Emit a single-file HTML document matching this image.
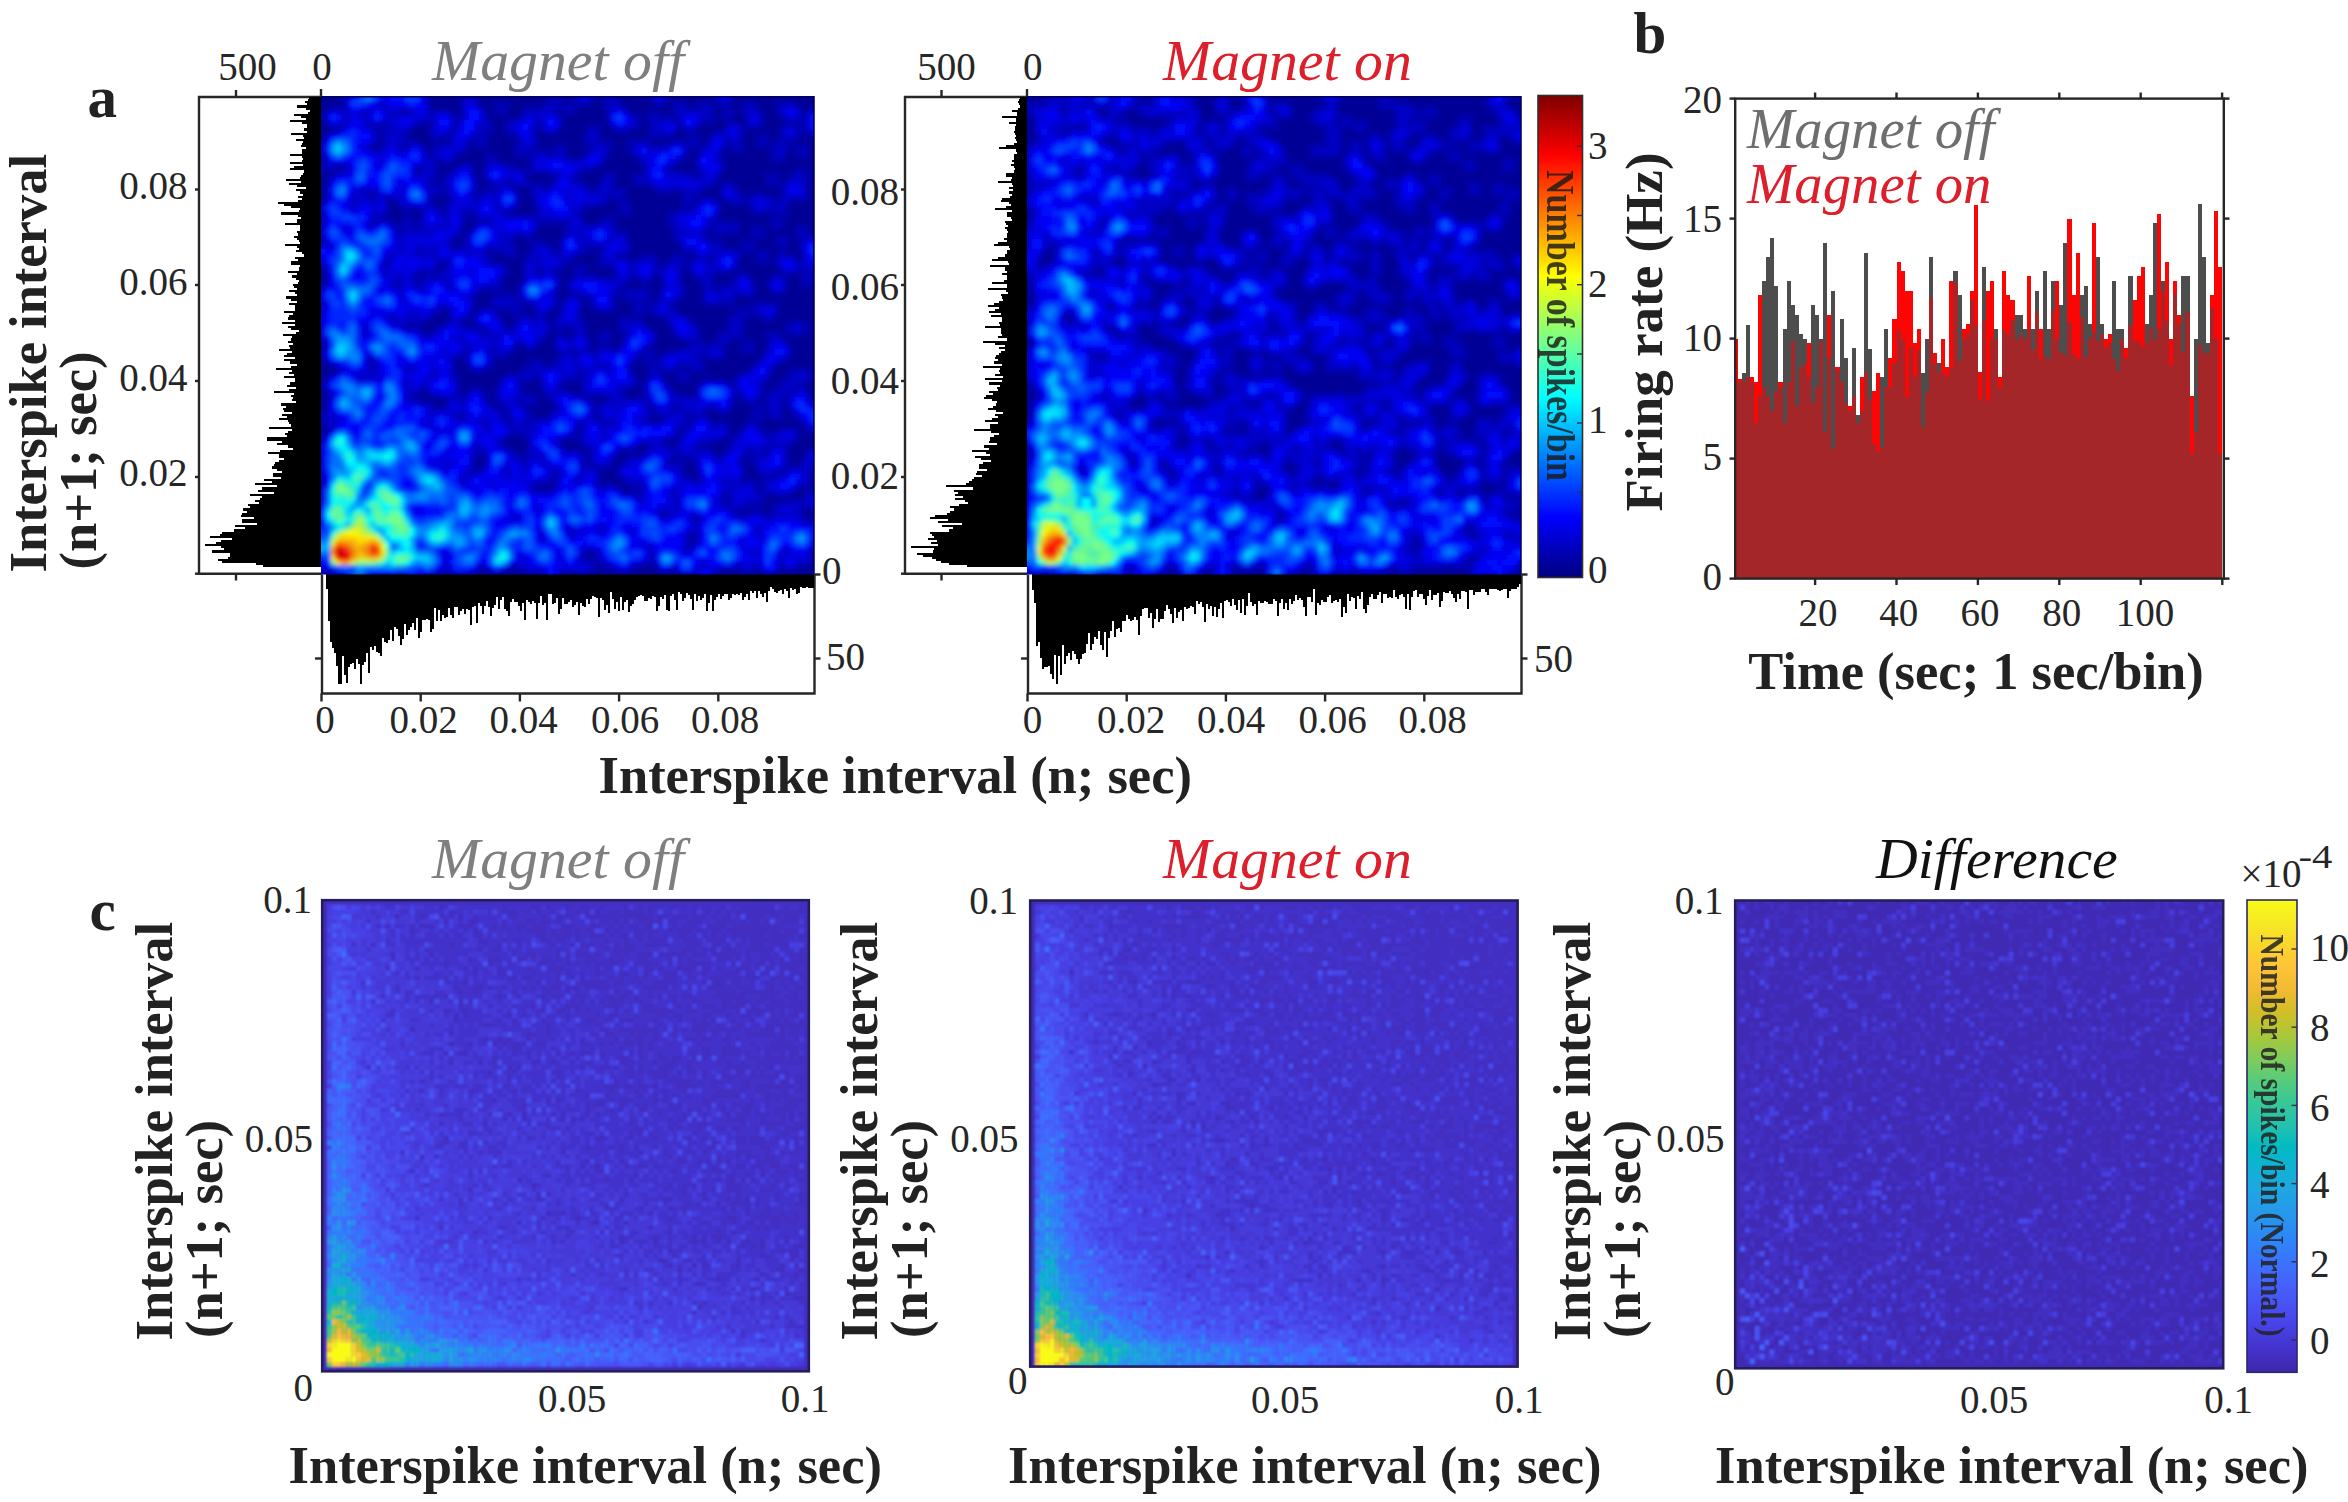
<!DOCTYPE html><html><head><meta charset="utf-8"><title>Figure</title><style>html,body{margin:0;padding:0;background:#fff;overflow:hidden}svg{display:block}</style></head><body><svg width="2348" height="1502" viewBox="0 0 2348 1502"><rect width="2348" height="1502" fill="#fff"/><defs><linearGradient id="gjet" x1="0" y1="0" x2="0" y2="1"><stop offset="0.0000" stop-color="#800000"/><stop offset="0.0625" stop-color="#bf0000"/><stop offset="0.1250" stop-color="#ff0000"/><stop offset="0.1875" stop-color="#ff4000"/><stop offset="0.2500" stop-color="#ff8000"/><stop offset="0.3125" stop-color="#ffbf00"/><stop offset="0.3750" stop-color="#ffff00"/><stop offset="0.4375" stop-color="#bfff40"/><stop offset="0.5000" stop-color="#80ff80"/><stop offset="0.5625" stop-color="#40ffbf"/><stop offset="0.6250" stop-color="#00ffff"/><stop offset="0.6875" stop-color="#00bfff"/><stop offset="0.7500" stop-color="#0080ff"/><stop offset="0.8125" stop-color="#0040ff"/><stop offset="0.8750" stop-color="#0000ff"/><stop offset="0.9375" stop-color="#0000bf"/><stop offset="1.0000" stop-color="#000080"/></linearGradient><linearGradient id="gpar" x1="0" y1="0" x2="0" y2="1"><stop offset="0.0000" stop-color="#f9fb15"/><stop offset="0.0476" stop-color="#f5e924"/><stop offset="0.0952" stop-color="#fad62d"/><stop offset="0.1429" stop-color="#fec338"/><stop offset="0.1905" stop-color="#f0ba33"/><stop offset="0.2381" stop-color="#d1bf27"/><stop offset="0.2857" stop-color="#abc739"/><stop offset="0.3333" stop-color="#81cc59"/><stop offset="0.3810" stop-color="#57cc7a"/><stop offset="0.4286" stop-color="#37c897"/><stop offset="0.4762" stop-color="#24c1ae"/><stop offset="0.5238" stop-color="#02bac3"/><stop offset="0.5714" stop-color="#12b1d6"/><stop offset="0.6190" stop-color="#20a5e3"/><stop offset="0.6667" stop-color="#2797eb"/><stop offset="0.7143" stop-color="#2e87f7"/><stop offset="0.7619" stop-color="#3875fe"/><stop offset="0.8095" stop-color="#4563fd"/><stop offset="0.8571" stop-color="#4852f4"/><stop offset="0.9048" stop-color="#4741e5"/><stop offset="0.9524" stop-color="#4332cb"/><stop offset="1.0000" stop-color="#3e26a8"/></linearGradient></defs><path d="M321 97.0H199V573.7H321" stroke="#262626" stroke-width="2.4" fill="none"/><path d="M236 97L236 90" stroke="#262626" stroke-width="2.4" fill="none"/><path d="M321 97L321 89" stroke="#262626" stroke-width="2.4" fill="none"/><path d="M236 573.7L236 580.5" stroke="#262626" stroke-width="2.4" fill="none"/><path d="M195 573.7L199 573.7" stroke="#262626" stroke-width="2.4" fill="none"/><path d="M199 189.5L195 189.5" stroke="#262626" stroke-width="2.4" fill="none"/><path d="M199 285L195 285" stroke="#262626" stroke-width="2.4" fill="none"/><path d="M199 381L195 381" stroke="#262626" stroke-width="2.4" fill="none"/><path d="M199 477L195 477" stroke="#262626" stroke-width="2.4" fill="none"/><path d="M321.5 573.5H321.5V571.4H321.5V569.3H321.5V567.2H262.86V565.1H255.66V563H221.52V560.91H217.8V558.81H228.39V556.71H229.78V554.61H229.75V552.51H211.95V550.41H224.06V548.31H221.48V546.21H205.43V544.11H216.02V542.01H220.92V539.91H232.3V537.81H209.88V535.72H219.88V533.62H222.37V531.52H233.5V529.42H245.34V527.32H235.12V525.22H257.04V523.12H242.31V521.02H241.59V518.92H253.81V516.82H240.99V514.72H242.14V512.63H246.75V510.53H243.04V508.43H249.81V506.33H248.18V504.23H259.02V502.13H254.83V500.03H259.84V497.93H261.64V495.83H249.51V493.73H274.24V491.63H257.57V489.54H261.86V487.44H276.98V485.34H255.21V483.24H272.03V481.14H264.04V479.04H280.8V476.94H273.44V474.84H273.4V472.74H281.51V470.64H277.03V468.54H271.91V466.44H273.65V464.35H275.17V462.25H278.51V460.15H284.06V458.05H278.54V455.95H278.97V453.85H267.79V451.75H280.34V449.65H292.54V447.55H287.59V445.45H277.05V443.35H281.68V441.26H267.12V439.16H267.15V437.06H286.59V434.96H285.32V432.86H287.52V430.76H292.07V428.66H269.01V426.56H290.93V424.46H289.06V422.36H288.31V420.26H278.62V418.17H287.22V416.07H282.25V413.97H292.25V411.87H283.65V409.77H282.75V407.67H286.21V405.57H281.2V403.47H295.89V401.37H292.41V399.27H293.21V397.17H290.64V395.07H294.18V392.98H273.54V390.88H289.24V388.78H296.14V386.68H287.11V384.58H289.66V382.48H294.98V380.38H295.33V378.28H283.8V376.18H293.65V374.08H289.36V371.98H291.96V369.89H276.26V367.79H291.22V365.69H297.05V363.59H290.25V361.49H284.03V359.39H294.7V357.29H283.6V355.19H286.91V353.09H291.69V350.99H278.65V348.89H289.71V346.8H288.69V344.7H293.21V342.6H287.9V340.5H291.3V338.4H291.61V336.3H283.4V334.2H295.64V332.1H299.18V330H290.59V327.9H288.03V325.8H294.95V323.7H282.05V321.61H294.5V319.51H287.55V317.41H288.62V315.31H292.84V313.21H283.98V311.11H294.72V309.01H294.88V306.91H294.6V304.81H288.64V302.71H296.77V300.61H290.79V298.52H286.44V296.42H296.86V294.32H295.09V292.22H288.95V290.12H296.54V288.02H293.54V285.92H293.17V283.82H297.63V281.72H299.22V279.62H295.93V277.52H292.26V275.43H297.04V273.33H288.27V271.23H299.26V269.13H299.1V267.03H299.88V264.93H290.65V262.83H291.43V260.73H298.47V258.63H294.64V256.53H303.51V254.43H302V252.33H295.77V250.24H299.34V248.14H296.85V246.04H284.9V243.94H300.28V241.84H298.51V239.74H297.29V237.64H293.64V235.54H298.47V233.44H297.18V231.34H300.12V229.24H299.54V227.15H299.54V225.05H285.14V222.95H297.14V220.85H296.94V218.75H300.74V216.65H298.36V214.55H281.42V212.45H299.26V210.35H300.38V208.25H290.61V206.15H284.43V204.06H278.1V201.96H297.73V199.86H301.94V197.76H298.05V195.66H302.57V193.56H300.47V191.46H295.95V189.36H306V187.26H297.37V185.16H289.31V183.06H300.94V180.96H285.86V178.87H300.29V176.77H300.52V174.67H303.36V172.57H303.99V170.47H289.69V168.37H294.24V166.27H303.45V164.17H290.17V162.07H302.11V159.97H302.96V157.87H302.12V155.78H290.26V153.68H302.38V151.58H302.34V149.48H305.55V147.38H301.38V145.28H302.37V143.18H302.9V141.08H295.67V138.98H303.52V136.88H303.18V134.78H291.41V132.69H306.52V130.59H304.4V128.49H306.73V126.39H307.11V124.29H302.1V122.19H289.99V120.09H305.65V117.99H301.34V115.89H293.89V113.79H308.24V111.69H309.75V109.59H306.19V107.5H296.77V105.4H306.63V103.3H304.79V101.2H308.01V99.1H308.92V97H321.5Z" fill="#000" shape-rendering="crispEdges"/><path d="M322 574.5V693.5H814.5V574.5" stroke="#262626" stroke-width="2.4" fill="none"/><path d="M321.5 693.5L321.5 701.5" stroke="#262626" stroke-width="2.4" fill="none"/><path d="M420.7 693.5L420.7 701.5" stroke="#262626" stroke-width="2.4" fill="none"/><path d="M519.9 693.5L519.9 701.5" stroke="#262626" stroke-width="2.4" fill="none"/><path d="M619.1 693.5L619.1 701.5" stroke="#262626" stroke-width="2.4" fill="none"/><path d="M718.3 693.5L718.3 701.5" stroke="#262626" stroke-width="2.4" fill="none"/><path d="M322 658.5L315 658.5" stroke="#262626" stroke-width="2.4" fill="none"/><path d="M814.5 658.5L820.5 658.5" stroke="#262626" stroke-width="2.4" fill="none"/><path d="M814.5 574.5L820.5 574.5" stroke="#262626" stroke-width="2.4" fill="none"/><path d="M322 574V574H324V574H326V588.57H328V621.01H330V642H332V648.03H334V653.24H336V665.89H338V684H340V684H342V656.24H344V674.94H346V683.05H348V667.49H350V663.64H352V662.52H354V669.29H356V658.82H358V663.82H360V684H362V664.57H364V661.73H366V652.51H368V673.16H370V646.8H372V650.22H374V645.94H376V651.76H378V652.81H380V656.48H382V638.06H384V641.99H386V643.37H388V639.91H390V630.34H392V640.51H394V626.61H396V629.37H398V635.88H400V645.49H402V638.96H404V623.51H406V634.76H408V630.11H410V626.51H412V623.29H414V629.6H416V618.49H418V638.3H420V632.37H422V620.03H424V619.63H426V619.01H428V620.39H430V631.82H432V629.18H434V607.75H436V620.72H438V610.04H440V621.23H442V614.93H444V618.18H446V616.73H448V607.51H450V614.93H452V618.06H454V606.88H456V606.53H458V615.3H460V611.12H462V608.77H464V613.92H466V609.43H468V610.45H470V625.47H472V607.24H474V606.32H476V622.8H478V603.27H480V605.86H482V614.03H484V606.35H486V600.64H488V607.08H490V615.68H492V607.81H494V605.37H496V596.83H498V609.13H500V599.67H502V596.79H504V609.12H506V610.87H508V616.42H510V601.96H512V598.58H514V602.39H516V602.21H518V605.72H520V610.97H522V603.38H524V620.18H526V600.45H528V602.36H530V603.67H532V600.97H534V603.13H536V618.96H538V602.8H540V596.4H542V605.23H544V602.93H546V619.89H548V594.26H550V593.52H552V603.73H554V602.57H556V598.1H558V614.32H560V609.49H562V598.33H564V603.78H566V603.8H568V602.2H570V600.14H572V606.96H574V605.19H576V602.46H578V614.91H580V603.49H582V605.57H584V606.97H586V598.74H588V604.27H590V598.51H592V596.37H594V596.78H596V598.22H598V616.74H600V597.75H602V599.71H604V610.47H606V605.17H608V613.03H610V592.32H612V598.94H614V608.98H616V601.7H618V611.13H620V597.12H622V609.95H624V602.22H626V599.83H628V611.51H630V606.38H632V603.69H634V599.8H636V597.32H638V596.26H640V594.7H642V595.61H644V600.93H646V601.04H648V597.65H650V598.93H652V595.89H654V597.12H656V610.87H658V606H660V597.15H662V598.57H664V594.88H666V609.91H668V610.91H670V595.53H672V593.77H674V599.72H676V610.08H678V592.14H680V593.92H682V600.75H684V598.11H686V593.15H688V594.96H690V598.75H692V609.74H694V593.64H696V600.85H698V595.86H700V600.03H702V598.4H704V594.21H706V611.12H708V602.95H710V595.36H712V611.02H714V600.35H716V597.31H718V594.01H720V598.94H722V596.03H724V594.17H726V594.36H728V600.26H730V597.6H732V593.64H734V594.96H736V593.96H738V595.06H740V593.21H742V600.19H744V597.18H746V593.82H748V600.08H750V590.68H752V592.95H754V590.69H756V598H758V591.35H760V593.61H762V597.2H764V592.72H766V601.86H768V591.08H770V587.24H772V589.45H774V591.81H776V592.52H778V590.7H780V590.4H782V594H784V588.65H786V591.23H788V598.46H790V588.29H792V590.46H794V589.12H796V594.48H798V593.09H800V586.72H802V588.25H804V588.13H806V586.51H808V588.16H810V587.56H812V587.64H814V574Z" fill="#000" shape-rendering="crispEdges"/><filter id="bla11" x="-5%" y="-5%" width="110%" height="110%"><feGaussianBlur stdDeviation="2.0"/></filter><clipPath id="cpa11"><rect x="321" y="96" width="493.5" height="478.5"/></clipPath><g clip-path="url(#cpa11)"><g filter="url(#bla11)"><rect x="309" y="84" width="517.5" height="502.5" fill="#000097"/><g transform="translate(321,574.5) scale(4.9350,-4.7850) translate(0,0.5)" fill="none" stroke-width="1.08"><path stroke="#0000af" d="M-2 0h4M24 0h3M31 0h1M34 0h1M36 0h1M41 0h1M43 0h2M49 0h3M54 0h2M60 0h3M69 0h2M72 0h1M80 0h1M85 0h3M89 0h1M92 0h1M32 1h1M38 1h2M55 1h1M57 1h2M63 1h1M84 1h1M88 1h1M93 1h1M96 1h1M55 2h2M66 2h2M99 2h3M53 3h1M55 3h1M99 3h3M53 4h1M55 4h1M99 4h3M74 5h1M74 6h2M74 7h1M74 8h2M75 11h2M98 11h4M69 12h2M84 12h3M89 12h3M97 12h1M83 13h3M87 13h2M91 13h1M97 13h1M99 13h3M82 14h1M86 14h4M91 14h2M98 14h1M81 15h2M89 15h1M94 15h4M64 16h1M81 16h2M89 16h2M92 16h3M98 16h1M43 17h4M63 17h2M88 17h2M96 17h1M98 17h4M43 18h1M47 18h1M56 18h2M59 18h1M62 18h3M88 18h2M97 18h5M-2 19h3M46 19h2M56 19h1M61 19h1M75 19h2M85 19h3M89 19h1M99 19h3M47 20h1M56 20h1M60 20h1M73 20h2M76 20h1M85 20h1M89 20h4M99 20h3M30 21h2M47 21h1M56 21h1M73 21h1M76 21h1M88 21h1M92 21h3M99 21h3M53 22h6M60 22h1M73 22h1M85 22h1M94 22h3M33 23h1M41 23h1M53 23h2M61 23h1M70 23h4M75 23h1M85 23h1M87 23h1M94 23h1M97 23h1M31 24h1M33 24h1M40 24h2M53 24h2M59 24h1M62 24h3M71 24h4M80 24h1M85 24h3M94 24h1M31 25h2M39 25h1M41 25h1M50 25h1M52 25h1M54 25h1M60 25h1M62 25h2M65 25h1M72 25h1M79 25h1M86 25h2M89 25h2M94 25h1M98 25h1M37 26h1M53 26h2M63 26h1M66 26h1M70 26h2M76 26h3M82 26h1M90 26h1M94 26h1M36 27h1M48 27h1M52 27h1M65 27h1M69 27h1M72 27h1M77 27h3M91 27h1M95 27h1M-2 28h3M37 28h1M41 28h1M49 28h4M70 28h3M81 28h3M96 28h1M1 29h1M38 29h4M51 29h2M72 29h2M82 29h1M84 29h1M89 29h3M96 29h1M99 29h3M1 30h1M52 30h1M72 30h3M82 30h1M85 30h1M89 30h1M93 30h4M98 30h1M-2 31h3M33 31h1M38 31h1M41 31h1M52 31h1M57 31h1M68 31h1M74 31h1M79 31h4M86 31h1M88 31h1M97 31h1M-2 32h3M28 32h1M37 32h2M42 32h4M55 32h2M66 32h1M69 32h1M74 32h2M78 32h1M87 32h3M91 32h3M96 32h1M-2 33h3M28 33h1M36 33h2M42 33h1M46 33h1M55 33h2M66 33h3M74 33h2M77 33h1M81 33h1M87 33h1M89 33h2M93 33h1M95 33h1M23 34h2M35 34h3M41 34h1M47 34h1M55 34h1M66 34h2M71 34h2M78 34h2M87 34h4M93 34h1M22 35h1M25 35h1M34 35h1M36 35h1M40 35h4M47 35h1M55 35h2M66 35h1M71 35h1M83 35h1M87 35h4M93 35h2M1 36h1M18 36h2M25 36h1M28 36h1M33 36h1M35 36h1M40 36h1M43 36h1M46 36h1M54 36h1M58 36h1M62 36h2M65 36h1M83 36h1M85 36h1M88 36h1M90 36h1M93 36h2M99 36h3M1 37h1M18 37h2M22 37h1M27 37h3M33 37h1M35 37h1M41 37h3M45 37h1M51 37h7M61 37h1M65 37h1M72 37h2M75 37h1M84 37h1M89 37h2M94 37h1M20 38h2M30 38h1M32 38h1M35 38h1M40 38h1M48 38h2M61 38h1M65 38h1M89 38h1M91 38h2M95 38h1M98 38h1M-2 39h3M40 39h1M44 39h1M48 39h1M63 39h1M65 39h1M70 39h1M76 39h1M83 39h1M89 39h1M92 39h2M96 39h2M27 40h1M36 40h1M40 40h3M44 40h1M49 40h4M69 40h1M72 40h3M77 40h5M83 40h1M90 40h1M93 40h2M98 40h4M27 41h1M37 41h1M39 41h1M43 41h1M52 41h2M63 41h1M66 41h1M72 41h1M74 41h1M84 41h1M94 41h1M99 41h3M3 42h1M31 42h2M40 42h2M52 42h1M66 42h1M68 42h10M86 42h1M91 42h1M95 42h2M98 42h4M2 43h1M10 43h1M34 43h1M41 43h2M45 43h2M57 43h1M62 43h1M66 43h1M68 43h1M72 43h3M77 43h1M87 43h1M10 44h1M29 44h1M42 44h3M47 44h1M63 44h1M65 44h4M77 44h1M88 44h1M93 44h1M-2 45h3M27 45h3M35 45h3M48 45h1M51 45h1M64 45h2M67 45h2M76 45h3M81 45h1M89 45h1M-2 46h3M29 46h1M34 46h1M38 46h1M48 46h1M50 46h2M54 46h2M65 46h3M70 46h2M77 46h1M85 46h3M95 46h1M39 47h1M41 47h1M43 47h1M47 47h1M54 47h1M56 47h3M60 47h1M66 47h1M74 47h1M78 47h1M81 47h1M85 47h1M87 47h1M90 47h1M-2 48h3M40 48h1M44 48h1M47 48h1M54 48h1M56 48h3M67 48h1M74 48h4M79 48h2M82 48h1M85 48h3M90 48h1M94 48h1M45 49h1M47 49h1M49 49h2M56 49h1M58 49h1M61 49h1M72 49h1M76 49h1M80 49h1M83 49h3M90 49h1M93 49h1M20 50h1M22 50h1M32 50h2M48 50h1M51 50h1M53 50h1M56 50h3M61 50h1M67 50h1M71 50h1M76 50h1M80 50h3M85 50h1M90 50h3M94 50h2M97 50h2M17 51h3M23 51h1M29 51h4M37 51h2M46 51h5M53 51h1M60 51h1M66 51h1M76 51h1M82 51h1M85 51h1M94 51h1M98 51h1M17 52h4M25 52h1M28 52h1M31 52h1M39 52h1M46 52h2M53 52h1M60 52h1M65 52h1M70 52h1M75 52h1M82 52h1M85 52h1M94 52h2M97 52h2M14 53h1M22 53h1M26 53h1M29 53h2M36 53h1M39 53h2M42 53h2M45 53h1M47 53h1M52 53h1M60 53h5M69 53h1M74 53h1M82 53h2M85 53h2M89 53h1M91 53h1M23 54h1M30 54h2M35 54h1M38 54h4M43 54h1M45 54h1M48 54h1M52 54h1M63 54h3M67 54h1M72 54h1M83 54h2M86 54h2M92 54h1M24 55h2M30 55h1M32 55h7M40 55h1M48 55h1M52 55h1M55 55h1M59 55h1M63 55h1M65 55h2M71 55h1M84 55h4M92 55h1M-2 56h3M34 56h1M40 56h3M47 56h2M54 56h1M59 56h1M63 56h1M65 56h3M71 56h1M78 56h6M87 56h6M34 57h1M39 57h2M49 57h1M52 57h1M54 57h1M59 57h1M61 57h6M68 57h1M72 57h1M77 57h1M83 57h1M31 58h1M35 58h5M47 58h1M50 58h3M59 58h3M66 58h1M68 58h1M73 58h1M77 58h1M84 58h2M87 58h1M92 58h1M32 59h5M50 59h1M60 59h7M73 59h1M77 59h1M79 59h2M-2 60h3M15 60h1M19 60h1M36 60h1M40 60h1M48 60h1M61 60h1M65 60h1M69 60h1M73 60h1M77 60h1M79 60h1M81 60h3M87 60h1M90 60h1M94 60h1M97 60h5M19 61h2M36 61h1M48 61h1M50 61h1M62 61h1M64 61h1M66 61h1M76 61h1M79 61h1M83 61h1M87 61h1M97 61h1M99 61h3M19 62h1M21 62h3M37 62h1M44 62h1M47 62h1M51 62h1M53 62h3M59 62h1M63 62h1M67 62h2M75 62h1M79 62h1M84 62h1M86 62h1M92 62h3M97 62h1M99 62h3M20 63h1M22 63h3M37 63h1M44 63h1M47 63h2M51 63h1M53 63h1M59 63h1M68 63h1M74 63h1M80 63h1M83 63h1M93 63h1M96 63h2M99 63h3M-2 64h3M13 64h1M23 64h1M25 64h1M37 64h1M49 64h1M51 64h3M56 64h3M68 64h2M73 64h2M84 64h1M92 64h1M13 65h1M24 65h2M34 65h1M41 65h1M50 65h1M56 65h1M62 65h2M70 65h1M73 65h3M78 65h1M84 65h1M88 65h3M96 65h2M33 66h2M37 66h3M41 66h1M51 66h1M56 66h1M60 66h2M65 66h3M71 66h3M75 66h1M78 66h2M88 66h1M90 66h1M92 66h1M94 66h2M97 66h1M20 67h1M33 67h4M39 67h1M42 67h1M47 67h2M53 67h2M56 67h1M62 67h1M73 67h3M84 67h7M93 67h1M97 67h1M26 68h1M28 68h2M39 68h1M42 68h1M46 68h1M48 68h1M54 68h3M62 68h1M81 68h1M85 68h1M87 68h1M92 68h3M-2 69h3M26 69h1M38 69h1M42 69h3M48 69h1M62 69h1M72 69h1M79 69h3M85 69h3M92 69h1M94 69h1M97 69h1M-2 70h3M27 70h1M29 70h1M39 70h1M41 70h2M71 70h1M78 70h1M80 70h1M87 70h3M92 70h3M96 70h1M98 70h4M15 71h2M28 71h1M43 71h1M49 71h1M60 71h2M71 71h1M77 71h1M79 71h6M87 71h1M89 71h1M96 71h1M98 71h1M15 72h2M18 72h3M28 72h1M49 72h1M59 72h1M71 72h1M78 72h2M84 72h1M87 72h3M91 72h3M96 72h3M-2 73h3M10 73h1M14 73h1M16 73h1M18 73h2M31 73h3M44 73h6M53 73h1M56 73h1M59 73h1M70 73h1M79 73h6M91 73h1M93 73h1M-2 74h3M11 74h2M16 74h3M20 74h1M29 74h1M31 74h1M43 74h1M57 74h3M70 74h1M80 74h1M91 74h3M13 75h1M17 75h1M20 75h1M24 75h2M29 75h2M37 75h2M43 75h1M52 75h1M60 75h3M70 75h2M80 75h1M87 75h8M13 76h1M16 76h5M23 76h3M39 76h1M43 76h1M53 76h1M60 76h1M62 76h1M73 76h3M87 76h1M91 76h1M94 76h1M-2 77h3M13 77h1M15 77h1M22 77h1M25 77h1M43 77h1M56 77h2M60 77h3M73 77h4M80 77h1M83 77h4M92 77h1M94 77h1M10 78h1M13 78h2M22 78h1M31 78h1M40 78h1M58 78h4M73 78h1M75 78h5M81 78h1M85 78h2M91 78h3M95 78h4M9 79h2M22 79h4M31 79h2M42 79h1M58 79h1M61 79h1M73 79h1M75 79h2M85 79h1M87 79h3M93 79h1M98 79h1M24 80h2M31 80h1M33 80h3M39 80h1M42 80h1M45 80h1M54 80h2M59 80h3M67 80h1M71 80h2M77 80h1M84 80h1M93 80h1M98 80h1M1 81h1M22 81h3M31 81h1M34 81h2M38 81h2M41 81h4M46 81h1M53 81h1M56 81h1M59 81h1M63 81h4M79 81h1M81 81h1M83 81h1M90 81h4M98 81h1M1 82h1M22 82h2M31 82h1M33 82h1M37 82h1M47 82h1M51 82h1M59 82h1M63 82h1M80 82h1M90 82h1M92 82h1M94 82h1M98 82h1M2 83h1M19 83h1M23 83h1M25 83h1M41 83h1M46 83h2M51 83h2M57 83h3M63 83h3M74 83h3M80 83h1M90 83h3M95 83h1M98 83h1M-2 84h7M19 84h2M23 84h1M26 84h1M40 84h3M53 84h2M65 84h1M70 84h2M76 84h1M81 84h1M96 84h3M-2 85h3M3 85h2M23 85h1M28 85h1M30 85h1M33 85h1M37 85h2M42 85h1M56 85h1M65 85h1M71 85h1M81 85h1M-2 86h3M23 86h2M26 86h1M33 86h1M35 86h1M42 86h1M51 86h1M57 86h1M64 86h1M72 86h1M81 86h1M91 86h3M-2 87h3M21 87h2M27 87h1M33 87h3M39 87h4M46 87h1M49 87h1M53 87h1M63 87h1M76 87h1M91 87h1M96 87h3M11 88h1M21 88h2M29 88h1M39 88h1M42 88h6M49 88h1M54 88h1M58 88h1M62 88h1M74 88h1M76 88h1M81 88h1M83 88h3M91 88h1M94 88h1M96 88h1M98 88h1M10 89h1M12 89h1M16 89h2M20 89h1M22 89h3M29 89h1M31 89h3M39 89h1M43 89h1M47 89h3M53 89h2M58 89h1M62 89h1M67 89h3M74 89h4M82 89h2M85 89h1M88 89h4M94 89h5M-2 90h3M11 90h2M17 90h2M23 90h1M25 90h2M30 90h2M33 90h1M53 90h1M56 90h3M62 90h5M71 90h4M76 90h1M78 90h1M82 90h1M85 90h1M88 90h1M90 90h1M92 90h1M94 90h2M11 91h2M17 91h1M22 91h1M24 91h2M31 91h1M33 91h1M39 91h1M43 91h1M53 91h1M56 91h1M66 91h5M74 91h3M85 91h1M88 91h3M93 91h1M96 91h1M99 91h3M2 92h1M11 92h2M17 92h1M26 92h1M32 92h3M37 92h1M43 92h1M45 92h1M47 92h1M56 92h1M60 92h2M66 92h1M74 92h2M80 92h2M85 92h1M97 92h2M2 93h2M10 93h4M18 93h1M22 93h1M27 93h1M34 93h1M37 93h1M43 93h2M48 93h1M54 93h3M64 93h1M66 93h1M72 93h2M76 93h1M85 93h4M93 93h1M96 93h2M20 94h3M27 94h1M34 94h1M37 94h1M44 94h1M64 94h1M66 94h1M72 94h1M77 94h3M82 94h2M89 94h1M94 94h4M-2 95h3M27 95h2M33 95h1M40 95h1M48 95h1M64 95h1M66 95h1M68 95h5M79 95h1M81 95h3M89 95h1M93 95h1M97 95h1M16 96h2M22 96h1M26 96h1M28 96h1M33 96h1M35 96h3M47 96h5M62 96h1M66 96h3M71 96h1M79 96h1M81 96h1M83 96h1M85 96h1M89 96h1M92 96h1M97 96h2M2 97h3M22 97h1M28 97h1M32 97h1M35 97h1M37 97h1M41 97h4M48 97h2M51 97h1M57 97h1M61 97h1M71 97h1M74 97h3M79 97h1M81 97h3M85 97h1M88 97h1M92 97h1M99 97h3M4 98h1M28 98h1M35 98h3M45 98h2M48 98h5M54 98h1M57 98h1M60 98h1M67 98h1M69 98h1M71 98h3M76 98h3M80 98h1M82 98h1M85 98h3M92 98h4M28 99h3M46 99h3M51 99h1M55 99h1M57 99h3M70 99h1M79 99h1M83 99h1"/><path stroke="#0000c7" d="M2 0h1M23 0h1M30 0h1M35 0h1M42 0h1M48 0h1M52 0h2M75 0h1M79 0h1M91 0h1M25 1h1M33 1h1M40 1h2M54 1h1M59 1h1M62 1h1M68 1h1M71 1h1M76 1h2M81 1h3M85 1h1M87 1h1M92 1h1M94 1h2M52 2h3M57 2h1M65 2h1M77 2h1M88 2h1M93 2h1M96 2h3M52 3h1M56 3h1M66 3h2M93 3h1M56 4h1M66 4h2M74 4h1M87 4h2M93 4h2M53 5h2M66 5h1M73 5h1M75 5h1M99 5h3M76 6h1M44 7h1M76 7h1M50 8h2M76 8h1M88 8h1M50 9h1M56 9h2M75 9h2M88 9h1M75 10h2M98 10h1M39 11h1M69 11h1M85 11h1M90 11h2M97 11h1M68 12h1M71 12h1M75 12h2M83 12h1M87 12h2M92 12h5M68 13h5M82 13h1M92 13h1M96 13h1M71 14h2M81 14h1M83 14h3M93 14h5M64 15h1M71 15h2M80 15h1M83 15h1M86 15h3M98 15h1M61 16h3M65 16h1M71 16h2M83 16h1M88 16h1M42 17h1M47 17h1M60 17h1M65 17h1M71 17h2M81 17h3M87 17h1M90 17h2M95 17h1M-2 18h3M42 18h1M58 18h1M65 18h1M81 18h5M87 18h1M90 18h1M96 18h1M28 19h2M43 19h3M51 19h2M55 19h1M62 19h3M73 19h2M77 19h1M81 19h4M90 19h2M98 19h1M-2 20h3M28 20h3M37 20h1M46 20h1M48 20h1M52 20h1M61 20h1M93 20h1M98 20h1M-2 21h3M29 21h1M32 21h1M37 21h1M41 21h1M46 21h1M48 21h1M53 21h1M55 21h1M60 21h1M72 21h1M85 21h1M89 21h3M97 21h2M25 22h1M30 22h1M33 22h1M37 22h1M41 22h1M45 22h2M61 22h1M70 22h3M76 22h1M88 22h1M93 22h1M97 22h5M30 23h1M40 23h1M44 23h2M55 23h1M58 23h1M62 23h1M76 23h1M80 23h1M84 23h1M88 23h1M98 23h1M39 24h1M42 24h3M52 24h1M65 24h1M70 24h1M75 24h2M79 24h1M81 24h1M88 24h3M98 24h1M30 25h1M33 25h1M38 25h1M42 25h2M49 25h1M51 25h1M55 25h1M66 25h1M70 25h2M73 25h6M82 25h1M85 25h1M88 25h1M31 26h2M36 26h1M42 26h1M48 26h1M60 26h3M67 26h3M72 26h1M75 26h1M83 26h1M86 26h4M91 26h3M-2 27h3M31 27h1M42 27h1M47 27h1M53 27h1M64 27h1M66 27h3M76 27h1M83 27h1M90 27h1M92 27h3M36 28h1M42 28h1M48 28h1M57 28h1M69 28h1M73 28h1M77 28h1M79 28h2M84 28h1M90 28h3M42 29h1M53 29h1M57 29h1M71 29h1M85 29h1M92 29h2M2 30h1M33 30h1M38 30h6M51 30h1M53 30h1M57 30h1M59 30h1M79 30h1M88 30h1M1 31h2M21 31h1M32 31h1M37 31h1M39 31h2M42 31h2M53 31h1M56 31h1M58 31h2M65 31h3M72 31h2M75 31h1M87 31h1M98 31h1M1 32h2M27 32h1M29 32h1M32 32h2M36 32h1M41 32h1M46 32h1M54 32h1M57 32h3M64 32h2M70 32h1M73 32h1M76 32h2M97 32h1M1 33h2M22 33h1M26 33h2M29 33h1M38 33h1M41 33h1M47 33h1M69 33h5M76 33h1M88 33h1M91 33h2M96 33h1M1 34h1M22 34h1M25 34h1M28 34h1M34 34h1M38 34h1M48 34h1M56 34h1M59 34h1M68 34h1M70 34h1M73 34h3M77 34h1M80 34h1M82 34h1M91 34h2M95 34h1M1 35h1M20 35h2M28 35h1M33 35h1M37 35h1M39 35h1M54 35h1M57 35h5M65 35h1M67 35h1M72 35h2M75 35h1M78 35h2M92 35h1M99 35h3M17 36h1M26 36h2M29 36h1M36 36h2M39 36h1M41 36h2M47 36h1M53 36h1M59 36h3M64 36h1M66 36h1M71 36h6M86 36h2M91 36h2M2 37h1M17 37h1M23 37h4M32 37h1M40 37h1M46 37h2M50 37h1M58 37h3M71 37h1M76 37h1M83 37h1M85 37h1M88 37h1M91 37h3M95 37h1M98 37h1M1 38h1M17 38h3M27 38h1M31 38h1M45 38h1M47 38h1M53 38h1M60 38h1M70 38h1M76 38h1M83 38h2M93 38h2M96 38h2M17 39h1M20 39h2M27 39h1M36 39h1M45 39h1M53 39h1M60 39h3M82 39h1M84 39h1M94 39h2M1 40h1M8 40h1M17 40h1M21 40h1M48 40h1M53 40h1M63 40h1M66 40h1M84 40h1M89 40h1M95 40h3M2 41h1M7 41h5M22 41h2M26 41h1M38 41h1M40 41h3M44 41h1M49 41h3M67 41h2M73 41h1M85 41h1M90 41h1M95 41h2M98 41h1M9 42h3M17 42h2M22 42h2M26 42h1M42 42h4M48 42h1M51 42h1M53 42h2M58 42h1M62 42h1M67 42h1M87 42h1M97 42h1M3 43h1M9 43h1M11 43h1M17 43h2M26 43h1M30 43h1M33 43h1M43 43h2M47 43h2M51 43h2M55 43h2M58 43h1M67 43h1M69 43h1M71 43h1M75 43h2M88 43h1M91 43h1M1 44h1M9 44h1M26 44h1M34 44h1M48 44h1M51 44h1M55 44h2M72 44h5M89 44h1M92 44h1M9 45h1M26 45h1M34 45h1M49 45h2M52 45h1M55 45h1M63 45h1M66 45h1M69 45h1M75 45h1M79 45h2M94 45h1M28 46h1M30 46h1M35 46h3M49 46h1M52 46h2M56 46h1M58 46h2M64 46h1M72 46h5M78 46h1M81 46h1M90 46h1M29 47h2M34 47h2M42 47h1M50 47h2M53 47h1M65 47h1M75 47h3M79 47h2M86 47h1M94 47h1M28 48h2M34 48h2M39 48h1M43 48h1M50 48h1M61 48h1M81 48h1M91 48h1M93 48h1M-2 49h3M20 49h3M27 49h2M32 49h4M44 49h1M48 49h1M51 49h1M53 49h1M57 49h1M67 49h1M73 49h3M81 49h2M91 49h2M9 50h1M23 50h1M31 50h1M34 50h6M45 50h1M52 50h1M62 50h1M83 50h2M96 50h1M8 51h1M16 51h1M24 51h1M28 51h1M33 51h1M39 51h1M45 51h1M51 51h2M61 51h2M65 51h1M71 51h1M75 51h1M83 51h2M95 51h1M97 51h1M14 52h3M26 52h2M36 52h1M43 52h1M45 52h1M48 52h5M61 52h4M74 52h1M83 52h2M96 52h1M13 53h1M15 53h1M17 53h5M28 53h1M31 53h1M41 53h1M44 53h1M48 53h1M70 53h1M73 53h1M84 53h1M90 53h1M-2 54h3M18 54h2M22 54h1M26 54h1M29 54h1M44 54h1M68 54h4M85 54h1M88 54h2M-2 55h3M23 55h1M26 55h1M39 55h1M43 55h1M46 55h1M49 55h1M56 55h3M64 55h1M67 55h1M70 55h1M88 55h1M24 56h1M30 56h1M35 56h5M43 56h1M49 56h1M52 56h1M55 56h1M64 56h1M68 56h1M70 56h1M16 57h1M30 57h1M35 57h4M41 57h1M47 57h1M50 57h2M69 57h1M71 57h1M80 57h3M30 58h1M40 58h1M53 58h2M62 58h4M72 58h1M80 58h2M83 58h1M86 58h1M-2 59h3M15 59h2M19 59h2M26 59h1M31 59h1M40 59h1M47 59h1M51 59h1M59 59h1M69 59h1M78 59h1M81 59h4M87 59h1M91 59h1M93 59h1M1 60h1M14 60h1M16 60h1M18 60h1M20 60h1M25 60h2M33 60h3M50 60h1M60 60h1M72 60h1M78 60h1M1 61h1M14 61h3M18 61h1M21 61h5M41 61h1M51 61h1M56 61h6M65 61h1M69 61h1M72 61h1M77 61h2M84 61h1M91 61h1M93 61h1M98 61h1M1 62h1M13 62h1M15 62h2M18 62h1M24 62h2M36 62h1M41 62h1M43 62h1M45 62h1M52 62h1M60 62h1M62 62h1M64 62h1M69 62h1M72 62h1M76 62h3M85 62h1M98 62h1M1 63h1M12 63h2M19 63h1M21 63h1M25 63h1M41 63h1M43 63h1M45 63h2M52 63h1M62 63h2M67 63h1M69 63h1M72 63h1M75 63h1M78 63h2M81 63h2M94 63h2M98 63h1M12 64h1M34 64h3M41 64h1M43 64h2M47 64h2M59 64h1M62 64h2M67 64h1M70 64h3M75 64h1M78 64h2M96 64h6M14 65h1M23 65h1M33 65h1M42 65h3M48 65h2M57 65h5M64 65h2M67 65h1M71 65h2M76 65h2M79 65h1M92 65h1M13 66h2M19 66h5M42 66h3M46 66h5M57 66h1M59 66h1M76 66h2M80 66h1M84 66h1M89 66h1M93 66h1M14 67h3M19 67h1M21 67h3M26 67h7M37 67h2M43 67h1M46 67h1M52 67h1M57 67h1M60 67h2M79 67h5M1 68h1M16 68h1M19 68h2M22 68h2M33 68h6M43 68h3M52 68h2M57 68h1M73 68h1M79 68h2M86 68h1M97 68h1M15 69h2M25 69h1M29 69h1M36 69h2M52 69h3M58 69h1M61 69h1M78 69h1M93 69h1M15 70h2M26 70h1M36 70h3M49 70h1M52 70h2M58 70h2M61 70h1M72 70h1M77 70h1M97 70h1M-2 71h3M17 71h6M27 71h1M30 71h1M36 71h1M39 71h2M42 71h1M50 71h3M59 71h1M72 71h5M88 71h1M97 71h1M-2 72h3M10 72h1M14 72h1M17 72h1M21 72h5M31 72h1M43 72h1M50 72h1M52 72h4M58 72h1M72 72h2M80 72h4M11 73h3M17 73h1M20 73h1M25 73h1M28 73h1M34 73h1M43 73h1M50 73h1M52 73h1M57 73h2M71 73h1M78 73h1M92 73h1M10 74h1M24 74h2M28 74h1M32 74h3M37 74h6M44 74h4M49 74h2M52 74h1M71 74h1M79 74h1M-2 75h3M10 75h3M28 75h1M31 75h1M36 75h1M44 75h1M51 75h1M72 75h4M-2 76h3M6 76h1M21 76h2M28 76h4M35 76h2M38 76h1M44 76h1M51 76h2M61 76h1M80 76h1M89 76h2M92 76h2M6 77h2M10 77h1M16 77h1M21 77h1M26 77h1M31 77h1M35 77h1M39 77h1M53 77h3M87 77h1M91 77h1M93 77h1M1 78h1M6 78h2M9 78h1M11 78h2M15 78h2M26 78h1M30 78h1M32 78h1M35 78h1M43 78h1M50 78h1M57 78h1M74 78h1M82 78h3M87 78h1M89 78h2M94 78h1M1 79h1M6 79h3M11 79h1M26 79h1M30 79h1M33 79h3M39 79h1M43 79h1M54 79h4M59 79h2M74 79h1M81 79h1M84 79h1M1 80h1M8 80h3M16 80h1M21 80h3M36 80h1M38 80h1M43 80h2M46 80h1M53 80h1M56 80h1M58 80h1M68 80h3M73 80h4M81 80h1M83 80h1M21 81h1M25 81h1M36 81h2M40 81h1M47 81h1M51 81h2M57 81h2M67 81h1M77 81h2M82 81h1M94 81h1M97 81h1M21 82h1M25 82h1M38 82h1M41 82h1M50 82h1M57 82h2M64 82h3M75 82h3M79 82h1M91 82h1M95 82h3M3 83h1M20 83h1M22 83h1M26 83h1M30 83h1M33 83h1M48 83h1M70 83h4M77 83h1M96 83h2M5 84h1M21 84h2M27 84h1M30 84h1M33 84h1M38 84h2M43 84h3M52 84h1M77 84h1M1 85h2M5 85h1M19 85h4M29 85h1M34 85h3M53 85h1M55 85h1M70 85h1M76 85h1M1 86h1M21 86h2M25 86h1M34 86h1M43 86h1M49 86h2M52 86h1M65 86h1M76 86h1M80 86h1M23 87h1M43 87h1M45 87h1M47 87h2M57 87h1M64 87h1M73 87h1M80 87h1M92 87h2M-2 88h3M10 88h1M12 88h1M15 88h2M23 88h1M27 88h2M40 88h2M48 88h1M55 88h1M57 88h1M63 88h1M67 88h1M77 88h1M80 88h1M92 88h2M97 88h1M-2 89h3M9 89h1M13 89h1M15 89h1M25 89h2M40 89h3M55 89h3M63 89h1M66 89h1M70 89h1M73 89h1M78 89h1M81 89h1M84 89h1M92 89h2M10 90h1M13 90h1M15 90h2M29 90h1M32 90h1M40 90h1M43 90h1M54 90h2M75 90h1M83 90h2M89 90h1M93 90h1M1 91h1M13 91h4M23 91h1M26 91h1M30 91h1M32 91h1M40 91h1M54 91h2M79 91h1M81 91h2M84 91h1M94 91h2M3 92h1M10 92h1M13 92h4M22 92h1M25 92h1M27 92h1M31 92h1M38 92h2M46 92h1M54 92h2M67 92h3M71 92h1M93 92h1M96 92h1M4 93h1M9 93h1M14 93h2M26 93h1M31 93h3M38 93h1M59 93h1M62 93h2M67 93h2M75 93h1M82 93h1M84 93h1M94 93h2M98 93h1M1 94h1M4 94h2M9 94h2M12 94h2M19 94h1M28 94h1M32 94h2M38 94h2M43 94h1M48 94h1M58 94h1M63 94h1M67 94h3M71 94h1M76 94h1M86 94h1M98 94h1M5 95h1M8 95h2M13 95h3M21 95h2M26 95h1M41 95h1M43 95h2M58 95h1M63 95h1M67 95h1M76 95h3M86 95h1M94 95h1M96 95h1M98 95h1M1 96h1M4 96h2M8 96h2M13 96h3M18 96h1M21 96h1M23 96h3M41 96h6M58 96h1M72 96h7M82 96h1M86 96h3M93 96h1M12 97h2M16 97h1M21 97h1M36 97h1M45 97h3M50 97h1M58 97h3M72 97h2M77 97h2M86 97h2M93 97h1M96 97h1M12 98h1M21 98h1M31 98h1M47 98h1M53 98h1M58 98h2M68 98h1M81 98h1M5 99h1M21 99h1M54 99h1M67 99h1M69 99h1M80 99h1"/><path stroke="#0000de" d="M3 0h1M15 0h2M22 0h1M27 0h3M45 0h1M73 0h2M76 0h1M90 0h1M-2 1h4M24 1h1M31 1h1M37 1h1M42 1h3M48 1h6M60 1h1M70 1h1M78 1h3M86 1h1M89 1h1M25 2h1M32 2h1M39 2h3M48 2h1M58 2h1M63 2h2M76 2h1M78 2h1M84 2h4M92 2h1M25 3h1M40 3h2M48 3h1M87 3h2M92 3h1M94 3h5M24 4h2M48 4h1M52 4h1M73 4h1M86 4h1M95 4h2M98 4h1M55 5h1M65 5h1M67 5h1M85 5h4M93 5h2M63 6h4M73 6h1M85 6h1M89 6h1M99 6h3M45 7h1M50 7h2M73 7h1M85 7h1M88 7h2M44 8h1M52 8h2M56 8h2M62 8h2M73 8h1M87 8h1M89 8h1M44 9h1M49 9h1M51 9h3M55 9h1M62 9h2M74 9h1M87 9h1M89 9h1M56 10h2M88 10h3M97 10h1M99 10h3M37 11h2M40 11h1M70 11h1M74 11h1M77 11h1M84 11h1M86 11h1M89 11h1M92 11h5M38 12h2M44 12h1M72 12h3M19 13h1M43 13h2M67 13h1M79 13h3M93 13h3M43 14h1M64 14h2M69 14h2M79 14h2M99 14h3M-2 15h3M65 15h1M70 15h1M79 15h1M84 15h2M-2 16h3M43 16h4M70 16h1M80 16h1M84 16h4M99 16h3M-2 17h3M31 17h1M56 17h2M59 17h1M70 17h1M73 17h1M76 17h1M84 17h3M92 17h3M28 18h3M34 18h2M41 18h1M48 18h1M51 18h1M55 18h1M71 18h3M75 18h3M86 18h1M91 18h1M33 19h3M37 19h2M40 19h3M48 19h1M53 19h1M65 19h1M72 19h1M80 19h1M92 19h1M97 19h1M31 20h2M36 20h1M38 20h4M45 20h1M53 20h1M55 20h1M62 20h3M72 20h1M77 20h1M80 20h5M94 20h1M97 20h1M25 21h1M33 21h1M36 21h1M38 21h1M40 21h1M52 21h1M54 21h1M63 21h1M71 21h1M81 21h2M95 21h2M-2 22h3M22 22h3M26 22h1M29 22h1M38 22h1M40 22h1M42 22h1M47 22h2M52 22h1M62 22h2M69 22h1M81 22h2M84 22h1M89 22h2M92 22h1M-2 23h3M22 23h6M38 23h2M42 23h2M52 23h1M56 23h2M63 23h2M69 23h1M81 23h1M89 23h2M93 23h1M99 23h3M-2 24h3M24 24h2M30 24h1M38 24h1M45 24h1M49 24h1M55 24h1M58 24h1M77 24h1M82 24h1M84 24h1M93 24h1M-2 25h3M25 25h2M37 25h1M44 25h1M59 25h1M67 25h3M83 25h1M91 25h1M93 25h1M99 25h3M-2 26h3M30 26h1M33 26h1M35 26h1M43 26h1M55 26h1M73 26h2M84 26h2M32 27h1M35 27h1M54 27h3M73 27h3M84 27h6M31 28h2M34 28h2M47 28h1M53 28h2M56 28h1M58 28h1M66 28h3M76 28h1M78 28h1M85 28h1M89 28h1M93 28h3M23 29h4M31 29h4M37 29h1M43 29h1M50 29h1M56 29h1M58 29h1M74 29h1M78 29h4M88 29h1M94 29h2M22 30h2M25 30h2M32 30h1M34 30h1M37 30h1M56 30h1M58 30h1M60 30h1M71 30h1M75 30h1M78 30h1M80 30h2M86 30h2M99 30h3M3 31h1M20 31h1M22 31h1M27 31h3M31 31h1M34 31h1M36 31h1M44 31h2M51 31h1M54 31h2M60 31h1M64 31h1M69 31h1M71 31h1M78 31h1M3 32h2M21 32h2M26 32h1M30 32h2M34 32h2M39 32h2M52 32h2M60 32h1M63 32h1M71 32h2M21 33h1M23 33h3M33 33h3M48 33h1M54 33h1M57 33h4M64 33h2M21 34h1M26 34h2M29 34h1M33 34h1M39 34h2M54 34h1M57 34h2M60 34h2M65 34h1M69 34h1M76 34h1M81 34h1M17 35h3M26 35h2M29 35h1M38 35h1M48 35h1M62 35h1M64 35h1M70 35h1M74 35h1M76 35h2M80 35h1M82 35h1M91 35h1M95 35h1M32 36h1M38 36h1M51 36h2M95 36h1M98 36h1M30 37h1M36 37h1M38 37h2M48 37h2M66 37h1M70 37h1M96 37h1M22 38h1M36 38h1M39 38h1M46 38h1M54 38h6M66 38h1M85 38h1M88 38h1M1 39h1M16 39h1M18 39h2M39 39h1M47 39h1M54 39h1M59 39h1M69 39h1M77 39h1M87 39h2M7 40h1M9 40h3M16 40h1M18 40h1M20 40h1M22 40h1M26 40h1M37 40h1M39 40h1M45 40h1M54 40h1M59 40h1M62 40h1M87 40h2M6 41h1M12 41h1M17 41h2M21 41h1M48 41h1M54 41h1M58 41h1M62 41h1M86 41h2M89 41h1M97 41h1M4 42h2M7 42h2M16 42h1M19 42h1M24 42h2M46 42h2M49 42h2M55 42h3M59 42h1M90 42h1M4 43h1M16 43h1M19 43h1M22 43h2M32 43h1M49 43h2M53 43h2M70 43h1M90 43h1M11 44h1M16 44h1M21 44h2M25 44h1M49 44h2M52 44h1M57 44h2M62 44h1M69 44h1M91 44h1M10 45h1M22 45h4M54 45h1M56 45h1M70 45h5M90 45h1M93 45h1M24 46h2M27 46h1M33 46h1M57 46h1M60 46h1M79 46h2M91 46h1M94 46h1M1 47h1M24 47h2M28 47h1M31 47h3M36 47h1M38 47h1M48 47h2M52 47h1M61 47h1M91 47h1M1 48h1M26 48h2M30 48h4M36 48h1M41 48h1M48 48h2M51 48h1M53 48h1M66 48h1M92 48h1M8 49h2M23 49h1M26 49h1M29 49h1M36 49h1M39 49h2M43 49h1M52 49h1M62 49h1M-2 50h3M8 50h1M17 50h3M24 50h1M27 50h4M43 50h2M66 50h1M72 50h1M74 50h2M-2 51h3M9 51h1M15 51h1M25 51h1M27 51h1M34 51h1M36 51h1M42 51h3M63 51h2M74 51h1M96 51h1M-2 52h3M8 52h2M32 52h1M40 52h1M42 52h1M44 52h1M71 52h1M-2 53h3M16 53h1M27 53h1M35 53h1M49 53h1M51 53h1M71 53h2M10 54h8M20 54h2M32 54h1M34 54h1M49 54h1M51 54h1M90 54h2M17 55h3M22 55h1M44 55h2M51 55h1M68 55h1M89 55h3M16 56h2M25 56h1M44 56h1M46 56h1M58 56h1M69 56h1M-2 57h3M29 57h1M42 57h1M44 57h1M46 57h1M55 57h1M58 57h1M70 57h1M78 57h2M-2 58h3M15 58h2M28 58h2M45 58h2M55 58h1M58 58h1M69 58h1M78 58h2M82 58h1M12 59h1M14 59h1M21 59h1M25 59h1M27 59h1M52 59h1M58 59h1M71 59h2M85 59h2M92 59h1M13 60h1M17 60h1M21 60h1M31 60h2M47 60h1M57 60h3M70 60h2M84 60h1M91 60h1M93 60h1M13 61h1M17 61h1M26 61h1M35 61h1M47 61h1M52 61h4M71 61h1M86 61h1M92 61h1M12 62h1M14 62h1M17 62h1M26 62h2M30 62h1M42 62h1M46 62h1M61 62h1M65 62h2M14 63h5M26 63h1M29 63h2M36 63h1M42 63h1M60 63h1M64 63h1M70 63h2M77 63h1M1 64h1M14 64h1M16 64h2M19 64h4M26 64h1M33 64h1M42 64h1M45 64h2M64 64h1M66 64h1M77 64h1M80 64h1M83 64h1M93 64h1M-2 65h3M12 65h1M17 65h1M20 65h3M26 65h1M32 65h1M45 65h3M66 65h1M80 65h1M93 65h1M95 65h1M98 65h1M15 66h4M24 66h3M29 66h4M45 66h1M58 66h1M81 66h1M83 66h1M98 66h1M13 67h1M17 67h2M44 67h2M49 67h1M51 67h1M58 67h2M76 67h1M78 67h1M-2 68h3M2 68h1M15 68h1M17 68h2M21 68h1M24 68h2M30 68h1M58 68h1M60 68h2M74 68h2M78 68h1M1 69h1M17 69h8M35 69h1M55 69h3M59 69h2M73 69h1M77 69h1M98 69h1M17 70h6M25 70h1M30 70h1M35 70h1M50 70h2M54 70h1M60 70h1M73 70h4M5 71h1M23 71h4M35 71h1M37 71h2M41 71h1M53 71h2M58 71h1M4 72h2M9 72h1M26 72h2M34 72h3M51 72h1M56 72h2M74 72h1M77 72h1M9 73h1M21 73h1M23 73h2M26 73h1M35 73h2M51 73h1M72 73h2M23 74h1M26 74h1M35 74h2M48 74h1M51 74h1M72 74h2M78 74h1M21 75h1M23 75h1M26 75h2M32 75h1M34 75h2M45 75h3M50 75h1M5 76h1M7 76h1M10 76h3M26 76h2M37 76h1M45 76h1M50 76h1M76 76h1M88 76h1M5 77h1M8 77h2M11 77h2M17 77h2M27 77h4M32 77h1M34 77h1M36 77h1M44 77h1M50 77h3M77 77h1M79 77h1M88 77h3M8 78h1M21 78h1M27 78h3M33 78h2M39 78h1M44 78h1M49 78h1M51 78h1M53 78h4M88 78h1M12 79h5M21 79h1M36 79h1M44 79h2M49 79h3M53 79h1M83 79h1M94 79h4M6 80h2M11 80h1M15 80h1M26 80h1M30 80h1M37 80h1M47 80h6M57 80h1M82 80h1M94 80h1M97 80h1M15 81h2M26 81h1M50 81h1M68 81h9M95 81h2M2 82h1M19 82h2M26 82h1M30 82h1M34 82h1M36 82h1M39 82h2M48 82h1M70 82h5M78 82h1M4 83h2M18 83h1M21 83h1M27 83h1M37 83h4M49 83h2M66 83h1M78 83h2M18 84h1M28 84h2M37 84h1M46 84h3M51 84h1M66 84h1M69 84h1M78 84h1M80 84h1M11 85h2M43 85h3M50 85h3M54 85h1M66 85h1M80 85h1M11 86h2M20 86h1M44 86h3M48 86h1M53 86h1M56 86h1M66 86h1M71 86h1M79 86h1M11 87h2M16 87h1M24 87h3M44 87h1M54 87h1M56 87h1M65 87h2M77 87h1M79 87h1M9 88h1M13 88h1M17 88h1M20 88h1M24 88h3M56 88h1M66 88h1M68 88h2M73 88h1M78 88h1M8 89h1M14 89h1M18 89h2M27 89h2M64 89h2M71 89h1M79 89h1M14 90h1M27 90h2M41 90h2M79 90h1M81 90h1M10 91h1M27 91h1M29 91h1M42 91h1M80 91h1M83 91h1M4 92h1M23 92h2M42 92h1M70 92h1M82 92h1M84 92h1M94 92h2M99 92h3M5 93h1M8 93h1M16 93h2M23 93h1M28 93h1M39 93h1M42 93h1M45 93h1M60 93h2M69 93h1M71 93h1M74 93h1M83 93h1M3 94h1M8 94h1M11 94h1M14 94h2M18 94h1M23 94h1M26 94h1M40 94h1M45 94h1M62 94h1M70 94h1M73 94h1M87 94h2M1 95h1M4 95h1M6 95h2M16 95h5M23 95h1M29 95h1M32 95h1M42 95h1M45 95h1M47 95h1M62 95h1M73 95h1M87 95h2M95 95h1M3 96h1M7 96h1M10 96h1M19 96h1M29 96h1M32 96h1M61 96h1M96 96h1M99 96h3M5 97h1M9 97h3M14 97h2M17 97h2M29 97h1M31 97h1M94 97h2M5 98h1M11 98h1M13 98h1M29 98h2M52 99h1M82 99h1"/><path stroke="#0000f6" d="M4 0h1M10 0h5M20 0h2M47 0h1M77 0h2M26 1h1M34 1h1M45 1h1M47 1h1M61 1h1M69 1h1M72 1h1M75 1h1M24 2h1M33 2h1M42 2h1M47 2h1M49 2h1M51 2h1M79 2h1M89 2h1M94 2h2M24 3h1M26 3h1M39 3h1M42 3h1M47 3h1M57 3h1M65 3h1M85 3h2M89 3h1M40 4h1M47 4h1M75 4h1M85 4h1M89 4h1M92 4h1M97 4h1M47 5h2M52 5h1M56 5h1M62 5h3M68 5h5M89 5h1M95 5h1M98 5h1M44 6h3M53 6h1M67 6h1M69 6h4M77 6h1M84 6h1M86 6h3M34 7h1M52 7h1M63 7h2M70 7h3M77 7h1M84 7h1M86 7h2M99 7h3M45 8h1M49 8h1M54 8h2M72 8h1M77 8h1M43 9h1M54 9h1M58 9h1M61 9h1M81 9h1M90 9h1M35 10h4M44 10h1M49 10h1M55 10h1M58 10h1M61 10h2M74 10h1M77 10h1M87 10h1M91 10h1M95 10h2M36 11h1M44 11h1M58 11h1M68 11h1M71 11h1M83 11h1M87 11h2M19 12h2M40 12h1M43 12h1M57 12h2M67 12h1M77 12h3M82 12h1M18 13h1M20 13h4M38 13h1M45 13h1M57 13h2M64 13h3M73 13h1M-2 14h3M38 14h1M44 14h1M57 14h1M66 14h1M68 14h1M38 15h1M43 15h1M63 15h1M66 15h1M99 15h3M31 16h1M38 16h1M42 16h1M47 16h1M56 16h2M60 16h1M66 16h1M69 16h1M73 16h1M79 16h1M30 17h1M32 17h1M35 17h1M38 17h4M48 17h1M50 17h1M58 17h1M66 17h1M69 17h1M74 17h2M77 17h1M80 17h1M17 18h2M31 18h3M36 18h5M49 18h2M52 18h1M74 18h1M78 18h1M80 18h1M92 18h1M95 18h1M17 19h1M27 19h1M30 19h1M32 19h1M36 19h1M39 19h1M50 19h1M54 19h1M78 19h2M93 19h1M96 19h1M33 20h3M42 20h1M44 20h1M49 20h1M51 20h1M54 20h1M65 20h1M79 20h1M24 21h1M28 21h1M39 21h1M42 21h1M45 21h1M49 21h1M61 21h2M64 21h1M70 21h1M77 21h1M80 21h1M83 21h2M27 22h2M36 22h1M39 22h1M44 22h1M64 22h1M80 22h1M83 22h1M91 22h1M21 23h1M37 23h1M46 23h1M79 23h1M82 23h2M91 23h1M22 24h2M26 24h3M50 24h2M56 24h2M66 24h1M69 24h1M78 24h1M83 24h1M91 24h1M99 24h3M27 25h3M34 25h1M48 25h1M56 25h1M84 25h1M92 25h1M21 26h1M26 26h2M34 26h1M47 26h1M56 26h1M59 26h1M21 27h2M26 27h1M30 27h1M33 27h2M46 27h1M57 27h1M63 27h1M1 28h1M22 28h2M26 28h1M33 28h1M43 28h1M46 28h1M55 28h1M64 28h2M74 28h2M86 28h3M6 29h2M35 29h2M44 29h1M49 29h1M54 29h2M59 29h1M70 29h1M75 29h3M86 29h2M3 30h1M6 30h2M21 30h1M24 30h1M27 30h1M31 30h1M35 30h2M44 30h1M54 30h1M64 30h1M67 30h2M4 31h1M13 31h2M26 31h1M30 31h1M35 31h1M46 31h1M63 31h1M70 31h1M76 31h2M14 32h1M20 32h1M47 32h1M50 32h2M61 32h1M98 32h1M3 33h1M30 33h1M32 33h1M39 33h2M49 33h1M61 33h1M63 33h1M97 33h1M2 34h1M16 34h2M32 34h1M49 34h1M64 34h1M96 34h1M16 35h1M32 35h1M63 35h1M68 35h2M98 35h1M2 36h1M11 36h1M16 36h1M30 36h1M48 36h1M50 36h1M70 36h1M77 36h1M82 36h1M11 37h2M16 37h1M31 37h1M37 37h1M86 37h2M97 37h1M2 38h1M16 38h1M23 38h4M37 38h2M86 38h2M22 39h1M26 39h1M37 39h1M46 39h1M58 39h1M66 39h1M79 39h3M85 39h2M12 40h1M19 40h1M23 40h1M38 40h1M47 40h1M58 40h1M60 40h2M67 40h2M85 40h2M3 41h1M16 41h1M19 41h2M24 41h2M45 41h1M47 41h1M55 41h1M59 41h1M88 41h1M6 42h1M12 42h1M20 42h2M88 42h1M8 43h1M12 43h1M15 43h1M20 43h2M24 43h2M31 43h1M59 43h1M61 43h1M89 43h1M2 44h1M15 44h1M17 44h1M19 44h2M23 44h1M30 44h1M33 44h1M53 44h2M70 44h2M90 44h1M1 45h1M15 45h2M20 45h2M30 45h1M33 45h1M53 45h1M57 45h3M62 45h1M91 45h2M1 46h1M9 46h1M23 46h1M26 46h1M31 46h1M61 46h3M8 47h1M26 47h2M37 47h1M92 47h2M8 48h1M20 48h6M42 48h1M52 48h1M62 48h1M10 49h1M24 49h1M30 49h2M38 49h1M41 49h2M66 49h1M26 50h1M40 50h3M63 50h1M65 50h1M73 50h1M14 51h1M26 51h1M35 51h1M40 51h1M72 51h2M13 52h1M33 52h3M41 52h1M72 52h2M8 53h3M12 53h1M34 53h1M50 53h1M27 54h2M33 54h1M50 54h1M1 55h1M10 55h3M15 55h2M20 55h2M27 55h1M29 55h1M50 55h1M69 55h1M1 56h1M15 56h1M18 56h1M23 56h1M26 56h1M29 56h1M45 56h1M50 56h2M56 56h2M15 57h1M17 57h1M24 57h2M28 57h1M43 57h1M45 57h1M20 58h2M24 58h4M56 58h2M71 58h1M11 59h1M13 59h1M17 59h2M30 59h1M46 59h1M53 59h1M56 59h2M70 59h1M2 60h1M12 60h1M22 60h1M24 60h1M30 60h1M41 60h1M51 60h2M56 60h1M85 60h2M92 60h1M12 61h1M30 61h2M34 61h1M42 61h3M70 61h1M85 61h1M7 62h1M28 62h2M31 62h1M35 62h1M70 62h2M7 63h1M27 63h2M31 63h1M35 63h1M61 63h1M65 63h2M76 63h1M15 64h1M18 64h1M29 64h4M60 64h2M65 64h1M76 64h1M81 64h1M94 64h2M15 65h2M18 65h2M29 65h3M83 65h1M94 65h1M99 65h3M-2 66h3M12 66h1M27 66h2M82 66h1M1 67h1M24 67h2M50 67h1M77 67h1M98 67h1M14 68h1M31 68h2M49 68h1M59 68h1M76 68h1M98 68h1M14 69h1M30 69h1M34 69h1M49 69h1M51 69h1M76 69h1M99 69h3M5 70h1M14 70h1M23 70h2M4 71h1M6 71h1M14 71h1M6 72h1M11 72h1M32 72h2M37 72h4M42 72h1M75 72h2M1 73h1M22 73h1M27 73h1M37 73h4M42 73h1M74 73h1M77 73h1M1 74h1M9 74h1M21 74h1M27 74h1M74 74h2M77 74h1M6 75h2M9 75h1M22 75h1M33 75h1M48 75h2M76 75h1M79 75h1M4 76h1M8 76h2M32 76h1M34 76h1M46 76h1M1 77h1M4 77h1M19 77h2M33 77h1M45 77h1M49 77h1M78 77h1M2 78h1M5 78h1M17 78h1M36 78h1M45 78h1M52 78h1M27 79h1M29 79h1M46 79h1M48 79h1M52 79h1M82 79h1M17 80h1M95 80h2M2 81h1M9 81h3M17 81h1M20 81h1M30 81h1M48 81h2M10 82h1M15 82h2M18 82h1M35 82h1M49 82h1M67 82h3M6 83h1M36 83h1M69 83h1M6 84h1M11 84h1M34 84h3M49 84h2M79 84h1M6 85h1M10 85h1M18 85h1M46 85h1M49 85h1M67 85h1M69 85h1M77 85h3M2 86h4M47 86h1M54 86h2M67 86h1M70 86h1M78 86h1M1 87h1M9 87h2M13 87h1M15 87h1M17 87h1M20 87h1M55 87h1M67 87h1M72 87h1M78 87h1M8 88h1M14 88h1M64 88h1M70 88h1M79 88h1M7 89h1M72 89h1M80 89h1M1 90h1M8 90h2M80 90h1M2 91h1M28 91h1M41 91h1M8 92h2M28 92h1M30 92h1M40 92h2M83 92h1M6 93h2M24 93h2M40 93h1M46 93h2M70 93h1M2 94h1M6 94h2M16 94h2M31 94h1M41 94h2M47 94h1M59 94h1M75 94h1M10 95h1M12 95h1M24 95h2M46 95h1M74 95h2M2 96h1M6 96h1M12 96h1M20 96h1M59 96h1M94 96h2M8 97h1M19 97h2M30 97h1M10 98h1M14 98h3M20 98h1M6 99h1M12 99h2M20 99h1M53 99h1M68 99h1M81 99h1"/><path stroke="#000fff" d="M17 0h1M19 0h1M46 0h1M23 1h1M30 1h1M46 1h1M90 1h2M-2 2h3M26 2h1M38 2h1M43 2h1M50 2h1M59 2h1M62 2h1M68 2h1M72 2h1M75 2h1M80 2h1M83 2h1M91 2h1M32 3h2M49 3h1M51 3h1M73 3h7M26 4h1M33 4h1M39 4h1M41 4h1M57 4h1M65 4h1M68 4h1M72 4h1M78 4h2M24 5h2M46 5h1M76 5h1M78 5h2M84 5h1M96 5h2M20 6h1M33 6h2M47 6h1M50 6h3M54 6h2M62 6h1M68 6h1M82 6h2M93 6h2M43 7h1M53 7h1M56 7h2M62 7h1M65 7h1M69 7h1M90 7h1M35 8h1M43 8h1M58 8h1M61 8h1M64 8h1M70 8h2M81 8h1M86 8h1M90 8h1M99 8h3M35 9h2M60 9h1M64 9h1M73 9h1M77 9h1M80 9h1M91 9h2M95 9h7M-2 10h3M39 10h2M43 10h1M50 10h1M53 10h2M59 10h1M63 10h2M69 10h2M81 10h1M86 10h1M92 10h3M35 11h1M43 11h1M49 11h1M56 11h2M59 11h1M72 11h2M78 11h1M82 11h1M18 12h1M21 12h3M37 12h1M48 12h2M56 12h1M59 12h1M64 12h1M66 12h1M80 12h2M24 13h1M37 13h1M39 13h1M42 13h1M47 13h2M52 13h1M56 13h1M59 13h1M63 13h1M74 13h2M78 13h1M19 14h2M37 14h1M42 14h1M45 14h1M56 14h1M67 14h1M73 14h1M37 15h1M42 15h1M44 15h3M56 15h2M67 15h3M73 15h1M32 16h1M37 16h1M39 16h1M55 16h1M67 16h2M74 16h5M29 17h1M33 17h2M36 17h2M49 17h1M51 17h1M55 17h1M68 17h1M78 17h2M16 18h1M53 18h2M66 18h1M69 18h2M79 18h1M93 18h2M1 19h1M16 19h1M18 19h1M31 19h1M49 19h1M71 19h1M94 19h1M1 20h1M25 20h1M27 20h1M43 20h1M50 20h1M66 20h1M71 20h1M78 20h1M95 20h2M26 21h2M34 21h2M69 21h1M79 21h1M21 22h1M34 22h1M43 22h1M49 22h1M77 22h1M79 22h1M28 23h2M34 23h1M47 23h3M65 23h1M77 23h2M92 23h1M21 24h1M29 24h1M34 24h1M37 24h1M48 24h1M68 24h1M92 24h1M21 25h1M24 25h1M35 25h2M45 25h1M58 25h1M20 26h1M22 26h1M25 26h1M28 26h2M44 26h1M11 27h1M27 27h1M43 27h1M58 27h3M62 27h1M7 28h1M44 28h2M59 28h1M63 28h1M2 29h1M22 29h1M45 29h4M60 29h1M64 29h1M66 29h4M4 30h2M12 30h2M20 30h1M30 30h1M45 30h2M50 30h1M55 30h1M61 30h1M63 30h1M65 30h2M69 30h2M76 30h2M5 31h4M15 31h1M19 31h1M23 31h1M25 31h1M50 31h1M61 31h2M99 31h3M5 32h1M9 32h1M17 32h3M23 32h1M25 32h1M48 32h2M62 32h1M4 33h1M9 33h1M14 33h2M17 33h2M20 33h1M31 33h1M50 33h1M53 33h1M62 33h1M98 33h1M9 34h2M15 34h1M18 34h1M20 34h1M30 34h1M62 34h2M99 34h3M2 35h1M10 35h2M30 35h2M49 35h1M53 35h1M81 35h1M12 36h1M31 36h1M49 36h1M67 36h1M78 36h4M96 36h2M3 37h1M82 37h1M11 38h1M69 38h1M82 38h1M11 39h1M23 39h1M25 39h1M38 39h1M55 39h3M78 39h1M2 40h1M24 40h2M46 40h1M55 40h1M5 41h1M13 41h1M46 41h1M57 41h1M60 41h2M13 42h1M60 42h2M89 42h1M5 43h1M13 43h1M60 43h1M3 44h1M8 44h1M12 44h1M18 44h1M24 44h1M59 44h1M61 44h1M61 45h1M8 46h1M15 46h1M20 46h3M32 46h1M92 46h2M20 47h1M23 47h1M62 47h1M64 47h1M9 48h1M37 48h2M65 48h1M1 49h1M19 49h1M25 49h1M37 49h1M63 49h1M65 49h1M10 50h1M16 50h1M25 50h1M64 50h1M4 51h1M41 51h1M1 52h1M4 52h1M7 52h1M1 53h1M7 53h1M11 53h1M32 53h1M1 54h1M9 54h1M9 55h1M13 55h2M28 55h1M8 56h3M19 56h2M27 56h2M9 57h2M23 57h1M26 57h2M56 57h2M3 58h1M11 58h2M14 58h1M17 58h1M19 58h1M22 58h2M41 58h1M44 58h1M70 58h1M1 59h3M22 59h1M24 59h1M28 59h2M54 59h2M23 60h1M27 60h1M53 60h3M2 61h1M6 61h3M27 61h1M32 61h2M45 61h2M2 62h1M6 62h1M8 62h1M32 62h3M8 63h1M11 63h1M32 63h3M11 64h1M27 64h2M82 64h1M1 65h1M81 65h1M1 66h1M99 66h3M-2 67h3M2 67h1M12 67h1M13 68h1M51 68h1M77 68h1M2 69h1M6 69h1M33 69h1M74 69h2M1 70h1M6 70h1M34 70h1M55 70h1M57 70h1M9 71h2M31 71h1M34 71h1M55 71h1M57 71h1M1 72h1M3 72h1M8 72h1M13 72h1M41 72h1M2 73h4M8 73h1M41 73h1M75 73h2M22 74h1M76 74h1M1 75h1M8 75h1M77 75h1M33 76h1M47 76h3M77 76h1M79 76h1M3 77h1M38 77h1M46 77h1M46 78h1M48 78h1M2 79h1M5 79h1M17 79h1M28 79h1M37 79h2M47 79h1M14 80h1M20 80h1M27 80h1M6 81h1M8 81h1M18 81h2M3 82h3M9 82h1M11 82h1M17 82h1M27 82h1M10 83h2M28 83h2M34 83h1M67 83h1M10 84h1M12 84h1M67 84h2M47 85h2M68 85h1M6 86h1M10 86h1M13 86h1M16 86h4M77 86h1M6 87h3M14 87h1M68 87h1M70 87h2M7 88h1M18 88h2M65 88h1M7 90h1M3 91h1M7 91h3M5 92h1M7 92h1M29 92h1M29 93h2M41 93h1M99 93h3M24 94h2M29 94h2M46 94h1M61 94h1M74 94h1M99 94h3M3 95h1M30 95h2M61 95h1M99 95h3M11 96h1M30 96h2M60 96h1M6 97h2M17 98h1M19 98h1M14 99h3"/><path stroke="#0027ff" d="M5 0h1M9 0h1M18 0h1M2 1h1M27 1h3M36 1h1M1 2h1M31 2h1M44 2h1M46 2h1M60 2h1M71 2h1M81 2h1M-2 3h3M43 3h1M58 3h1M63 3h2M68 3h1M72 3h1M84 3h1M91 3h1M23 4h1M32 4h1M42 4h1M49 4h1M62 4h1M71 4h1M80 4h1M84 4h1M20 5h1M30 5h1M33 5h2M39 5h2M44 5h2M49 5h1M51 5h1M57 5h1M77 5h1M80 5h2M92 5h1M19 6h1M39 6h2M43 6h1M56 6h2M78 6h1M81 6h1M90 6h1M95 6h1M33 7h1M35 7h1M46 7h1M49 7h1M54 7h2M58 7h1M66 7h1M81 7h3M93 7h2M34 8h1M59 8h1M69 8h1M85 8h1M91 8h5M-2 9h3M34 9h1M37 9h1M48 9h1M59 9h1M69 9h1M72 9h1M82 9h1M86 9h1M94 9h1M29 10h1M34 10h1M41 10h1M48 10h1M52 10h1M60 10h1M68 10h1M71 10h1M73 10h1M78 10h1M80 10h1M82 10h1M85 10h1M-2 11h3M19 11h2M34 11h1M41 11h1M48 11h1M55 11h1M60 11h5M79 11h1M81 11h1M24 12h1M36 12h1M41 12h2M45 12h1M47 12h1M52 12h2M60 12h1M63 12h1M65 12h1M-2 13h3M25 13h1M40 13h2M46 13h1M49 13h1M51 13h1M76 13h1M18 14h1M21 14h3M26 14h1M46 14h2M51 14h2M58 14h1M63 14h1M78 14h1M31 15h1M39 15h1M47 15h1M51 15h1M55 15h1M58 15h1M61 15h2M78 15h1M30 16h1M33 16h1M35 16h2M40 16h2M48 16h1M50 16h2M58 16h2M17 17h2M28 17h1M67 17h1M1 18h1M9 18h1M19 18h1M27 18h1M26 19h1M66 19h1M95 19h1M12 20h2M16 20h2M24 20h1M26 20h1M1 21h1M12 21h1M16 21h1M23 21h1M43 21h2M50 21h2M65 21h1M68 21h1M16 22h1M35 22h1M68 22h1M20 23h1M50 23h2M20 24h1M46 24h1M67 24h1M1 25h1M20 25h1M22 25h2M57 25h1M46 26h1M1 27h1M7 27h1M10 27h1M12 27h1M20 27h1M23 27h1M44 27h2M61 27h1M6 28h1M11 28h1M21 28h1M24 28h2M27 28h1M30 28h1M11 29h1M27 29h1M30 29h1M61 29h3M65 29h1M8 30h1M11 30h1M14 30h1M19 30h1M28 30h2M47 30h1M62 30h1M9 31h1M12 31h1M16 31h3M24 31h1M47 31h1M49 31h1M8 32h1M13 32h1M15 32h2M24 32h1M99 32h3M5 33h1M10 33h1M13 33h1M16 33h1M19 33h1M51 33h1M99 33h3M11 34h1M14 34h1M19 34h1M31 34h1M50 34h1M97 34h2M9 35h1M15 35h1M50 35h1M96 35h2M10 36h1M67 37h1M77 37h1M3 38h1M12 38h1M77 38h1M12 39h1M15 39h1M24 39h1M68 39h1M6 40h1M15 40h1M57 40h1M4 41h1M14 41h2M56 41h1M14 42h2M6 43h2M14 43h1M4 44h1M13 44h2M8 45h1M11 45h1M14 45h1M17 45h1M19 45h1M60 45h1M14 46h1M16 46h1M9 47h1M14 47h1M21 47h2M63 47h1M7 48h1M19 48h1M64 48h1M7 49h1M11 49h1M18 49h1M64 49h1M7 50h1M3 51h1M7 51h1M10 51h1M13 51h1M2 52h2M10 52h1M12 52h1M2 53h5M33 53h1M2 54h4M7 54h2M2 55h3M8 55h1M4 56h1M11 56h1M21 56h2M1 57h1M3 57h2M8 57h1M18 57h1M20 57h2M4 58h1M10 58h1M13 58h1M18 58h1M23 59h1M41 59h1M45 59h1M3 60h1M11 60h1M44 60h1M9 61h1M28 61h2M9 62h1M11 62h1M2 63h1M6 63h1M2 64h1M7 64h2M11 65h1M27 65h2M82 65h1M2 66h1M9 66h1M8 67h2M99 67h3M3 68h1M7 68h2M12 68h1M50 68h1M99 68h3M3 69h1M5 69h1M7 69h1M50 69h1M4 70h1M56 70h1M1 71h1M56 71h1M7 72h1M12 72h1M6 73h2M2 74h2M7 74h2M4 75h2M78 75h1M1 76h1M3 76h1M78 76h1M2 77h1M37 77h1M47 77h2M3 78h2M47 78h1M2 80h1M5 80h1M12 80h1M29 80h1M5 81h1M7 81h1M14 81h1M27 81h1M6 82h1M14 82h1M28 82h2M9 83h1M15 83h3M35 83h1M68 83h1M9 84h1M17 84h1M13 85h1M16 85h2M7 86h1M9 86h1M14 86h2M68 86h2M5 87h1M18 87h2M69 87h1M1 88h1M6 88h1M71 88h2M1 89h1M6 89h1M6 90h1M4 91h3M6 92h1M60 94h1M2 95h1M11 95h1M59 95h1M9 98h1M18 98h1M7 99h1M11 99h1"/><path stroke="#003eff" d="M6 1h1M19 1h2M35 1h1M73 1h2M27 2h1M45 2h1M61 2h1M82 2h1M90 2h1M27 3h1M46 3h1M50 3h1M59 3h1M62 3h1M80 3h1M90 3h1M27 4h3M34 4h1M43 4h1M46 4h1M51 4h1M58 4h1M61 4h1M63 4h2M69 4h2M76 4h1M90 4h2M19 5h1M21 5h1M23 5h1M26 5h1M29 5h1M31 5h2M38 5h1M43 5h1M61 5h1M82 5h2M90 5h1M30 6h1M35 6h1M38 6h1M48 6h2M80 6h1M98 6h1M40 7h1M67 7h2M78 7h1M91 7h2M95 7h1M-2 8h3M36 8h1M60 8h1M65 8h2M68 8h1M78 8h1M80 8h1M82 8h1M84 8h1M98 8h1M29 9h1M42 9h1M45 9h1M65 9h4M70 9h2M78 9h2M93 9h1M27 10h2M30 10h1M42 10h1M51 10h1M65 10h1M72 10h1M79 10h1M83 10h2M21 11h2M30 11h2M42 11h1M53 11h1M65 11h3M80 11h1M-2 12h3M35 12h1M50 12h2M55 12h1M61 12h2M17 13h1M26 13h1M50 13h1M53 13h1M55 13h1M60 13h1M77 13h1M24 14h2M36 14h1M39 14h1M48 14h1M50 14h1M55 14h1M59 14h1M74 14h2M26 15h1M32 15h1M36 15h1M48 15h1M50 15h1M52 15h1M60 15h1M74 15h2M8 16h1M26 16h1M34 16h1M49 16h1M52 16h1M54 16h1M8 17h2M16 17h1M19 17h1M27 17h1M52 17h1M54 17h1M15 18h1M26 18h1M68 18h1M15 19h1M25 19h1M69 19h2M11 20h1M14 20h2M18 20h1M67 20h4M11 21h1M13 21h1M15 21h1M17 21h1M22 21h1M66 21h2M78 21h1M1 22h1M15 22h1M17 22h1M50 22h2M65 22h1M78 22h1M1 23h1M16 23h3M36 23h1M66 23h1M68 23h1M1 24h1M17 24h1M47 24h1M46 25h2M1 26h1M11 26h2M23 26h2M45 26h1M57 26h2M6 27h1M9 27h1M13 27h3M25 27h1M8 28h1M10 28h1M14 28h1M18 28h2M60 28h1M62 28h1M5 29h1M8 29h1M10 29h1M12 29h1M18 29h2M21 29h1M9 30h2M49 30h1M10 31h2M48 31h1M6 32h1M10 32h1M12 32h1M11 33h1M52 33h1M3 34h1M8 34h1M53 34h1M8 35h1M12 35h1M51 35h2M68 36h2M69 37h1M81 37h1M15 38h1M67 38h2M81 38h1M2 39h1M7 39h4M67 39h1M3 40h1M13 40h2M56 40h1M5 44h1M31 44h2M60 44h1M12 45h2M31 45h2M10 46h1M13 46h1M7 47h1M13 47h1M15 47h1M19 47h1M10 48h1M14 48h1M63 48h1M17 49h1M4 50h1M11 50h1M14 50h2M1 51h1M5 52h1M11 52h1M6 54h1M5 55h1M7 55h1M2 56h2M12 56h1M14 56h1M2 57h1M11 57h1M14 57h1M19 57h1M22 57h1M1 58h2M9 58h1M4 59h1M10 59h1M44 59h1M7 60h2M28 60h2M42 60h2M45 60h2M3 61h1M5 61h1M11 61h1M10 62h1M9 63h2M2 65h1M3 66h1M8 66h1M10 66h2M3 67h1M10 67h1M9 68h1M4 69h1M13 69h1M31 69h2M2 70h2M13 70h1M31 70h1M33 70h1M3 71h1M7 71h2M11 71h1M13 71h1M32 71h2M2 72h1M4 74h3M2 75h2M2 76h1M18 78h1M20 78h1M37 78h2M20 79h1M13 80h1M18 80h2M28 80h1M3 81h1M12 81h1M28 81h2M12 82h1M12 83h1M14 83h1M7 84h1M13 84h1M15 84h2M7 85h1M9 85h1M15 85h1M8 86h1M60 95h1M6 98h3M17 99h3"/><path stroke="#0056ff" d="M6 0h1M3 1h1M18 1h1M22 1h1M23 2h1M28 2h1M34 2h1M73 2h2M1 3h1M23 3h1M28 3h1M31 3h1M34 3h1M60 3h1M71 3h1M83 3h1M30 4h2M44 4h1M50 4h1M59 4h2M77 4h1M83 4h1M14 5h1M22 5h1M28 5h1M41 5h2M50 5h1M58 5h1M21 6h1M31 6h2M41 6h2M58 6h1M79 6h1M92 6h1M96 6h1M-2 7h3M19 7h2M30 7h1M36 7h1M39 7h1M41 7h2M47 7h2M59 7h1M61 7h1M80 7h1M98 7h1M1 8h1M29 8h1M33 8h1M42 8h1M46 8h1M48 8h1M67 8h1M79 8h1M83 8h1M96 8h1M1 9h1M27 9h2M38 9h1M40 9h2M85 9h1M19 10h2M31 10h1M33 10h1M66 10h2M18 11h1M23 11h2M27 11h3M32 11h2M45 11h1M50 11h1M52 11h1M54 11h1M25 12h1M30 12h2M34 12h1M46 12h1M54 12h1M27 13h1M36 13h1M54 13h1M61 13h2M17 14h1M27 14h1M31 14h1M41 14h1M49 14h1M53 14h1M62 14h1M22 15h2M25 15h1M27 15h1M30 15h1M33 15h3M41 15h1M49 15h1M53 15h2M59 15h1M76 15h2M9 16h1M25 16h1M27 16h3M53 16h1M25 17h2M53 17h1M10 18h1M25 18h1M67 18h1M9 19h2M14 19h1M19 19h1M67 19h2M14 21h1M21 21h1M11 22h2M14 22h1M18 22h1M20 22h1M67 22h1M15 23h1M19 23h1M35 23h1M67 23h1M16 24h1M18 24h2M35 24h2M16 25h1M7 26h1M10 26h1M8 27h1M19 27h1M24 27h1M28 27h2M9 28h1M12 28h2M15 28h1M20 28h1M61 28h1M13 29h2M17 29h1M20 29h1M15 30h4M48 30h1M7 32h1M11 32h1M6 33h1M8 33h1M12 33h1M12 34h2M51 34h1M7 35h1M3 36h1M6 36h2M15 36h1M4 37h1M10 37h1M13 37h1M15 37h1M68 37h1M78 37h3M4 38h1M78 38h1M80 38h1M3 39h1M5 40h1M2 45h1M18 45h1M19 46h1M2 47h1M16 47h1M2 48h1M11 48h3M15 48h1M17 48h2M12 49h1M16 49h1M1 50h1M5 50h1M2 51h1M5 51h1M11 51h2M6 52h1M6 55h1M5 56h1M7 56h1M13 56h1M12 57h1M8 58h1M42 58h2M4 60h3M9 60h2M4 61h1M10 61h1M5 62h1M10 64h1M3 65h1M8 65h3M11 67h1M6 68h1M10 68h2M8 69h1M12 69h1M7 70h1M9 70h2M32 70h1M2 71h1M19 78h1M4 81h1M13 81h1M7 82h2M13 82h1M7 83h2M13 83h1M8 84h1M14 84h1M8 85h1M14 85h1M2 87h1M4 87h1M2 90h1M5 90h1M8 99h1M10 99h1"/><path stroke="#006eff" d="M8 0h1M4 1h2M17 1h1M21 1h1M29 2h2M69 2h2M38 3h1M44 3h2M61 3h1M81 3h1M-2 4h3M22 4h1M38 4h1M45 4h1M81 4h2M27 5h1M35 5h1M60 5h1M91 5h1M25 6h2M29 6h1M37 6h1M61 6h1M91 6h1M97 6h1M29 7h1M32 7h1M38 7h1M28 8h1M30 8h1M37 8h1M97 8h1M30 9h1M33 9h1M39 9h1M83 9h2M1 10h1M21 10h1M32 10h1M45 10h1M51 11h1M26 12h2M31 13h1M35 13h1M32 14h1M34 14h2M40 14h1M54 14h1M60 14h2M76 14h1M1 15h1M8 15h1M18 15h4M24 15h1M40 15h1M1 16h1M17 16h2M22 16h3M1 17h1M15 17h1M20 17h1M8 18h1M20 18h1M11 19h1M13 19h1M24 19h1M2 20h1M10 20h1M18 21h1M3 22h1M10 22h1M13 22h1M19 22h1M66 22h1M2 23h2M2 24h2M2 25h1M17 25h1M19 25h1M6 26h1M8 26h1M15 26h2M16 27h1M16 28h2M3 29h1M9 29h1M15 29h2M4 34h4M52 34h1M3 35h1M6 35h1M14 35h1M8 36h2M13 36h1M5 37h3M7 38h1M10 38h1M79 38h1M6 39h1M14 39h1M4 40h1M6 44h2M7 46h1M12 46h1M17 46h1M12 47h1M17 47h1M6 48h1M16 48h1M2 49h1M6 49h1M13 49h3M3 50h1M6 50h1M12 50h2M6 51h1M13 57h1M8 59h2M3 62h1M3 64h1M6 64h1M9 64h1M7 65h1M7 67h1M4 68h2M9 69h3M8 70h1M11 70h2M12 71h1M3 79h2M18 79h1M3 80h1M5 88h1M5 89h1M4 90h1"/><path stroke="#0085ff" d="M7 0h1M9 1h5M15 1h2M19 2h1M37 2h1M29 3h2M82 3h1M1 4h1M20 4h2M35 4h1M15 5h1M37 5h1M59 5h1M-2 6h3M14 6h1M36 6h1M59 6h1M1 7h1M31 7h1M37 7h1M60 7h1M79 7h1M96 7h1M12 8h1M20 8h1M27 8h1M40 8h2M47 8h1M20 9h2M26 9h1M46 9h2M22 10h1M26 10h1M25 11h2M47 11h1M17 12h1M32 12h2M30 13h1M32 13h1M34 13h1M1 14h1M7 14h1M30 14h1M33 14h1M77 14h1M7 15h1M17 15h1M28 15h1M19 16h1M21 16h1M10 17h1M21 17h2M24 17h1M14 18h1M12 19h1M19 20h1M23 20h1M2 21h1M4 21h1M10 21h1M19 21h2M2 22h1M4 22h1M11 23h1M15 24h1M7 25h1M15 25h1M18 25h1M9 26h1M13 26h2M19 26h1M2 28h1M5 28h1M4 29h1M28 29h2M7 33h1M13 35h1M5 36h1M14 36h1M14 37h1M5 38h2M13 38h2M4 39h2M13 39h1M5 45h3M2 46h1M6 46h1M11 46h1M6 47h1M10 47h1M18 47h1M4 49h2M2 50h1M6 56h1M5 57h1M7 57h1M5 59h1M7 59h1M42 59h2M3 63h1M4 65h1M4 66h1M4 67h1M19 79h1M4 80h1M3 87h1M3 90h1M9 99h1"/><path stroke="#009dff" d="M7 1h2M14 1h1M20 2h1M22 2h1M22 3h1M69 3h2M19 4h1M36 5h1M15 6h1M22 6h1M24 6h1M27 6h2M60 6h1M13 7h1M21 7h1M26 7h3M97 7h1M19 8h1M26 8h1M38 8h2M2 9h1M11 9h1M19 9h1M31 9h2M18 10h1M23 10h1M47 10h1M28 12h2M9 13h1M33 13h1M28 14h1M29 15h1M7 16h1M20 16h1M23 17h1M21 18h1M24 18h1M2 19h1M3 21h1M5 21h1M4 23h1M10 23h1M14 23h1M7 24h2M3 25h1M8 25h1M2 26h1M17 26h1M5 27h1M17 27h2M28 28h2M5 35h1M4 36h1M8 37h1M8 38h1M3 45h2M5 46h1M18 46h1M11 47h1M3 48h1M5 48h1M3 49h1M5 58h1M7 58h1M6 59h1M4 62h1M5 63h1M7 66h1M2 88h1M4 88h1M2 89h1M4 89h1"/><path stroke="#00b5ff" d="M18 2h1M21 2h1M-2 5h4M18 5h1M1 6h1M18 6h1M23 6h1M18 7h1M21 8h1M31 8h2M22 9h1M5 10h1M24 10h2M46 11h1M6 13h1M28 13h2M6 14h1M8 14h1M29 14h1M9 15h1M10 16h1M16 16h1M22 18h1M20 19h1M23 19h1M3 20h3M20 20h1M22 20h1M8 23h2M12 23h1M11 25h2M18 26h1M4 35h1M9 37h1M9 38h1M5 47h1M4 48h1M5 64h1M6 65h1M6 67h1"/><path stroke="#00cdff" d="M13 2h1M35 2h2M19 3h3M35 3h1M14 4h1M16 5h1M25 7h1M12 9h1M23 9h1M25 9h1M2 10h1M10 10h1M46 10h1M1 11h1M17 11h1M5 12h1M1 13h1M5 13h1M16 13h1M16 14h1M7 17h1M14 17h1M11 18h1M23 18h1M8 19h1M9 20h1M21 20h1M5 22h1M9 22h1M7 23h1M13 23h1M4 24h1M9 24h1M6 25h1M9 25h2M5 26h1M2 27h1M3 46h2M3 47h2M6 57h1M4 64h1M5 65h1M5 67h1M3 88h1M3 89h1"/><path stroke="#00e4ff" d="M18 4h1M36 4h2M16 6h1M25 8h1M9 12h1M8 13h1M16 15h1M13 18h1M21 19h2M6 21h1M6 22h1M10 24h2M14 24h1M4 25h1M13 25h2M3 26h1M6 58h1M4 63h1M5 66h2"/><path stroke="#00fcff" d="M37 3h1M15 4h2M17 5h1M13 6h1M14 7h3M22 7h1M13 8h1M18 8h1M22 8h1M3 9h1M10 9h1M13 9h1M18 9h1M24 9h1M4 10h1M5 11h1M1 12h1M7 13h1M13 13h1M5 14h1M12 14h2M2 15h1M4 15h1M6 15h1M10 15h1M15 16h1M2 18h1M7 18h1M12 18h1M5 19h1M9 21h1M7 22h2M5 23h2M6 24h1M12 24h1M4 26h1M4 27h1M3 28h2"/><path stroke="#15ffea" d="M14 2h1M17 2h1M14 3h1M18 3h1M36 3h1M17 4h1M17 6h1M17 7h1M24 7h1M2 8h1M23 8h1M3 10h1M9 11h2M6 12h1M16 12h1M12 13h1M2 14h1M4 14h1M9 14h1M3 15h1M11 15h1M2 16h1M11 16h1M11 17h1M6 20h1M7 21h1M13 24h1M5 25h1"/><path stroke="#2cffd3" d="M12 2h1M13 3h1M12 7h1M23 7h1M11 8h1M24 8h1M14 9h1M9 10h1M11 10h3M17 10h1M2 11h1M6 11h1M10 12h1M13 12h1M4 13h1M10 13h1M14 13h2M3 14h1M5 15h1M12 15h1M4 16h1M2 17h1M13 17h1M6 18h1M3 19h2M6 19h1M8 20h1M8 21h1M5 24h1M3 27h1"/><path stroke="#44ffbb" d="M15 2h2M13 5h1M14 8h2M17 8h1M4 9h1M4 12h1M8 12h1M12 12h1M11 14h1M14 14h2M3 16h1M6 16h1M14 16h1M6 17h1M5 18h1M7 19h1"/><path stroke="#5cffa3" d="M15 3h1M17 3h1M13 4h1M16 8h1M15 9h1M17 9h1M6 10h1M14 10h1M3 11h2M11 11h2M16 11h1M3 12h1M2 13h1M11 13h1M10 14h1M13 15h1M15 15h1M5 16h1M12 16h1M12 17h1M7 20h1"/><path stroke="#74ff8b" d="M2 2h1M11 2h1M16 3h1M9 9h1M16 9h1M15 10h2M13 11h3M2 12h1M7 12h1M11 12h1M14 12h2M3 13h1M14 15h1M13 16h1M3 17h3M3 18h2"/><path stroke="#8bff74" d="M7 2h4M2 7h1M10 8h1M5 9h1M7 11h2"/><path stroke="#a3ff5c" d="M3 8h1M8 10h1"/><path stroke="#bbff44" d="M12 3h1M12 6h1M9 8h1M8 9h1M7 10h1"/><path stroke="#d3ff2c" d="M6 2h1M2 6h1M11 7h1M8 8h1M6 9h1"/><path stroke="#eaff15" d="M4 8h1M7 9h1"/><path stroke="#fffc00" d="M12 5h1M5 8h3"/><path stroke="#ffe400" d="M3 2h1M2 3h1M8 3h1M12 4h1M3 7h1M7 7h4"/><path stroke="#ffcd00" d="M7 3h1M9 3h1M11 3h1M7 6h2M4 7h3"/><path stroke="#ffb500" d="M5 2h1M10 3h1M7 4h2M7 5h1M6 6h1M9 6h1M11 6h1"/><path stroke="#ff9d00" d="M4 2h1M6 3h1M2 5h1M6 5h1M8 5h1M5 6h1"/><path stroke="#ff8500" d="M2 4h1M6 4h1M9 4h1M9 5h1M3 6h2M10 6h1"/><path stroke="#ff5600" d="M11 4h1M5 5h1M11 5h1"/><path stroke="#ff3e00" d="M10 4h1"/><path stroke="#ff2700" d="M5 4h1M4 5h1M10 5h1"/><path stroke="#ff0f00" d="M3 3h1M5 3h1"/><path stroke="#f60000" d="M4 4h1M3 5h1"/><path stroke="#de0000" d="M4 3h1"/><path stroke="#c70000" d="M3 4h1"/></g></g></g><path d="M321 96.7H813.8V574.5" stroke="#00005c" stroke-width="1.5" fill="none"/><path d="M1027 97.0H905V573.7H1027" stroke="#262626" stroke-width="2.4" fill="none"/><path d="M941.5 97L941.5 90" stroke="#262626" stroke-width="2.4" fill="none"/><path d="M1027 97L1027 89" stroke="#262626" stroke-width="2.4" fill="none"/><path d="M941.5 573.7L941.5 580.5" stroke="#262626" stroke-width="2.4" fill="none"/><path d="M901 573.7L905 573.7" stroke="#262626" stroke-width="2.4" fill="none"/><path d="M905 189.5L901 189.5" stroke="#262626" stroke-width="2.4" fill="none"/><path d="M905 285L901 285" stroke="#262626" stroke-width="2.4" fill="none"/><path d="M905 381L901 381" stroke="#262626" stroke-width="2.4" fill="none"/><path d="M905 477L901 477" stroke="#262626" stroke-width="2.4" fill="none"/><path d="M1027.5 573.5H1027.5V571.4H1027.5V569.3H1027.5V567.2H967.01V565.1H949.09V563H940.64V560.91H935.51V558.81H931.95V556.71H922.79V554.61H916.73V552.51H933.27V550.41H934.13V548.31H910.5V546.21H938.16V544.11H931.13V542.01H936.55V539.91H927.61V537.81H934.16V535.72H932.29V533.62H930.29V531.52H949.32V529.42H952.79V527.32H942.48V525.22H961.76V523.12H937.58V521.02H947.78V518.92H929.93V516.82H935.03V514.72H947.33V512.63H949.94V510.53H953.82V508.43H950.09V506.33H958.59V504.23H967.78V502.13H965.44V500.03H954.84V497.93H963.38V495.83H954.52V493.73H957.74V491.63H954.45V489.54H973V487.44H946.35V485.34H966.01V483.24H969.26V481.14H971.84V479.04H973.74V476.94H982.27V474.84H976.18V472.74H977.17V470.64H987.05V468.54H979.32V466.44H979.48V464.35H982.83V462.25H990.78V460.15H981.32V458.05H974.7V455.95H989.82V453.85H985.78V451.75H972.28V449.65H989.43V447.55H984.19V445.45H996.89V443.35H989.09V441.26H989.99V439.16H990.15V437.06H994.29V434.96H998.93V432.86H990.88V430.76H973.81V428.66H989.76V426.56H990.24V424.46H997.95V422.36H985.45V420.26H991.69V418.17H998.15V416.07H995.13V413.97H1003.42V411.87H996.09V409.77H988.09V407.67H992.86V405.57H996.43V403.47H996.66V401.37H992.44V399.27H984.24V397.17H985.76V395.07H993.49V392.98H989.2V390.88H997.64V388.78H997.46V386.68H1000.15V384.58H988.84V382.48H1001.92V380.38H984.73V378.28H1003.2V376.18H995.25V374.08H1000.45V371.98H998.72V369.89H999.98V367.79H982.59V365.69H1002.09V363.59H993.51V361.49H997.89V359.39H994.93V357.29H996.22V355.19H999.03V353.09H1000.93V350.99H1005.02V348.89H999.47V346.8H1005.33V344.7H994.91V342.6H982.87V340.5H1006.56V338.4H998.39V336.3H1001.94V334.2H1000.7V332.1H1000.55V330H1001.45V327.9H984.8V325.8H1000.01V323.7H999.17V321.61H1002.26V319.51H1001.8V317.41H990.89V315.31H1001.36V313.21H989.14V311.11H995.04V309.01H999.03V306.91H987.95V304.81H994.25V302.71H999.32V300.61H1002.63V298.52H1001.77V296.42H1000.96V294.32H1008V292.22H1005.76V290.12H988.01V288.02H1006.5V285.92H1006.71V283.82H992.37V281.72H1003.67V279.62H1006.67V277.52H1007.07V275.43H1002.17V273.33H1006.53V271.23H1004.65V269.13H1004.98V267.03H990.07V264.93H1008.95V262.83H1008.17V260.73H991.57V258.63H997.99V256.53H1004.62V254.43H1006.57V252.33H1006.62V250.24H1009.91V248.14H1009.29V246.04H994.19V243.94H998.16V241.84H1006.63V239.74H1004.47V237.64H1006.8V235.54H1007.01V233.44H1007.54V231.34H1007.17V229.24H1005.05V227.15H1008.47V225.05H1005.93V222.95H1005.15V220.85H1011.72V218.75H1011.29V216.65H1007.43V214.55H1007.34V212.45H1012V210.35H995.41V208.25H1005.73V206.15H1011.47V204.06H1009.36V201.96H1001.04V199.86H1001.92V197.76H1010.31V195.66H1012.41V193.56H1009.29V191.46H1012.57V189.36H1008.5V187.26H1012.74V185.16H1012.16V183.06H998.07V180.96H1011.06V178.87H1011.65V176.77H1006.3V174.67H1006.17V172.57H1013.96V170.47H1014.96V168.37H1014.12V166.27H1011.25V164.17H1013.68V162.07H1012.09V159.97H1013.79V157.87H1013.65V155.78H1014.21V153.68H1016.6V151.58H1016.35V149.48H999.49V147.38H1005.69V145.28H1013.51V143.18H1017.35V141.08H1016.05V138.98H1014.98V136.88H1016.11V134.78H1015.27V132.69H1013.99V130.59H1015.34V128.49H1015.46V126.39H1016.42V124.29H1008.86V122.19H1016.47V120.09H1015.53V117.99H1001.9V115.89H1017.48V113.79H1017.35V111.69H1012.38V109.59H1017.62V107.5H1019.6V105.4H1019.24V103.3H1017.7V101.2H1018.59V99.1H1020.39V97H1027.5Z" fill="#000" shape-rendering="crispEdges"/><path d="M1028 574.5V693.5H1521.5V574.5" stroke="#262626" stroke-width="2.4" fill="none"/><path d="M1027.5 693.5L1027.5 701.5" stroke="#262626" stroke-width="2.4" fill="none"/><path d="M1126.7 693.5L1126.7 701.5" stroke="#262626" stroke-width="2.4" fill="none"/><path d="M1225.9 693.5L1225.9 701.5" stroke="#262626" stroke-width="2.4" fill="none"/><path d="M1325.1 693.5L1325.1 701.5" stroke="#262626" stroke-width="2.4" fill="none"/><path d="M1424.3 693.5L1424.3 701.5" stroke="#262626" stroke-width="2.4" fill="none"/><path d="M1028 658.5L1021 658.5" stroke="#262626" stroke-width="2.4" fill="none"/><path d="M1521.5 658.5L1527.5 658.5" stroke="#262626" stroke-width="2.4" fill="none"/><path d="M1521.5 574.5L1527.5 574.5" stroke="#262626" stroke-width="2.4" fill="none"/><path d="M1028 574V574H1030V574H1032.01V589.66H1034.01V602.66H1036.02V646.08H1038.02V642.09H1040.02V658.29H1042.03V668.95H1044.03V666.73H1046.04V667.2H1048.04V665.7H1050.04V674.06H1052.05V678.81H1054.05V655.3H1056.06V684H1058.06V655.87H1060.07V675.48H1062.07V644.69H1064.07V664.38H1066.08V655.53H1068.08V653.35H1070.09V659.96H1072.09V650.72H1074.09V654.35H1076.1V659.29H1078.1V663.87H1080.11V658.8H1082.11V653.88H1084.11V653.44H1086.12V644.07H1088.12V633.06H1090.13V649.72H1092.13V644.41H1094.13V637.45H1096.14V638.74H1098.14V630.62H1100.15V644.55H1102.15V649.52H1104.15V631.64H1106.16V656.86H1108.16V638.34H1110.17V631.08H1112.17V620.63H1114.17V637.27H1116.18V628.76H1118.18V628.3H1120.19V631.63H1122.19V621.12H1124.2V621.22H1126.2V614.63H1128.2V619.04H1130.21V620.54H1132.21V619.66H1134.22V616.81H1136.22V620.2H1138.22V634.87H1140.23V616.21H1142.23V608.53H1144.24V607.95H1146.24V608.36H1148.24V618.42H1150.25V613.36H1152.25V627.52H1154.26V618.65H1156.26V608.81H1158.26V621.92H1160.27V618.82H1162.27V619.01H1164.28V611.02H1166.28V604.93H1168.28V608.74H1170.29V614.24H1172.29V622.56H1174.3V607.97H1176.3V618.11H1178.3V611.77H1180.31V609.65H1182.31V620.83H1184.32V606.71H1186.32V608.57H1188.33V607.76H1190.33V605.7H1192.33V606.83H1194.34V614.39H1196.34V600.61H1198.35V604.36H1200.35V601.65H1202.35V607.22H1204.36V622.48H1206.36V603.99H1208.37V608.79H1210.37V605.58H1212.37V615.69H1214.38V606.64H1216.38V617.07H1218.39V608.65H1220.39V602.62H1222.39V618.03H1224.4V600.86H1226.4V599.8H1228.41V601.94H1230.41V606.19H1232.41V599.06H1234.42V605.16H1236.42V609.64H1238.43V600.28H1240.43V612.97H1242.43V598.97H1244.44V615.25H1246.44V606.08H1248.45V593.25H1250.45V602.13H1252.46V605.69H1254.46V604.41H1256.46V614.57H1258.47V601.21H1260.47V602.94H1262.48V603.11H1264.48V600.96H1266.48V601.65H1268.49V603.57H1270.49V603.76H1272.5V599.01H1274.5V600.68H1276.5V616H1278.51V603.04H1280.51V598.91H1282.52V608.76H1284.52V603.38H1286.52V609.98H1288.53V598.91H1290.53V604.42H1292.54V600.99H1294.54V595.38H1296.54V599.56H1298.55V598.23H1300.55V599.98H1302.56V607.24H1304.56V615.98H1306.57V597H1308.57V597H1310.57V601.74H1312.58V589.24H1314.58V614.57H1316.59V602.57H1318.59V604.56H1320.59V600.43H1322.6V601.82H1324.6V602.44H1326.61V597.35H1328.61V595.05H1330.61V602.99H1332.62V600.86H1334.62V599.83H1336.63V602.47H1338.63V599.01H1340.63V617H1342.64V606.6H1344.64V612.51H1346.65V593.99H1348.65V600.75H1350.65V596.56H1352.66V597.93H1354.66V608.85H1356.67V595.59H1358.67V598.86H1360.67V592.26H1362.68V608.85H1364.68V612.57H1366.69V604.58H1368.69V596.67H1370.7V593.68H1372.7V598.94H1374.7V599.03H1376.71V594.69H1378.71V592.09H1380.72V602.51H1382.72V593.57H1384.72V594.32H1386.73V597.64H1388.73V597.01H1390.74V598.12H1392.74V590.21H1394.74V597.41H1396.75V598.56H1398.75V594.85H1400.76V593.79H1402.76V596.51H1404.76V608.7H1406.77V593.99H1408.77V609.89H1410.78V596.99H1412.78V591.01H1414.78V590.16H1416.79V597.48H1418.79V594.31H1420.8V593.93H1422.8V598.53H1424.8V604.68H1426.81V595.75H1428.81V589.5H1430.82V599.8H1432.82V595.43H1434.83V595.01H1436.83V592.72H1438.83V607.03H1440.84V600.67H1442.84V591.94H1444.85V592.67H1446.85V593.05H1448.85V591.1H1450.86V594.45H1452.86V598.32H1454.87V601.96H1456.87V593.8H1458.87V599.26H1460.88V591.02H1462.88V591.19H1464.89V592.2H1466.89V609.4H1468.89V590.05H1470.9V590.13H1472.9V595.43H1474.91V591.84H1476.91V591.78H1478.91V591.52H1480.92V589.25H1482.92V589.02H1484.93V591.82H1486.93V594.6H1488.93V588.9H1490.94V588.56H1492.94V589.34H1494.95V589.01H1496.95V590.1H1498.96V591.03H1500.96V590H1502.96V589.47H1504.97V588.75H1506.97V597.84H1508.98V590.76H1510.98V588.73H1512.98V588.76H1514.99V589.05H1516.99V586.71H1519V584.47H1521V574Z" fill="#000" shape-rendering="crispEdges"/><filter id="bla29" x="-5%" y="-5%" width="110%" height="110%"><feGaussianBlur stdDeviation="2.0"/></filter><clipPath id="cpa29"><rect x="1027" y="96" width="494.5" height="478.5"/></clipPath><g clip-path="url(#cpa29)"><g filter="url(#bla29)"><rect x="1015" y="84" width="518.5" height="502.5" fill="#0000af"/><g transform="translate(1027,574.5) scale(4.9450,-4.7850) translate(0,0.5)" fill="none" stroke-width="1.08"><path stroke="#000097" d="M28 0h2M36 0h1M42 0h6M55 0h2M73 0h2M78 0h11M99 0h3M85 1h1M99 12h3M46 16h2M47 17h2M92 17h3M61 18h2M92 18h3M58 19h2M85 20h1M53 21h1M67 21h1M84 21h3M52 22h2M75 22h1M83 22h5M75 23h2M83 23h5M97 23h5M75 24h3M83 24h3M98 24h4M47 25h1M75 25h3M83 25h1M99 25h3M47 26h2M62 26h2M31 27h1M62 27h1M31 28h1M89 28h1M88 29h2M43 30h1M53 30h1M88 30h2M26 31h2M53 31h3M68 31h1M83 31h2M87 31h4M53 32h3M83 32h2M88 32h3M94 32h1M-2 33h3M53 33h3M82 33h3M90 33h6M-2 34h3M54 34h2M82 34h3M90 34h6M-2 35h3M21 35h3M30 35h6M55 35h2M90 35h1M-2 36h3M22 36h2M31 36h5M89 36h1M98 36h4M-2 37h4M31 37h3M38 37h1M56 37h1M87 37h4M98 37h4M-2 38h3M31 38h1M38 38h2M56 38h12M79 38h1M87 38h4M98 38h4M-2 39h3M31 39h1M38 39h1M54 39h15M79 39h2M88 39h3M97 39h5M30 40h2M53 40h14M80 40h4M89 40h2M96 40h6M30 41h2M44 41h1M52 41h15M81 41h4M89 41h2M96 41h6M30 42h2M42 42h3M48 42h1M52 42h2M58 42h2M82 42h3M89 42h13M31 43h2M42 43h3M52 43h1M58 43h2M74 43h2M82 43h3M88 43h11M31 44h2M42 44h3M58 44h2M75 44h3M82 44h3M88 44h7M31 45h3M42 45h3M48 45h1M57 45h3M76 45h10M89 45h6M29 46h5M42 46h3M55 46h2M77 46h8M89 46h6M26 47h5M56 47h1M78 47h6M89 47h5M97 47h2M-2 48h3M25 48h5M78 48h1M82 48h2M88 48h6M97 48h5M23 49h5M82 49h2M87 49h7M97 49h5M23 50h3M82 50h4M89 50h2M96 50h1M23 51h3M69 51h2M81 51h5M31 52h1M81 52h5M8 53h1M31 53h2M37 53h3M55 53h1M84 53h1M37 54h4M55 54h2M66 54h2M73 54h3M80 54h1M97 54h1M38 55h2M55 55h3M65 55h3M72 55h4M79 55h2M96 55h6M-2 56h3M25 56h1M32 56h2M55 56h3M61 56h1M67 56h3M74 56h3M78 56h2M91 56h2M96 56h6M-2 57h3M26 57h1M32 57h1M52 57h10M67 57h2M74 57h2M87 57h2M90 57h3M96 57h1M-2 58h3M26 58h2M51 58h11M67 58h1M74 58h2M87 58h9M-2 59h3M26 59h3M51 59h6M58 59h6M72 59h4M87 59h9M-2 60h3M25 60h4M53 60h3M60 60h4M71 60h6M86 60h10M40 61h1M53 61h2M71 61h5M82 61h1M90 61h1M94 61h2M39 62h3M53 62h3M67 62h2M72 62h3M82 62h1M94 62h8M14 63h1M37 63h3M53 63h3M66 63h3M72 63h3M82 63h2M85 63h1M97 63h2M31 64h1M36 64h3M48 64h3M54 64h3M66 64h3M72 64h3M97 64h1M3 65h2M18 65h2M28 65h6M36 65h2M49 65h2M55 65h2M68 65h1M72 65h3M97 65h1M3 66h2M27 66h2M32 66h2M49 66h2M72 66h2M96 66h2M4 67h1M28 67h1M32 67h1M49 67h3M68 67h1M72 67h2M95 67h7M27 68h2M32 68h2M42 68h1M48 68h1M60 68h2M67 68h3M71 68h2M91 68h11M27 69h8M40 69h3M48 69h1M58 69h4M68 69h1M85 69h1M92 69h10M29 70h7M39 70h4M47 70h2M58 70h2M92 70h10M29 71h7M39 71h4M47 71h3M59 71h1M63 71h1M77 71h1M92 71h2M95 71h7M29 72h3M35 72h1M40 72h9M63 72h3M74 72h4M96 72h6M26 73h6M40 73h9M62 73h5M73 73h9M97 73h5M-2 74h3M26 74h6M40 74h9M62 74h5M72 74h10M87 74h6M97 74h5M-2 75h3M28 75h2M41 75h5M52 75h2M62 75h3M71 75h5M79 75h2M86 75h8M98 75h4M41 76h4M52 76h3M62 76h3M68 76h7M79 76h2M84 76h11M98 76h4M41 77h3M52 77h5M62 77h2M68 77h6M79 77h2M84 77h11M98 77h4M39 78h1M43 78h1M56 78h1M71 78h3M80 78h3M86 78h10M39 79h1M43 79h1M71 79h3M81 79h2M86 79h3M92 79h2M38 80h2M43 80h5M64 80h1M71 80h1M81 80h2M86 80h3M92 80h2M34 81h1M38 81h11M53 81h2M63 81h3M70 81h2M84 81h5M92 81h2M97 81h5M38 82h6M47 82h2M53 82h1M63 82h3M71 82h1M80 82h1M84 82h18M22 83h3M39 83h5M52 83h1M61 83h4M71 83h5M79 83h2M84 83h18M22 84h2M39 84h5M51 84h2M57 84h7M71 84h17M91 84h5M99 84h3M23 85h1M39 85h6M56 85h8M70 85h18M91 85h5M99 85h3M32 86h1M39 86h6M53 86h11M69 86h1M73 86h4M81 86h4M91 86h5M99 86h3M31 87h2M39 87h4M53 87h4M63 87h1M73 87h4M82 87h3M88 87h14M27 88h5M40 88h3M52 88h5M64 88h1M73 88h1M88 88h1M96 88h6M28 89h4M42 89h1M52 89h5M64 89h1M87 89h2M96 89h6M-2 90h3M16 90h2M43 90h1M51 90h9M64 90h1M77 90h2M96 90h2M-2 91h4M49 91h11M64 91h5M72 91h1M78 91h1M83 91h2M90 91h2M-2 92h3M48 92h12M64 92h2M69 92h4M81 92h4M90 92h2M-2 93h3M25 93h1M51 93h8M69 93h5M81 93h5M90 93h2M-2 94h3M21 94h7M51 94h6M69 94h5M81 94h6M90 94h5M-2 95h3M20 95h4M35 95h4M54 95h3M66 95h8M83 95h4M90 95h5M20 96h2M35 96h3M54 96h3M63 96h11M83 96h11M99 96h3M35 97h3M42 97h1M54 97h5M63 97h8M79 97h1M83 97h10M98 97h4M34 98h4M41 98h3M53 98h7M63 98h8M77 98h16M97 98h5M-2 99h6M23 99h2M34 99h4M41 99h2M49 99h10M64 99h7M74 99h19M98 99h4"/><path stroke="#0000c7" d="M-2 0h3M3 0h3M26 0h1M53 0h1M64 0h1M68 0h2M97 0h1M20 1h2M36 1h1M43 1h1M45 1h1M55 1h1M73 1h1M75 1h1M77 1h1M90 1h1M47 2h1M56 2h2M77 2h3M90 2h1M78 3h2M88 3h1M91 3h1M62 4h1M76 4h2M79 4h1M90 4h3M62 5h1M76 5h1M92 5h1M77 6h1M99 6h3M77 7h1M89 7h1M91 7h1M97 7h5M41 8h1M77 8h3M88 8h1M91 8h1M96 8h1M98 8h1M25 10h1M50 10h1M90 10h1M25 11h2M50 11h1M97 11h1M50 12h1M52 12h1M96 12h1M50 13h2M74 13h1M96 13h1M49 14h1M77 14h1M92 14h2M96 14h3M43 15h3M48 15h1M72 15h3M77 15h1M93 15h1M96 15h1M40 16h2M44 16h1M67 16h2M72 16h1M83 16h2M86 16h1M91 16h1M94 16h2M40 17h2M45 17h1M49 17h1M53 17h2M58 17h1M60 17h3M67 17h1M70 17h3M82 17h1M84 17h1M86 17h1M97 17h2M42 18h1M53 18h4M63 18h1M67 18h4M83 18h6M90 18h1M29 19h1M42 19h1M47 19h1M53 19h2M56 19h1M63 19h1M66 19h2M84 19h1M86 19h1M91 19h1M94 19h1M97 19h1M28 20h1M30 20h1M35 20h1M38 20h2M42 20h1M45 20h2M54 20h1M60 20h1M62 20h2M68 20h2M87 20h1M93 20h1M95 20h1M97 20h1M11 21h1M27 21h1M30 21h1M37 21h1M39 21h1M51 21h1M55 21h1M58 21h2M65 21h1M69 21h1M72 21h1M91 21h1M98 21h4M-2 22h3M11 22h1M21 22h1M37 22h1M39 22h1M51 22h1M55 22h1M59 22h1M66 22h1M69 22h1M73 22h1M82 22h1M88 22h1M93 22h1M95 22h1M-2 23h3M28 23h1M37 23h2M48 23h1M51 23h1M54 23h2M57 23h1M59 23h1M66 23h1M78 23h1M82 23h1M89 23h1M20 24h2M37 24h2M43 24h2M47 24h1M49 24h1M52 24h4M57 24h3M64 24h3M73 24h1M87 24h2M90 24h1M20 25h1M32 25h1M36 25h2M39 25h1M42 25h1M49 25h1M52 25h5M58 25h2M62 25h1M65 25h2M70 25h1M73 25h1M79 25h3M85 25h2M91 25h1M93 25h1M97 25h1M29 26h1M32 26h1M39 26h3M44 26h1M53 26h1M55 26h1M58 26h2M64 26h1M66 26h2M69 26h2M74 26h1M77 26h2M82 26h1M85 26h1M93 26h1M99 26h3M29 27h1M33 27h1M35 27h1M40 27h2M45 27h2M49 27h3M58 27h3M64 27h1M75 27h2M85 27h5M93 27h1M96 27h1M33 28h3M37 28h1M40 28h2M43 28h10M58 28h1M61 28h3M75 28h2M84 28h3M97 28h1M99 28h3M32 29h1M39 29h1M45 29h4M51 29h1M73 29h1M76 29h1M82 29h3M86 29h1M91 29h3M95 29h1M98 29h1M27 30h3M32 30h1M39 30h1M45 30h1M47 30h2M55 30h1M67 30h1M69 30h1M73 30h2M77 30h2M84 30h3M91 30h6M98 30h1M31 31h1M40 31h1M57 31h2M71 31h1M80 31h2M91 31h3M95 31h3M18 32h2M25 32h1M40 32h5M57 32h1M67 32h1M71 32h1M74 32h1M77 32h5M96 32h1M17 33h1M19 33h1M27 33h4M40 33h3M65 33h2M68 33h1M70 33h2M73 33h3M80 33h1M86 33h1M88 33h1M97 33h1M17 34h4M27 34h1M32 34h2M35 34h2M40 34h1M42 34h1M44 34h2M47 34h1M50 34h2M57 34h1M65 34h1M71 34h1M73 34h1M89 34h1M97 34h1M99 34h3M1 35h1M17 35h1M19 35h1M24 35h1M37 35h2M41 35h3M47 35h1M50 35h2M57 35h1M65 35h2M68 35h1M70 35h1M80 35h2M86 35h1M92 35h1M2 36h1M15 36h2M20 36h1M25 36h1M39 36h2M43 36h1M47 36h4M64 36h8M73 36h1M78 36h1M80 36h1M87 36h1M91 36h1M2 37h1M15 37h2M24 37h2M28 37h2M36 37h1M43 37h1M47 37h2M50 37h1M55 37h1M63 37h1M68 37h1M76 37h2M80 37h1M85 37h1M91 37h1M97 37h1M2 38h1M22 38h2M27 38h1M29 38h1M33 38h1M37 38h1M41 38h3M54 38h1M69 38h3M75 38h3M81 38h1M91 38h1M1 39h1M23 39h1M29 39h1M32 39h1M40 39h4M52 39h1M72 39h4M84 39h1M87 39h1M95 39h1M29 40h1M40 40h1M42 40h6M51 40h1M71 40h3M75 40h1M78 40h1M91 40h1M95 40h1M-2 41h3M13 41h1M29 41h1M37 41h1M40 41h2M67 41h5M73 41h1M76 41h1M79 41h1M85 41h1M88 41h1M92 41h3M-2 42h3M13 42h2M27 42h2M46 42h1M55 42h2M67 42h1M69 42h1M71 42h3M76 42h1M87 42h1M-2 43h3M13 43h1M27 43h3M33 43h1M45 43h1M47 43h1M50 43h1M54 43h1M57 43h1M61 43h3M65 43h1M77 43h2M86 43h2M-2 44h3M13 44h4M27 44h3M39 44h2M45 44h1M47 44h1M53 44h4M61 44h1M69 44h1M72 44h2M-2 45h3M16 45h1M28 45h2M34 45h1M38 45h1M40 45h1M46 45h1M52 45h3M61 45h1M71 45h1M74 45h1M96 45h3M-2 46h3M12 46h4M22 46h1M26 46h2M40 46h1M49 46h5M58 46h4M68 46h1M72 46h4M86 46h2M22 47h3M33 47h2M37 47h1M40 47h1M43 47h2M47 47h1M54 47h1M61 47h3M67 47h1M70 47h1M74 47h1M86 47h1M1 48h1M21 48h1M36 48h1M42 48h1M55 48h1M58 48h1M62 48h1M65 48h2M69 48h1M77 48h1M85 48h1M95 48h1M17 49h1M20 49h2M29 49h1M43 49h1M47 49h2M51 49h1M58 49h1M63 49h5M72 49h1M74 49h1M80 49h1M16 50h1M19 50h3M27 50h2M40 50h1M43 50h1M47 50h1M52 50h1M56 50h1M58 50h2M71 50h1M77 50h1M-2 51h3M8 51h1M11 51h1M15 51h1M27 51h3M48 51h1M51 51h2M54 51h3M67 51h1M79 51h1M87 51h5M94 51h2M97 51h1M7 52h1M9 52h2M15 52h2M22 52h1M24 52h1M27 52h2M39 52h1M48 52h1M54 52h1M56 52h1M67 52h1M77 52h3M87 52h2M96 52h1M-2 53h3M25 53h2M30 53h1M33 53h1M48 53h1M50 53h1M65 53h2M69 53h3M75 53h5M86 53h4M95 53h3M-2 54h3M7 54h1M9 54h1M25 54h2M31 54h1M34 54h2M42 54h1M49 54h2M58 54h1M61 54h3M69 54h3M77 54h1M82 54h1M85 54h4M91 54h2M95 54h1M16 55h1M21 55h1M23 55h1M31 55h1M34 55h3M42 55h1M58 55h1M60 55h1M82 55h1M85 55h3M93 55h1M95 55h1M17 56h1M27 56h1M34 56h1M37 56h1M39 56h1M52 56h2M63 56h2M81 56h1M84 56h1M86 56h1M88 56h1M90 56h1M94 56h1M22 57h3M28 57h3M34 57h1M37 57h1M43 57h2M50 57h1M63 57h1M65 57h1M70 57h3M80 57h4M85 57h1M13 58h1M29 58h3M33 58h4M38 58h1M49 58h1M64 58h2M69 58h4M77 58h2M80 58h3M97 58h1M99 58h3M1 59h1M32 59h4M66 59h1M69 59h2M77 59h3M81 59h1M85 59h1M99 59h3M1 60h1M18 60h2M23 60h1M33 60h1M35 60h1M39 60h2M50 60h2M56 60h1M58 60h1M65 60h6M83 60h1M85 60h1M96 60h1M99 60h3M1 61h1M15 61h1M18 61h2M26 61h3M30 61h1M33 61h1M38 61h1M47 61h3M60 61h7M69 61h1M77 61h1M80 61h1M83 61h3M97 61h2M1 62h1M11 62h1M31 62h2M36 62h1M42 62h1M45 62h2M49 62h1M56 62h1M65 62h1M76 62h2M80 62h1M87 62h3M91 62h2M-2 63h3M2 63h2M10 63h3M19 63h1M23 63h2M30 63h1M32 63h1M35 63h1M45 63h2M50 63h1M70 63h1M87 63h1M90 63h3M4 64h1M13 64h1M15 64h3M20 64h1M23 64h2M28 64h1M39 64h1M41 64h1M57 64h1M60 64h1M63 64h1M70 64h1M75 64h1M77 64h1M81 64h1M87 64h1M91 64h1M94 64h2M99 64h3M13 65h4M20 65h1M23 65h3M43 65h1M52 65h1M57 65h1M59 65h1M61 65h2M70 65h1M75 65h1M77 65h2M84 65h2M91 65h1M93 65h2M98 65h1M2 66h1M13 66h2M17 66h1M26 66h1M34 66h1M36 66h2M43 66h1M47 66h1M52 66h3M57 66h1M62 66h1M64 66h3M70 66h1M75 66h2M79 66h1M81 66h1M84 66h1M89 66h1M91 66h3M99 66h3M13 67h2M19 67h1M30 67h1M42 67h2M53 67h1M55 67h1M57 67h1M59 67h1M65 67h1M75 67h2M78 67h1M81 67h1M83 67h1M88 67h2M-2 68h3M6 68h1M20 68h2M26 68h1M34 68h1M44 68h2M58 68h1M62 68h1M64 68h1M75 68h1M77 68h2M86 68h1M89 68h1M-2 69h3M5 69h2M36 69h1M38 69h1M46 69h1M50 69h2M53 69h1M56 69h1M70 69h1M73 69h3M78 69h1M81 69h1M83 69h1M86 69h1M-2 70h3M3 70h2M19 70h1M22 70h2M36 70h1M38 70h1M43 70h1M50 70h3M57 70h1M65 70h4M72 70h1M75 70h1M82 70h3M86 70h1M91 70h1M-2 71h3M13 71h2M27 71h1M36 71h1M38 71h1M44 71h1M51 71h1M57 71h1M61 71h1M65 71h2M72 71h3M79 71h1M82 71h1M91 71h1M14 72h2M25 72h1M38 72h1M50 72h1M58 72h1M72 72h1M82 72h1M91 72h1M93 72h1M95 72h1M14 73h1M33 73h1M39 73h1M50 73h1M59 73h2M70 73h2M82 73h1M1 74h1M15 74h2M21 74h2M24 74h1M36 74h1M39 74h1M50 74h5M61 74h1M68 74h3M82 74h1M93 74h1M95 74h1M1 75h1M20 75h5M31 75h1M37 75h3M61 75h1M82 75h2M1 76h1M22 76h5M30 76h1M35 76h1M38 76h2M46 76h3M56 76h3M65 76h2M77 76h1M82 76h1M96 76h1M-2 77h3M13 77h1M22 77h7M30 77h1M36 77h1M46 77h2M51 77h1M58 77h1M60 77h1M65 77h2M75 77h3M-2 78h3M10 78h4M23 78h7M31 78h2M37 78h1M45 78h3M51 78h1M58 78h2M64 78h3M75 78h1M78 78h1M28 79h1M33 79h1M41 79h1M48 79h1M52 79h3M58 79h2M61 79h3M65 79h5M75 79h1M79 79h1M84 79h1M98 79h1M1 80h2M28 80h5M35 80h1M37 80h1M49 80h1M52 80h1M58 80h1M60 80h3M66 80h4M75 80h1M90 80h1M95 80h1M1 81h4M32 81h1M51 81h1M59 81h2M62 81h1M67 81h2M73 81h3M79 81h1M20 82h3M24 82h1M30 82h3M35 82h2M50 82h2M56 82h6M67 82h1M69 82h1M78 82h1M82 82h1M9 83h1M11 83h1M19 83h1M26 83h1M30 83h3M34 83h1M45 83h2M55 83h1M66 83h1M70 83h1M77 83h1M-2 84h3M9 84h1M16 84h1M19 84h2M25 84h2M30 84h4M38 84h1M45 84h4M54 84h1M65 84h1M-2 85h3M10 85h2M16 85h3M25 85h1M30 85h1M38 85h1M45 85h1M48 85h2M68 85h1M89 85h1M97 85h1M-2 86h3M7 86h1M22 86h1M25 86h2M30 86h1M46 86h6M64 86h1M78 86h2M-2 87h3M18 87h3M22 87h1M29 87h1M37 87h1M48 87h1M51 87h1M67 87h1M70 87h2M77 87h1M80 87h1M86 87h1M-2 88h3M20 88h1M22 88h3M33 88h4M44 88h1M47 88h1M51 88h1M58 88h5M66 88h1M71 88h1M78 88h1M81 88h1M93 88h2M1 89h1M16 89h1M21 89h2M25 89h2M32 89h1M35 89h1M38 89h3M46 89h1M61 89h2M66 89h1M69 89h1M74 89h2M79 89h1M83 89h1M90 89h3M95 89h1M2 90h1M14 90h1M19 90h1M21 90h2M27 90h1M32 90h1M35 90h1M38 90h2M41 90h1M45 90h1M49 90h1M61 90h2M69 90h1M71 90h1M74 90h2M82 90h2M92 90h1M99 90h3M2 91h1M6 91h2M15 91h1M18 91h1M21 91h2M24 91h3M33 91h2M37 91h5M44 91h4M61 91h2M70 91h1M76 91h1M81 91h1M86 91h3M93 91h2M98 91h1M5 92h2M9 92h3M17 92h2M21 92h4M26 92h1M33 92h1M36 92h1M38 92h1M40 92h1M43 92h3M61 92h2M74 92h1M77 92h1M86 92h2M89 92h1M93 92h6M5 93h3M17 93h2M20 93h1M28 93h1M36 93h1M38 93h1M40 93h1M46 93h1M61 93h1M67 93h1M75 93h2M78 93h2M87 93h1M89 93h1M96 93h6M7 94h2M10 94h2M17 94h1M29 94h1M34 94h1M37 94h1M40 94h1M47 94h3M59 94h3M64 94h1M75 94h2M88 94h1M96 94h1M99 94h3M7 95h1M14 95h1M17 95h1M30 95h3M34 95h1M49 95h1M58 95h1M75 95h3M1 96h1M8 96h1M17 96h2M23 96h2M26 96h7M34 96h1M39 96h1M42 96h1M48 96h1M58 96h2M62 96h1M75 96h3M81 96h1M95 96h1M98 96h1M1 97h3M6 97h1M8 97h4M13 97h1M20 97h1M23 97h3M33 97h1M38 97h1M40 97h1M44 97h1M48 97h1M50 97h1M61 97h1M74 97h4M94 97h3M4 98h1M6 98h3M10 98h2M13 98h1M16 98h2M21 98h1M33 98h1M38 98h1M40 98h1M44 98h1M48 98h1M61 98h1M72 98h1M93 98h1M96 98h1M8 99h1M12 99h1M17 99h1M30 99h3M39 99h1"/><path stroke="#0000de" d="M1 0h2M8 0h2M15 0h2M19 0h1M22 0h1M34 0h1M48 0h1M52 0h1M58 0h1M61 0h1M90 0h1M92 0h2M19 1h1M30 1h1M35 1h1M38 1h1M40 1h1M44 1h1M48 1h1M58 1h1M62 1h2M65 1h2M72 1h1M76 1h1M98 1h1M28 2h2M37 2h2M41 2h2M46 2h1M74 2h3M80 2h8M91 2h1M99 2h3M62 3h1M76 3h2M80 3h1M63 4h3M75 4h1M89 4h1M93 4h1M96 4h1M63 5h1M66 5h3M75 5h1M80 5h1M90 5h2M93 5h1M97 5h1M62 6h1M76 6h1M80 6h1M90 6h3M97 6h2M41 7h1M76 7h1M86 7h3M92 7h1M96 7h1M40 8h1M42 8h1M55 8h1M76 8h1M87 8h1M92 8h2M95 8h1M99 8h3M42 9h1M60 9h2M77 9h2M87 9h1M91 9h2M95 9h4M26 10h1M51 10h1M88 10h1M98 10h4M37 11h1M52 11h1M78 11h4M89 11h3M96 11h1M36 12h2M78 12h1M92 12h1M95 12h1M29 13h1M36 13h2M47 13h3M67 13h2M73 13h1M75 13h4M92 13h4M44 14h5M50 14h1M67 14h1M72 14h1M78 14h1M94 14h1M-2 15h3M41 15h2M49 15h1M67 15h1M78 15h1M87 15h1M-2 16h3M37 16h3M49 16h1M54 16h1M69 16h1M73 16h1M75 16h3M82 16h1M85 16h1M89 16h2M-2 17h3M23 17h1M34 17h1M39 17h1M43 17h1M55 17h1M57 17h1M59 17h1M63 17h1M73 17h1M85 17h1M-2 18h3M22 18h2M29 18h1M34 18h2M41 18h1M45 18h1M49 18h1M52 18h1M66 18h1M71 18h2M89 18h1M97 18h1M-2 19h3M28 19h1M30 19h1M34 19h2M39 19h3M43 19h1M45 19h1M48 19h1M52 19h1M55 19h1M64 19h1M68 19h2M74 19h3M87 19h1M-2 20h3M11 20h1M34 20h1M36 20h2M40 20h2M43 20h2M52 20h1M55 20h3M61 20h1M64 20h2M73 20h1M76 20h1M83 20h1M91 20h1M94 20h1M98 20h1M-2 21h3M10 21h1M36 21h1M40 21h7M50 21h1M56 21h2M63 21h2M70 21h2M76 21h1M79 21h4M93 21h1M95 21h1M10 22h1M22 22h1M26 22h1M29 22h1M50 22h1M56 22h2M65 22h1M72 22h1M77 22h1M90 22h1M20 23h1M22 23h1M26 23h1M39 23h1M43 23h1M49 23h1M56 23h1M65 23h1M73 23h1M93 23h1M95 23h1M1 24h1M27 24h2M32 24h2M36 24h1M39 24h1M42 24h1M45 24h2M51 24h1M56 24h1M63 24h1M70 24h1M79 24h1M81 24h1M89 24h1M93 24h1M96 24h1M1 25h1M19 25h1M21 25h1M29 25h3M33 25h1M35 25h1M40 25h2M57 25h1M60 25h2M71 25h2M19 26h1M33 26h1M35 26h1M42 26h2M50 26h3M56 26h2M65 26h1M68 26h1M71 26h3M79 26h1M86 26h2M90 26h1M94 26h1M96 26h3M-2 27h3M34 27h1M38 27h2M42 27h3M52 27h3M57 27h1M65 27h2M69 27h3M77 27h2M82 27h1M95 27h1M97 27h1M99 27h3M22 28h2M29 28h1M38 28h2M42 28h1M53 28h1M57 28h1M59 28h2M64 28h1M74 28h1M77 28h1M82 28h1M93 28h1M95 28h1M98 28h1M25 29h5M36 29h1M38 29h1M49 29h2M54 29h1M58 29h1M67 29h2M72 29h1M77 29h1M85 29h1M94 29h1M99 29h3M24 30h1M46 30h1M51 30h1M56 30h1M58 30h1M70 30h3M79 30h1M81 30h1M19 31h2M24 31h1M32 31h1M39 31h1M45 31h1M48 31h1M51 31h1M59 31h1M72 31h3M98 31h1M1 32h1M20 32h1M31 32h1M35 32h5M45 32h1M47 32h2M51 32h1M58 32h3M66 32h1M72 32h2M97 32h1M1 33h1M20 33h1M24 33h1M26 33h1M31 33h1M34 33h6M43 33h9M57 33h1M64 33h1M69 33h1M72 33h1M76 33h1M87 33h1M98 33h1M1 34h1M16 34h1M24 34h1M37 34h3M43 34h1M63 34h2M68 34h1M70 34h1M74 34h1M80 34h1M86 34h1M88 34h1M98 34h1M16 35h1M18 35h1M25 35h2M39 35h2M52 35h2M58 35h1M64 35h1M69 35h1M74 35h1M79 35h1M87 35h2M13 36h2M17 36h3M41 36h2M51 36h1M54 36h1M58 36h6M74 36h4M81 36h4M94 36h3M14 37h1M21 37h1M41 37h2M44 37h1M51 37h1M69 37h7M16 38h1M26 38h1M28 38h1M34 38h3M49 38h2M52 38h2M72 38h3M82 38h1M85 38h1M92 38h1M96 38h1M22 39h1M33 39h1M36 39h1M76 39h2M85 39h2M1 40h1M22 40h2M33 40h1M36 40h1M41 40h1M48 40h3M76 40h2M85 40h1M87 40h1M92 40h1M94 40h1M12 41h1M14 41h3M28 41h1M33 41h1M36 41h1M72 41h1M77 41h2M86 41h2M12 42h1M15 42h1M26 42h1M33 42h1M37 42h1M68 42h1M77 42h4M86 42h1M3 43h1M12 43h1M14 43h2M18 43h3M26 43h1M38 43h1M46 43h1M55 43h2M64 43h1M67 43h1M69 43h1M79 43h2M12 44h1M17 44h5M34 44h1M38 44h1M46 44h1M62 44h2M65 44h2M99 44h3M12 45h1M19 45h4M27 45h1M68 45h1M72 45h2M16 46h1M21 46h1M23 46h3M37 46h1M62 46h1M99 46h3M1 47h1M9 47h1M12 47h1M21 47h1M35 47h2M45 47h2M48 47h1M52 47h2M58 47h3M64 47h3M75 47h2M18 48h3M31 48h1M35 48h1M43 48h1M47 48h2M59 48h1M61 48h1M70 48h2M75 48h2M30 49h1M37 49h1M49 49h2M52 49h1M55 49h1M59 49h1M62 49h1M70 49h2M75 49h2M-2 50h3M29 50h3M38 50h2M44 50h3M55 50h1M60 50h1M63 50h5M73 50h1M7 51h1M9 51h2M18 51h1M21 51h1M32 51h1M37 51h2M41 51h2M45 51h3M53 51h1M57 51h4M64 51h1M66 51h1M77 51h1M92 51h2M11 52h1M17 52h1M21 52h1M33 52h1M36 52h1M40 52h2M45 52h3M51 52h3M65 52h2M73 52h1M89 52h2M93 52h3M15 53h2M22 53h3M27 53h1M29 53h1M34 53h2M42 53h1M51 53h1M53 53h1M57 53h1M64 53h1M90 53h2M93 53h2M16 54h2M21 54h4M43 54h1M48 54h1M51 54h1M53 54h1M60 54h1M89 54h2M93 54h2M1 55h1M8 55h1M15 55h1M18 55h1M20 55h1M49 55h1M52 55h2M59 55h1M88 55h1M90 55h1M94 55h1M15 56h1M21 56h1M30 56h1M35 56h2M42 56h4M51 56h1M85 56h1M89 56h1M2 57h1M14 57h3M35 57h2M45 57h3M49 57h1M64 57h1M84 57h1M2 58h4M12 58h1M14 58h2M22 58h3M37 58h1M39 58h1M83 58h1M85 58h1M98 58h1M12 59h3M22 59h3M36 59h1M39 59h1M49 59h1M80 59h1M83 59h1M97 59h1M22 60h1M34 60h1M36 60h1M41 60h1M49 60h1M57 60h1M78 60h3M84 60h1M12 61h3M16 61h2M22 61h1M29 61h1M35 61h3M42 61h1M46 61h1M50 61h2M56 61h1M59 61h1M2 62h1M16 62h1M18 62h2M25 62h1M33 62h1M35 62h1M43 62h2M50 62h2M60 62h2M64 62h1M1 63h1M4 63h1M16 63h1M18 63h1M29 63h1M33 63h2M57 63h1M59 63h2M64 63h1M76 63h2M80 63h1M88 63h2M-2 64h4M5 64h1M12 64h1M21 64h2M25 64h1M27 64h1M40 64h1M58 64h2M61 64h2M76 64h1M78 64h1M88 64h3M1 65h1M6 65h1M21 65h2M42 65h1M58 65h1M76 65h1M81 65h1M86 65h5M1 66h1M6 66h1M15 66h2M20 66h1M35 66h1M38 66h1M42 66h1M59 66h1M63 66h1M80 66h1M85 66h1M88 66h1M90 66h1M-2 67h3M2 67h1M6 67h1M17 67h1M20 67h1M26 67h1M34 67h1M36 67h2M40 67h2M58 67h1M62 67h1M64 67h1M82 67h1M86 67h2M3 68h1M13 68h1M22 68h1M35 68h5M53 68h1M55 68h1M63 68h1M81 68h1M83 68h1M87 68h2M3 69h1M7 69h4M37 69h1M55 69h1M82 69h1M90 69h1M12 70h3M37 70h1M46 70h1M53 70h1M56 70h1M69 70h1M71 70h1M73 70h2M1 71h3M11 71h2M15 71h1M24 71h1M37 71h1M45 71h1M67 71h2M86 71h1M1 72h2M11 72h1M13 72h1M37 72h1M51 72h1M67 72h1M71 72h1M87 72h1M90 72h1M94 72h1M1 73h1M16 73h1M24 73h1M37 73h2M51 73h1M54 73h1M58 73h1M68 73h2M86 73h1M93 73h1M95 73h1M14 74h1M20 74h1M23 74h1M37 74h2M59 74h1M83 74h1M85 74h1M94 74h1M2 75h1M15 75h2M19 75h1M55 75h1M58 75h2M14 76h1M18 76h4M32 76h3M59 76h2M6 77h3M12 77h1M14 77h1M18 77h2M21 77h1M32 77h1M48 77h3M59 77h1M14 78h1M21 78h2M48 78h3M76 78h2M1 79h1M11 79h3M24 79h1M27 79h1M34 79h1M37 79h1M49 79h1M51 79h1M78 79h1M3 80h1M36 80h1M50 80h2M79 80h1M5 81h1M15 81h1M20 81h1M23 81h1M29 81h3M50 81h1M61 81h1M78 81h1M1 82h6M9 82h3M15 82h1M29 82h1M68 82h1M76 82h2M1 83h1M7 83h2M15 83h4M29 83h1M37 83h1M67 83h1M8 84h1M15 84h1M34 84h1M69 84h1M7 85h3M15 85h1M19 85h3M26 85h1M34 85h1M46 85h2M6 86h1M8 86h1M10 86h3M14 86h2M18 86h4M27 86h1M34 86h1M67 86h1M21 87h1M34 87h1M49 87h2M65 87h2M17 88h1M21 88h1M48 88h1M70 88h1M79 88h2M2 89h2M15 89h1M23 89h2M33 89h2M47 89h1M50 89h1M71 89h1M80 89h3M94 89h1M3 90h2M20 90h1M24 90h3M33 90h2M40 90h1M46 90h3M70 90h1M80 90h2M93 90h2M3 91h3M8 91h1M14 91h1M23 91h1M27 91h6M74 91h2M2 92h1M4 92h1M12 92h1M16 92h1M20 92h1M27 92h3M37 92h1M41 92h2M75 92h2M88 92h1M99 92h3M2 93h1M4 93h1M12 93h1M19 93h1M29 93h1M33 93h1M37 93h1M45 93h1M88 93h1M2 94h5M9 94h1M12 94h1M15 94h2M31 94h3M46 94h1M97 94h2M2 95h2M6 95h1M8 95h1M10 95h2M33 95h1M41 95h1M48 95h1M59 95h3M96 95h1M98 95h1M2 96h2M6 96h1M9 96h3M13 96h1M25 96h1M33 96h1M43 96h2M51 96h2M60 96h2M96 96h2M4 97h2M12 97h1M17 97h3M26 97h1M31 97h2M39 97h1M51 97h2M5 98h1M9 98h1M14 98h2M26 98h1M32 98h1M39 98h1M94 98h2M9 99h1M11 99h1M13 99h1M18 99h1M21 99h1M26 99h1M29 99h1M44 99h1M60 99h1M62 99h1M96 99h1"/><path stroke="#0000f6" d="M6 0h2M14 0h1M25 0h1M31 0h1M38 0h1M40 0h1M91 0h1M94 0h1M96 0h1M22 1h1M27 1h1M54 1h1M64 1h1M91 1h3M96 1h2M20 2h2M36 2h1M40 2h1M48 2h1M55 2h1M58 2h1M62 2h2M65 2h1M92 2h1M95 2h1M28 3h1M37 3h2M41 3h1M56 3h2M63 3h3M75 3h1M81 3h1M87 3h1M92 3h5M37 4h2M69 4h1M74 4h1M80 4h2M88 4h1M94 4h2M97 4h1M41 5h1M64 5h2M74 5h1M81 5h2M96 5h1M98 5h4M41 6h1M63 6h1M89 6h1M93 6h1M96 6h1M40 7h1M47 7h1M62 7h1M80 7h1M85 7h1M93 7h1M54 8h1M61 8h2M86 8h1M94 8h1M25 9h1M41 9h1M43 9h1M49 9h1M54 9h2M62 9h4M76 9h1M79 9h1M93 9h2M99 9h3M37 10h2M49 10h1M52 10h1M65 10h1M78 10h2M81 10h2M91 10h1M96 10h2M27 11h1M36 11h1M38 11h1M49 11h1M65 11h1M82 11h1M92 11h1M95 11h1M-2 12h3M25 12h1M28 12h1M47 12h3M53 12h1M65 12h1M73 12h1M77 12h1M79 12h4M91 12h1M93 12h2M-2 13h3M28 13h1M45 13h2M52 13h1M54 13h1M66 13h1M-2 14h3M29 14h1M37 14h1M66 14h1M68 14h1M95 14h1M25 15h1M39 15h2M66 15h1M68 15h1M79 15h1M83 15h2M86 15h1M88 15h1M91 15h1M94 15h2M24 16h2M33 16h1M36 16h1M53 16h1M55 16h1M61 16h1M66 16h1M70 16h2M74 16h1M78 16h1M22 17h1M24 17h1M33 17h1M35 17h4M44 17h1M52 17h1M56 17h1M64 17h1M66 17h1M75 17h2M81 17h1M99 17h3M28 18h1M33 18h1M39 18h2M43 18h1M50 18h2M64 18h2M73 18h4M82 18h1M98 18h1M22 19h1M33 19h1M38 19h1M44 19h1M49 19h2M65 19h1M70 19h1M73 19h1M83 19h1M88 19h1M90 19h1M98 19h1M12 20h1M27 20h1M31 20h1M47 20h1M49 20h3M70 20h1M72 20h1M79 20h1M88 20h1M99 20h3M12 21h1M21 21h1M26 21h1M31 21h1M35 21h1M49 21h1M60 21h1M62 21h1M78 21h1M88 21h1M94 21h1M20 22h1M30 22h2M36 22h1M42 22h8M60 22h1M64 22h1M70 22h2M78 22h4M89 22h1M94 22h1M10 23h2M29 23h1M32 23h1M36 23h1M42 23h1M44 23h1M47 23h1M50 23h1M60 23h1M63 23h2M70 23h1M72 23h1M79 23h1M94 23h1M22 24h1M26 24h1M29 24h3M35 24h1M41 24h1M50 24h1M60 24h1M62 24h1M71 24h2M80 24h1M26 25h3M34 25h1M50 25h2M87 25h1M90 25h1M94 25h1M96 25h1M1 26h1M20 26h1M24 26h3M28 26h1M34 26h1M80 26h2M88 26h2M95 26h1M23 27h1M55 27h2M67 27h2M72 27h1M74 27h1M79 27h1M94 27h1M98 27h1M28 28h1M54 28h1M65 28h3M69 28h5M78 28h1M94 28h1M14 29h1M21 29h4M33 29h1M35 29h1M37 29h1M55 29h1M57 29h1M59 29h4M66 29h1M69 29h1M71 29h1M78 29h1M81 29h1M-2 30h3M38 30h1M49 30h1M57 30h1M59 30h1M66 30h1M80 30h1M1 31h1M18 31h1M35 31h1M38 31h1M47 31h1M60 31h1M66 31h1M17 32h1M24 32h1M34 32h1M46 32h1M49 32h2M64 32h2M98 32h1M9 33h1M16 33h1M21 33h1M23 33h1M25 33h1M33 33h1M58 33h1M61 33h3M77 33h1M79 33h1M99 33h3M9 34h2M25 34h2M48 34h2M58 34h1M62 34h1M69 34h1M75 34h1M79 34h1M87 34h1M9 35h2M48 35h2M61 35h3M75 35h1M78 35h1M92 36h2M3 37h1M13 37h1M17 37h1M45 37h2M54 37h1M81 37h1M84 37h1M92 37h1M96 37h1M15 38h1M24 38h2M44 38h1M47 38h2M51 38h1M83 38h2M93 38h3M2 39h1M16 39h1M27 39h2M44 39h1M50 39h2M92 39h1M94 39h1M16 40h1M24 40h1M28 40h1M86 40h1M93 40h1M1 41h1M17 41h4M23 41h2M26 41h2M34 41h2M1 42h1M16 42h5M23 42h2M35 42h2M1 43h2M4 43h1M16 43h2M21 43h2M36 43h2M68 43h1M1 44h1M22 44h1M26 44h1M64 44h1M67 44h2M17 45h2M23 45h1M26 45h1M35 45h1M37 45h1M62 45h1M65 45h3M99 45h3M11 46h1M19 46h2M35 46h1M63 46h5M10 47h2M13 47h3M20 47h1M51 47h1M9 48h1M17 48h1M32 48h1M34 48h1M44 48h1M51 48h2M54 48h1M60 48h1M1 49h1M16 49h1M31 49h1M36 49h1M44 49h1M46 49h1M60 49h2M8 50h2M11 50h1M15 50h1M37 50h1M53 50h2M61 50h1M76 50h1M12 51h1M20 51h1M39 51h2M43 51h2M61 51h1M63 51h1M65 51h1M73 51h1M98 51h4M6 52h1M12 52h1M14 52h1M42 52h1M44 52h1M57 52h1M63 52h2M76 52h1M91 52h2M97 52h1M1 53h1M10 53h1M14 53h1M17 53h1M21 53h1M28 53h1M43 53h5M52 53h1M58 53h1M61 53h3M92 53h1M98 53h4M1 54h1M14 54h2M18 54h1M20 54h1M30 54h1M44 54h2M52 54h1M59 54h1M9 55h1M19 55h1M27 55h1M43 55h2M50 55h2M89 55h1M2 56h1M14 56h1M18 56h1M28 56h1M40 56h2M46 56h1M48 56h3M3 57h3M13 57h1M17 57h1M21 57h1M39 57h1M42 57h1M48 57h1M16 58h1M21 58h1M43 58h1M47 58h2M84 58h1M2 59h2M15 59h1M19 59h1M21 59h1M38 59h1M40 59h1M48 59h1M84 59h1M98 59h1M12 60h6M20 60h2M38 60h1M42 60h1M47 60h2M97 60h2M2 61h1M34 61h1M45 61h1M58 61h1M78 61h2M3 62h1M10 62h1M17 62h1M22 62h1M28 62h3M34 62h1M57 62h1M59 62h1M62 62h2M78 62h2M9 63h1M17 63h1M20 63h1M22 63h1M25 63h1M28 63h1M58 63h1M61 63h3M78 63h1M6 64h1M8 64h4M26 64h1M-2 65h3M12 65h1M39 65h1M99 65h3M-2 66h3M21 66h1M23 66h1M25 66h1M58 66h1M86 66h2M1 67h1M12 67h1M15 67h1M35 67h1M38 67h2M54 67h1M63 67h1M7 68h1M10 68h3M14 68h1M17 68h1M23 68h3M54 68h1M82 68h1M11 69h3M17 69h1M44 69h2M54 69h1M87 69h1M1 70h2M5 70h1M7 70h5M15 70h1M18 70h1M44 70h1M54 70h2M70 70h1M4 71h1M20 71h4M52 71h1M55 71h2M69 71h1M71 71h1M83 71h1M85 71h1M87 71h1M3 72h1M12 72h1M24 72h1M55 72h1M57 72h1M68 72h3M86 72h1M88 72h2M2 73h5M11 73h1M13 73h1M21 73h3M52 73h2M55 73h1M94 73h1M2 74h3M11 74h1M17 74h1M55 74h1M58 74h1M60 74h1M84 74h1M14 75h1M17 75h2M57 75h1M60 75h1M2 76h1M6 76h3M13 76h1M15 76h3M31 76h1M1 77h1M5 77h1M9 77h3M17 77h1M20 77h1M31 77h1M33 77h1M35 77h1M1 78h1M5 78h2M9 78h1M20 78h1M33 78h1M36 78h1M2 79h1M10 79h1M14 79h1M23 79h1M25 79h1M35 79h1M50 79h1M76 79h2M4 80h1M13 80h2M20 80h1M76 80h1M78 80h1M14 81h1M19 81h1M21 81h1M24 81h1M28 81h1M76 81h1M7 82h2M14 82h1M16 82h1M19 82h1M25 82h1M2 83h1M12 83h1M27 83h2M35 83h1M68 83h2M1 84h1M7 84h1M12 84h1M27 84h1M29 84h1M37 84h1M66 84h3M6 85h1M12 85h1M14 85h1M27 85h1M65 85h1M4 86h2M9 86h1M13 86h1M16 86h2M28 86h2M37 86h1M65 86h1M3 87h2M7 87h2M14 87h1M17 87h1M36 87h1M78 87h2M1 88h3M16 88h1M50 88h1M4 89h1M14 89h1M48 89h2M70 89h1M93 89h1M5 90h1M23 90h1M9 91h5M19 91h2M99 91h3M15 92h1M19 92h1M32 92h1M3 93h1M16 93h1M32 93h1M41 93h1M44 93h1M14 94h1M30 94h1M41 94h1M45 94h1M4 95h2M9 95h1M12 95h2M42 95h1M46 95h2M97 95h1M4 96h2M45 96h1M47 96h1M27 97h4M45 97h1M18 98h1M20 98h1M29 98h3M10 99h1M16 99h1M47 99h1M61 99h1M94 99h1"/><path stroke="#000fff" d="M10 0h1M17 0h1M23 0h2M39 0h1M59 0h2M95 0h1M-2 1h3M34 1h1M39 1h1M52 1h2M67 1h5M94 1h2M19 2h1M30 2h1M39 2h1M64 2h1M73 2h1M93 2h2M96 2h3M29 3h1M39 3h1M47 3h1M58 3h1M74 3h1M82 3h1M97 3h5M28 4h2M39 4h4M56 4h2M61 4h1M66 4h1M68 4h1M70 4h1M82 4h1M98 4h1M37 5h2M40 5h1M42 5h1M61 5h1M69 5h5M89 5h1M94 5h2M40 6h1M42 6h1M61 6h1M64 6h5M71 6h2M75 6h1M83 6h6M32 7h1M42 7h1M46 7h1M55 7h1M61 7h1M63 7h2M71 7h1M84 7h1M94 7h2M-2 8h3M32 8h1M43 8h1M47 8h2M56 8h1M60 8h1M63 8h3M75 8h1M80 8h1M-2 9h3M24 9h1M31 9h1M39 9h2M48 9h1M56 9h1M59 9h1M66 9h1M75 9h1M80 9h1M82 9h2M86 9h1M24 10h1M27 10h1M43 10h1M53 10h1M59 10h2M64 10h1M66 10h1M74 10h1M77 10h1M80 10h1M83 10h1M92 10h4M-2 11h3M28 11h1M53 11h1M66 11h1M73 11h2M77 11h1M83 11h1M88 11h1M93 11h2M26 12h2M29 12h1M35 12h1M38 12h1M45 12h2M54 12h1M66 12h2M74 12h1M30 13h1M38 13h1M44 13h1M53 13h1M55 13h1M69 13h1M72 13h1M86 13h2M28 14h1M30 14h1M36 14h1M38 14h3M43 14h1M51 14h1M54 14h2M71 14h1M79 14h1M86 14h2M26 15h1M37 15h2M50 15h1M54 15h2M71 15h1M80 15h1M85 15h1M23 16h1M26 16h1M32 16h1M34 16h2M56 16h3M60 16h1M62 16h1M79 16h3M32 17h1M50 17h2M65 17h1M74 17h1M77 17h3M21 18h1M30 18h1M32 18h1M36 18h1M38 18h1M44 18h1M77 18h1M21 19h1M23 19h1M31 19h2M36 19h1M51 19h1M71 19h2M77 19h1M89 19h1M10 20h1M19 20h1M21 20h1M32 20h2M71 20h1M77 20h2M80 20h1M82 20h1M20 21h1M22 21h1M34 21h1M47 21h2M61 21h1M77 21h1M12 22h1M32 22h1M40 22h2M61 22h1M63 22h1M1 23h1M30 23h2M33 23h1M45 23h2M61 23h1M71 23h1M81 23h1M10 24h5M19 24h1M34 24h1M40 24h1M61 24h1M94 24h2M13 25h1M18 25h1M22 25h1M24 25h2M88 25h2M95 25h1M6 26h1M18 26h1M23 26h1M27 26h1M18 27h3M22 27h1M24 27h5M73 27h1M-2 28h3M14 28h1M21 28h1M24 28h1M26 28h2M55 28h2M68 28h1M79 28h1M13 29h1M34 29h1M56 29h1M63 29h1M70 29h1M79 29h1M1 30h1M13 30h2M19 30h3M33 30h1M35 30h2M50 30h1M60 30h1M99 30h3M33 31h2M36 31h2M46 31h1M49 31h2M9 32h2M32 32h2M61 32h1M99 32h3M10 33h1M22 33h1M32 33h1M59 33h2M78 33h1M61 34h1M76 34h1M2 35h1M11 35h5M59 35h2M76 35h2M3 36h1M9 36h2M12 36h1M52 36h2M18 37h3M52 37h2M82 37h2M93 37h3M3 38h1M17 38h1M21 38h1M15 39h1M21 39h1M24 39h1M26 39h1M34 39h2M46 39h4M93 39h1M2 40h1M12 40h2M15 40h1M17 40h5M25 40h3M34 40h2M2 41h1M21 41h2M25 41h1M2 42h2M21 42h1M25 42h1M34 42h1M23 43h3M34 43h2M2 44h3M23 44h1M35 44h3M1 45h1M24 45h2M36 45h1M63 45h2M1 46h1M9 46h2M17 46h2M36 46h1M8 47h1M16 47h4M49 47h2M2 48h1M8 48h1M10 48h1M16 48h1M33 48h1M45 48h2M49 48h2M53 48h1M8 49h2M35 49h1M45 49h1M53 49h2M7 50h1M10 50h1M12 50h1M32 50h1M62 50h1M74 50h1M6 51h1M13 51h2M19 51h1M36 51h1M62 51h1M1 52h1M13 52h1M34 52h2M43 52h1M58 52h5M74 52h1M6 53h1M13 53h1M59 53h2M19 54h1M27 54h1M46 54h1M2 55h1M7 55h1M14 55h1M30 55h1M45 55h1M48 55h1M19 56h2M29 56h1M47 56h1M6 57h1M12 57h1M6 58h1M11 58h1M42 58h1M44 58h1M46 58h1M4 59h2M16 59h3M20 59h1M37 59h1M41 59h1M47 59h1M2 60h1M37 60h1M46 60h1M3 61h1M11 61h1M20 61h1M43 61h2M57 61h1M4 62h1M20 62h1M26 62h2M58 62h1M5 63h1M21 63h1M79 63h1M7 64h1M80 64h1M7 65h1M41 65h1M79 65h2M12 66h1M22 66h1M24 66h1M39 66h3M21 67h2M1 68h2M8 68h2M1 69h2M14 69h1M89 69h1M6 70h1M16 70h2M45 70h1M87 70h1M90 70h1M10 71h1M53 71h2M70 71h1M84 71h1M90 71h1M4 72h1M6 72h1M16 72h1M21 72h3M52 72h1M54 72h1M56 72h1M10 73h1M12 73h1M20 73h1M5 74h2M10 74h1M13 74h1M19 74h1M3 75h2M13 75h1M56 75h1M3 76h3M9 76h1M12 76h1M2 77h3M15 77h2M2 78h1M7 78h2M17 78h3M35 78h1M3 79h3M20 79h2M26 79h1M36 79h1M5 80h1M11 80h2M15 80h1M23 80h2M27 80h1M77 80h1M6 81h1M10 81h1M13 81h1M22 81h1M77 81h1M12 82h2M26 82h1M28 82h1M3 83h1M6 83h1M13 83h2M36 83h1M2 84h1M14 84h1M28 84h1M35 84h1M1 85h1M13 85h1M29 85h1M37 85h1M66 85h2M3 86h1M66 86h1M1 87h1M5 87h2M9 87h3M13 87h1M15 87h1M35 87h1M4 88h1M9 88h1M15 88h1M49 88h1M6 90h2M13 90h1M3 92h1M13 92h2M30 92h2M13 93h1M15 93h1M30 93h2M42 93h2M13 94h1M44 94h1M43 95h3M12 96h1M46 96h1M47 97h1M19 98h1M27 98h2M45 98h1M19 99h2M27 99h2M95 99h1"/><path stroke="#0027ff" d="M18 0h1M33 0h1M3 1h1M23 1h1M26 1h1M31 1h1M49 1h1M51 1h1M61 1h1M22 2h1M27 2h1M35 2h1M45 2h1M49 2h3M54 2h1M66 2h1M36 3h1M40 3h1M42 3h1M48 3h4M61 3h1M69 3h1M83 3h1M86 3h1M36 4h1M83 4h1M87 4h1M99 4h3M31 5h1M39 5h1M43 5h1M83 5h1M88 5h1M32 6h1M43 6h1M47 6h1M69 6h2M81 6h2M94 6h2M-2 7h3M33 7h1M43 7h1M45 7h1M48 7h1M54 7h1M60 7h1M65 7h3M72 7h1M75 7h1M83 7h1M44 8h1M46 8h1M59 8h1M66 8h2M85 8h1M26 9h1M32 9h1M44 9h1M50 9h1M53 9h1M67 9h1M81 9h1M-2 10h3M31 10h2M36 10h1M39 10h1M44 10h1M48 10h1M54 10h3M58 10h1M61 10h1M73 10h1M75 10h2M87 10h1M24 11h1M44 11h2M47 11h2M54 11h1M33 12h2M44 12h1M55 12h1M68 12h2M75 12h2M83 12h4M88 12h3M25 13h1M27 13h1M31 13h1M35 13h1M39 13h1M65 13h1M70 13h1M79 13h1M85 13h1M91 13h1M25 14h3M31 14h2M41 14h1M53 14h1M56 14h1M69 14h1M85 14h1M91 14h1M1 15h1M27 15h1M30 15h4M36 15h1M53 15h1M56 15h1M69 15h2M81 15h2M1 16h1M21 16h2M31 16h1M50 16h1M59 16h1M63 16h1M65 16h1M21 17h1M25 17h1M28 17h4M80 17h1M24 18h1M31 18h1M78 18h2M81 18h1M19 19h2M27 19h1M37 19h1M78 19h2M82 19h1M18 20h1M20 20h1M22 20h1M26 20h1M48 20h1M81 20h1M89 20h2M19 21h1M25 21h1M32 21h2M89 21h2M1 22h1M9 22h1M23 22h1M25 22h1M33 22h1M35 22h1M62 22h1M12 23h3M23 23h1M25 23h1M40 23h2M62 23h1M80 23h1M23 24h1M25 24h1M12 25h1M14 25h1M23 25h1M7 26h1M17 26h1M21 26h2M6 27h1M16 27h2M21 27h1M80 27h2M15 28h1M19 28h2M25 28h1M81 28h1M-2 29h3M20 29h1M64 29h2M80 29h1M18 30h1M23 30h1M34 30h1M37 30h1M61 30h1M9 31h2M14 31h1M21 31h1M61 31h1M65 31h1M99 31h3M11 32h1M16 32h1M21 32h1M63 32h1M15 33h1M11 34h1M15 34h1M59 34h2M77 34h2M8 35h1M11 36h1M12 37h1M13 38h2M46 38h1M7 39h1M17 39h1M25 39h1M45 39h1M7 40h1M11 40h1M14 40h1M11 41h1M11 42h1M22 42h1M5 43h1M11 43h1M11 44h1M24 44h2M10 45h2M4 47h2M3 48h2M11 48h5M7 49h1M10 49h1M15 49h1M32 49h1M34 49h1M14 50h1M36 50h1M75 50h1M33 51h1M76 51h1M18 52h1M20 52h1M75 52h1M98 52h1M2 53h1M18 53h1M20 53h1M2 54h1M6 54h1M10 54h1M13 54h1M47 54h1M46 55h1M3 56h1M7 56h2M13 56h1M18 57h1M20 57h1M17 58h1M19 58h2M40 58h1M45 58h1M6 59h1M42 59h2M3 60h2M4 61h1M21 61h1M5 62h1M9 62h1M21 62h1M8 63h1M26 63h2M79 64h1M8 65h4M40 65h1M11 66h1M10 67h2M16 67h1M23 67h1M25 67h1M15 68h1M15 69h2M88 69h1M5 71h2M16 71h1M19 71h1M88 71h2M5 72h1M10 72h1M20 72h1M53 72h1M83 72h1M7 73h1M56 73h2M83 73h1M85 73h1M12 74h1M18 74h1M56 74h2M5 75h2M10 75h3M10 76h2M34 77h1M3 78h2M15 78h2M34 78h1M6 79h1M9 79h1M15 79h1M22 79h1M6 80h1M10 80h1M19 80h1M21 80h1M7 81h1M9 81h1M11 81h2M16 81h1M27 81h1M17 82h1M27 82h1M4 83h2M3 84h1M6 84h1M13 84h1M2 85h4M28 85h1M35 85h1M1 86h1M35 86h2M2 87h1M12 87h1M16 87h1M8 88h1M10 88h1M14 88h1M5 89h1M10 89h1M8 90h1M10 90h1M14 93h1M42 94h2M46 97h1M47 98h1M45 99h2"/><path stroke="#003eff" d="M11 0h1M13 0h1M32 0h1M49 0h1M51 0h1M1 1h2M4 1h2M18 1h1M24 1h1M50 1h1M59 1h1M23 2h1M31 2h1M43 2h1M52 2h2M61 2h1M69 2h1M20 3h4M30 3h1M46 3h1M52 3h1M55 3h1M66 3h1M70 3h1M84 3h2M30 4h1M50 4h3M58 4h1M67 4h1M71 4h1M73 4h1M29 5h2M36 5h1M56 5h2M87 5h1M-2 6h3M31 6h1M33 6h1M37 6h3M44 6h1M46 6h1M48 6h1M73 6h2M39 7h1M44 7h1M53 7h1M56 7h1M68 7h3M81 7h1M24 8h1M31 8h1M39 8h1M45 8h1M49 8h1M53 8h1M68 8h1M72 8h1M81 8h4M30 9h1M38 9h1M47 9h1M52 9h1M57 9h2M68 9h1M72 9h3M84 9h2M28 10h2M42 10h1M57 10h1M62 10h2M67 10h1M72 10h1M84 10h3M29 11h1M32 11h2M35 11h1M39 11h1M46 11h1M55 11h1M59 11h1M64 11h1M67 11h1M72 11h1M75 11h2M84 11h2M24 12h1M30 12h1M32 12h1M64 12h1M70 12h1M72 12h1M87 12h1M26 13h1M32 13h1M40 13h1M56 13h1M71 13h1M80 13h5M88 13h1M20 14h1M42 14h1M52 14h1M65 14h1M70 14h1M80 14h1M83 14h2M88 14h1M2 15h1M20 15h2M24 15h1M28 15h2M57 15h1M65 15h1M89 15h1M20 16h1M27 16h1M30 16h1M52 16h1M64 16h1M20 17h1M26 17h2M20 18h1M27 18h1M37 18h1M80 18h1M99 18h3M1 19h1M11 19h1M24 19h1M99 19h3M1 20h1M23 20h3M1 21h1M9 21h1M18 21h1M23 21h1M13 22h1M19 22h1M19 23h1M35 23h1M24 24h1M10 25h2M17 25h1M5 26h1M8 26h1M14 26h1M16 26h1M1 27h1M5 27h1M7 27h1M14 27h2M13 28h1M17 28h2M80 28h1M12 29h1M15 29h1M18 29h2M12 30h1M22 30h1M62 30h4M8 31h1M11 31h1M13 31h1M17 31h1M23 31h1M63 31h2M8 32h1M14 32h2M23 32h1M62 32h1M11 33h1M2 34h1M8 34h1M12 34h1M3 35h1M4 36h1M8 36h1M9 37h3M8 38h2M12 38h1M18 38h3M45 38h1M3 39h1M8 39h1M12 39h3M18 39h3M3 41h1M7 41h1M4 42h1M7 42h1M6 43h1M10 43h1M5 44h1M10 44h1M9 45h1M5 46h1M8 46h1M2 47h1M5 48h1M7 48h1M4 49h1M11 49h4M33 49h1M1 50h1M6 50h1M13 50h1M33 50h1M35 50h1M1 51h1M5 51h1M35 51h1M3 52h3M99 52h3M3 53h1M11 53h2M28 54h2M6 55h1M10 55h1M13 55h1M28 55h2M47 55h1M4 56h3M9 56h1M7 57h1M11 57h1M19 57h1M40 57h2M18 58h1M41 58h1M11 59h1M46 59h1M5 60h1M11 60h1M43 60h1M45 60h1M5 61h1M6 63h2M7 66h1M10 66h1M7 67h1M9 67h1M24 67h1M16 68h1M88 70h2M7 71h1M7 72h1M85 72h1M17 73h1M7 74h1M7 75h3M7 79h1M18 79h2M9 80h1M16 80h1M22 80h1M8 81h1M25 81h1M18 82h1M36 84h1M36 85h1M2 86h1M5 88h1M7 88h1M6 89h4M9 90h1M11 90h2M46 98h1M14 99h2"/><path stroke="#0056ff" d="M12 0h1M6 1h1M25 1h1M33 1h1M60 1h1M-2 2h3M59 2h1M72 2h1M24 3h1M27 3h1M53 3h2M73 3h1M23 4h1M31 4h1M49 4h1M72 4h1M28 5h1M32 5h1M52 5h1M84 5h1M86 5h1M34 6h1M36 6h1M45 6h1M53 6h3M60 6h1M31 7h1M57 7h1M59 7h1M82 7h1M25 8h1M33 8h1M57 8h2M71 8h1M23 9h1M27 9h1M29 9h1M36 9h2M45 9h1M51 9h1M30 10h1M45 10h1M47 10h1M31 11h1M34 11h1M43 11h1M56 11h1M58 11h1M60 11h1M86 11h1M31 12h1M39 12h1M56 12h1M59 12h1M71 12h1M19 13h2M24 13h1M33 13h2M43 13h1M64 13h1M1 14h1M19 14h1M21 14h1M24 14h1M33 14h1M35 14h1M57 14h1M81 14h1M3 15h1M22 15h1M34 15h2M51 15h2M58 15h1M60 15h2M90 15h1M2 16h2M28 16h2M51 16h1M1 17h1M19 18h1M12 19h1M18 19h1M80 19h2M13 21h1M24 21h1M24 22h1M34 22h1M6 23h1M9 23h1M15 23h1M24 23h1M34 23h1M2 24h1M9 24h1M15 24h1M18 24h1M2 25h1M6 25h2M9 25h1M16 25h1M13 26h1M15 26h1M4 27h1M5 28h1M16 28h1M1 29h1M2 30h1M5 30h2M9 30h3M15 30h1M2 31h1M5 31h3M12 31h1M15 31h1M62 31h1M22 32h1M8 33h1M13 34h2M4 37h1M8 37h1M10 38h2M9 39h3M3 40h1M6 40h1M8 40h1M6 42h1M10 42h1M7 43h1M9 43h1M9 44h1M2 45h1M4 45h2M4 46h1M3 47h1M6 47h2M2 49h2M5 49h2M5 50h1M34 50h1M4 51h1M34 51h1M74 51h1M2 52h1M5 53h1M19 53h1M3 54h1M3 55h1M8 57h1M7 58h1M44 59h2M6 60h1M44 60h1M10 61h1M9 66h1M8 67h1M8 71h2M17 71h2M84 72h1M19 73h1M84 73h1M9 74h1M8 79h1M16 79h2M7 80h1M18 80h1M25 80h1M18 81h1M4 84h1M6 88h1M11 88h1M13 88h1M11 89h1M13 89h1"/><path stroke="#006eff" d="M17 1h1M32 1h1M1 2h1M24 2h1M44 2h1M67 2h2M70 2h1M19 3h1M31 3h1M35 3h1M59 3h2M68 3h1M22 4h1M24 4h1M27 4h1M43 4h1M47 4h2M53 4h1M55 4h1M84 4h1M86 4h1M-2 5h3M35 5h1M44 5h1M47 5h5M53 5h1M58 5h1M85 5h1M49 6h1M52 6h1M56 6h2M34 7h1M49 7h1M52 7h1M58 7h1M73 7h2M23 8h1M69 8h1M73 8h2M20 9h1M28 9h1M46 9h1M71 9h1M33 10h1M40 10h2M46 10h1M68 10h1M71 10h1M30 11h1M57 11h1M70 11h2M87 11h1M58 12h1M18 13h1M41 13h1M57 13h1M18 14h1M82 14h1M19 15h1M23 15h1M59 15h1M62 15h1M11 16h2M19 16h1M19 17h1M1 18h1M25 18h1M10 19h1M25 19h2M17 20h1M2 22h1M7 22h2M14 22h1M18 22h1M2 23h1M7 23h1M18 23h1M17 24h1M8 25h1M15 25h1M2 26h1M4 26h1M9 26h1M8 27h1M13 27h1M1 28h1M6 28h1M4 29h2M11 29h1M17 29h1M4 30h1M17 30h1M22 31h1M2 32h1M12 32h2M2 33h1M12 33h1M14 33h1M4 35h1M4 38h1M7 38h1M6 39h1M10 40h1M6 41h1M10 41h1M5 42h1M8 42h1M8 43h1M6 44h1M3 45h1M6 46h1M6 48h1M4 50h1M75 51h1M19 52h1M4 53h1M5 54h1M4 55h2M10 56h1M12 56h1M10 57h1M10 58h1M7 59h1M6 61h1M6 62h1M8 62h1M8 66h1M17 72h1M19 72h1M9 73h1M18 73h1M8 74h1M8 80h1M17 80h1M26 80h1M17 81h1M26 81h1M5 84h1"/><path stroke="#0085ff" d="M50 0h1M7 1h3M16 1h1M18 2h1M26 2h1M32 2h1M34 2h1M60 2h1M71 2h1M-2 3h4M25 3h1M43 3h1M71 3h1M-2 4h4M25 4h1M32 4h1M35 4h1M60 4h1M85 4h1M23 5h1M33 5h2M55 5h1M30 6h1M35 6h1M58 6h1M23 7h2M35 7h4M1 8h1M20 8h1M22 8h1M26 8h1M34 8h3M52 8h1M70 8h1M33 9h1M35 9h1M69 9h1M23 10h1M35 10h1M68 11h2M40 12h1M43 12h1M57 12h1M60 12h1M1 13h1M21 13h1M58 13h3M89 13h2M22 14h1M34 14h1M58 14h1M60 14h2M64 14h1M90 14h1M64 15h1M11 18h1M18 18h1M26 18h1M2 20h1M9 20h1M13 20h1M2 21h1M17 21h1M17 22h1M5 23h1M8 23h1M16 23h2M6 24h1M16 24h1M3 26h1M12 26h1M4 28h1M12 28h1M2 29h1M6 29h1M9 29h2M16 29h1M3 30h1M7 30h2M3 31h2M16 31h1M7 32h1M13 33h1M7 35h1M5 36h1M7 36h1M9 40h1M4 41h1M8 41h1M9 42h1M7 44h2M6 45h1M8 45h1M2 46h1M7 46h1M2 51h2M4 54h1M11 54h2M11 56h1M9 57h1M8 58h1M10 59h1M7 60h1M8 72h2M8 73h1M12 88h1M12 89h1"/><path stroke="#009dff" d="M15 1h1M25 2h1M26 3h1M45 3h1M67 3h1M72 3h1M26 4h1M46 4h1M54 4h1M59 4h1M1 5h1M8 5h1M24 5h1M27 5h1M45 5h2M54 5h1M60 5h1M1 6h1M23 6h1M28 6h2M50 6h2M59 6h1M1 7h1M25 7h1M8 8h1M19 8h1M21 8h1M28 8h3M38 8h1M50 8h1M19 9h1M21 9h2M69 10h2M40 11h1M42 11h1M63 11h1M1 12h1M19 12h2M22 13h2M42 13h1M2 14h1M13 14h1M23 14h1M59 14h1M89 14h1M4 15h1M13 15h1M63 15h1M4 16h1M11 17h1M12 18h1M17 19h1M8 21h1M3 22h1M6 22h1M15 22h1M7 24h1M5 25h1M10 26h1M2 27h2M9 27h1M7 28h3M3 29h1M16 30h1M5 32h2M3 34h1M5 35h2M6 36h1M7 37h1M4 39h1M9 41h1M7 45h1M3 46h1M2 50h2M11 55h2M9 58h1M10 60h1M9 61h1M7 62h1M18 72h1"/><path stroke="#00b5ff" d="M10 1h1M14 1h1M33 2h1M32 3h1M21 4h1M22 5h1M25 5h2M18 6h1M22 6h1M24 6h1M19 7h1M22 7h1M50 7h1M27 8h1M37 8h1M51 8h1M1 9h1M34 9h1M70 9h1M34 10h1M1 11h1M7 11h1M41 11h1M61 11h1M23 12h1M41 12h1M63 12h1M61 13h1M63 13h1M10 14h1M62 14h1M10 15h1M18 15h1M2 17h1M10 17h1M12 17h1M10 18h1M2 19h1M13 19h1M3 20h1M3 21h1M4 22h1M16 22h1M3 23h2M5 24h1M8 24h1M3 25h1M11 26h1M12 27h1M2 28h2M10 28h2M7 29h2M7 33h1M7 34h1M5 37h1M6 38h1M5 39h1M4 40h2M5 41h1M8 59h2M9 60h1M7 61h1"/><path stroke="#00cdff" d="M12 1h2M7 2h1M44 3h1M34 4h1M44 4h2M59 5h1M9 6h1M17 6h1M25 6h1M27 6h1M9 7h1M18 7h1M20 7h2M26 7h3M30 7h1M51 7h1M19 10h2M23 11h1M62 11h1M42 12h1M61 12h1M17 13h1M17 14h1M63 14h1M10 16h1M13 16h1M18 17h1M17 18h1M9 19h1M7 21h1M14 21h1M5 22h1M3 24h1M4 25h1M3 32h2M4 34h1M6 34h1M6 37h1M5 38h1M8 60h1M8 61h1"/><path stroke="#00e4ff" d="M11 1h1M18 3h1M34 3h1M20 4h1M33 4h1M19 6h1M26 6h1M17 7h1M29 7h1M1 10h1M2 11h1M19 11h2M18 12h1M21 12h1M62 13h1M3 14h1M18 16h1M3 17h1M16 18h1M16 19h1M8 20h1M16 20h1M16 21h1M10 27h1M3 33h1M5 33h2M5 34h1"/><path stroke="#00fcff" d="M2 2h1M17 2h1M33 3h1M8 4h1M19 4h1M16 7h1M15 8h1M8 9h1M22 10h1M3 12h1M62 12h1M11 14h2M7 15h1M11 15h2M9 17h1M17 17h1M2 18h1M9 18h1M13 18h1M3 19h1M14 20h1M4 21h1M15 21h1M4 24h1M11 27h1M4 33h1"/><path stroke="#15ffea" d="M8 2h1M8 3h1M17 5h2M10 6h1M16 6h1M20 6h2M10 7h1M15 7h1M9 8h1M14 8h1M16 8h1M18 8h1M15 9h2M18 9h1M8 10h1M21 10h1M6 11h1M13 11h1M2 12h1M4 12h3M13 12h2M22 12h1M2 13h1M11 13h3M5 15h1M17 15h1M4 17h1M13 17h1M16 17h1M15 18h1M7 20h1"/><path stroke="#2cffd3" d="M18 4h1M9 5h1M19 5h1M21 5h1M14 9h1M7 10h1M13 10h1M16 10h3M8 11h1M14 11h1M7 12h1M15 12h1M17 12h1M10 13h1M16 13h1M4 14h1M9 14h1M14 14h1M16 14h1M9 15h1M14 15h1M5 16h1M9 16h1M17 16h1M15 17h1M3 18h1M14 18h1M14 19h2M4 20h1M15 20h1M6 21h1"/><path stroke="#44ffbb" d="M7 3h1M13 4h1M20 5h1M14 7h1M17 8h1M13 9h1M17 9h1M2 10h1M14 10h2M3 11h3M18 11h1M21 11h1M16 12h1M14 13h2M7 14h1M6 15h1M8 15h1M8 16h1M14 16h1M14 17h1M8 19h1"/><path stroke="#5cffa3" d="M6 2h1M9 2h1M12 2h2M16 2h1M13 3h1M17 3h1M12 4h1M14 4h1M17 4h1M10 5h1M12 5h1M16 5h1M11 6h2M15 6h1M11 7h3M10 8h1M13 8h1M2 9h1M9 9h1M15 11h3M22 11h1M8 12h1M12 12h1M3 13h1M9 13h1M8 14h1M15 14h1M15 15h2M7 16h1M15 16h2M8 17h1M4 19h1M6 20h1M5 21h1"/><path stroke="#74ff8b" d="M3 2h1M10 2h2M14 2h2M9 3h4M14 3h3M9 4h3M15 4h2M11 5h1M13 5h3M13 6h2M2 8h1M11 8h2M7 9h1M10 9h3M9 10h4M9 11h4M9 12h3M4 13h5M5 14h2M6 16h1M5 17h3M4 18h5M5 19h3M5 20h1"/><path stroke="#8bff74" d="M2 3h1M7 4h1M8 6h1M2 7h1M8 7h1"/><path stroke="#a3ff5c" d="M2 6h1M6 10h1"/><path stroke="#bbff44" d="M5 2h1"/><path stroke="#d3ff2c" d="M4 2h1M2 4h1M7 8h1M3 10h3"/><path stroke="#eaff15" d="M2 5h1M7 5h1M3 9h1"/><path stroke="#fffc00" d="M6 3h1M3 8h1M4 9h1M6 9h1"/><path stroke="#ffe400" d="M5 9h1"/><path stroke="#ffcd00" d="M3 3h1M3 7h1M4 8h1"/><path stroke="#ffb500" d="M6 4h1M5 8h2"/><path stroke="#ff9d00" d="M3 6h1"/><path stroke="#ff8500" d="M5 3h1M4 7h1M7 7h1"/><path stroke="#ff6e00" d="M4 3h1M6 5h1M7 6h1"/><path stroke="#ff5600" d="M3 4h1M3 5h1M4 6h1M5 7h1"/><path stroke="#ff2700" d="M5 4h1M5 6h2M6 7h1"/><path stroke="#ff0f00" d="M4 4h1M4 5h2"/></g></g></g><path d="M1027 96.7H1520.8V574.5" stroke="#00005c" stroke-width="1.5" fill="none"/><rect x="1538" y="95.5" width="44.5" height="482" fill="url(#gjet)" stroke="#30302a" stroke-width="1.6"/><path d="M1582.5 146.3L1577 146.3" stroke="#333" stroke-width="1.4" fill="none"/><path d="M1582.5 215.5L1577 215.5" stroke="#333" stroke-width="1.4" fill="none"/><path d="M1582.5 284.7L1577 284.7" stroke="#333" stroke-width="1.4" fill="none"/><path d="M1582.5 354L1577 354" stroke="#333" stroke-width="1.4" fill="none"/><path d="M1582.5 423L1577 423" stroke="#333" stroke-width="1.4" fill="none"/><path d="M1582.5 492.3L1577 492.3" stroke="#333" stroke-width="1.4" fill="none"/><path d="M1736.2 578.5V381.7H1737.77V381.7H1741.84V373.3H1745.91V324.82H1749.98V381.7H1754.05V423.46H1758.12V396.1H1762.19V280.9H1766.26V256.9H1770.33V237.7H1774.4V285.7H1778.47V386.5H1782.54V328.9H1786.61V280.9H1790.68V304.9H1794.75V314.5H1798.82V333.7H1802.89V338.5H1806.96V376.9H1811.03V304.9H1815.1V314.5H1819.17V338.5H1823.24V242.5H1827.31V357.7H1831.38V290.5H1835.45V369.7H1839.52V319.3H1843.59V357.7H1847.66V410.5H1851.73V348.1H1855.8V415.3H1859.87V410.5H1863.94V253.06H1868.01V348.82H1872.08V444.1H1876.15V451.3H1880.22V376.9H1884.29V328.9H1888.36V386.5H1892.43V362.5H1896.5V329.68H1900.57V338.69H1904.64V396.53H1908.71V346.71H1912.78V375.6H1916.85V350.3H1920.92V373.06H1924.99V338.5H1929.06V256.9H1933.13V362.5H1937.2V362.5H1941.27V371.8H1945.34V376.9H1949.41V368.44H1953.48V271.3H1957.55V295.3H1961.62V338.5H1965.69V333.7H1969.76V300.1H1973.83V326.11H1977.9V398.5H1981.97V266.5H1986.04V400.9H1990.11V338.33H1994.18V328.9H1998.25V386.5H2002.32V330.38H2006.39V334.12H2010.46V319.72H2014.53V314.5H2018.6V314.5H2022.67V328.9H2026.74V329.07H2030.81V328.9H2034.88V290.5H2038.95V359.35H2043.02V271.3H2047.09V328.9H2051.16V280.9H2055.23V339.09H2059.3V304.9H2063.37V242.5H2067.44V322.2H2071.51V354.08H2075.58V358.78H2079.65V295.3H2083.72V285.7H2087.79V324.1H2091.86V331.45H2095.93V256.9H2100V324.1H2104.07V348.1H2108.14V343.3H2112.21V280.9H2116.28V328.9H2120.35V328.9H2124.42V357.7H2128.49V276.1H2132.56V341.33H2136.63V341.64H2140.7V346.88H2144.77V324.1H2148.84V295.3H2152.91V223.3H2156.98V329.13H2161.05V280.9H2165.12V320.95H2169.19V365.34H2173.26V293.86H2177.33V324.1H2181.4V276.1H2185.47V276.1H2189.54V453.7H2193.61V338.5H2197.68V204.1H2201.75V256.9H2205.82V343.3H2209.89V308.21H2213.96V338.5H2218.03V453.7H2222.1V578.5Z" fill="#4d4d4d" shape-rendering="crispEdges"/><path d="M1736.2 578.5V338.5H1737.77V379.3H1741.84V381.7H1745.91V376.9H1749.98V376.9H1754.05V381.7H1758.12V295.3H1762.19V386.5H1766.26V396.1H1770.33V410.5H1774.4V391.3H1778.47V381.7H1782.54V422.5H1786.61V381.7H1790.68V340.9H1794.75V405.7H1798.82V367.3H1802.89V362.5H1806.96V343.3H1811.03V403.3H1815.1V386.5H1819.17V340.9H1823.24V432.1H1827.31V314.5H1831.38V448.9H1835.45V367.3H1839.52V381.7H1843.59V403.3H1847.66V405.7H1851.73V396.1H1855.8V422.5H1859.87V376.9H1863.94V372.1H1868.01V398.5H1872.08V391.3H1876.15V373.06H1880.22V447.7H1884.29V386.5H1888.36V357.7H1892.43V319.3H1896.5V261.7H1900.57V271.3H1904.64V290.5H1908.71V290.5H1912.78V343.3H1916.85V328.9H1920.92V427.3H1924.99V392.39H1929.06V297.7H1933.13V352.9H1937.2V372.1H1941.27V338.5H1945.34V367.3H1949.41V280.9H1953.48V283.3H1957.55V361.28H1961.62V328.9H1965.69V324.1H1969.76V290.5H1973.83V204.82H1977.9V372.1H1981.97V320.24H1986.04V290.5H1990.11V280.9H1994.18V338.5H1998.25V376.9H2002.32V271.3H2006.39V295.3H2010.46V300.1H2014.53V339.97H2018.6V334.59H2022.67V338.5H2026.74V276.1H2030.81V349.98H2034.88V311.95H2038.95V328.9H2043.02V357.24H2047.09V359H2051.16V310.41H2055.23V280.9H2059.3V352.27H2063.37V355.84H2067.44V218.5H2071.51V295.3H2075.58V253.06H2079.65V318.04H2083.72V357.15H2087.79V338.26H2091.86V223.3H2095.93V340.92H2100V333.7H2104.07V338.5H2108.14V333.7H2112.21V358.5H2116.28V370.97H2120.35V338.5H2124.42V348.1H2128.49V325.57H2132.56V300.1H2136.63V276.1H2140.7V266.5H2144.77V342.53H2148.84V327.84H2152.91V339.52H2156.98V213.7H2161.05V290.5H2165.12V261.7H2169.19V338.5H2173.26V280.9H2177.33V314.5H2181.4V351.63H2185.47V311.71H2189.54V396.1H2193.61V432.1H2197.68V344.98H2201.75V352.76H2205.82V352.9H2209.89V295.3H2213.96V211.3H2218.03V266.5H2222.1V578.5Z" fill="#fb0505" shape-rendering="crispEdges"/><path d="M1741.84 373.3H1745.91V381.7H1741.84ZM1745.91 324.82H1749.98V376.9H1745.91ZM1762.19 280.9H1766.26V386.5H1762.19ZM1766.26 256.9H1770.33V396.1H1766.26ZM1770.33 237.7H1774.4V410.5H1770.33ZM1774.4 285.7H1778.47V391.3H1774.4ZM1782.54 328.9H1786.61V422.5H1782.54ZM1786.61 280.9H1790.68V381.7H1786.61ZM1790.68 304.9H1794.75V340.9H1790.68ZM1794.75 314.5H1798.82V405.7H1794.75ZM1798.82 333.7H1802.89V367.3H1798.82ZM1802.89 338.5H1806.96V362.5H1802.89ZM1811.03 304.9H1815.1V403.3H1811.03ZM1815.1 314.5H1819.17V386.5H1815.1ZM1819.17 338.5H1823.24V340.9H1819.17ZM1823.24 242.5H1827.31V432.1H1823.24ZM1831.38 290.5H1835.45V448.9H1831.38ZM1839.52 319.3H1843.59V381.7H1839.52ZM1843.59 357.7H1847.66V403.3H1843.59ZM1851.73 348.1H1855.8V396.1H1851.73ZM1855.8 415.3H1859.87V422.5H1855.8ZM1863.94 253.06H1868.01V372.1H1863.94ZM1868.01 348.82H1872.08V398.5H1868.01ZM1880.22 376.9H1884.29V447.7H1880.22ZM1884.29 328.9H1888.36V386.5H1884.29ZM1920.92 373.06H1924.99V427.3H1920.92ZM1924.99 338.5H1929.06V392.39H1924.99ZM1929.06 256.9H1933.13V297.7H1929.06ZM1937.2 362.5H1941.27V372.1H1937.2ZM1953.48 271.3H1957.55V283.3H1953.48ZM1957.55 295.3H1961.62V361.28H1957.55ZM1981.97 266.5H1986.04V320.24H1981.97ZM1994.18 328.9H1998.25V338.5H1994.18ZM2014.53 314.5H2018.6V339.97H2014.53ZM2018.6 314.5H2022.67V334.59H2018.6ZM2022.67 328.9H2026.74V338.5H2022.67ZM2030.81 328.9H2034.88V349.98H2030.81ZM2034.88 290.5H2038.95V311.95H2034.88ZM2043.02 271.3H2047.09V357.24H2043.02ZM2047.09 328.9H2051.16V359H2047.09ZM2051.16 280.9H2055.23V310.41H2051.16ZM2059.3 304.9H2063.37V352.27H2059.3ZM2063.37 242.5H2067.44V355.84H2063.37ZM2079.65 295.3H2083.72V318.04H2079.65ZM2083.72 285.7H2087.79V357.15H2083.72ZM2087.79 324.1H2091.86V338.26H2087.79ZM2095.93 256.9H2100V340.92H2095.93ZM2100 324.1H2104.07V333.7H2100ZM2112.21 280.9H2116.28V358.5H2112.21ZM2116.28 328.9H2120.35V370.97H2116.28ZM2120.35 328.9H2124.42V338.5H2120.35ZM2128.49 276.1H2132.56V325.57H2128.49ZM2144.77 324.1H2148.84V342.53H2144.77ZM2148.84 295.3H2152.91V327.84H2148.84ZM2152.91 223.3H2156.98V339.52H2152.91ZM2161.05 280.9H2165.12V290.5H2161.05ZM2181.4 276.1H2185.47V351.63H2181.4ZM2185.47 276.1H2189.54V311.71H2185.47ZM2193.61 338.5H2197.68V432.1H2193.61ZM2197.68 204.1H2201.75V344.98H2197.68ZM2201.75 256.9H2205.82V352.76H2201.75ZM2205.82 343.3H2209.89V352.9H2205.82Z" fill="#4d4d4d" shape-rendering="crispEdges"/><path d="M1736.2 578.5V381.7H1737.77V381.7H1741.84V381.7H1745.91V376.9H1749.98V381.7H1754.05V423.46H1758.12V396.1H1762.19V386.5H1766.26V396.1H1770.33V410.5H1774.4V391.3H1778.47V386.5H1782.54V422.5H1786.61V381.7H1790.68V340.9H1794.75V405.7H1798.82V367.3H1802.89V362.5H1806.96V376.9H1811.03V403.3H1815.1V386.5H1819.17V340.9H1823.24V432.1H1827.31V357.7H1831.38V448.9H1835.45V369.7H1839.52V381.7H1843.59V403.3H1847.66V410.5H1851.73V396.1H1855.8V422.5H1859.87V410.5H1863.94V372.1H1868.01V398.5H1872.08V444.1H1876.15V451.3H1880.22V447.7H1884.29V386.5H1888.36V386.5H1892.43V362.5H1896.5V329.68H1900.57V338.69H1904.64V396.53H1908.71V346.71H1912.78V375.6H1916.85V350.3H1920.92V427.3H1924.99V392.39H1929.06V297.7H1933.13V362.5H1937.2V372.1H1941.27V371.8H1945.34V376.9H1949.41V368.44H1953.48V283.3H1957.55V361.28H1961.62V338.5H1965.69V333.7H1969.76V300.1H1973.83V326.11H1977.9V398.5H1981.97V320.24H1986.04V400.9H1990.11V338.33H1994.18V338.5H1998.25V386.5H2002.32V330.38H2006.39V334.12H2010.46V319.72H2014.53V339.97H2018.6V334.59H2022.67V338.5H2026.74V329.07H2030.81V349.98H2034.88V311.95H2038.95V359.35H2043.02V357.24H2047.09V359H2051.16V310.41H2055.23V339.09H2059.3V352.27H2063.37V355.84H2067.44V322.2H2071.51V354.08H2075.58V358.78H2079.65V318.04H2083.72V357.15H2087.79V338.26H2091.86V331.45H2095.93V340.92H2100V333.7H2104.07V348.1H2108.14V343.3H2112.21V358.5H2116.28V370.97H2120.35V338.5H2124.42V357.7H2128.49V325.57H2132.56V341.33H2136.63V341.64H2140.7V346.88H2144.77V342.53H2148.84V327.84H2152.91V339.52H2156.98V329.13H2161.05V290.5H2165.12V320.95H2169.19V365.34H2173.26V293.86H2177.33V324.1H2181.4V351.63H2185.47V311.71H2189.54V453.7H2193.61V432.1H2197.68V344.98H2201.75V352.76H2205.82V352.9H2209.89V308.21H2213.96V338.5H2218.03V453.7H2222.1V578.5Z" fill="#a52628" shape-rendering="crispEdges"/><rect x="1735.2" y="98.6" width="488.6" height="480" fill="none" stroke="#262626" stroke-width="2.4"/><path d="M1815.1 578.6L1815.1 585" stroke="#262626" stroke-width="2.4" fill="none"/><path d="M1815.1 98.6L1815.1 92.5" stroke="#262626" stroke-width="2.4" fill="none"/><path d="M1896.5 578.6L1896.5 585" stroke="#262626" stroke-width="2.4" fill="none"/><path d="M1896.5 98.6L1896.5 92.5" stroke="#262626" stroke-width="2.4" fill="none"/><path d="M1977.9 578.6L1977.9 585" stroke="#262626" stroke-width="2.4" fill="none"/><path d="M1977.9 98.6L1977.9 92.5" stroke="#262626" stroke-width="2.4" fill="none"/><path d="M2059.3 578.6L2059.3 585" stroke="#262626" stroke-width="2.4" fill="none"/><path d="M2059.3 98.6L2059.3 92.5" stroke="#262626" stroke-width="2.4" fill="none"/><path d="M2140.7 578.6L2140.7 585" stroke="#262626" stroke-width="2.4" fill="none"/><path d="M2140.7 98.6L2140.7 92.5" stroke="#262626" stroke-width="2.4" fill="none"/><path d="M2222.1 98.6L2222.1 92.5" stroke="#262626" stroke-width="2.4" fill="none"/><path d="M2222.3 578.6L2222.3 585" stroke="#262626" stroke-width="2.4" fill="none"/><path d="M1735.2 578.6L1729.5 578.6" stroke="#262626" stroke-width="2.4" fill="none"/><path d="M1735.2 458.6L1729.5 458.6" stroke="#262626" stroke-width="2.4" fill="none"/><path d="M2223.8 458.6L2229.5 458.6" stroke="#262626" stroke-width="2.4" fill="none"/><path d="M1735.2 338.6L1729.5 338.6" stroke="#262626" stroke-width="2.4" fill="none"/><path d="M2223.8 338.6L2229.5 338.6" stroke="#262626" stroke-width="2.4" fill="none"/><path d="M1735.2 218.6L1729.5 218.6" stroke="#262626" stroke-width="2.4" fill="none"/><path d="M2223.8 218.6L2229.5 218.6" stroke="#262626" stroke-width="2.4" fill="none"/><path d="M1735.2 98.6L1729.5 98.6" stroke="#262626" stroke-width="2.4" fill="none"/><path d="M2223.8 98.6L2229.5 98.6" stroke="#262626" stroke-width="2.4" fill="none"/><path d="M2223.8 578.6L2229.5 578.6" stroke="#262626" stroke-width="2.4" fill="none"/><filter id="blc1" x="-5%" y="-5%" width="110%" height="110%"><feGaussianBlur stdDeviation="1.2"/></filter><clipPath id="cpc1"><rect x="322.2" y="900.2" width="486.6" height="471.1"/></clipPath><g clip-path="url(#cpc1)"><g filter="url(#blc1)"><rect x="310.2" y="888.2" width="510.6" height="495.1" fill="#4332cb"/><g transform="translate(322.2,1371.3) scale(4.8660,-4.7110) translate(0,0.5)" fill="none" stroke-width="1.08"><path stroke="#402ab4" d="M-2 0h104M-2 1h3M-2 2h3M-2 3h3M-2 4h3M-2 5h3M-2 6h3M-2 7h3M-2 8h3M-2 9h3M-2 10h3M-2 11h3M-2 12h3M-2 13h3M-2 14h3M-2 15h3M-2 16h3M-2 17h3M-2 18h3M-2 19h3M-2 20h3M-2 21h3M-2 22h3M-2 23h3M-2 24h3M-2 25h3M-2 26h3M-2 27h3M-2 28h3M-2 29h3M-2 30h3M-2 31h3M-2 32h3M-2 33h3M-2 34h3M-2 35h3M-2 36h3M-2 37h3M-2 38h3M-2 39h3M-2 40h3M-2 41h3M-2 42h3M-2 43h3M-2 44h3M-2 45h3M-2 46h3M-2 47h3M-2 48h3M-2 49h3M-2 50h3M-2 51h3M-2 52h3M-2 53h3M-2 54h3M-2 55h3M-2 56h3M-2 57h3M-2 58h3M-2 59h3M-2 60h3M-2 61h3M-2 62h3M-2 63h3M-2 64h3M-2 65h3M-2 66h3M-2 67h3M-2 68h3M-2 69h3M-2 70h3M-2 71h3M-2 72h3M-2 73h3M-2 74h3M-2 75h3M-2 76h3M-2 77h3M-2 78h3M-2 79h3M-2 80h3M-2 81h3M-2 82h3M-2 83h3M-2 84h3M-2 85h3M-2 86h3M-2 87h3M-2 88h3M-2 89h3M-2 90h3M-2 91h3M-2 92h3M-2 93h3M-2 94h3M-2 95h3M-2 96h3M-2 97h3M-2 98h3M-2 99h3"/><path stroke="#422ec0" d="M99 1h3M99 2h3M99 3h3M99 4h3M99 5h3M99 6h3M99 7h3M99 8h3M99 9h3M96 10h1M99 10h3M99 11h3M99 12h3M77 13h1M99 13h3M99 14h3M88 15h1M97 15h5M95 16h1M99 16h3M88 17h1M99 17h3M77 18h1M99 18h3M81 19h1M89 19h1M99 19h3M90 20h1M97 20h1M99 20h3M73 21h1M93 21h2M98 21h4M71 22h1M76 22h1M78 22h1M85 22h1M94 22h1M97 22h1M99 22h3M69 23h2M75 23h1M85 23h1M99 23h3M72 24h1M90 24h2M96 24h2M99 24h3M71 25h1M94 25h1M96 25h2M99 25h3M86 26h1M88 26h1M90 26h1M97 26h5M61 27h1M68 27h1M76 27h1M78 27h1M81 27h1M83 27h1M86 27h2M90 27h1M95 27h1M99 27h3M61 28h1M68 28h1M76 28h1M78 28h1M80 28h3M95 28h1M99 28h3M71 29h1M81 29h1M84 29h1M97 29h1M99 29h3M67 30h1M86 30h1M89 30h1M91 30h1M93 30h1M99 30h3M40 31h1M55 31h2M62 31h1M78 31h1M82 31h1M84 31h1M87 31h2M90 31h1M92 31h2M96 31h2M99 31h3M45 32h1M52 32h1M71 32h1M83 32h2M89 32h5M95 32h1M97 32h1M99 32h3M46 33h1M49 33h1M67 33h1M87 33h1M90 33h2M94 33h1M97 33h1M99 33h3M58 34h1M65 34h1M71 34h1M74 34h1M82 34h1M84 34h1M87 34h1M91 34h1M99 34h3M75 35h1M77 35h1M81 35h1M84 35h4M89 35h1M97 35h5M44 36h1M61 36h1M70 36h2M78 36h1M83 36h1M85 36h1M87 36h1M89 36h1M93 36h1M98 36h4M44 37h1M46 37h1M62 37h1M74 37h1M78 37h1M85 37h1M93 37h1M98 37h4M30 38h1M70 38h1M74 38h1M80 38h1M83 38h3M90 38h3M99 38h3M43 39h1M71 39h1M74 39h1M76 39h1M83 39h3M92 39h1M95 39h1M99 39h3M40 40h1M58 40h1M63 40h1M78 40h1M81 40h1M83 40h2M86 40h1M88 40h1M93 40h1M98 40h4M46 41h1M64 41h1M66 41h1M83 41h2M87 41h1M90 41h1M92 41h1M94 41h1M97 41h1M99 41h3M56 42h2M72 42h1M78 42h1M80 42h3M90 42h1M93 42h3M97 42h5M50 43h1M53 43h1M56 43h1M62 43h1M65 43h2M68 43h1M80 43h1M85 43h2M88 43h3M92 43h2M96 43h2M99 43h3M54 44h1M61 44h1M73 44h2M77 44h1M79 44h1M81 44h1M83 44h1M89 44h5M99 44h3M20 45h1M52 45h1M64 45h1M71 45h1M81 45h1M85 45h1M87 45h3M91 45h2M99 45h3M49 46h1M61 46h1M65 46h1M70 46h1M75 46h1M78 46h1M85 46h3M91 46h1M94 46h1M96 46h2M99 46h3M54 47h1M59 47h1M61 47h1M64 47h1M68 47h1M79 47h2M90 47h2M97 47h5M66 48h1M76 48h1M80 48h1M85 48h2M88 48h3M92 48h1M95 48h1M97 48h1M99 48h3M25 49h1M42 49h1M56 49h2M63 49h1M68 49h1M75 49h1M78 49h1M85 49h2M88 49h3M93 49h1M97 49h1M99 49h3M30 50h1M55 50h1M63 50h1M65 50h1M67 50h1M76 50h1M94 50h2M99 50h3M50 51h1M64 51h2M71 51h1M73 51h1M77 51h1M81 51h2M84 51h2M89 51h1M91 51h1M95 51h7M24 52h1M33 52h1M63 52h1M72 52h1M77 52h2M86 52h1M90 52h5M97 52h5M37 53h1M41 53h1M49 53h1M51 53h1M53 53h1M63 53h1M66 53h1M71 53h1M73 53h2M76 53h1M83 53h4M90 53h1M94 53h1M96 53h1M99 53h3M24 54h1M38 54h1M41 54h1M47 54h1M49 54h1M54 54h1M56 54h1M69 54h1M74 54h1M78 54h1M83 54h1M85 54h3M89 54h3M93 54h2M96 54h1M98 54h4M51 55h1M54 55h1M59 55h1M61 55h1M65 55h2M72 55h1M75 55h1M77 55h1M82 55h1M86 55h2M89 55h1M93 55h4M99 55h3M41 56h1M54 56h1M56 56h2M61 56h1M64 56h1M66 56h1M71 56h1M73 56h1M78 56h2M81 56h1M84 56h2M87 56h2M91 56h1M95 56h3M99 56h3M35 57h1M46 57h1M48 57h1M56 57h2M59 57h1M61 57h3M68 57h1M70 57h1M78 57h3M88 57h1M91 57h1M93 57h1M95 57h7M51 58h1M54 58h1M58 58h1M65 58h1M68 58h1M70 58h1M72 58h1M75 58h1M80 58h6M91 58h5M99 58h3M20 59h1M30 59h1M39 59h1M41 59h1M52 59h1M59 59h1M64 59h1M66 59h1M69 59h2M74 59h1M81 59h6M89 59h3M94 59h2M97 59h5M37 60h1M58 60h3M62 60h2M65 60h2M68 60h1M73 60h4M80 60h1M86 60h2M89 60h8M98 60h4M20 61h1M47 61h1M60 61h1M65 61h1M71 61h5M77 61h1M80 61h2M83 61h1M86 61h2M92 61h1M94 61h2M97 61h5M38 62h1M48 62h1M63 62h1M68 62h3M72 62h1M78 62h1M82 62h4M88 62h6M95 62h1M97 62h5M34 63h1M39 63h1M47 63h2M62 63h2M65 63h1M67 63h4M73 63h1M75 63h2M78 63h1M82 63h1M85 63h2M88 63h1M90 63h1M93 63h3M99 63h3M9 64h1M38 64h1M40 64h1M53 64h1M57 64h2M60 64h1M63 64h1M65 64h1M69 64h3M75 64h1M83 64h5M89 64h1M91 64h2M99 64h3M26 65h1M32 65h1M35 65h1M43 65h2M47 65h1M51 65h1M54 65h1M61 65h3M68 65h1M70 65h3M75 65h1M81 65h1M83 65h1M86 65h1M89 65h13M35 66h1M42 66h1M57 66h1M61 66h2M65 66h1M69 66h2M72 66h2M76 66h1M78 66h1M82 66h1M87 66h3M91 66h4M96 66h1M98 66h4M25 67h1M28 67h2M39 67h1M42 67h1M48 67h1M51 67h1M53 67h3M57 67h1M63 67h1M65 67h1M69 67h1M75 67h2M78 67h2M82 67h4M87 67h1M91 67h1M94 67h1M96 67h2M99 67h3M39 68h2M47 68h1M55 68h1M61 68h1M65 68h1M67 68h1M78 68h2M82 68h4M89 68h1M91 68h7M99 68h3M26 69h1M30 69h1M35 69h1M37 69h1M39 69h3M44 69h2M53 69h2M57 69h1M59 69h1M62 69h2M65 69h1M67 69h1M71 69h1M77 69h1M83 69h1M88 69h1M92 69h5M99 69h3M33 70h1M36 70h1M38 70h1M42 70h1M47 70h1M53 70h1M60 70h1M62 70h1M64 70h2M68 70h1M75 70h2M78 70h2M82 70h2M85 70h1M93 70h2M97 70h1M99 70h3M26 71h1M42 71h2M46 71h1M55 71h2M58 71h2M63 71h1M65 71h2M68 71h1M72 71h1M77 71h1M80 71h1M83 71h1M87 71h6M94 71h1M96 71h2M99 71h3M18 72h1M46 72h1M57 72h2M61 72h8M70 72h1M72 72h1M74 72h1M76 72h3M80 72h6M87 72h1M90 72h3M94 72h1M96 72h2M99 72h3M33 73h2M46 73h1M56 73h1M60 73h1M64 73h1M66 73h1M69 73h1M76 73h4M81 73h1M85 73h2M89 73h1M91 73h11M27 74h1M36 74h1M39 74h1M45 74h1M54 74h2M58 74h1M61 74h3M68 74h1M73 74h1M76 74h1M78 74h1M80 74h1M84 74h1M88 74h1M92 74h2M95 74h1M98 74h4M27 75h1M29 75h1M38 75h1M41 75h1M50 75h1M56 75h1M59 75h2M64 75h1M69 75h2M72 75h2M78 75h2M83 75h1M86 75h2M89 75h1M92 75h1M94 75h1M96 75h2M99 75h3M25 76h1M29 76h1M44 76h2M48 76h2M52 76h1M54 76h1M60 76h1M62 76h1M66 76h6M75 76h2M80 76h3M85 76h1M87 76h4M92 76h1M94 76h1M97 76h5M28 77h1M34 77h1M39 77h1M43 77h1M50 77h3M58 77h3M66 77h2M73 77h1M75 77h1M78 77h3M82 77h5M88 77h1M91 77h11M22 78h1M28 78h1M30 78h1M51 78h1M53 78h1M55 78h1M57 78h1M59 78h3M64 78h2M72 78h1M76 78h2M82 78h2M85 78h3M89 78h2M92 78h3M96 78h6M25 79h1M36 79h2M40 79h1M45 79h1M47 79h2M52 79h2M58 79h2M61 79h2M64 79h1M67 79h1M69 79h1M71 79h2M74 79h2M80 79h7M90 79h3M95 79h3M99 79h3M28 80h1M31 80h1M39 80h1M46 80h1M50 80h1M52 80h1M60 80h1M62 80h2M67 80h1M74 80h1M81 80h4M86 80h8M96 80h2M99 80h3M27 81h1M31 81h2M34 81h1M37 81h1M41 81h1M43 81h1M45 81h1M47 81h2M50 81h3M54 81h5M66 81h5M72 81h1M75 81h1M79 81h5M85 81h3M91 81h2M95 81h1M97 81h5M29 82h1M44 82h1M48 82h1M53 82h5M60 82h2M63 82h1M65 82h1M68 82h5M78 82h1M80 82h3M84 82h2M88 82h1M91 82h2M94 82h1M96 82h2M99 82h3M19 83h1M25 83h1M38 83h2M41 83h2M48 83h1M51 83h1M53 83h1M59 83h1M61 83h1M64 83h1M66 83h1M70 83h3M75 83h2M80 83h6M87 83h3M92 83h5M98 83h4M26 84h1M31 84h1M36 84h2M43 84h1M48 84h1M50 84h1M53 84h1M56 84h2M61 84h2M66 84h1M70 84h3M75 84h1M78 84h1M82 84h4M87 84h2M90 84h2M94 84h1M96 84h6M13 85h1M19 85h1M29 85h1M31 85h1M36 85h1M42 85h1M47 85h3M56 85h1M58 85h1M66 85h2M69 85h1M73 85h4M78 85h2M81 85h1M85 85h3M89 85h1M91 85h2M94 85h4M99 85h3M25 86h1M34 86h1M44 86h2M47 86h1M50 86h1M52 86h1M54 86h1M56 86h5M64 86h5M71 86h1M73 86h1M75 86h5M84 86h1M86 86h2M89 86h2M92 86h1M94 86h8M14 87h1M30 87h1M34 87h3M40 87h2M43 87h1M45 87h2M48 87h1M50 87h1M54 87h2M59 87h1M61 87h1M65 87h2M71 87h1M73 87h1M75 87h1M81 87h3M85 87h1M87 87h1M90 87h3M94 87h1M96 87h6M14 88h1M22 88h1M39 88h1M42 88h2M48 88h1M50 88h1M52 88h3M56 88h1M60 88h1M62 88h1M65 88h3M69 88h6M76 88h3M80 88h6M87 88h1M90 88h2M93 88h1M96 88h6M21 89h1M32 89h1M35 89h2M48 89h2M58 89h1M60 89h4M74 89h3M78 89h1M80 89h1M82 89h3M87 89h6M94 89h2M98 89h4M10 90h1M26 90h1M33 90h1M36 90h1M40 90h1M47 90h1M51 90h1M53 90h3M57 90h1M60 90h1M62 90h2M66 90h5M75 90h3M80 90h2M83 90h1M85 90h1M88 90h3M92 90h4M99 90h3M29 91h1M32 91h2M37 91h1M39 91h2M45 91h2M48 91h2M52 91h1M58 91h1M62 91h1M65 91h1M67 91h4M74 91h3M79 91h4M86 91h1M88 91h8M98 91h4M25 92h1M28 92h1M31 92h2M44 92h2M47 92h4M52 92h1M55 92h3M59 92h1M61 92h2M64 92h2M67 92h1M70 92h1M73 92h2M76 92h1M78 92h1M80 92h1M82 92h1M84 92h7M92 92h5M98 92h4M18 93h1M31 93h1M38 93h1M40 93h1M42 93h4M47 93h1M49 93h2M52 93h1M54 93h2M58 93h1M60 93h1M64 93h5M71 93h1M73 93h3M77 93h2M80 93h2M83 93h11M95 93h3M99 93h3M13 94h1M18 94h1M20 94h3M28 94h3M35 94h1M37 94h1M40 94h2M43 94h3M49 94h3M55 94h2M59 94h1M61 94h1M63 94h2M66 94h2M69 94h1M72 94h1M74 94h3M79 94h4M84 94h11M99 94h3M25 95h1M30 95h2M37 95h1M42 95h2M45 95h4M53 95h1M57 95h2M60 95h1M62 95h1M65 95h5M71 95h2M75 95h3M81 95h4M86 95h1M88 95h2M91 95h1M94 95h4M99 95h3M15 96h1M20 96h1M24 96h1M26 96h1M28 96h1M31 96h1M38 96h2M45 96h1M48 96h4M54 96h14M69 96h2M72 96h3M76 96h3M80 96h1M82 96h2M85 96h1M87 96h4M92 96h2M95 96h3M99 96h3M26 97h1M37 97h3M42 97h1M44 97h1M47 97h1M50 97h1M52 97h1M54 97h1M56 97h1M59 97h2M62 97h4M67 97h1M76 97h1M79 97h1M81 97h1M83 97h1M85 97h17M24 98h1M37 98h1M43 98h2M46 98h1M50 98h2M53 98h2M57 98h1M62 98h1M65 98h1M67 98h3M71 98h2M74 98h1M76 98h1M78 98h2M82 98h1M86 98h7M95 98h1M98 98h4M1 99h101"/><path stroke="#4537d5" d="M86 1h1M92 1h1M98 1h1M85 3h1M94 4h1M92 5h1M98 7h1M87 8h2M90 8h1M95 8h1M97 8h2M74 9h1M81 9h1M87 9h5M62 10h1M66 10h1M86 10h2M92 10h1M95 10h1M97 10h1M61 11h1M63 11h1M68 11h1M84 11h1M86 11h1M88 11h1M90 11h3M96 11h1M98 11h1M54 12h1M79 12h1M86 12h2M90 12h1M92 12h2M95 12h1M97 12h2M40 13h1M55 13h1M67 13h1M69 13h1M78 13h4M85 13h1M88 13h6M96 13h2M49 14h1M65 14h1M77 14h1M79 14h2M82 14h1M84 14h2M88 14h1M91 14h2M94 14h4M36 15h1M40 15h1M51 15h1M55 15h1M59 15h1M68 15h1M70 15h1M75 15h1M87 15h1M89 15h1M44 16h1M53 16h1M61 16h1M67 16h1M72 16h2M76 16h1M80 16h2M86 16h1M88 16h1M92 16h1M60 17h1M75 17h1M80 17h1M82 17h1M87 17h1M90 17h1M93 17h2M97 17h1M37 18h1M57 18h4M64 18h1M68 18h2M71 18h1M81 18h1M83 18h1M85 18h3M93 18h1M95 18h1M97 18h1M42 19h1M44 19h2M53 19h1M59 19h1M62 19h3M67 19h1M70 19h3M75 19h1M77 19h2M87 19h1M95 19h1M98 19h1M44 20h1M54 20h1M56 20h1M58 20h3M69 20h1M71 20h1M79 20h1M85 20h2M89 20h1M92 20h1M33 21h1M43 21h1M46 21h1M50 21h1M53 21h1M55 21h3M61 21h1M64 21h1M68 21h1M70 21h3M74 21h1M76 21h1M80 21h4M86 21h1M88 21h1M90 21h2M95 21h2M29 22h1M31 22h1M41 22h1M46 22h1M48 22h1M55 22h1M59 22h1M61 22h3M65 22h1M72 22h1M74 22h1M82 22h2M86 22h1M89 22h2M95 22h1M34 23h1M36 23h2M40 23h2M44 23h1M47 23h3M52 23h1M54 23h1M57 23h1M61 23h1M63 23h2M67 23h2M71 23h1M76 23h1M79 23h1M83 23h2M86 23h1M89 23h2M95 23h1M97 23h1M30 24h1M38 24h1M43 24h1M45 24h1M50 24h3M55 24h2M58 24h2M64 24h1M67 24h1M69 24h1M71 24h1M73 24h1M76 24h2M81 24h1M84 24h1M93 24h2M98 24h1M34 25h2M44 25h1M47 25h5M53 25h1M56 25h1M58 25h1M61 25h1M64 25h1M68 25h1M74 25h2M78 25h2M82 25h1M84 25h1M91 25h1M98 25h1M38 26h1M47 26h1M50 26h2M56 26h1M61 26h1M63 26h1M67 26h1M75 26h1M77 26h1M80 26h1M91 26h1M95 26h1M24 27h3M39 27h5M45 27h1M48 27h1M51 27h1M55 27h1M57 27h1M67 27h1M69 27h1M72 27h3M79 27h1M82 27h1M84 27h1M91 27h2M97 27h1M27 28h1M30 28h2M37 28h1M41 28h2M46 28h1M48 28h2M51 28h3M55 28h1M59 28h2M64 28h3M70 28h1M73 28h1M77 28h1M79 28h1M84 28h2M92 28h1M28 29h1M32 29h2M38 29h1M44 29h1M46 29h3M55 29h1M60 29h2M65 29h1M67 29h3M75 29h1M83 29h1M87 29h1M92 29h2M26 30h1M32 30h1M38 30h2M41 30h2M46 30h1M51 30h6M63 30h4M68 30h3M73 30h3M78 30h1M83 30h1M24 31h1M29 31h2M33 31h1M36 31h3M42 31h1M46 31h1M48 31h1M54 31h1M59 31h1M61 31h1M63 31h5M69 31h1M74 31h1M76 31h1M80 31h2M86 31h1M89 31h1M91 31h1M26 32h1M28 32h2M32 32h1M37 32h3M44 32h1M46 32h2M50 32h1M55 32h1M58 32h1M63 32h1M67 32h1M73 32h1M75 32h1M78 32h2M86 32h2M28 33h1M33 33h1M39 33h1M42 33h3M50 33h1M53 33h1M64 33h1M66 33h1M71 33h1M77 33h1M80 33h2M86 33h1M19 34h1M28 34h2M34 34h2M41 34h2M46 34h5M52 34h1M54 34h1M62 34h2M66 34h2M69 34h2M83 34h1M85 34h1M88 34h1M95 34h1M26 35h1M29 35h1M32 35h1M35 35h1M39 35h2M43 35h1M47 35h1M49 35h1M51 35h6M62 35h2M65 35h1M67 35h2M71 35h3M79 35h2M82 35h1M88 35h1M93 35h1M36 36h1M39 36h1M41 36h1M43 36h1M47 36h1M49 36h1M52 36h1M54 36h1M57 36h1M59 36h1M62 36h4M72 36h1M76 36h2M92 36h1M97 36h1M30 37h1M32 37h1M38 37h1M47 37h1M49 37h1M51 37h1M53 37h2M58 37h1M60 37h2M63 37h2M67 37h2M70 37h2M79 37h1M84 37h1M95 37h1M13 38h1M25 38h2M29 38h1M33 38h1M37 38h2M44 38h1M46 38h2M51 38h1M56 38h2M59 38h1M61 38h1M64 38h3M69 38h1M75 38h1M89 38h1M20 39h1M26 39h2M29 39h2M39 39h1M41 39h2M45 39h2M49 39h1M51 39h2M56 39h3M62 39h1M65 39h2M72 39h1M82 39h1M88 39h1M97 39h1M23 40h1M26 40h1M30 40h1M32 40h2M35 40h1M41 40h1M43 40h1M45 40h1M47 40h1M49 40h1M62 40h1M64 40h1M69 40h1M85 40h1M92 40h1M19 41h1M34 41h1M38 41h3M42 41h1M48 41h1M51 41h1M56 41h2M59 41h1M67 41h1M69 41h1M71 41h1M76 41h1M78 41h1M80 41h1M91 41h1M21 42h1M26 42h2M34 42h1M39 42h2M42 42h1M44 42h3M49 42h1M53 42h1M55 42h1M60 42h1M62 42h2M65 42h1M68 42h1M70 42h1M77 42h1M83 42h1M89 42h1M92 42h1M19 43h1M21 43h1M24 43h1M26 43h1M28 43h5M34 43h1M36 43h1M39 43h3M44 43h2M47 43h1M51 43h2M54 43h1M59 43h1M61 43h1M67 43h1M74 43h1M87 43h1M20 44h1M26 44h2M29 44h3M36 44h1M39 44h1M42 44h3M46 44h2M52 44h1M57 44h1M60 44h1M69 44h1M71 44h1M75 44h1M84 44h1M94 44h2M25 45h1M32 45h1M36 45h1M46 45h1M49 45h1M53 45h2M57 45h1M59 45h1M62 45h1M65 45h1M68 45h1M72 45h1M86 45h1M95 45h1M25 46h1M27 46h1M31 46h1M33 46h1M38 46h6M45 46h2M48 46h1M51 46h2M66 46h2M69 46h1M77 46h1M80 46h1M82 46h1M19 47h1M22 47h1M27 47h1M33 47h1M36 47h1M38 47h2M45 47h1M48 47h1M52 47h1M63 47h1M65 47h2M69 47h1M72 47h1M76 47h1M94 47h1M19 48h1M23 48h1M26 48h1M31 48h1M34 48h2M39 48h4M44 48h1M46 48h1M48 48h1M50 48h1M53 48h1M58 48h2M23 49h2M29 49h2M32 49h2M35 49h1M44 49h1M46 49h2M50 49h1M53 49h1M55 49h1M59 49h1M61 49h1M64 49h1M91 49h1M17 50h1M22 50h1M26 50h1M28 50h1M33 50h1M35 50h1M38 50h1M40 50h1M42 50h3M47 50h1M50 50h1M56 50h1M62 50h1M71 50h1M74 50h2M84 50h1M91 50h2M18 51h1M22 51h2M26 51h1M28 51h4M35 51h1M38 51h2M41 51h1M44 51h2M49 51h1M51 51h2M54 51h1M70 51h1M83 51h1M94 51h1M22 52h1M25 52h2M28 52h1M32 52h1M36 52h1M38 52h3M47 52h4M52 52h4M61 52h1M69 52h2M74 52h1M87 52h1M20 53h2M24 53h4M29 53h3M34 53h3M54 53h1M57 53h1M67 53h1M97 53h1M22 54h2M31 54h1M33 54h1M39 54h1M42 54h1M44 54h1M46 54h1M48 54h1M50 54h2M55 54h1M62 54h1M64 54h1M71 54h1M80 54h1M84 54h1M12 55h1M15 55h3M20 55h2M25 55h1M30 55h1M34 55h1M37 55h3M47 55h1M53 55h1M56 55h2M67 55h1M74 55h1M78 55h1M80 55h1M85 55h1M15 56h1M17 56h3M23 56h2M28 56h4M35 56h1M37 56h2M42 56h3M49 56h1M51 56h1M53 56h1M58 56h1M60 56h1M63 56h1M69 56h2M74 56h1M83 56h1M90 56h1M18 57h1M20 57h1M23 57h2M28 57h1M30 57h1M36 57h2M45 57h1M50 57h1M11 58h1M16 58h1M18 58h1M25 58h1M28 58h1M31 58h1M35 58h1M40 58h2M47 58h1M50 58h1M63 58h1M66 58h1M69 58h1M89 58h1M19 59h1M25 59h1M28 59h1M33 59h1M37 59h1M40 59h1M51 59h1M76 59h1M96 59h1M16 60h1M21 60h1M26 60h1M30 60h1M35 60h1M39 60h2M43 60h1M53 60h1M69 60h1M71 60h1M16 61h2M21 61h2M25 61h1M27 61h1M29 61h5M36 61h2M41 61h2M48 61h1M53 61h1M66 61h2M69 61h1M14 62h1M21 62h1M23 62h1M27 62h1M29 62h1M32 62h1M36 62h2M39 62h1M41 62h1M47 62h1M50 62h2M53 62h2M57 62h1M66 62h1M74 62h1M16 63h1M18 63h1M24 63h3M29 63h2M35 63h1M40 63h1M50 63h1M53 63h1M58 63h1M60 63h1M72 63h1M74 63h1M77 63h1M80 63h1M11 64h1M15 64h2M21 64h3M25 64h3M29 64h1M31 64h4M44 64h1M47 64h1M54 64h1M61 64h1M64 64h1M68 64h1M73 64h1M8 65h1M16 65h3M20 65h1M24 65h2M28 65h1M31 65h1M33 65h1M41 65h2M45 65h1M49 65h2M52 65h1M56 65h2M18 66h1M22 66h1M27 66h4M33 66h2M39 66h3M43 66h1M48 66h1M51 66h1M53 66h1M55 66h1M59 66h1M67 66h1M75 66h1M17 67h1M19 67h1M24 67h1M30 67h1M33 67h1M36 67h1M38 67h1M43 67h1M45 67h1M49 67h1M64 67h1M67 67h1M90 67h1M95 67h1M98 67h1M13 68h2M16 68h4M21 68h1M26 68h1M28 68h1M32 68h1M35 68h1M37 68h1M41 68h1M46 68h1M51 68h2M56 68h1M64 68h1M18 69h1M20 69h2M25 69h1M31 69h1M46 69h4M52 69h1M69 69h1M16 70h1M19 70h4M24 70h1M29 70h3M39 70h1M41 70h1M43 70h1M48 70h1M52 70h1M54 70h1M61 70h1M71 70h1M12 71h1M14 71h1M17 71h1M19 71h1M22 71h1M27 71h1M32 71h2M36 71h1M39 71h2M49 71h2M52 71h2M73 71h1M82 71h1M19 72h6M27 72h1M32 72h5M43 72h1M49 72h1M52 72h1M56 72h1M17 73h5M23 73h2M27 73h1M29 73h1M31 73h1M38 73h1M48 73h1M50 73h2M63 73h1M73 73h1M75 73h1M20 74h1M24 74h3M33 74h2M37 74h2M40 74h1M42 74h1M44 74h1M49 74h1M51 74h1M70 74h1M97 74h1M16 75h6M23 75h1M26 75h1M28 75h1M35 75h2M43 75h1M13 76h1M17 76h3M21 76h1M23 76h2M27 76h1M34 76h2M37 76h1M42 76h1M47 76h1M51 76h1M59 76h1M61 76h1M95 76h1M11 77h2M16 77h1M20 77h3M24 77h3M32 77h2M35 77h2M38 77h1M48 77h1M62 77h1M90 77h1M13 78h1M15 78h2M21 78h1M24 78h2M32 78h1M34 78h2M37 78h1M54 78h1M56 78h1M68 78h1M18 79h1M27 79h1M34 79h1M43 79h1M55 79h1M6 80h1M12 80h1M14 80h1M21 80h1M25 80h2M33 80h3M37 80h2M40 80h1M44 80h1M51 80h1M56 80h1M8 81h1M11 81h2M14 81h1M19 81h1M21 81h3M26 81h1M38 81h1M49 81h1M71 81h1M90 81h1M11 82h3M15 82h2M19 82h5M36 82h2M41 82h1M50 82h1M83 82h1M10 83h1M13 83h4M18 83h1M20 83h1M28 83h1M30 83h1M32 83h1M40 83h1M54 83h1M57 83h1M69 83h1M90 83h2M12 84h1M14 84h1M19 84h4M25 84h1M32 84h1M35 84h1M60 84h1M93 84h1M6 85h1M16 85h1M18 85h1M20 85h2M24 85h1M26 85h2M30 85h1M34 85h2M52 85h1M57 85h1M80 85h1M11 86h1M13 86h1M15 86h2M29 86h1M40 86h1M91 86h1M9 87h2M20 87h1M22 87h1M24 87h1M29 87h1M33 87h1M42 87h1M44 87h1M86 87h1M6 88h1M8 88h1M12 88h2M16 88h1M20 88h2M23 88h1M30 88h3M38 88h1M51 88h1M79 88h1M14 89h3M18 89h1M33 89h1M37 89h1M41 89h1M69 89h1M8 90h1M16 90h1M22 90h1M30 90h2M41 90h1M45 90h1M48 90h1M59 90h1M78 90h1M8 91h1M11 91h1M14 91h1M30 91h2M51 91h1M54 91h1M78 91h1M85 91h1M11 92h1M13 92h1M17 92h1M19 92h1M24 92h1M26 92h1M29 92h2M33 92h1M37 92h1M10 93h2M13 93h1M16 93h2M20 93h2M23 93h1M25 93h1M28 93h1M30 93h1M8 94h1M10 94h1M12 94h1M17 94h1M19 94h1M23 94h1M48 94h1M11 95h1M15 95h3M20 95h3M27 95h1M29 95h1M36 95h1M38 95h1M56 95h1M63 95h1M6 96h2M9 96h2M12 96h1M14 96h1M16 96h2M27 96h1M29 96h2M84 96h1M8 97h2M11 97h2M14 97h2M29 97h1M32 97h2M43 97h1M48 97h1M8 98h1M10 98h1M12 98h1M16 98h2M19 98h2M23 98h1M27 98h1M45 98h1M83 98h1"/><path stroke="#463cde" d="M72 1h1M75 1h1M83 1h1M85 1h1M89 1h2M93 1h1M96 1h2M97 2h1M96 3h1M94 5h1M85 6h1M91 6h1M95 6h1M50 7h1M56 7h1M62 7h1M65 7h1M79 7h1M82 7h1M85 7h1M87 7h1M93 7h1M95 7h1M64 8h2M75 8h1M80 8h2M89 8h1M96 8h1M52 9h1M69 9h1M71 9h2M75 9h1M85 9h1M93 9h2M54 10h1M67 10h1M70 10h3M74 10h1M78 10h1M80 10h1M83 10h3M93 10h2M47 11h1M50 11h1M59 11h1M64 11h1M69 11h1M71 11h2M74 11h1M76 11h4M81 11h2M89 11h1M94 11h1M97 11h1M53 12h1M56 12h1M60 12h1M62 12h1M65 12h1M70 12h1M72 12h1M75 12h1M78 12h1M81 12h1M96 12h1M35 13h1M38 13h1M52 13h1M54 13h1M71 13h1M73 13h2M83 13h1M86 13h1M95 13h1M98 13h1M42 14h1M44 14h2M51 14h1M54 14h3M58 14h5M68 14h3M73 14h1M81 14h1M83 14h1M87 14h1M89 14h1M52 15h1M61 15h1M65 15h1M73 15h1M79 15h1M81 15h3M85 15h2M93 15h1M29 16h1M41 16h1M45 16h1M47 16h2M55 16h1M60 16h1M63 16h3M68 16h2M71 16h1M74 16h2M79 16h1M84 16h1M42 17h1M46 17h1M52 17h1M57 17h1M59 17h1M64 17h4M69 17h3M73 17h2M76 17h3M83 17h1M92 17h1M27 18h1M32 18h1M34 18h1M36 18h1M40 18h1M47 18h1M49 18h3M53 18h3M61 18h3M65 18h1M74 18h2M79 18h2M94 18h1M20 19h2M36 19h2M39 19h1M41 19h1M46 19h1M49 19h2M52 19h1M55 19h4M60 19h2M65 19h1M86 19h1M90 19h1M24 20h1M30 20h1M46 20h2M49 20h2M52 20h2M67 20h1M70 20h1M74 20h2M77 20h1M80 20h1M87 20h2M28 21h2M31 21h1M37 21h1M39 21h1M41 21h2M44 21h2M49 21h1M52 21h1M54 21h1M59 21h2M63 21h1M69 21h1M77 21h1M30 22h1M32 22h1M34 22h1M37 22h1M42 22h3M47 22h1M49 22h4M60 22h1M66 22h2M69 22h1M75 22h1M77 22h1M23 23h1M26 23h1M29 23h1M31 23h1M38 23h1M50 23h2M53 23h1M58 23h2M66 23h1M73 23h1M87 23h1M94 23h1M27 24h1M34 24h3M40 24h1M47 24h1M49 24h1M53 24h2M57 24h1M62 24h2M65 24h1M75 24h1M82 24h2M18 25h1M20 25h1M29 25h1M43 25h1M45 25h2M52 25h1M55 25h1M57 25h1M59 25h1M65 25h1M86 25h1M23 26h1M26 26h2M33 26h2M36 26h1M41 26h3M45 26h1M49 26h1M53 26h1M55 26h1M58 26h1M62 26h1M64 26h1M66 26h1M72 26h1M81 26h1M20 27h1M23 27h1M27 27h1M31 27h1M34 27h1M36 27h1M50 27h1M52 27h1M54 27h1M56 27h1M58 27h1M60 27h1M63 27h1M70 27h1M85 27h1M94 27h1M96 27h1M26 28h1M32 28h1M34 28h1M38 28h2M54 28h1M58 28h1M19 29h1M27 29h1M29 29h2M34 29h2M37 29h1M40 29h1M42 29h2M49 29h1M54 29h1M66 29h1M72 29h1M23 30h1M29 30h3M33 30h1M35 30h1M57 30h1M59 30h1M62 30h1M72 30h1M84 30h1M23 31h1M27 31h1M31 31h1M34 31h1M39 31h1M43 31h1M45 31h1M50 31h2M53 31h1M17 32h1M35 32h2M40 32h3M59 32h1M74 32h1M20 33h1M23 33h1M25 33h1M29 33h3M34 33h1M37 33h1M41 33h1M45 33h1M57 33h1M60 33h1M68 33h1M73 33h1M22 34h2M25 34h3M31 34h3M37 34h1M45 34h1M53 34h1M56 34h2M61 34h1M21 35h1M24 35h2M27 35h1M36 35h1M38 35h1M42 35h1M50 35h1M64 35h1M26 36h1M33 36h2M37 36h1M50 36h1M58 36h1M60 36h1M80 36h1M14 37h1M22 37h1M24 37h1M26 37h1M28 37h2M31 37h1M33 37h1M43 37h1M48 37h1M50 37h1M52 37h1M76 37h1M20 38h1M22 38h3M27 38h1M35 38h1M39 38h1M42 38h1M45 38h1M48 38h1M50 38h1M52 38h1M54 38h1M77 38h1M97 38h1M17 39h1M22 39h1M25 39h1M28 39h1M34 39h5M40 39h1M47 39h2M77 39h1M94 39h1M16 40h1M19 40h1M22 40h1M25 40h1M29 40h1M31 40h1M36 40h3M44 40h1M46 40h1M52 40h1M54 40h1M87 40h1M96 40h1M16 41h1M21 41h1M24 41h3M28 41h2M31 41h3M36 41h2M44 41h1M47 41h1M65 41h1M82 41h1M89 41h1M17 42h1M20 42h1M28 42h1M35 42h2M38 42h1M41 42h1M43 42h1M47 42h1M51 42h1M14 43h1M18 43h1M27 43h1M33 43h1M42 43h1M16 44h2M19 44h1M22 44h1M25 44h1M28 44h1M32 44h3M45 44h1M50 44h2M64 44h1M80 44h1M18 45h1M24 45h1M26 45h2M29 45h1M31 45h1M33 45h1M37 45h2M40 45h3M44 45h1M48 45h1M51 45h1M75 45h1M19 46h1M21 46h2M26 46h1M30 46h1M37 46h1M47 46h1M50 46h1M9 47h1M12 47h1M18 47h1M21 47h1M25 47h2M32 47h1M40 47h3M47 47h1M83 47h1M17 48h2M20 48h1M27 48h1M43 48h1M45 48h1M63 48h1M84 48h1M98 48h1M20 49h1M27 49h1M36 49h1M38 49h2M41 49h1M49 49h1M76 49h1M81 49h1M14 50h1M16 50h1M18 50h2M27 50h1M29 50h1M37 50h1M46 50h1M52 50h1M11 51h1M25 51h1M37 51h1M42 51h1M55 51h1M20 52h1M23 52h1M27 52h1M31 52h1M34 52h1M37 52h1M65 52h1M18 53h2M23 53h1M32 53h1M38 53h1M43 53h3M18 54h2M29 54h1M32 54h1M40 54h1M52 54h1M13 55h1M18 55h1M22 55h1M26 55h1M35 55h1M62 55h1M64 55h1M90 55h1M10 56h1M14 56h1M21 56h2M26 56h2M36 56h1M45 56h1M9 57h1M12 57h1M15 57h1M19 57h1M21 57h2M25 57h1M27 57h1M29 57h1M47 57h1M51 57h1M14 58h1M19 58h1M23 58h1M27 58h1M38 58h1M42 58h1M10 59h1M15 59h1M18 59h1M21 59h1M23 59h1M26 59h1M29 59h1M44 59h1M50 59h1M1 60h1M10 60h1M12 60h1M18 60h1M20 60h1M22 60h1M45 60h1M11 61h1M19 61h1M24 61h1M46 61h1M93 61h1M96 61h1M7 62h1M12 62h1M15 62h6M25 62h2M77 62h1M11 63h1M17 63h1M19 63h1M23 63h1M84 63h1M13 64h1M20 64h1M28 64h1M15 65h1M19 65h1M21 65h1M27 65h1M12 66h1M14 66h2M17 66h1M20 66h1M23 66h1M25 66h1M64 66h1M86 66h1M13 67h3M23 67h1M32 67h1M47 67h1M56 67h1M12 68h1M15 68h1M20 68h1M27 68h1M31 68h1M33 68h1M11 69h1M13 69h3M17 69h1M19 69h1M22 69h1M24 69h1M74 69h1M6 70h1M8 70h2M11 70h5M23 70h1M26 70h1M40 70h1M55 70h1M98 70h1M10 71h2M18 71h1M20 71h1M34 71h1M37 71h1M54 71h1M79 71h1M8 72h1M10 72h1M12 72h1M14 72h2M17 72h1M93 72h1M11 73h1M13 73h2M16 73h1M25 73h1M58 73h1M62 73h1M67 73h1M71 73h1M83 73h1M87 73h1M90 73h1M14 74h1M16 74h2M21 74h3M89 74h2M7 75h1M12 75h1M24 75h1M39 75h1M45 75h1M9 76h1M15 76h2M8 77h1M14 77h2M18 77h2M27 77h1M87 77h1M14 78h1M18 78h1M20 78h1M40 78h1M49 78h1M11 79h1M14 79h1M16 79h1M33 79h1M41 79h2M70 79h1M1 80h1M10 80h1M16 80h1M20 80h1M22 80h1M59 80h1M5 81h1M10 81h1M16 81h3M20 81h1M24 81h2M78 81h1M89 81h1M14 82h1M17 82h1M30 82h1M35 82h1M45 82h1M89 82h1M4 83h1M7 83h1M11 83h2M26 83h1M52 83h1M74 83h1M77 83h1M7 84h1M9 84h3M18 84h1M27 84h1M65 84h1M73 84h1M5 85h1M11 85h2M15 85h1M17 85h1M23 85h1M65 85h1M1 86h1M7 86h1M10 86h1M12 86h1M17 86h1M43 86h1M70 86h1M72 86h1M1 87h1M11 87h1M15 87h2M28 87h1M32 87h1M51 87h1M5 88h1M7 88h1M9 88h3M15 88h1M18 88h1M58 88h1M5 89h4M10 89h4M20 89h1M70 89h1M81 89h1M97 89h1M1 90h1M9 90h1M11 90h1M15 90h1M39 90h1M79 90h1M84 90h1M97 90h1M5 91h2M9 91h2M12 91h1M15 91h1M83 91h1M1 92h1M9 92h2M12 92h1M15 92h1M20 92h1M35 92h1M6 93h1M9 93h1M57 93h1M6 94h1M14 94h1M47 94h1M78 94h1M1 95h2M4 95h1M6 95h1M8 95h1M10 95h1M13 95h1M18 95h1M24 95h1M98 95h1M8 96h1M13 96h1M18 96h1M1 97h1M7 97h1M25 97h1M31 97h1M72 97h1M77 97h1M1 98h1M5 98h1M63 98h1M93 98h1"/><path stroke="#4741e5" d="M74 1h1M76 1h1M81 1h1M91 1h1M94 1h1M91 2h3M95 2h1M98 2h1M97 3h1M98 4h1M60 5h1M71 5h1M84 5h3M91 5h1M96 5h1M73 6h2M82 6h1M86 6h1M88 6h2M92 6h1M94 6h1M98 6h1M46 7h1M64 7h1M75 7h3M83 7h1M88 7h1M91 7h1M96 7h1M46 8h1M49 8h1M53 8h1M55 8h1M70 8h1M72 8h3M78 8h2M83 8h1M91 8h3M50 9h1M56 9h1M64 9h1M70 9h1M76 9h1M79 9h2M82 9h1M84 9h1M86 9h1M40 10h1M46 10h1M52 10h1M60 10h1M64 10h1M76 10h1M82 10h1M88 10h1M98 10h1M51 11h2M58 11h1M70 11h1M73 11h1M83 11h1M85 11h1M87 11h1M48 12h1M50 12h1M55 12h1M57 12h3M68 12h2M71 12h1M73 12h2M77 12h1M83 12h1M89 12h1M49 13h3M53 13h1M59 13h1M64 13h1M68 13h1M70 13h1M72 13h1M75 13h1M82 13h1M33 14h1M37 14h1M46 14h1M50 14h1M66 14h1M75 14h1M35 15h1M37 15h1M41 15h1M43 15h5M49 15h2M56 15h1M58 15h1M60 15h1M62 15h1M64 15h1M69 15h1M71 15h1M74 15h1M76 15h2M80 15h1M25 16h1M28 16h1M34 16h1M38 16h2M54 16h1M56 16h2M59 16h1M62 16h1M77 16h1M87 16h1M25 17h1M31 17h2M34 17h1M36 17h1M38 17h1M40 17h2M44 17h2M47 17h1M49 17h1M56 17h1M58 17h1M63 17h1M23 18h2M30 18h1M43 18h2M46 18h1M56 18h1M67 18h1M84 18h1M89 18h1M26 19h1M31 19h1M33 19h2M38 19h1M43 19h1M48 19h1M51 19h1M54 19h1M66 19h1M76 19h1M84 19h1M28 20h1M33 20h3M41 20h2M55 20h1M34 21h1M58 21h1M65 21h1M22 22h1M28 22h1M45 22h1M53 22h1M64 22h1M19 23h4M25 23h1M39 23h1M42 23h2M62 23h1M80 23h1M20 24h1M22 24h3M28 24h1M31 24h3M41 24h2M46 24h1M48 24h1M70 24h1M16 25h1M21 25h1M23 25h1M25 25h1M27 25h1M30 25h2M33 25h1M38 25h1M40 25h3M54 25h1M63 25h1M70 25h1M15 26h1M21 26h2M24 26h1M29 26h4M37 26h1M39 26h2M44 26h1M46 26h1M48 26h1M52 26h1M54 26h1M92 26h1M17 27h1M29 27h2M37 27h2M44 27h1M46 27h1M53 27h1M21 28h2M28 28h1M33 28h1M40 28h1M45 28h1M57 28h1M15 29h1M17 29h1M22 29h1M24 29h3M52 29h1M14 30h2M19 30h1M21 30h1M27 30h2M34 30h1M40 30h1M45 30h1M47 30h1M21 31h2M25 31h2M28 31h1M35 31h1M41 31h1M49 31h1M57 31h1M16 32h1M18 32h1M20 32h3M24 32h1M27 32h1M31 32h1M49 32h1M66 32h1M68 32h1M18 33h2M21 33h2M26 33h1M32 33h1M35 33h2M38 33h1M76 33h1M17 34h1M20 34h2M24 34h1M30 34h1M39 34h2M44 34h1M15 35h1M18 35h2M23 35h1M30 35h2M33 35h1M41 35h1M44 35h1M78 35h1M92 35h1M14 36h2M17 36h2M22 36h2M25 36h1M27 36h1M31 36h1M46 36h1M53 36h1M20 37h2M36 37h1M39 37h1M42 37h1M15 38h3M19 38h1M28 38h1M31 38h2M41 38h1M63 38h1M12 39h1M16 39h1M19 39h1M23 39h2M32 39h1M67 39h1M12 40h1M24 40h1M27 40h1M39 40h1M90 40h1M8 41h1M11 41h1M13 41h1M15 41h1M17 41h1M20 41h1M22 41h1M27 41h1M43 41h1M25 42h1M29 42h1M48 42h1M66 42h1M74 42h1M20 43h1M23 43h1M25 43h1M18 44h1M24 44h1M37 44h1M49 44h1M88 44h1M8 45h1M13 45h2M16 45h1M21 45h2M34 45h1M39 45h1M13 46h2M18 46h1M28 46h1M59 46h1M93 46h1M30 47h1M43 47h1M12 48h1M14 48h1M21 48h1M38 48h1M55 48h1M82 48h1M7 49h1M9 49h1M12 49h2M16 49h1M19 49h1M28 49h1M31 49h1M34 49h1M71 49h1M13 50h1M20 50h1M25 50h1M73 50h1M10 51h1M15 51h1M19 51h1M21 51h1M24 51h1M36 51h1M67 51h1M90 51h1M13 52h1M15 52h3M19 52h1M8 53h1M10 53h1M12 53h1M15 53h3M22 53h1M50 53h1M62 53h1M65 53h1M79 53h1M8 54h1M12 54h3M16 54h2M20 54h1M8 55h1M9 56h1M16 57h2M26 57h1M31 57h1M10 58h1M12 58h1M15 58h1M20 58h2M57 58h1M86 58h1M14 59h1M16 59h1M27 59h1M46 59h1M61 59h1M67 59h1M75 59h1M77 59h1M11 60h1M13 60h3M19 60h1M34 60h1M83 60h1M12 61h2M15 61h1M34 61h1M59 61h1M63 61h1M1 62h1M13 62h1M46 62h1M10 63h1M15 63h1M27 63h1M52 63h1M54 63h1M87 63h1M1 64h1M8 64h1M14 64h1M18 64h1M30 64h1M42 64h1M93 64h1M1 65h1M7 65h1M10 65h1M23 65h1M59 65h1M8 66h1M10 66h1M16 66h1M19 66h1M21 66h1M8 67h1M11 67h1M16 67h1M34 67h1M74 67h1M9 68h1M25 68h1M34 68h1M10 69h1M23 69h1M75 69h1M7 70h1M17 70h2M25 70h1M7 71h1M13 71h1M16 71h1M25 71h1M35 71h1M57 71h1M9 72h1M9 73h1M15 73h1M42 73h1M74 73h1M4 74h1M8 74h1M10 74h1M13 74h1M41 74h1M60 74h1M82 74h1M4 75h1M9 75h1M11 75h1M22 75h1M98 75h1M10 76h3M33 76h1M58 76h1M3 77h1M10 77h1M13 77h1M44 77h1M46 77h1M76 77h1M5 78h2M8 78h1M47 78h1M1 79h1M6 79h1M8 79h1M13 79h1M8 80h2M11 80h1M55 80h1M76 80h1M1 81h1M7 81h1M9 81h1M63 81h1M1 82h1M7 82h1M10 82h1M34 82h1M1 83h1M5 83h1M8 83h1M1 84h1M8 84h1M16 84h1M28 84h1M86 84h1M4 85h1M9 85h2M62 85h1M77 85h1M93 85h1M8 86h1M19 86h1M37 86h1M42 86h1M63 86h1M83 86h1M3 87h1M6 87h3M13 87h1M80 87h1M95 87h1M94 88h1M51 89h1M93 89h1M3 90h1M5 90h1M7 90h1M29 90h1M37 90h1M44 90h1M96 90h1M98 90h1M1 91h2M7 91h1M43 91h1M7 92h2M63 92h1M77 92h1M3 93h1M7 93h2M15 93h1M98 93h1M1 94h1M5 94h1M7 94h1M26 94h1M7 95h1M26 95h1M50 95h1M1 96h1M47 96h1M2 97h5M13 97h1M55 97h1M7 98h1M9 98h1M11 98h1M15 98h1M18 98h1M26 98h1"/><path stroke="#4747eb" d="M67 1h1M70 1h1M78 1h2M84 1h1M87 2h2M96 2h1M79 3h1M83 3h1M87 3h2M94 3h2M73 4h2M97 4h1M63 5h1M68 5h1M80 5h1M83 5h1M87 5h2M90 5h1M70 6h1M75 6h1M81 6h1M87 6h1M93 6h1M97 6h1M31 7h1M45 7h1M52 7h1M71 7h1M73 7h2M78 7h1M80 7h2M84 7h1M92 7h1M94 7h1M54 8h1M61 8h1M69 8h1M77 8h1M85 8h1M31 9h1M53 9h1M57 9h1M63 9h1M65 9h3M73 9h1M78 9h1M42 10h1M44 10h1M49 10h1M55 10h3M61 10h1M65 10h1M68 10h1M73 10h1M81 10h1M91 10h1M38 11h2M41 11h1M55 11h1M57 11h1M65 11h3M30 12h1M36 12h1M39 12h1M41 12h1M43 12h1M46 12h1M51 12h2M63 12h2M67 12h1M34 13h1M41 13h1M43 13h1M47 13h1M57 13h2M61 13h3M66 13h1M31 14h2M34 14h2M43 14h1M47 14h1M52 14h2M57 14h1M72 14h1M27 15h5M39 15h1M48 15h1M57 15h1M67 15h1M72 15h1M78 15h1M35 16h2M42 16h2M46 16h1M49 16h4M58 16h1M78 16h1M26 17h1M35 17h1M50 17h1M53 17h1M68 17h1M26 18h1M28 18h1M33 18h1M38 18h2M41 18h2M66 18h1M72 18h1M92 18h1M22 19h1M25 19h1M29 19h1M32 19h1M35 19h1M25 20h1M29 20h1M31 20h2M36 20h5M45 20h1M48 20h1M63 20h1M16 21h1M20 21h1M22 21h1M26 21h2M30 21h1M47 21h2M25 22h1M36 22h1M40 22h1M58 22h1M68 22h1M81 22h1M98 22h1M24 23h1M27 23h1M30 23h1M32 23h2M45 23h1M72 23h1M17 24h1M29 24h1M39 24h1M79 24h1M22 25h1M26 25h1M32 25h1M36 25h2M39 25h1M60 25h1M18 26h2M17 28h1M24 28h1M35 28h1M44 28h1M16 29h1M18 29h1M21 29h1M23 29h1M53 29h1M56 29h1M20 30h1M12 31h1M19 31h2M32 31h1M58 31h1M11 32h1M14 32h1M33 32h1M57 32h1M62 32h1M65 32h1M11 33h1M17 33h1M15 34h1M18 34h1M16 35h1M45 35h1M69 35h1M19 36h2M29 36h1M88 36h1M13 37h1M16 37h1M18 37h1M34 37h1M18 38h1M36 38h1M53 38h1M96 38h1M81 39h1M15 40h1M17 40h1M34 40h1M76 40h1M14 41h1M18 41h1M77 41h1M14 42h2M19 42h1M24 42h1M31 42h1M37 42h1M9 43h2M13 43h1M22 43h1M46 43h1M98 43h1M11 44h1M14 44h2M21 44h1M40 44h1M55 44h1M11 45h1M17 45h1M66 45h1M11 46h2M15 46h1M23 46h2M1 47h1M14 47h4M20 47h1M84 47h1M96 47h1M11 48h1M15 48h2M22 48h1M30 48h1M79 48h1M96 48h1M10 49h1M14 49h2M21 49h2M26 49h1M73 49h1M82 49h1M10 50h1M15 50h1M23 50h1M39 50h1M58 50h1M66 50h1M80 50h1M90 50h1M98 50h1M13 51h2M32 51h1M57 51h1M79 51h1M6 52h1M8 52h1M11 52h2M14 52h1M41 52h1M13 53h2M40 53h1M58 53h1M77 53h1M61 54h1M81 54h1M23 55h1M42 55h1M46 55h1M6 56h1M11 56h1M13 56h1M80 56h1M10 57h1M13 57h1M13 58h1M17 58h1M29 58h1M32 58h1M55 58h2M7 59h1M9 59h1M11 59h3M17 60h1M36 60h1M23 61h1M39 61h1M11 62h1M30 62h1M56 62h1M58 62h1M81 62h1M1 63h1M7 63h1M12 63h2M21 63h1M46 63h1M55 63h1M37 64h1M41 64h1M9 65h1M12 65h2M60 65h1M7 66h1M11 66h1M13 66h1M45 66h1M5 67h1M9 67h1M62 67h1M1 68h1M8 68h1M10 68h2M49 68h1M1 69h1M9 69h1M42 69h1M85 69h1M10 70h1M50 70h1M73 70h1M15 71h1M7 72h1M16 72h1M71 72h1M1 73h1M7 73h1M10 73h1M41 73h1M59 73h1M7 74h1M9 74h1M11 74h1M15 74h1M48 74h1M8 75h1M10 75h1M15 75h1M91 75h1M1 76h1M6 76h1M8 76h1M39 76h1M46 76h1M64 76h1M6 77h1M17 77h1M31 77h1M64 77h1M71 77h1M9 78h1M12 78h1M29 78h1M39 78h1M38 79h1M3 81h1M6 81h1M74 81h1M76 81h1M6 82h1M18 82h1M79 82h1M3 83h1M6 83h1M9 83h1M97 83h1M68 84h1M89 84h1M95 84h1M1 85h3M8 85h1M90 85h1M2 86h2M85 86h1M12 87h1M72 87h1M1 88h2M49 88h1M68 88h1M1 89h1M4 90h1M52 90h1M3 91h2M71 91h1M3 92h1M5 92h1M1 93h2M5 93h1M33 93h1M56 93h1M4 94h1M24 94h1M32 94h1M70 94h1M3 95h1M5 95h1M14 95h1M54 95h1M70 95h1M2 96h2M22 96h1M37 96h1M53 96h1M18 97h1M35 97h1M49 97h1M69 97h1M6 98h1"/><path stroke="#484df0" d="M60 1h1M71 1h1M80 1h1M87 1h1M95 1h1M72 2h1M78 2h1M85 2h1M89 2h2M76 3h2M80 3h1M82 3h1M86 3h1M92 3h2M58 4h1M76 4h1M78 4h1M80 4h1M83 4h1M89 4h1M91 4h1M69 5h1M72 5h1M75 5h3M81 5h2M89 5h1M95 5h1M45 6h1M61 6h1M66 6h1M76 6h3M83 6h1M96 6h1M41 7h1M44 7h1M66 7h2M70 7h1M72 7h1M90 7h1M45 8h1M50 8h1M57 8h1M59 8h1M67 8h1M71 8h1M37 9h1M40 9h1M44 9h1M46 9h2M49 9h1M51 9h1M54 9h2M58 9h1M61 9h1M68 9h1M38 10h2M51 10h1M58 10h2M75 10h1M90 10h1M25 11h1M36 11h2M44 11h2M48 11h2M53 11h2M60 11h1M62 11h1M28 12h1M31 12h2M35 12h1M40 12h1M42 12h1M47 12h1M61 12h1M66 12h1M91 12h1M30 13h1M33 13h1M42 13h1M56 13h1M60 13h1M25 14h1M39 14h1M48 14h1M74 14h1M33 15h2M38 15h1M63 15h1M66 15h1M84 15h1M20 16h1M23 16h2M27 16h1M30 16h2M40 16h1M89 16h1M18 17h1M21 17h1M23 17h1M30 17h1M37 17h1M39 17h1M48 17h1M51 17h1M54 17h1M85 17h1M31 18h1M88 18h1M23 19h2M27 19h2M17 20h1M20 20h3M27 20h1M65 20h1M72 20h1M93 20h1M24 21h1M32 21h1M36 21h1M40 21h1M19 22h1M21 22h1M33 22h1M39 22h1M80 22h1M96 22h1M17 23h1M35 23h1M55 23h1M18 24h2M21 24h1M26 24h1M44 24h1M95 24h1M13 25h3M14 26h1M17 26h1M20 26h1M18 27h1M21 27h1M11 28h1M16 28h1M18 28h3M25 28h1M86 28h1M20 29h1M41 29h1M58 29h1M62 29h1M98 29h1M12 30h1M22 30h1M25 30h1M43 30h1M13 31h6M68 31h1M15 32h1M25 32h1M30 32h1M14 33h1M24 33h1M27 33h1M54 33h1M58 33h1M75 33h1M11 34h1M38 34h1M8 35h1M12 35h1M20 35h1M22 35h1M12 36h1M16 36h1M32 36h1M40 36h1M12 37h1M15 37h1M17 37h1M23 37h1M55 37h1M11 38h1M21 38h1M81 38h1M11 39h1M15 39h1M18 39h1M10 40h1M13 40h2M18 40h1M20 40h1M28 40h1M10 41h1M9 42h2M13 42h1M16 42h1M23 42h1M33 42h1M12 43h1M15 43h3M58 43h1M78 43h1M82 43h1M9 44h1M12 44h2M23 44h1M63 44h1M15 45h1M80 45h1M9 46h1M17 46h1M20 46h1M44 46h1M68 46h1M73 46h1M13 47h1M81 47h1M10 48h1M13 48h1M74 48h1M94 48h1M1 49h1M11 49h1M17 49h1M8 50h2M11 50h1M21 50h1M48 50h1M12 51h1M20 51h1M27 51h1M1 52h1M9 52h2M21 52h1M43 52h1M9 53h1M47 53h1M75 53h1M5 54h1M7 54h1M9 54h1M11 54h1M35 54h1M66 54h1M76 54h1M7 55h1M11 55h1M24 55h1M31 55h1M1 56h1M8 56h1M12 56h1M16 56h1M59 56h1M7 57h2M11 57h1M14 57h1M42 57h1M72 57h1M8 58h1M26 58h1M22 59h1M34 59h1M48 59h1M6 60h1M9 60h1M47 60h1M51 60h1M6 61h1M10 61h1M14 61h1M50 61h1M58 61h1M8 62h3M28 62h1M94 62h1M6 63h1M9 63h1M14 63h1M7 64h1M12 64h1M36 65h1M3 66h1M6 66h1M9 66h1M54 66h1M56 66h1M80 66h1M1 67h1M10 67h1M12 67h1M18 67h1M6 68h1M74 68h1M3 69h1M7 69h2M1 70h1M1 71h1M4 71h1M6 71h1M8 71h2M70 71h1M6 72h1M11 72h1M4 73h3M1 74h1M43 74h1M52 74h1M81 74h1M5 75h2M20 76h1M86 76h1M1 77h1M7 77h1M7 78h1M23 78h1M27 78h1M44 78h1M26 79h1M50 79h1M7 80h1M19 80h1M64 80h1M4 81h1M13 81h1M3 82h1M5 82h1M51 82h1M2 83h1M49 83h1M2 84h1M4 84h2M13 84h1M38 84h1M92 84h1M7 85h1M45 85h1M60 85h1M5 86h1M41 86h1M4 87h1M39 87h1M55 89h1M2 90h1M21 90h1M43 90h1M6 92h1M4 93h1M9 94h1M12 95h1M92 95h1M86 96h1M2 98h1M4 98h1"/><path stroke="#4852f4" d="M36 1h1M46 1h1M53 1h1M57 1h3M66 1h1M68 1h1M73 1h1M88 1h1M60 2h1M63 2h1M75 2h1M80 2h1M83 2h1M94 2h1M89 3h3M55 4h1M61 4h1M66 4h1M68 4h1M71 4h1M75 4h1M84 4h2M90 4h1M96 4h1M40 5h1M67 5h1M79 5h1M52 6h1M54 6h4M59 6h1M64 6h1M67 6h1M69 6h1M72 6h1M80 6h1M30 7h1M37 7h1M49 7h1M51 7h1M53 7h1M55 7h1M58 7h1M60 7h2M68 7h2M28 8h1M44 8h1M47 8h2M51 8h2M56 8h1M62 8h2M66 8h1M76 8h1M82 8h1M27 9h1M29 9h1M32 9h1M39 9h1M42 9h2M48 9h1M60 9h1M62 9h1M41 10h1M77 10h1M79 10h1M30 11h1M32 11h2M35 11h1M25 12h2M33 12h2M38 12h1M44 12h2M49 12h1M80 12h1M94 12h1M18 13h1M29 13h1M37 13h1M39 13h1M45 13h2M48 13h1M20 14h1M22 14h1M28 14h3M63 14h1M19 15h1M25 15h1M53 15h1M22 16h1M32 16h2M37 16h1M94 16h1M22 17h1M29 17h1M55 17h1M91 17h1M96 17h1M20 18h1M35 18h1M52 18h1M91 18h1M16 19h1M18 19h1M30 19h1M47 19h1M68 19h1M23 20h1M61 20h1M19 21h1M21 21h1M25 21h1M14 22h1M16 22h2M26 22h2M56 22h1M15 23h2M60 23h1M13 24h1M15 24h2M25 24h1M37 24h1M74 24h1M11 25h1M17 25h1M24 25h1M28 25h1M13 26h1M16 26h1M84 26h1M8 27h2M12 27h1M15 27h1M19 27h1M22 27h1M28 27h1M32 27h1M23 28h1M11 29h1M36 29h1M13 30h1M16 30h2M8 32h1M10 32h1M12 32h1M15 33h1M13 34h1M16 34h1M10 35h1M13 35h1M59 35h1M11 36h1M9 37h1M25 37h1M45 37h1M12 38h1M14 38h1M40 38h1M10 39h1M13 39h1M11 42h1M58 42h1M10 44h1M7 45h1M9 45h2M12 45h1M19 45h1M7 46h1M10 46h1M10 47h1M18 49h1M6 50h2M12 50h1M6 51h1M9 51h1M7 53h1M11 53h1M36 54h1M6 55h1M9 55h2M44 55h1M5 56h1M32 56h1M5 58h1M7 58h1M9 58h1M8 59h1M1 61h1M9 61h1M28 61h1M2 62h1M5 62h2M5 63h1M8 63h1M36 63h1M3 64h1M10 64h1M4 65h1M1 66h1M2 67h1M7 67h1M26 67h1M7 68h1M5 69h2M34 69h1M2 70h2M5 71h1M38 71h1M1 72h1M4 72h1M8 73h1M2 74h1M3 75h1M2 76h1M7 76h1M5 77h1M9 77h1M3 78h1M11 78h1M31 78h1M5 79h1M10 79h1M15 79h1M2 80h1M4 80h2M13 80h1M2 82h1M24 82h1M6 84h1M14 85h1M9 86h1M14 86h1M33 86h1M2 87h1M3 88h1M12 90h1M4 92h1M12 93h1M3 94h1M68 94h1M23 96h1M3 98h1"/><path stroke="#4758f8" d="M37 1h1M43 1h1M49 1h1M52 1h1M55 1h2M61 1h5M69 1h1M77 1h1M50 2h1M56 2h1M65 2h1M71 2h1M74 2h1M77 2h1M82 2h1M51 3h1M64 3h2M70 3h2M75 3h1M78 3h1M81 3h1M84 3h1M81 4h2M92 4h1M95 4h1M50 5h1M52 5h1M54 5h1M59 5h1M70 5h1M73 5h2M78 5h1M93 5h1M32 6h1M43 6h1M50 6h1M63 6h1M71 6h1M79 6h1M84 6h1M27 7h1M39 7h1M42 7h2M47 7h1M57 7h1M63 7h1M32 8h1M38 8h4M60 8h1M94 8h1M23 9h1M33 9h4M45 9h1M59 9h1M29 10h1M31 10h1M33 10h1M43 10h1M45 10h1M48 10h1M53 10h1M26 11h4M31 11h1M40 11h1M42 11h1M46 11h1M75 11h1M22 12h3M37 12h1M22 13h2M28 13h1M23 14h1M40 14h2M21 15h1M23 15h2M54 15h1M21 16h1M66 16h1M16 17h2M20 17h1M24 17h1M27 17h2M15 18h2M19 18h1M21 18h2M25 18h1M45 18h1M48 18h1M14 19h2M19 19h1M18 20h2M43 20h1M66 20h1M14 21h2M17 21h2M35 21h1M38 21h1M11 22h1M20 22h1M23 22h2M35 22h1M28 23h1M12 24h1M11 26h2M28 26h1M16 27h1M10 29h1M14 29h1M1 30h1M10 30h2M18 30h1M7 31h1M11 31h1M9 32h1M23 32h1M43 32h1M9 33h2M12 33h2M9 34h2M12 34h1M14 34h1M9 35h1M14 35h1M17 35h1M13 36h1M21 36h1M11 37h1M35 37h1M6 38h2M10 38h1M9 39h1M8 40h2M11 40h1M21 40h1M12 41h1M23 41h1M5 42h1M8 42h1M12 42h1M22 42h1M7 43h2M11 43h1M11 47h1M7 48h3M32 48h1M8 49h1M1 51h1M8 51h1M7 52h1M1 53h1M5 53h2M1 54h1M10 54h1M1 55h1M5 55h1M6 57h1M2 58h1M6 58h1M22 58h1M2 59h1M6 59h1M8 60h1M5 61h1M7 61h1M3 62h1M2 63h1M6 64h1M5 65h2M14 65h1M5 66h1M77 66h1M6 67h1M5 68h1M12 69h1M5 70h1M3 71h1M2 72h2M5 72h1M2 73h1M12 73h1M5 74h1M3 76h1M5 76h1M2 77h1M1 78h1M4 78h1M2 79h2M3 84h1M4 86h1M6 86h1M5 87h1M2 89h1M4 89h1M2 92h1M2 94h1M5 96h1"/><path stroke="#465efb" d="M39 1h2M44 1h1M82 1h1M58 2h1M66 2h1M70 2h1M76 2h1M81 2h1M84 2h1M86 2h1M48 3h1M50 3h1M60 3h1M68 3h2M72 3h2M57 4h1M64 4h1M69 4h2M77 4h1M79 4h1M86 4h2M93 4h1M51 5h1M62 5h1M65 5h1M30 6h1M36 6h1M40 6h1M44 6h1M47 6h1M65 6h1M36 7h1M59 7h1M89 7h1M23 8h1M30 8h2M43 8h1M58 8h1M26 9h1M30 9h1M41 9h1M77 9h1M23 10h1M27 10h2M32 10h1M34 10h3M47 10h1M50 10h1M63 10h1M69 10h1M34 11h1M43 11h1M20 12h1M20 13h1M76 13h1M24 14h1M26 14h1M36 14h1M38 14h1M42 15h1M15 16h1M17 16h1M19 16h1M26 16h1M70 16h1M15 17h1M33 17h1M43 17h1M17 18h1M9 19h1M13 19h1M17 19h1M12 20h3M26 20h1M51 21h1M10 22h1M38 22h1M13 23h1M10 24h1M12 25h1M19 25h1M8 26h1M35 26h1M13 27h2M12 28h1M29 28h1M9 30h1M9 31h2M1 34h1M11 35h1M34 35h1M9 36h1M10 37h1M19 37h1M1 38h1M6 39h1M14 39h1M1 40h1M7 40h1M7 41h1M1 42h1M6 42h1M1 44h1M6 44h1M8 44h1M35 44h1M8 46h1M7 47h2M1 50h1M5 50h1M16 51h2M18 52h1M3 53h1M2 55h1M14 55h1M2 56h1M1 59h1M4 59h2M2 60h1M3 63h1M4 64h1M2 66h1M3 73h1M1 75h2M4 77h1M4 79h1M9 79h1M2 81h1M4 82h1M9 82h1M3 89h1M4 96h1"/><path stroke="#4563fd" d="M32 1h1M35 1h1M42 1h1M51 1h1M49 2h1M53 2h1M57 2h1M62 2h1M67 2h3M73 2h1M52 3h1M63 3h1M66 3h2M74 3h1M98 3h1M39 4h1M45 4h1M60 4h1M62 4h2M67 4h1M88 4h1M47 5h1M56 5h1M66 5h1M98 5h1M33 6h1M41 6h2M46 6h1M48 6h2M53 6h1M29 7h1M38 7h1M48 7h1M54 7h1M25 8h1M33 8h2M36 8h2M42 8h1M21 9h2M24 9h1M38 9h1M26 10h1M30 10h1M37 10h1M23 11h2M56 11h1M14 13h1M17 13h1M24 13h3M31 13h1M36 13h1M15 14h1M13 15h1M26 15h1M32 15h1M18 16h1M19 17h1M9 18h1M11 18h1M29 18h1M8 19h1M16 20h1M11 21h2M9 22h1M15 22h1M18 22h1M14 23h1M9 25h2M7 26h1M9 26h1M10 27h1M9 28h2M13 28h3M12 29h2M6 30h1M4 31h1M7 32h1M16 33h1M8 34h1M5 36h1M10 36h1M1 37h1M1 39h1M7 39h1M5 41h1M9 41h1M7 42h1M1 43h1M7 44h1M6 45h1M6 48h1M3 50h1M2 51h1M5 51h1M7 51h1M4 52h1M6 54h1M3 56h1M7 56h1M5 57h1M3 58h2M7 60h1M3 61h2M2 65h1M11 65h1M4 66h1M3 67h2M3 68h1M4 69h1M2 71h1M3 74h1M4 76h1M2 78h1M7 79h1M3 80h1"/><path stroke="#4269fe" d="M25 1h1M29 1h1M33 1h1M38 1h1M48 1h1M54 1h1M46 2h1M51 2h1M55 2h1M59 2h1M61 2h1M64 2h1M28 3h1M53 3h1M55 3h1M57 3h1M61 3h1M43 4h1M47 4h1M56 4h1M65 4h1M31 5h1M35 5h2M42 5h1M48 5h1M57 5h2M61 5h1M97 5h1M28 6h1M39 6h1M51 6h1M58 6h1M60 6h1M25 7h2M32 7h2M22 8h1M35 8h1M25 9h1M21 10h2M25 10h1M19 12h1M27 12h1M19 13h1M27 13h1M32 13h1M44 13h1M17 14h2M18 15h1M22 15h1M12 16h1M12 18h1M14 18h1M10 20h1M15 20h1M13 21h1M23 21h1M1 22h1M13 22h1M18 23h1M9 24h1M25 26h1M11 27h1M6 28h1M9 29h1M7 30h1M8 31h1M2 32h1M6 32h1M1 33h1M7 33h1M6 34h1M7 36h1M5 37h1M7 37h2M9 38h1M6 40h1M1 41h1M4 41h1M3 42h2M5 43h2M1 45h2M5 45h1M3 46h1M5 46h2M4 47h1M5 48h1M2 49h2M5 49h2M4 50h1M2 53h1M4 53h1M15 54h1M1 57h1M3 57h1M1 58h1M8 61h1M4 62h1M4 63h1M5 64h1M3 65h1M2 68h1M4 68h1M2 69h1M6 74h1"/><path stroke="#3e6fff" d="M31 1h1M34 1h1M41 1h1M47 1h1M37 2h1M45 2h1M47 2h1M54 2h1M38 3h1M58 3h2M23 4h1M44 4h1M53 4h2M72 4h1M37 5h1M49 5h1M64 5h1M31 6h1M35 6h1M68 6h1M24 7h1M35 7h1M40 7h1M17 9h4M18 11h2M21 12h1M13 14h1M19 14h1M21 14h1M14 15h1M16 15h2M20 15h1M13 16h1M16 16h1M11 17h2M14 17h1M18 18h1M6 19h1M11 19h2M11 20h1M7 21h4M12 22h1M1 23h1M10 23h2M6 27h1M5 28h1M8 28h1M7 29h1M8 30h1M5 32h1M13 32h1M8 33h1M1 35h1M6 35h1M1 36h1M6 36h1M2 39h1M5 39h1M5 40h1M6 41h1M3 43h1M5 44h1M1 46h2M5 47h2M2 48h1M4 48h1M4 49h1M2 50h1M3 51h1M2 52h1M5 52h1M2 54h1M4 54h1M3 55h2M4 56h1M2 57h1M4 57h1M2 64h1M4 88h1"/><path stroke="#3875fe" d="M45 1h1M50 1h1M44 2h1M48 2h1M52 2h1M79 2h1M35 3h1M41 3h4M46 3h2M49 3h1M54 3h1M40 4h1M46 4h1M49 4h1M51 4h2M59 4h1M29 5h1M33 5h1M41 5h1M43 5h3M55 5h1M19 6h1M34 6h1M38 6h1M62 6h1M20 7h1M28 7h1M34 7h1M16 8h1M18 8h1M26 8h2M29 8h1M68 8h1M16 9h1M28 9h1M18 10h2M24 10h1M17 11h1M20 11h1M22 11h1M16 12h1M29 12h1M21 13h1M14 14h1M27 14h1M9 15h1M14 16h1M5 20h1M8 20h1M6 21h1M7 23h3M11 24h1M1 26h1M7 27h1M1 29h1M8 29h1M4 30h1M2 31h1M3 32h2M5 34h1M7 35h1M6 37h1M3 38h1M8 38h1M8 39h1M2 40h2M3 44h1M4 45h1M3 47h1M4 51h1M3 54h1M3 59h1M2 61h1M4 70h1"/><path stroke="#327cfc" d="M20 1h1M23 1h2M30 1h1M40 2h1M43 2h1M29 3h1M62 3h1M31 4h1M34 4h1M42 4h1M50 4h1M26 5h1M34 5h1M38 5h1M53 5h1M22 6h2M29 6h1M37 6h1M23 7h1M15 9h1M17 10h1M20 10h1M15 12h1M18 12h1M11 13h1M15 13h1M16 14h1M15 15h1M11 16h1M10 17h1M13 17h1M10 19h1M7 20h1M9 20h1M8 22h1M8 24h1M1 25h1M6 25h1M10 26h1M2 29h3M6 29h1M5 30h1M1 31h1M6 33h1M7 34h1M4 35h1M8 36h1M2 37h1M4 39h1M3 41h1M2 42h1M3 45h1M3 52h1M5 60h1"/><path stroke="#2f81fa" d="M17 1h1M32 2h1M34 2h1M36 2h1M38 2h1M30 3h1M33 3h1M36 3h1M45 3h1M22 4h1M36 4h1M30 5h1M32 5h1M46 5h1M19 7h1M19 8h1M21 8h1M24 8h1M16 11h1M21 11h1M14 12h1M17 12h1M12 13h1M10 14h1M10 15h1M10 16h1M9 17h1M13 18h1M6 22h2M7 24h1M14 24h1M1 28h1M3 28h1M7 28h1M1 32h1M2 35h1M3 39h1M4 40h1M4 43h1M2 44h1M4 44h1M4 46h1M2 47h1M1 48h1M3 60h2"/><path stroke="#2e87f7" d="M22 1h1M28 1h1M25 2h1M29 2h1M33 2h1M35 2h1M39 2h1M41 2h2M31 3h1M40 3h1M35 4h1M41 4h1M20 5h1M28 5h1M39 5h1M21 6h1M26 6h1M21 7h1M13 13h1M11 14h1M12 15h1M8 17h1M10 18h1M1 20h1M4 22h1M5 23h2M12 23h1M5 26h2M4 27h1M5 29h1M3 33h1M5 33h1M3 34h1M5 35h1M4 37h1M2 38h1M3 48h1"/><path stroke="#2d8cf3" d="M26 1h1M27 2h1M31 2h1M32 3h1M37 3h1M39 3h1M56 3h1M28 4h1M37 4h2M24 5h1M27 5h1M20 6h1M14 8h1M20 8h1M12 10h1M15 10h2M15 11h1M12 12h1M7 13h1M9 14h1M12 14h1M9 16h1M8 18h1M1 19h1M2 23h1M1 24h1M7 25h2M3 27h1M4 33h1M2 34h1M4 34h1M3 35h1M2 36h3M5 38h1M2 41h1"/><path stroke="#2b91ef" d="M21 1h1M27 1h1M34 3h1M32 4h2M25 5h1M25 6h1M27 6h1M16 7h1M18 7h1M12 8h1M14 10h1M13 11h2M16 13h1M8 14h1M11 15h1M8 16h1M7 18h1M5 25h1M4 28h1M2 30h1M3 31h1M6 31h1M2 33h1M2 43h1"/><path stroke="#2797eb" d="M19 1h1M28 2h1M30 2h1M25 3h1M27 3h1M27 4h1M29 4h1M48 4h1M22 5h1M22 7h1M17 8h1M11 9h2M14 9h1M11 10h1M13 12h1M9 13h1M8 15h1M1 18h1M7 19h1M3 20h1M1 21h1M3 21h1M5 22h1M3 24h1M5 24h1M4 25h1M2 26h1M1 27h1M5 27h1M3 30h1M3 37h1"/><path stroke="#259be8" d="M18 1h1M24 4h2M19 5h1M15 6h1M18 6h1M24 6h1M13 9h1M11 12h1M4 20h1M6 20h1M2 21h1M6 24h1M4 26h1M2 28h1M5 31h1M4 38h1"/><path stroke="#23a0e5" d="M24 2h1M21 4h1M21 5h1M16 6h2M15 7h1M10 10h1M13 10h1M11 11h1M8 12h1M8 13h1M10 13h1M5 16h1M7 16h1M1 17h1M4 18h1M5 21h1M3 23h1M3 25h1M3 26h1"/><path stroke="#20a5e3" d="M20 2h1M26 2h1M19 3h2M26 3h1M26 4h1M17 5h1M14 7h1M17 7h1M13 8h1M9 11h1M7 15h1M2 18h1M2 20h1M4 21h1M2 24h1M2 25h1M2 27h1"/><path stroke="#1ca9df" d="M14 1h2M18 2h1M21 2h1M23 3h1M12 6h1M15 8h1M7 10h1M12 11h1M7 12h1M9 12h1M7 14h1M2 15h1M6 15h1M6 18h1M3 19h1"/><path stroke="#18addb" d="M22 2h2M21 3h1M24 3h1M20 4h1M30 4h1M23 5h1M13 6h2M10 9h1M6 12h1M1 14h1M1 15h1M3 15h1M6 17h1M3 18h1M4 23h1"/><path stroke="#12b1d6" d="M16 1h1M19 2h1M17 4h1M11 8h1M9 9h1M4 15h1M6 16h1M7 17h1M5 18h1M2 19h1"/><path stroke="#08b5d0" d="M22 3h1M16 4h1M16 5h1M18 5h1M10 7h2M9 8h1M1 10h1M8 10h2M7 11h1M10 12h1M5 14h1M5 15h1M1 16h1M5 19h1M2 22h2M4 24h1"/><path stroke="#01b8ca" d="M11 1h2M17 2h1M17 3h1M18 4h1M13 7h1M10 8h1M8 11h1M10 11h1M5 17h1M4 19h1"/><path stroke="#02bac3" d="M13 1h1M19 4h1M10 6h1M9 7h1M8 8h1M6 14h1M2 16h1M2 17h1"/><path stroke="#0bbdbd" d="M14 4h1M15 5h1M12 7h1M1 13h1M3 14h1"/><path stroke="#19bfb6" d="M14 3h1M11 6h1M5 10h1M2 14h1M3 16h2M3 17h1"/><path stroke="#24c1ae" d="M10 1h1M16 2h1M18 3h1M14 5h1M7 8h1M8 9h1M1 12h1M5 13h1M4 17h1"/><path stroke="#2cc4a7" d="M9 1h1M13 3h1M15 3h1M12 4h1M1 9h1M3 11h1"/><path stroke="#31c69f" d="M13 4h1M10 5h1M6 10h1M6 11h1M5 12h1"/><path stroke="#37c897" d="M13 2h3M12 3h1M9 5h1M13 5h1M6 13h1"/><path stroke="#3fca8e" d="M12 5h1M9 6h1M1 8h1M2 13h1M4 13h1"/><path stroke="#4acb84" d="M10 2h1M16 3h1M8 6h1M1 7h1M6 9h2"/><path stroke="#57cc7a" d="M11 5h1M5 9h1M1 11h1M4 11h1M3 13h1"/><path stroke="#64cd6f" d="M8 1h1M15 4h1M8 7h1M2 11h1M4 12h1M4 14h1"/><path stroke="#72cd64" d="M1 1h1M9 4h2M8 5h1M7 7h1M6 8h1"/><path stroke="#81cc59" d="M11 3h1M6 6h1M4 10h1M3 12h1"/><path stroke="#8fcb4e" d="M12 2h1M10 3h1M2 9h1M2 12h1"/><path stroke="#9dc943" d="M5 1h1M7 1h1M2 8h1M5 11h1"/><path stroke="#abc739" d="M11 2h1M6 7h1M4 8h1"/><path stroke="#b9c431" d="M9 3h1M1 6h1M7 6h1M3 10h1"/><path stroke="#c5c22a" d="M8 4h1M7 5h1M4 9h1"/><path stroke="#d1bf27" d="M6 1h1M8 2h1M11 4h1M3 9h1"/><path stroke="#dcbd29" d="M9 2h1M7 4h1M2 7h1"/><path stroke="#e6bb2d" d="M8 3h1M5 7h1M5 8h1"/><path stroke="#f0ba33" d="M4 1h1M4 7h1"/><path stroke="#f8ba3d" d="M1 4h1M3 8h1M2 10h1"/><path stroke="#febe3c" d="M7 2h1"/><path stroke="#fec934" d="M2 1h2M1 2h1M5 6h1M3 7h1"/><path stroke="#fccf30" d="M6 5h1M2 6h1M4 6h1"/><path stroke="#fad62d" d="M7 3h1M6 4h1M1 5h1"/><path stroke="#f7dc2a" d="M6 3h1"/><path stroke="#f5e924" d="M5 2h1M3 6h1"/><path stroke="#f6ef20" d="M2 5h1"/><path stroke="#f9fb15" d="M2 2h3M6 2h1M1 3h5M2 4h4M3 5h3"/></g></g></g><rect x="322.2" y="900.2" width="486.6" height="471.1" fill="none" stroke="#241f5c" stroke-width="2.6"/><filter id="blc2" x="-5%" y="-5%" width="110%" height="110%"><feGaussianBlur stdDeviation="1.2"/></filter><clipPath id="cpc2"><rect x="1030.2" y="900.5" width="487.4" height="466.1"/></clipPath><g clip-path="url(#cpc2)"><g filter="url(#blc2)"><rect x="1018.2" y="888.5" width="511.4" height="490.1" fill="#4332cb"/><g transform="translate(1030.2,1366.6) scale(4.8740,-4.6610) translate(0,0.5)" fill="none" stroke-width="1.08"><path stroke="#402ab4" d="M-2 0h3M-2 1h3M-2 2h3M-2 3h3M-2 4h3M-2 5h3M-2 6h3M-2 7h3M-2 8h3M-2 9h3M-2 10h3M-2 11h3M-2 12h3M-2 13h3M-2 14h3M-2 15h3M-2 16h3M-2 17h3M-2 18h3M-2 19h3M-2 20h3M-2 21h3M-2 22h3M-2 23h3M-2 24h3M-2 25h3M-2 26h3M-2 27h3M-2 28h3M-2 29h3M-2 30h3M-2 31h3M-2 32h3M-2 33h3M-2 34h3M-2 35h3M-2 36h3M-2 37h3M-2 38h3M-2 39h3M-2 40h3M-2 41h3M-2 42h3M-2 43h3M-2 44h3M-2 45h3M-2 46h3M-2 47h3M-2 48h3M-2 49h3M-2 50h3M-2 51h3M-2 52h3M-2 53h3M-2 54h3M-2 55h3M-2 56h3M-2 57h3M-2 58h3M-2 59h3M-2 60h3M-2 61h3M-2 62h3M-2 63h3M-2 64h3M-2 65h3M-2 66h3M-2 67h3M-2 68h3M-2 69h3M-2 70h3M-2 71h3M-2 72h3M-2 73h3M-2 74h3M-2 75h3M-2 76h3M-2 77h3M-2 78h3M-2 79h3M-2 80h3M-2 81h3M-2 82h3M-2 83h3M-2 84h3M-2 85h3M-2 86h3M-2 87h3M-2 88h3M-2 89h3M-2 90h3M-2 91h3M-2 92h3M-2 93h3M-2 94h3M-2 95h3M-2 96h3M-2 97h3M-2 98h3M-2 99h3"/><path stroke="#422ec0" d="M99 0h3M99 1h3M99 2h3M99 3h3M99 4h3M99 5h3M99 6h3M99 7h3M99 8h3M99 9h3M99 10h3M99 11h3M83 12h1M93 12h1M98 12h4M95 13h1M99 13h3M97 14h1M99 14h3M86 15h1M93 15h1M99 15h3M83 16h1M94 16h1M99 16h3M94 17h1M97 17h1M99 17h3M67 18h1M72 18h1M85 18h1M99 18h3M32 19h1M59 19h1M74 19h1M88 19h1M93 19h2M96 19h1M99 19h3M69 20h1M81 20h2M91 20h1M99 20h3M72 21h1M95 21h1M99 21h3M85 22h1M97 22h5M57 23h1M96 23h1M99 23h3M72 24h1M77 24h2M83 24h1M87 24h2M93 24h1M99 24h3M47 25h1M64 25h1M74 25h1M81 25h1M99 25h3M56 26h1M62 26h1M67 26h1M75 26h1M78 26h1M85 26h1M94 26h2M99 26h3M57 27h1M77 27h1M90 27h1M95 27h1M98 27h4M84 28h1M89 28h1M96 28h1M98 28h4M41 29h1M62 29h1M69 29h1M82 29h1M99 29h3M60 30h1M74 30h1M79 30h1M84 30h1M89 30h1M99 30h3M72 31h1M76 31h1M80 31h1M87 31h1M92 31h1M95 31h3M99 31h3M72 32h1M81 32h1M89 32h2M96 32h1M99 32h3M72 33h1M87 33h1M89 33h1M94 33h2M97 33h5M45 34h1M61 34h1M67 34h1M93 34h2M97 34h5M67 35h1M72 35h2M87 35h2M90 35h2M95 35h3M99 35h3M63 36h1M74 36h1M82 36h1M86 36h2M89 36h1M93 36h1M95 36h1M99 36h3M60 37h1M62 37h1M66 37h1M76 37h2M82 37h2M86 37h1M88 37h1M92 37h1M94 37h1M98 37h4M62 38h1M68 38h1M81 38h1M87 38h2M92 38h2M98 38h4M59 39h2M65 39h1M74 39h1M81 39h1M84 39h1M90 39h1M94 39h1M97 39h5M37 40h1M51 40h1M53 40h1M58 40h1M63 40h1M74 40h1M77 40h1M79 40h1M81 40h1M83 40h1M88 40h1M92 40h3M97 40h1M99 40h3M63 41h1M68 41h1M71 41h2M76 41h2M80 41h1M82 41h1M86 41h1M92 41h1M94 41h1M99 41h3M49 42h1M56 42h1M59 42h1M61 42h1M65 42h2M74 42h1M78 42h2M82 42h1M85 42h1M88 42h1M91 42h2M94 42h2M97 42h5M40 43h1M45 43h1M63 43h2M66 43h1M70 43h1M72 43h2M81 43h1M83 43h1M85 43h1M88 43h1M91 43h1M97 43h1M99 43h3M41 44h1M47 44h1M56 44h1M60 44h1M70 44h1M75 44h1M81 44h1M86 44h1M89 44h1M91 44h1M93 44h1M96 44h6M29 45h1M44 45h1M68 45h1M89 45h1M94 45h1M96 45h6M55 46h1M70 46h1M75 46h1M78 46h1M80 46h3M88 46h1M92 46h2M95 46h2M98 46h4M43 47h1M45 47h1M48 47h1M54 47h1M59 47h1M65 47h1M67 47h1M70 47h2M75 47h2M79 47h1M85 47h3M90 47h1M93 47h2M97 47h1M99 47h3M38 48h2M48 48h1M56 48h3M74 48h1M76 48h1M79 48h1M82 48h1M85 48h1M87 48h5M95 48h1M99 48h3M43 49h1M55 49h1M59 49h1M68 49h2M78 49h1M81 49h1M83 49h5M89 49h1M95 49h2M99 49h3M59 50h2M62 50h1M75 50h2M84 50h1M89 50h1M91 50h2M94 50h1M96 50h2M99 50h3M33 51h1M35 51h1M52 51h1M65 51h1M67 51h1M70 51h1M72 51h2M81 51h2M84 51h3M89 51h1M91 51h6M98 51h4M25 52h1M33 52h1M41 52h1M46 52h1M66 52h4M74 52h1M76 52h1M78 52h3M85 52h2M89 52h1M96 52h6M26 53h1M38 53h1M45 53h1M52 53h1M56 53h1M62 53h1M72 53h1M76 53h1M80 53h1M82 53h3M86 53h1M88 53h1M92 53h3M98 53h4M55 54h1M64 54h1M69 54h2M78 54h1M80 54h1M83 54h1M85 54h1M91 54h1M95 54h7M40 55h2M49 55h1M53 55h1M57 55h1M64 55h1M71 55h2M77 55h3M81 55h1M90 55h2M93 55h3M97 55h5M33 56h1M39 56h2M51 56h1M55 56h1M59 56h1M61 56h1M65 56h2M71 56h2M77 56h1M84 56h4M90 56h1M92 56h2M95 56h2M99 56h3M30 57h1M63 57h1M65 57h2M71 57h2M74 57h2M80 57h2M84 57h5M90 57h1M94 57h2M99 57h3M30 58h1M42 58h1M44 58h1M52 58h1M59 58h1M64 58h1M66 58h1M71 58h1M76 58h1M89 58h2M92 58h2M96 58h1M98 58h4M39 59h1M48 59h1M62 59h1M64 59h1M66 59h2M70 59h1M79 59h1M82 59h1M84 59h1M86 59h1M89 59h2M93 59h3M98 59h4M25 60h1M53 60h1M57 60h1M60 60h1M62 60h1M67 60h1M74 60h2M78 60h1M83 60h1M88 60h1M90 60h3M96 60h1M99 60h3M28 61h1M32 61h1M34 61h1M41 61h1M57 61h1M59 61h2M65 61h1M72 61h1M76 61h2M80 61h3M85 61h1M88 61h4M93 61h1M95 61h1M99 61h3M20 62h1M27 62h1M44 62h1M49 62h1M53 62h1M63 62h1M70 62h1M73 62h1M75 62h1M77 62h3M81 62h4M86 62h1M90 62h3M94 62h2M97 62h1M99 62h3M33 63h1M39 63h1M42 63h1M48 63h1M54 63h2M57 63h1M62 63h1M65 63h1M71 63h1M75 63h1M79 63h1M82 63h1M84 63h1M93 63h4M98 63h4M23 64h1M42 64h2M46 64h1M52 64h1M54 64h1M56 64h2M59 64h1M61 64h1M63 64h1M73 64h1M76 64h1M78 64h1M81 64h1M83 64h1M85 64h1M87 64h1M89 64h1M91 64h1M93 64h1M95 64h7M25 65h1M32 65h1M39 65h1M43 65h2M47 65h1M53 65h2M57 65h1M60 65h1M62 65h2M65 65h1M70 65h2M73 65h1M75 65h1M80 65h1M83 65h3M88 65h1M91 65h4M97 65h1M99 65h3M32 66h1M38 66h1M42 66h2M52 66h1M55 66h2M58 66h1M64 66h1M66 66h1M74 66h1M78 66h3M82 66h4M87 66h3M94 66h1M96 66h2M99 66h3M30 67h1M33 67h2M56 67h2M62 67h1M66 67h1M69 67h2M72 67h1M77 67h2M80 67h3M84 67h2M87 67h2M90 67h3M94 67h1M96 67h1M98 67h4M21 68h1M31 68h1M46 68h1M49 68h1M51 68h1M56 68h1M64 68h2M68 68h1M74 68h1M76 68h1M78 68h1M80 68h3M86 68h1M88 68h2M91 68h1M95 68h1M99 68h3M24 69h1M30 69h1M34 69h1M39 69h1M41 69h1M44 69h1M48 69h2M55 69h1M57 69h2M61 69h1M70 69h1M74 69h2M77 69h2M80 69h1M86 69h1M89 69h1M93 69h1M95 69h3M99 69h3M31 70h1M34 70h1M44 70h1M48 70h1M53 70h1M56 70h1M60 70h1M62 70h1M67 70h1M70 70h1M80 70h1M85 70h3M89 70h1M91 70h1M94 70h2M97 70h5M28 71h1M42 71h1M45 71h1M48 71h3M65 71h1M67 71h1M69 71h1M73 71h1M75 71h2M79 71h2M83 71h1M86 71h1M88 71h2M92 71h10M32 72h1M34 72h1M48 72h1M50 72h1M52 72h2M55 72h3M61 72h1M65 72h1M68 72h1M72 72h1M74 72h3M79 72h3M84 72h2M87 72h1M92 72h3M96 72h6M37 73h1M42 73h1M44 73h2M49 73h1M55 73h1M64 73h1M67 73h1M69 73h1M72 73h1M76 73h2M79 73h2M82 73h4M88 73h1M90 73h1M92 73h1M96 73h1M99 73h3M44 74h2M51 74h1M53 74h1M56 74h4M61 74h2M65 74h1M67 74h1M72 74h1M75 74h2M78 74h3M83 74h1M89 74h1M91 74h1M95 74h3M99 74h3M17 75h1M25 75h1M36 75h2M47 75h2M50 75h2M54 75h1M56 75h1M60 75h2M64 75h4M69 75h1M71 75h1M74 75h2M79 75h2M82 75h2M86 75h1M95 75h7M32 76h2M41 76h3M46 76h2M50 76h1M52 76h1M54 76h2M58 76h1M61 76h1M64 76h1M68 76h1M73 76h1M78 76h3M82 76h3M88 76h1M91 76h7M99 76h3M34 77h1M40 77h1M44 77h1M47 77h1M52 77h1M54 77h1M59 77h1M61 77h1M64 77h2M69 77h2M72 77h1M74 77h2M79 77h1M83 77h3M87 77h1M89 77h2M93 77h2M97 77h5M33 78h1M47 78h2M50 78h2M53 78h2M56 78h2M61 78h2M69 78h1M74 78h3M79 78h2M82 78h1M84 78h1M87 78h1M89 78h1M92 78h5M98 78h4M20 79h1M27 79h1M29 79h1M32 79h1M39 79h1M42 79h3M46 79h1M50 79h1M53 79h1M58 79h1M61 79h3M65 79h5M71 79h1M74 79h1M77 79h4M82 79h3M86 79h1M88 79h5M96 79h6M27 80h1M29 80h1M41 80h2M44 80h1M48 80h1M50 80h1M52 80h1M66 80h1M69 80h2M75 80h2M78 80h2M84 80h1M86 80h1M88 80h1M90 80h2M94 80h3M99 80h3M27 81h1M30 81h1M36 81h2M41 81h1M45 81h3M52 81h1M57 81h2M66 81h2M71 81h2M74 81h1M76 81h5M84 81h2M87 81h1M89 81h1M93 81h2M96 81h1M98 81h4M20 82h2M25 82h1M28 82h1M32 82h3M41 82h1M47 82h2M57 82h2M61 82h3M69 82h1M72 82h3M77 82h1M79 82h1M87 82h1M89 82h4M94 82h1M97 82h5M35 83h1M37 83h1M39 83h1M48 83h4M56 83h2M62 83h1M64 83h1M66 83h3M70 83h1M72 83h2M77 83h1M80 83h4M86 83h2M89 83h13M8 84h1M36 84h1M39 84h1M45 84h1M48 84h1M53 84h1M57 84h1M65 84h1M67 84h1M69 84h1M72 84h5M78 84h4M83 84h2M86 84h1M88 84h1M90 84h2M95 84h2M98 84h4M26 85h1M29 85h1M33 85h1M44 85h3M48 85h4M54 85h2M58 85h5M64 85h1M68 85h5M75 85h1M78 85h7M87 85h15M16 86h1M31 86h1M34 86h1M36 86h2M41 86h1M46 86h4M51 86h2M54 86h1M57 86h2M62 86h1M64 86h5M71 86h1M74 86h2M77 86h3M81 86h3M86 86h2M91 86h4M96 86h1M99 86h3M19 87h1M21 87h1M23 87h1M25 87h1M29 87h1M32 87h2M35 87h1M40 87h1M42 87h1M44 87h2M47 87h1M50 87h1M57 87h5M69 87h1M73 87h1M79 87h9M89 87h2M92 87h5M98 87h4M18 88h1M23 88h1M39 88h2M46 88h1M49 88h1M53 88h1M55 88h5M64 88h1M66 88h2M69 88h1M71 88h2M74 88h4M79 88h7M87 88h4M92 88h2M95 88h3M99 88h3M19 89h2M24 89h2M29 89h1M44 89h1M50 89h3M60 89h1M62 89h1M64 89h4M69 89h5M78 89h2M81 89h5M87 89h7M95 89h7M21 90h1M37 90h2M42 90h1M51 90h1M53 90h1M59 90h3M63 90h4M68 90h1M70 90h2M73 90h8M82 90h12M95 90h1M97 90h5M19 91h1M25 91h1M28 91h1M34 91h1M38 91h6M45 91h1M47 91h5M53 91h1M56 91h1M58 91h2M63 91h1M65 91h3M69 91h3M74 91h1M78 91h3M82 91h8M91 91h1M93 91h3M98 91h4M22 92h1M29 92h1M31 92h1M34 92h1M38 92h2M43 92h1M45 92h1M47 92h3M51 92h1M53 92h3M57 92h1M62 92h2M68 92h7M77 92h1M79 92h1M81 92h2M84 92h2M89 92h4M94 92h1M96 92h6M25 93h1M28 93h1M31 93h1M34 93h1M36 93h1M39 93h2M42 93h1M54 93h1M57 93h3M62 93h1M64 93h1M67 93h6M74 93h3M79 93h1M82 93h1M84 93h2M87 93h3M91 93h3M95 93h2M98 93h4M16 94h1M27 94h5M36 94h2M42 94h2M45 94h1M48 94h1M50 94h1M52 94h1M55 94h8M69 94h1M73 94h3M77 94h2M80 94h5M86 94h1M90 94h3M94 94h8M21 95h1M24 95h1M38 95h2M41 95h2M44 95h2M47 95h1M49 95h1M53 95h2M58 95h2M61 95h2M66 95h1M68 95h1M71 95h2M75 95h4M81 95h3M85 95h1M88 95h2M92 95h1M94 95h8M19 96h1M27 96h1M29 96h1M31 96h6M39 96h1M41 96h1M43 96h1M46 96h2M49 96h1M53 96h2M59 96h3M63 96h5M69 96h1M73 96h4M80 96h10M91 96h4M97 96h5M20 97h1M33 97h2M40 97h3M44 97h1M50 97h1M56 97h2M59 97h1M64 97h1M67 97h9M79 97h2M82 97h2M86 97h3M90 97h1M95 97h2M98 97h4M17 98h1M28 98h1M31 98h3M35 98h2M38 98h1M44 98h2M47 98h1M52 98h3M56 98h1M58 98h1M60 98h2M63 98h1M66 98h4M73 98h1M77 98h2M80 98h2M86 98h1M90 98h5M96 98h6M1 99h101"/><path stroke="#4537d5" d="M87 1h1M93 2h1M93 5h1M96 5h2M73 6h1M98 6h1M59 7h1M71 7h1M79 7h1M86 7h1M88 7h2M93 7h1M97 7h2M51 8h1M66 8h1M76 8h1M81 8h1M83 8h1M88 8h5M94 8h1M49 9h1M72 9h1M76 9h1M79 9h1M81 9h1M86 9h2M89 9h2M93 9h2M97 9h2M74 10h1M77 10h1M87 10h1M91 10h1M94 10h1M96 10h2M70 11h1M74 11h1M77 11h1M79 11h1M81 11h1M83 11h3M88 11h2M93 11h2M96 11h1M56 12h1M61 12h1M63 12h1M67 12h1M73 12h1M77 12h1M84 12h1M87 12h1M91 12h2M94 12h2M97 12h1M47 13h1M54 13h1M65 13h1M69 13h1M72 13h1M76 13h1M84 13h1M87 13h1M89 13h1M96 13h3M49 14h1M56 14h1M60 14h1M67 14h2M71 14h2M75 14h2M78 14h1M81 14h1M86 14h2M91 14h3M95 14h1M98 14h1M51 15h1M56 15h1M59 15h1M61 15h1M63 15h1M65 15h1M72 15h3M81 15h2M84 15h1M87 15h1M89 15h1M91 15h1M94 15h2M98 15h1M45 16h1M50 16h1M61 16h1M63 16h2M68 16h1M72 16h1M74 16h1M79 16h2M82 16h1M84 16h1M96 16h1M42 17h4M47 17h1M52 17h1M55 17h1M59 17h1M61 17h1M64 17h1M74 17h1M76 17h2M81 17h1M83 17h1M85 17h3M89 17h4M47 18h1M53 18h1M59 18h6M66 18h1M77 18h2M80 18h3M89 18h1M93 18h1M95 18h1M40 19h1M48 19h1M50 19h1M52 19h2M63 19h1M65 19h3M69 19h1M73 19h1M76 19h2M81 19h2M84 19h1M87 19h1M90 19h1M97 19h2M29 20h1M33 20h1M38 20h1M40 20h1M45 20h1M55 20h1M58 20h2M61 20h1M63 20h1M65 20h1M67 20h1M70 20h4M76 20h1M78 20h2M83 20h1M87 20h1M92 20h2M98 20h1M27 21h1M35 21h2M48 21h1M54 21h1M68 21h3M73 21h1M78 21h1M88 21h1M91 21h1M97 21h1M27 22h1M30 22h1M46 22h1M48 22h1M50 22h1M52 22h2M57 22h1M59 22h1M63 22h1M65 22h1M68 22h5M74 22h5M84 22h1M86 22h1M90 22h1M92 22h1M33 23h1M35 23h1M39 23h2M44 23h1M47 23h1M54 23h1M58 23h1M62 23h1M66 23h5M74 23h2M79 23h2M82 23h3M89 23h2M32 24h1M42 24h2M45 24h1M50 24h4M55 24h2M58 24h1M60 24h1M68 24h3M73 24h1M84 24h1M89 24h1M91 24h2M94 24h1M96 24h2M26 25h1M29 25h1M31 25h1M33 25h1M38 25h1M42 25h1M48 25h1M51 25h2M54 25h1M56 25h1M60 25h2M66 25h1M69 25h2M72 25h2M75 25h1M78 25h1M82 25h1M84 25h2M88 25h1M97 25h2M31 26h1M38 26h2M43 26h1M45 26h1M47 26h1M55 26h1M60 26h1M65 26h2M68 26h1M71 26h1M73 26h1M76 26h2M79 26h4M87 26h2M90 26h1M30 27h1M32 27h1M34 27h1M37 27h1M41 27h2M44 27h1M50 27h2M53 27h1M58 27h1M61 27h3M65 27h1M68 27h2M71 27h1M73 27h1M82 27h2M86 27h1M23 28h1M25 28h1M33 28h1M35 28h1M41 28h2M44 28h2M48 28h1M51 28h2M59 28h1M62 28h4M68 28h1M71 28h3M78 28h1M80 28h1M82 28h1M86 28h1M29 29h1M35 29h2M38 29h2M42 29h1M48 29h1M52 29h1M57 29h3M61 29h1M63 29h1M66 29h1M83 29h4M89 29h1M92 29h1M98 29h1M32 30h1M37 30h2M42 30h1M45 30h2M52 30h1M58 30h2M61 30h5M67 30h3M71 30h1M73 30h1M77 30h1M91 30h1M98 30h1M28 31h1M30 31h1M35 31h1M37 31h2M41 31h1M44 31h1M46 31h2M49 31h2M53 31h1M57 31h1M61 31h1M63 31h1M65 31h2M68 31h1M70 31h2M75 31h1M79 31h1M86 31h1M90 31h1M23 32h1M29 32h2M33 32h1M37 32h1M41 32h1M43 32h6M52 32h2M55 32h2M62 32h2M68 32h1M71 32h1M75 32h3M80 32h1M86 32h1M94 32h2M30 33h1M35 33h4M41 33h2M47 33h1M51 33h1M53 33h1M55 33h3M61 33h1M67 33h1M70 33h1M74 33h1M76 33h3M80 33h1M84 33h1M88 33h1M93 33h1M31 34h2M36 34h1M43 34h1M49 34h3M54 34h1M57 34h1M59 34h1M62 34h2M65 34h1M71 34h2M76 34h1M80 34h1M82 34h1M84 34h1M91 34h1M17 35h1M19 35h1M27 35h1M29 35h1M35 35h3M41 35h1M50 35h1M52 35h1M56 35h2M59 35h1M65 35h1M68 35h1M78 35h2M27 36h1M31 36h1M38 36h3M44 36h2M47 36h1M49 36h2M52 36h1M54 36h1M58 36h2M62 36h1M65 36h1M70 36h1M73 36h1M76 36h4M91 36h1M94 36h1M96 36h1M19 37h1M24 37h1M28 37h2M35 37h1M37 37h2M46 37h1M53 37h1M55 37h2M58 37h1M61 37h1M63 37h1M72 37h1M80 37h1M22 38h1M29 38h2M35 38h1M37 38h2M42 38h1M45 38h5M51 38h1M54 38h1M56 38h2M60 38h2M65 38h1M67 38h1M71 38h1M82 38h1M19 39h1M25 39h2M40 39h2M47 39h1M50 39h2M55 39h2M58 39h1M61 39h1M64 39h1M68 39h1M78 39h1M87 39h1M19 40h1M24 40h2M34 40h2M38 40h1M44 40h1M49 40h1M55 40h3M64 40h2M75 40h2M80 40h1M82 40h1M84 40h1M22 41h1M31 41h1M33 41h4M39 41h3M44 41h3M50 41h1M54 41h1M57 41h4M62 41h1M64 41h1M66 41h1M75 41h1M83 41h1M20 42h1M22 42h2M25 42h1M28 42h2M33 42h2M38 42h1M42 42h2M47 42h1M53 42h2M58 42h1M62 42h1M64 42h1M72 42h1M76 42h1M86 42h2M90 42h1M19 43h1M25 43h1M27 43h1M29 43h1M35 43h1M47 43h3M59 43h1M68 43h1M74 43h5M80 43h1M14 44h1M20 44h2M26 44h1M30 44h1M32 44h1M39 44h2M46 44h1M52 44h1M54 44h1M57 44h1M61 44h1M65 44h1M73 44h1M83 44h2M88 44h1M95 44h1M20 45h3M25 45h1M32 45h1M34 45h1M36 45h1M40 45h3M45 45h2M48 45h3M56 45h1M58 45h1M61 45h1M63 45h1M65 45h1M67 45h1M70 45h1M74 45h2M80 45h1M19 46h1M22 46h1M24 46h3M28 46h1M31 46h1M37 46h2M41 46h4M47 46h4M57 46h3M63 46h1M69 46h1M90 46h1M18 47h1M20 47h1M22 47h1M31 47h1M35 47h1M38 47h2M50 47h1M53 47h1M60 47h1M66 47h1M72 47h1M78 47h1M98 47h1M20 48h1M27 48h3M31 48h2M36 48h1M41 48h1M46 48h2M50 48h2M54 48h1M62 48h1M67 48h1M72 48h1M75 48h1M77 48h1M80 48h1M97 48h1M16 49h1M19 49h2M22 49h2M27 49h2M30 49h2M34 49h2M37 49h1M39 49h1M41 49h2M47 49h1M49 49h2M53 49h2M63 49h1M73 49h2M80 49h1M90 49h1M92 49h1M17 50h1M22 50h2M30 50h1M32 50h1M37 50h3M41 50h3M46 50h1M48 50h1M51 50h1M53 50h1M56 50h2M69 50h1M73 50h1M81 50h1M22 51h1M36 51h1M38 51h2M43 51h2M48 51h4M53 51h2M57 51h1M64 51h1M90 51h1M18 52h1M20 52h5M29 52h1M31 52h2M34 52h1M36 52h2M39 52h1M42 52h1M45 52h1M47 52h2M52 52h1M55 52h1M57 52h1M75 52h1M81 52h1M12 53h1M20 53h3M25 53h1M27 53h1M31 53h3M35 53h1M37 53h1M40 53h1M44 53h1M54 53h2M57 53h2M64 53h1M68 53h1M78 53h1M95 53h1M16 54h1M19 54h3M23 54h2M31 54h1M33 54h1M37 54h3M41 54h1M47 54h2M53 54h1M56 54h1M60 54h1M73 54h1M75 54h1M92 54h1M18 55h1M27 55h1M29 55h1M32 55h5M38 55h2M45 55h1M47 55h1M50 55h1M54 55h1M56 55h1M58 55h1M63 55h1M86 55h1M16 56h1M23 56h4M29 56h1M35 56h2M48 56h1M53 56h1M74 56h1M82 56h1M19 57h2M25 57h1M34 57h2M37 57h2M45 57h2M52 57h1M56 57h1M60 57h1M62 57h1M64 57h1M93 57h1M9 58h1M16 58h1M19 58h2M23 58h2M26 58h1M29 58h1M32 58h1M35 58h5M41 58h1M47 58h1M49 58h3M55 58h3M72 58h1M75 58h1M21 59h2M25 59h2M28 59h8M38 59h1M40 59h1M45 59h1M49 59h2M55 59h1M59 59h1M74 59h1M85 59h1M97 59h1M14 60h1M17 60h1M22 60h1M24 60h1M29 60h1M34 60h4M39 60h1M41 60h4M46 60h1M51 60h2M54 60h1M58 60h1M61 60h1M95 60h1M19 61h1M21 61h3M27 61h1M31 61h1M33 61h1M35 61h1M39 61h1M42 61h2M51 61h1M54 61h1M58 61h1M66 61h1M87 61h1M94 61h1M17 62h1M21 62h1M24 62h1M26 62h1M31 62h1M35 62h1M38 62h3M47 62h1M50 62h1M52 62h1M55 62h1M57 62h1M67 62h1M87 62h1M13 63h2M17 63h1M19 63h1M21 63h3M27 63h1M29 63h2M38 63h1M41 63h1M43 63h1M50 63h2M61 63h1M64 63h1M72 63h1M86 63h1M92 63h1M11 64h1M17 64h1M19 64h3M25 64h2M31 64h2M34 64h2M39 64h2M45 64h1M49 64h1M51 64h1M62 64h1M77 64h1M16 65h1M18 65h1M27 65h5M33 65h3M37 65h1M46 65h1M51 65h1M19 66h2M26 66h1M30 66h2M39 66h1M41 66h1M59 66h1M63 66h1M65 66h1M68 66h1M72 66h1M13 67h1M15 67h2M21 67h2M25 67h1M42 67h1M45 67h1M48 67h1M61 67h1M65 67h1M67 67h1M76 67h1M22 68h1M27 68h2M35 68h1M38 68h2M43 68h1M45 68h1M52 68h1M58 68h1M63 68h1M70 68h1M94 68h1M12 69h1M14 69h3M18 69h1M20 69h1M22 69h2M28 69h2M32 69h1M38 69h1M40 69h1M65 69h1M9 70h1M13 70h1M19 70h1M22 70h1M24 70h1M27 70h1M29 70h2M36 70h2M40 70h1M55 70h1M58 70h1M77 70h2M81 70h1M13 71h2M22 71h2M27 71h1M31 71h1M33 71h1M36 71h1M38 71h2M46 71h1M84 71h1M16 72h1M19 72h1M23 72h1M25 72h1M36 72h1M38 72h1M44 72h2M70 72h1M17 73h2M20 73h1M25 73h2M28 73h2M34 73h1M60 73h2M70 73h1M97 73h1M11 74h1M13 74h2M16 74h1M18 74h1M20 74h1M23 74h2M26 74h1M29 74h2M32 74h1M41 74h1M43 74h1M63 74h2M70 74h1M94 74h1M15 75h1M19 75h1M23 75h1M28 75h1M32 75h1M39 75h2M45 75h1M49 75h1M81 75h1M88 75h1M93 75h1M12 76h1M17 76h2M21 76h2M25 76h1M28 76h1M30 76h2M34 76h1M44 76h1M53 76h1M57 76h1M59 76h1M70 76h1M8 77h2M13 77h2M16 77h3M20 77h1M23 77h4M29 77h4M37 77h1M39 77h1M42 77h1M53 77h1M16 78h1M20 78h2M23 78h2M27 78h2M31 78h1M34 78h1M44 78h1M58 78h1M60 78h1M63 78h1M65 78h1M8 79h1M10 79h2M16 79h2M19 79h1M22 79h3M26 79h1M28 79h1M37 79h1M55 79h1M57 79h1M70 79h1M10 80h3M14 80h1M17 80h2M22 80h1M24 80h1M26 80h1M33 80h1M37 80h1M40 80h1M43 80h1M49 80h1M68 80h1M77 80h1M89 80h1M10 81h1M13 81h1M16 81h1M19 81h2M25 81h2M28 81h1M33 81h2M39 81h1M44 81h1M50 81h1M63 81h1M70 81h1M82 81h1M10 82h4M15 82h1M17 82h1M22 82h2M29 82h1M42 82h1M46 82h1M59 82h1M8 83h1M12 83h1M15 83h1M17 83h1M19 83h1M22 83h1M26 83h3M30 83h3M40 83h2M43 83h1M52 83h1M17 84h1M21 84h4M28 84h1M31 84h1M33 84h1M35 84h1M40 84h1M51 84h1M71 84h1M8 85h1M13 85h1M15 85h1M17 85h4M24 85h1M28 85h1M30 85h2M34 85h1M36 85h1M39 85h1M9 86h1M20 86h2M26 86h2M29 86h1M32 86h2M35 86h1M38 86h1M45 86h1M50 86h1M80 86h1M11 87h1M14 87h1M24 87h1M27 87h1M31 87h1M65 87h3M70 87h1M10 88h1M12 88h2M30 88h1M50 88h1M9 89h2M18 89h1M28 89h1M56 89h1M10 90h1M14 90h3M23 90h1M25 90h1M27 90h2M30 90h1M43 90h2M56 90h1M10 91h1M12 91h2M16 91h1M18 91h1M35 91h2M44 91h1M52 91h1M1 92h1M9 92h2M12 92h1M14 92h1M16 92h1M18 92h2M25 92h2M37 92h1M46 92h1M64 92h1M12 93h1M15 93h1M17 93h1M20 93h2M23 93h1M26 93h1M37 93h1M46 93h1M52 93h1M6 94h1M13 94h1M15 94h1M21 94h1M33 94h1M39 94h1M3 95h2M7 95h1M9 95h1M12 95h2M18 95h2M27 95h1M36 95h1M51 95h1M73 95h1M8 96h2M15 96h1M17 96h1M20 96h1M38 96h1M40 96h1M1 97h1M7 97h2M11 97h2M15 97h2M27 97h1M31 97h2M36 97h1M58 97h1M63 97h1M84 97h1M6 98h1M12 98h1M18 98h2M30 98h1M42 98h1M75 98h1"/><path stroke="#463cde" d="M77 0h1M82 0h1M93 0h1M95 0h1M97 0h2M96 3h1M89 4h1M93 4h1M97 4h1M84 5h1M87 5h2M91 5h1M71 6h1M84 6h1M88 6h2M93 6h1M95 6h1M60 7h1M67 7h1M75 7h1M80 7h1M90 7h1M92 7h1M95 7h2M50 8h1M68 8h1M70 8h1M72 8h1M80 8h1M82 8h1M85 8h1M96 8h3M35 9h1M54 9h1M56 9h1M59 9h1M63 9h1M66 9h3M73 9h1M78 9h1M82 9h4M88 9h1M91 9h2M58 10h1M64 10h1M68 10h1M70 10h2M75 10h1M82 10h4M90 10h1M92 10h1M95 10h1M47 11h1M55 11h1M63 11h1M69 11h1M73 11h1M76 11h1M80 11h1M82 11h1M86 11h2M90 11h1M97 11h2M53 12h1M62 12h1M68 12h2M72 12h1M75 12h1M78 12h1M80 12h2M85 12h1M37 13h1M39 13h1M50 13h1M58 13h1M62 13h1M64 13h1M73 13h1M78 13h1M81 13h1M83 13h1M85 13h2M88 13h1M90 13h1M92 13h1M94 13h1M31 14h1M34 14h1M45 14h3M61 14h1M65 14h2M69 14h1M73 14h1M79 14h2M88 14h1M94 14h1M33 15h1M45 15h1M47 15h2M60 15h1M62 15h1M64 15h1M68 15h1M70 15h2M78 15h1M88 15h1M90 15h1M32 16h1M34 16h1M41 16h2M44 16h1M51 16h1M55 16h1M58 16h1M65 16h1M71 16h1M73 16h1M76 16h1M78 16h1M85 16h2M88 16h1M91 16h1M97 16h2M35 17h1M46 17h1M48 17h1M53 17h1M58 17h1M60 17h1M62 17h1M67 17h1M69 17h1M71 17h1M73 17h1M80 17h1M82 17h1M32 18h2M41 18h1M52 18h1M68 18h2M71 18h1M79 18h1M90 18h1M25 19h1M33 19h1M36 19h1M43 19h2M46 19h2M49 19h1M54 19h1M58 19h1M62 19h1M64 19h1M71 19h1M85 19h1M27 20h1M30 20h1M32 20h1M36 20h1M42 20h2M46 20h1M48 20h1M50 20h1M52 20h1M54 20h1M56 20h1M64 20h1M66 20h1M75 20h1M77 20h1M31 21h2M45 21h1M52 21h2M55 21h1M61 21h1M64 21h1M66 21h2M76 21h1M82 21h1M92 21h2M36 22h1M39 22h1M42 22h1M45 22h1M51 22h1M54 22h2M66 22h1M73 22h1M81 22h1M26 23h2M29 23h2M34 23h1M43 23h1M45 23h1M53 23h1M55 23h1M60 23h1M64 23h1M71 23h1M85 23h1M18 24h1M24 24h1M28 24h1M30 24h1M34 24h1M38 24h2M44 24h1M49 24h1M59 24h1M75 24h1M81 24h2M90 24h1M21 25h1M25 25h1M28 25h1M35 25h2M39 25h1M43 25h4M50 25h1M55 25h1M57 25h2M62 25h1M80 25h1M89 25h1M22 26h1M26 26h1M30 26h1M32 26h2M35 26h2M41 26h1M44 26h1M46 26h1M48 26h1M50 26h3M61 26h1M64 26h1M69 26h1M83 26h1M86 26h1M91 26h1M98 26h1M14 27h1M19 27h1M36 27h1M38 27h1M45 27h1M47 27h1M54 27h1M56 27h1M64 27h1M74 27h2M22 28h1M24 28h1M27 28h1M30 28h1M32 28h1M36 28h3M40 28h1M43 28h1M46 28h2M49 28h1M56 28h2M70 28h1M17 29h1M22 29h1M26 29h3M30 29h1M32 29h1M40 29h1M43 29h5M49 29h1M51 29h1M55 29h1M60 29h1M68 29h1M97 29h1M23 30h1M30 30h1M33 30h2M36 30h1M44 30h1M49 30h1M51 30h1M54 30h1M57 30h1M76 30h1M20 31h1M27 31h1M32 31h3M42 31h1M45 31h1M52 31h1M56 31h1M62 31h1M16 32h1M31 32h1M34 32h1M36 32h1M49 32h2M54 32h1M65 32h1M74 32h1M21 33h1M24 33h1M31 33h2M34 33h1M58 33h1M62 33h3M19 34h1M23 34h1M25 34h2M28 34h1M33 34h1M35 34h1M38 34h5M52 34h2M69 34h1M16 35h1M21 35h1M28 35h1M30 35h1M33 35h1M39 35h1M47 35h2M51 35h1M53 35h1M63 35h1M25 36h1M28 36h2M37 36h1M41 36h1M48 36h1M51 36h1M53 36h1M55 36h1M83 36h1M17 37h1M22 37h1M26 37h1M31 37h1M34 37h1M39 37h1M41 37h1M48 37h1M50 37h1M54 37h1M59 37h1M20 38h1M23 38h2M26 38h2M31 38h1M33 38h2M36 38h1M39 38h1M44 38h1M50 38h1M53 38h1M69 38h1M79 38h1M17 39h1M22 39h2M28 39h2M32 39h1M34 39h1M38 39h1M42 39h1M45 39h1M49 39h1M57 39h1M16 40h1M26 40h1M28 40h1M31 40h1M42 40h1M48 40h1M13 41h2M19 41h1M24 41h2M27 41h1M29 41h2M38 41h1M47 41h2M53 41h1M19 42h1M21 42h1M26 42h2M36 42h1M44 42h2M51 42h1M15 43h3M24 43h1M26 43h1M30 43h2M38 43h2M43 43h1M16 44h1M22 44h4M27 44h1M29 44h1M31 44h1M33 44h1M36 44h3M44 44h1M50 44h1M87 44h1M92 44h1M13 45h2M19 45h1M24 45h1M30 45h1M33 45h1M35 45h1M37 45h1M43 45h1M55 45h1M57 45h1M20 46h1M27 46h1M30 46h1M32 46h4M40 46h1M15 47h2M19 47h1M23 47h1M28 47h1M30 47h1M34 47h1M41 47h2M44 47h1M16 48h3M22 48h1M30 48h1M33 48h1M44 48h1M49 48h1M52 48h1M64 48h2M24 49h2M40 49h1M44 49h1M77 49h1M14 50h1M16 50h1M26 50h4M33 50h1M65 50h1M11 51h2M17 51h1M19 51h1M21 51h1M24 51h4M40 51h1M59 51h1M16 52h1M26 52h1M50 52h1M63 52h1M84 52h1M17 53h2M30 53h1M41 53h2M47 53h1M14 54h1M17 54h1M22 54h1M26 54h2M29 54h1M32 54h1M35 54h1M59 54h1M66 54h1M94 54h1M14 55h1M17 55h1M24 55h2M7 56h1M9 56h1M12 56h1M14 56h1M19 56h2M28 56h1M31 56h1M34 56h1M38 56h1M60 56h1M68 56h1M12 57h1M14 57h1M16 57h3M21 57h1M26 57h1M28 57h1M39 57h1M43 57h1M48 57h1M17 58h2M48 58h1M84 58h1M88 58h1M10 59h2M16 59h1M18 59h2M36 59h1M69 59h1M15 60h2M20 60h2M23 60h1M32 60h1M87 60h1M15 61h1M18 61h1M20 61h1M25 61h2M30 61h1M44 61h1M84 61h1M10 62h1M13 62h4M22 62h1M29 62h1M32 62h1M36 62h1M41 62h1M51 62h1M15 63h1M18 63h1M25 63h1M31 63h1M34 63h2M14 64h2M24 64h1M27 64h2M30 64h1M9 65h1M13 65h2M23 65h2M38 65h1M72 65h1M1 66h1M10 66h1M13 66h3M18 66h1M22 66h3M24 67h1M39 67h2M73 67h1M13 68h1M16 68h1M18 68h1M23 68h1M29 68h1M33 68h1M92 68h1M11 69h1M21 69h1M33 69h1M35 69h1M85 69h1M98 69h1M7 70h1M11 70h1M16 70h1M20 70h1M45 70h1M66 70h1M7 71h1M18 71h2M21 71h1M47 71h1M64 71h1M11 72h4M17 72h1M24 72h1M27 72h1M12 73h1M23 73h1M41 73h1M50 73h1M58 73h1M10 74h1M15 74h1M17 74h1M28 74h1M34 74h1M42 74h1M69 74h1M6 75h1M10 75h1M13 75h2M21 75h1M13 76h3M19 76h2M23 76h2M11 77h1M19 77h1M21 77h1M71 77h1M6 78h3M10 78h1M12 78h1M15 78h1M19 78h1M26 78h1M30 78h1M85 78h1M14 79h1M18 79h1M5 80h1M8 80h1M16 80h1M20 80h1M32 80h1M82 80h1M92 80h1M6 81h1M9 81h1M11 81h1M14 81h2M90 81h1M8 82h1M14 82h1M19 82h1M53 82h1M71 82h1M96 82h1M10 83h2M13 83h1M33 83h1M78 83h1M6 84h1M10 84h1M13 84h1M52 84h1M1 85h1M10 85h3M14 85h1M21 85h2M77 85h1M86 85h1M2 86h1M10 86h1M12 86h2M73 86h1M98 86h1M8 87h1M10 87h1M12 87h2M16 87h1M26 87h1M3 88h1M6 88h1M8 88h1M11 88h1M15 88h1M28 88h1M6 89h2M13 89h1M35 89h1M4 90h1M6 90h1M9 90h1M11 90h2M18 90h1M1 91h1M8 91h2M73 91h1M75 91h1M7 92h1M11 92h1M36 92h1M65 92h1M95 92h1M7 93h1M9 93h3M13 93h2M24 93h1M49 93h1M78 93h1M5 94h1M8 94h1M10 94h1M47 94h1M51 94h1M93 94h1M6 95h1M8 95h1M11 95h1M14 95h1M17 95h1M5 96h2M11 96h3M44 96h1M56 96h1M2 97h1M4 97h2M10 97h1M26 97h1M1 98h1M8 98h1M15 98h1"/><path stroke="#4741e5" d="M81 0h1M83 0h1M85 0h1M87 0h1M89 0h1M94 0h1M96 0h1M90 1h1M95 1h1M97 2h2M84 3h1M88 3h2M92 3h1M70 4h1M72 4h1M76 4h1M88 4h1M90 4h1M92 4h1M94 4h2M98 4h1M65 5h2M71 5h1M74 5h1M77 5h1M82 5h1M86 5h1M89 5h1M92 5h1M94 5h2M98 5h1M58 6h1M67 6h1M77 6h3M86 6h1M90 6h2M96 6h1M48 7h1M70 7h1M72 7h1M76 7h2M81 7h1M83 7h3M91 7h1M58 8h1M61 8h1M63 8h1M67 8h1M71 8h1M77 8h3M84 8h1M86 8h2M95 8h1M43 9h1M48 9h1M50 9h1M57 9h1M60 9h2M64 9h1M69 9h1M71 9h1M74 9h1M77 9h1M95 9h1M46 10h1M55 10h1M63 10h1M69 10h1M72 10h1M79 10h1M34 11h1M52 11h1M56 11h1M60 11h3M64 11h3M72 11h1M75 11h1M78 11h1M95 11h1M35 12h1M45 12h1M57 12h4M64 12h2M74 12h1M79 12h1M90 12h1M23 13h1M40 13h1M43 13h1M49 13h1M51 13h1M53 13h1M56 13h1M59 13h2M63 13h1M67 13h1M74 13h1M82 13h1M93 13h1M36 14h1M40 14h1M42 14h1M51 14h1M53 14h1M55 14h1M57 14h1M63 14h1M77 14h1M28 15h1M31 15h1M36 15h1M39 15h1M41 15h1M46 15h1M50 15h1M52 15h2M55 15h1M58 15h1M75 15h3M83 15h1M24 16h1M29 16h1M31 16h1M33 16h1M36 16h1M39 16h2M46 16h1M52 16h1M56 16h2M59 16h2M66 16h1M69 16h2M75 16h1M18 17h1M29 17h1M37 17h5M50 17h2M57 17h1M66 17h1M75 17h1M25 18h1M27 18h3M34 18h1M38 18h1M42 18h1M44 18h2M48 18h4M58 18h1M65 18h1M28 19h1M30 19h2M41 19h2M45 19h1M55 19h1M57 19h1M60 19h1M80 19h1M26 20h1M35 20h1M39 20h1M44 20h1M47 20h1M49 20h1M51 20h1M53 20h1M74 20h1M26 21h1M28 21h1M30 21h1M33 21h1M37 21h3M42 21h2M46 21h1M49 21h3M58 21h1M65 21h1M24 22h1M32 22h1M34 22h1M37 22h1M40 22h2M44 22h1M56 22h1M60 22h1M83 22h1M19 23h1M21 23h1M23 23h1M25 23h1M32 23h1M46 23h1M51 23h1M56 23h1M25 24h1M29 24h1M31 24h1M33 24h1M36 24h1M46 24h2M54 24h1M61 24h2M67 24h1M19 25h2M22 25h3M27 25h1M30 25h1M32 25h1M41 25h1M49 25h1M77 25h1M19 26h2M23 26h3M27 26h3M34 26h1M42 26h1M53 26h1M89 26h1M27 27h1M29 27h1M40 27h1M15 28h1M17 28h1M26 28h1M31 28h1M34 28h1M39 28h1M55 28h1M14 29h3M18 29h1M34 29h1M37 29h1M19 30h1M22 30h1M24 30h4M29 30h1M31 30h1M81 30h1M88 30h1M16 31h1M21 31h1M23 31h4M29 31h1M36 31h1M60 31h1M85 31h1M98 31h1M21 32h2M24 32h1M27 32h1M35 32h1M42 32h1M69 32h1M16 33h1M26 33h1M28 33h1M33 33h1M59 33h1M18 34h1M21 34h2M24 34h1M29 34h1M55 34h1M83 34h1M87 34h1M20 35h1M22 35h2M25 35h1M38 35h1M13 36h1M15 36h1M20 36h1M30 36h1M32 36h2M35 36h2M56 36h1M18 37h1M27 37h1M30 37h1M32 37h1M43 37h1M91 37h1M12 38h1M17 38h1M19 38h1M21 38h1M25 38h1M20 39h1M24 39h1M35 39h1M52 39h1M12 40h1M14 40h1M18 40h1M21 40h1M23 40h1M33 40h1M54 40h1M69 40h1M96 40h1M18 41h1M20 41h2M23 41h1M28 41h1M32 41h1M56 41h1M90 41h1M14 42h1M16 42h2M32 42h1M55 42h1M67 42h1M80 42h1M23 43h1M28 43h1M32 43h2M95 43h1M12 44h1M15 44h1M19 44h1M35 44h1M10 45h1M17 45h1M23 45h1M28 45h1M10 46h1M16 46h1M8 47h2M11 47h1M13 47h1M17 47h1M21 47h1M26 47h1M29 47h1M37 47h1M13 48h1M15 48h1M19 48h1M23 48h3M12 49h1M14 49h2M17 49h1M58 49h1M67 49h1M15 50h1M18 50h1M21 50h1M49 50h1M55 50h1M8 51h1M13 51h2M16 51h1M20 51h1M23 51h1M28 51h3M45 51h1M80 51h1M11 52h1M19 52h1M60 52h1M70 52h1M8 53h1M11 53h1M13 53h3M49 53h1M66 53h1M71 53h1M11 54h1M13 54h1M18 54h1M58 54h1M11 55h1M13 55h1M16 55h1M23 55h1M37 55h1M68 55h1M82 55h1M92 55h1M11 56h1M15 56h1M21 56h1M37 56h1M62 56h1M89 56h1M13 57h1M23 57h1M29 57h1M55 57h1M10 58h1M46 58h1M53 58h1M12 59h3M20 59h1M24 59h1M10 60h1M12 60h2M18 60h2M64 60h2M89 60h1M9 61h1M11 61h2M16 61h2M9 62h1M11 62h2M19 62h1M25 62h1M10 63h1M12 63h1M16 63h1M80 63h1M13 64h1M16 64h1M48 64h1M75 64h1M88 64h1M12 65h1M42 65h1M12 66h1M46 66h1M71 66h1M92 66h1M12 67h1M14 67h1M18 67h1M27 67h1M1 68h1M9 68h2M12 68h1M14 68h1M83 68h1M8 69h1M17 69h1M90 69h1M12 70h1M14 70h2M52 70h1M9 71h4M15 71h1M35 71h1M90 71h1M7 72h1M9 72h1M15 72h1M41 72h1M46 72h1M62 72h1M66 72h1M91 72h1M8 73h3M14 73h1M22 73h1M40 73h1M7 74h1M98 74h1M8 75h2M26 75h2M63 75h1M8 76h1M10 76h2M16 76h1M66 76h1M4 77h1M10 77h1M12 77h1M43 77h1M9 78h1M11 78h1M13 78h2M17 78h2M25 78h1M36 78h1M55 78h1M83 78h1M6 79h1M12 79h2M15 79h1M40 79h1M6 80h1M9 80h1M28 80h1M45 80h1M61 80h1M31 81h2M86 81h1M9 82h1M88 82h1M93 82h1M9 83h1M14 83h1M25 83h1M59 83h1M84 83h1M7 84h1M9 84h1M6 85h2M9 85h1M1 86h1M6 86h2M72 86h1M2 87h2M5 87h1M9 87h1M37 87h1M52 87h1M5 88h1M9 88h1M17 88h1M4 89h1M21 89h1M31 89h1M49 89h1M55 89h1M61 89h1M2 90h1M5 90h1M17 90h1M40 90h1M67 90h1M2 91h1M7 91h1M20 91h1M90 91h1M92 91h1M96 91h2M5 92h1M8 92h1M3 93h1M80 93h1M86 93h1M4 94h1M14 94h1M53 94h1M70 94h1M1 95h1M5 95h1M30 95h1M57 95h1M1 96h1M3 96h1M7 96h1M30 97h1M62 97h1M2 98h2M5 98h1M7 98h1M9 98h1"/><path stroke="#4747eb" d="M65 0h2M73 0h1M75 0h2M78 0h1M90 0h3M75 1h1M80 1h1M83 1h1M85 1h1M92 1h1M97 1h2M66 2h1M68 2h1M71 2h2M79 2h1M82 2h1M86 2h1M88 2h1M90 2h2M94 2h3M68 3h1M90 3h1M94 3h2M97 3h2M64 4h1M74 4h2M80 4h2M87 4h1M96 4h1M72 5h2M75 5h1M78 5h1M80 5h2M49 6h1M62 6h1M69 6h2M74 6h1M80 6h3M85 6h1M87 6h1M92 6h1M94 6h1M42 7h1M57 7h1M63 7h2M68 7h1M73 7h2M78 7h1M82 7h1M87 7h1M36 8h1M42 8h1M45 8h1M49 8h1M52 8h1M57 8h1M62 8h1M69 8h1M73 8h1M75 8h1M34 9h1M53 9h1M55 9h1M62 9h1M65 9h1M80 9h1M39 10h1M43 10h1M50 10h1M52 10h1M57 10h1M60 10h1M62 10h1M81 10h1M89 10h1M36 11h3M41 11h1M46 11h1M48 11h3M53 11h2M59 11h1M67 11h1M41 12h2M47 12h3M54 12h1M66 12h1M70 12h1M76 12h1M35 13h1M38 13h1M41 13h2M45 13h1M57 13h1M61 13h1M66 13h1M68 13h1M71 13h1M75 13h1M29 14h1M39 14h1M41 14h1M43 14h2M48 14h1M50 14h1M64 14h1M83 14h2M35 15h1M38 15h1M43 15h1M54 15h1M67 15h1M69 15h1M85 15h1M23 16h1M25 16h1M30 16h1M35 16h1M43 16h1M62 16h1M89 16h1M27 17h1M30 17h2M34 17h1M56 17h1M65 17h1M70 17h1M30 18h2M35 18h3M43 18h1M46 18h1M74 18h1M23 19h1M29 19h1M34 19h2M37 19h3M56 19h1M68 19h1M86 19h1M31 20h1M34 20h1M20 21h1M22 21h2M25 21h1M41 21h1M25 22h1M28 22h2M31 22h1M33 22h1M35 22h1M43 22h1M93 22h1M16 23h1M31 23h1M42 23h1M49 23h1M86 23h1M21 24h2M26 24h2M41 24h1M48 24h1M85 24h1M14 25h1M37 25h1M40 25h1M63 25h1M15 26h1M17 26h1M21 26h1M37 26h1M40 26h1M17 27h2M22 27h3M26 27h1M28 27h1M31 27h1M33 27h1M35 27h1M59 27h1M78 27h1M89 27h1M13 28h1M18 28h2M21 28h1M28 28h2M61 28h1M97 28h1M12 29h1M19 29h3M23 29h3M17 30h2M20 30h2M66 30h1M12 31h2M19 31h1M22 31h1M31 31h1M40 31h1M59 31h1M74 31h1M10 32h1M14 32h1M17 32h4M13 33h1M17 33h1M20 33h1M27 33h1M44 33h1M60 33h1M12 34h1M14 34h3M20 34h1M30 34h1M92 34h1M13 35h1M24 35h1M86 35h1M16 36h1M18 36h1M21 36h4M20 37h2M23 37h1M25 37h1M74 37h1M97 37h1M15 38h1M9 39h1M12 39h1M14 39h1M16 39h1M18 39h1M33 39h1M83 39h1M96 39h1M8 40h1M13 40h1M15 40h1M20 40h1M39 40h1M52 40h1M15 41h1M91 41h1M12 42h1M15 42h1M35 42h1M37 42h1M69 42h1M8 43h1M13 43h1M18 43h1M20 43h1M96 43h1M11 44h1M18 44h1M7 45h1M11 45h1M16 45h1M27 45h1M38 45h1M59 45h1M79 45h1M83 45h1M13 46h1M17 46h2M21 46h1M23 46h1M12 47h1M14 47h1M40 47h1M14 48h1M21 48h1M34 48h1M61 48h1M9 49h2M9 50h1M12 50h1M19 50h1M34 50h1M7 51h1M15 51h1M13 52h3M17 52h1M95 52h1M1 53h1M10 53h1M16 53h1M19 53h1M23 53h1M62 54h1M12 55h1M20 55h1M28 55h1M80 55h1M1 56h1M6 56h1M13 56h1M17 56h1M46 56h1M15 57h1M32 57h2M59 57h1M70 57h1M76 57h1M11 58h1M13 58h1M15 58h1M22 58h1M60 58h1M68 58h1M9 59h1M15 59h1M58 59h1M75 59h1M1 60h1M8 60h2M7 61h2M53 61h1M92 61h1M96 61h1M5 62h1M8 62h1M23 62h1M56 62h1M89 62h1M8 63h2M74 63h1M7 64h2M65 64h1M10 65h1M21 65h1M49 65h1M56 65h1M58 65h1M7 66h3M51 66h1M6 67h2M9 67h1M75 67h1M79 67h1M83 67h1M7 68h1M40 68h1M48 68h1M79 68h1M85 68h1M1 69h1M9 69h2M8 70h1M10 70h1M5 71h1M8 71h1M68 71h1M77 71h1M82 71h1M10 72h1M30 72h1M40 72h1M5 73h2M11 73h1M19 73h1M32 73h1M56 73h1M86 73h1M2 74h1M68 74h1M12 75h1M44 75h1M92 75h1M5 76h1M9 76h1M81 76h1M2 77h2M49 77h1M1 78h1M4 78h1M37 78h1M86 78h1M5 79h1M7 79h1M9 79h1M1 80h1M4 80h1M23 80h1M35 80h1M63 80h1M71 80h1M1 81h2M5 81h1M8 81h1M18 81h1M56 81h1M61 81h1M3 82h1M5 82h2M68 82h1M80 82h1M2 83h1M5 83h1M7 83h1M23 83h1M44 83h1M5 84h1M12 84h1M47 84h1M62 84h3M3 86h1M8 86h1M11 86h1M14 86h1M88 86h1M1 87h1M7 87h1M74 87h1M91 87h1M1 88h2M7 88h1M25 88h1M35 88h1M44 88h1M70 88h1M2 89h1M5 89h1M8 89h1M12 89h1M17 89h1M57 89h1M3 90h1M7 90h1M48 90h1M50 90h1M72 91h1M2 92h3M6 93h1M53 93h1M55 93h1M1 94h2M7 94h1M41 94h1M2 95h1M60 95h1M4 96h1M57 96h1M3 97h1M14 97h1M37 97h1M78 97h1M92 97h1M97 97h1M4 98h1M24 98h1M87 98h1"/><path stroke="#484df0" d="M57 0h1M64 0h1M72 0h1M74 0h1M79 0h2M86 0h1M88 0h1M70 1h1M82 1h1M89 1h1M91 1h1M93 1h1M74 2h1M80 2h1M83 2h1M87 2h1M66 3h1M74 3h1M78 3h1M82 3h1M91 3h1M60 4h1M65 4h2M77 4h3M85 4h2M58 5h2M67 5h1M70 5h1M76 5h1M85 5h1M47 6h1M59 6h1M65 6h1M68 6h1M97 6h1M49 7h2M55 7h2M58 7h1M66 7h1M69 7h1M26 8h1M33 8h2M38 8h2M44 8h1M47 8h1M53 8h3M65 8h1M74 8h1M33 9h1M38 9h1M42 9h1M44 9h2M51 9h1M75 9h1M24 10h1M28 10h1M32 10h1M35 10h1M37 10h2M40 10h1M42 10h1M44 10h2M54 10h1M56 10h1M80 10h1M27 11h1M30 11h1M33 11h1M35 11h1M42 11h4M58 11h1M26 12h1M28 12h2M31 12h1M36 12h1M38 12h2M44 12h1M51 12h1M71 12h1M18 13h1M22 13h1M25 13h2M28 13h2M32 13h2M46 13h1M48 13h1M52 13h1M79 13h1M30 14h1M32 14h1M35 14h1M58 14h2M27 15h1M29 15h1M32 15h1M34 15h1M37 15h1M40 15h1M42 15h1M44 15h1M49 15h1M26 16h1M49 16h1M95 16h1M21 17h4M26 17h1M28 17h1M20 18h1M22 18h1M24 18h1M26 18h1M22 19h1M24 19h1M26 19h2M89 19h1M92 19h1M16 20h2M19 20h1M23 20h1M28 20h1M62 20h1M86 20h1M18 21h2M24 21h1M29 21h1M62 21h2M87 21h1M14 22h1M26 22h1M38 22h1M49 22h1M62 22h1M20 23h1M24 23h1M48 23h1M61 23h1M65 23h1M16 24h1M19 24h2M74 24h1M15 25h1M17 25h2M34 25h1M14 26h1M18 26h1M13 27h1M15 27h2M20 27h1M76 27h1M80 27h1M11 28h1M20 28h1M50 28h1M69 28h1M13 29h1M31 29h1M65 29h1M10 30h1M14 30h1M16 30h1M97 30h1M11 31h1M15 31h1M17 31h1M54 31h2M9 32h1M11 32h1M26 32h1M15 33h1M25 33h1M29 33h1M66 33h1M11 34h1M27 34h1M75 34h1M11 35h1M26 35h1M11 36h1M17 36h1M26 36h1M75 36h1M13 37h1M15 37h1M33 37h1M36 37h1M45 37h1M8 38h1M16 38h1M66 38h1M78 38h1M21 39h1M71 39h1M77 39h1M93 39h1M17 40h1M29 40h1M98 40h1M9 41h1M12 41h1M16 41h1M37 41h1M93 41h1M10 42h2M24 42h1M7 43h1M9 43h2M21 43h1M36 43h1M44 43h1M54 43h1M8 44h1M43 44h1M15 45h1M18 45h1M72 45h1M15 46h1M10 47h1M36 47h1M88 47h1M6 48h2M9 48h2M12 48h1M11 49h1M18 49h1M36 49h1M61 49h1M13 50h1M32 51h1M34 51h1M47 51h1M7 52h4M65 52h1M91 53h1M7 54h1M10 54h1M12 54h1M43 54h1M6 55h1M9 55h1M46 55h1M79 56h1M10 57h1M24 57h1M27 57h1M6 58h2M33 58h1M6 59h1M8 59h1M47 59h1M6 60h2M10 61h1M48 61h1M62 61h1M64 61h1M3 63h1M11 63h1M24 63h1M22 64h1M29 64h1M69 64h1M94 64h1M1 65h1M7 65h2M15 65h1M22 65h1M11 66h1M29 66h1M75 66h1M60 67h1M3 68h1M8 68h1M11 68h1M15 68h1M19 68h1M2 69h1M5 69h1M7 69h1M56 69h1M6 71h1M20 71h1M54 71h1M1 72h1M3 72h1M5 72h2M18 72h1M4 73h1M7 73h1M16 73h1M73 73h1M8 74h2M1 75h3M30 75h1M33 75h1M1 76h1M4 76h1M1 77h1M6 77h2M46 77h1M3 78h1M1 79h1M4 79h1M81 79h1M2 80h2M3 81h2M22 81h1M2 82h1M24 82h1M65 82h1M1 83h1M1 84h2M4 84h1M61 84h1M3 85h3M16 85h1M25 85h1M27 85h1M4 86h1M60 86h1M89 86h1M4 87h1M6 87h1M4 88h1M43 88h1M11 89h1M3 91h1M6 91h1M4 93h2M51 96h1M62 96h1M6 97h1M17 97h1M46 98h1"/><path stroke="#4852f4" d="M63 0h1M68 0h4M84 0h1M61 1h1M74 1h1M76 1h1M78 1h1M84 1h1M94 1h1M96 1h1M59 2h1M65 2h1M67 2h1M69 2h1M73 2h1M85 2h1M89 2h1M69 3h1M71 3h2M80 3h1M85 3h2M56 4h1M71 4h1M82 4h2M91 4h1M47 5h1M52 5h1M55 5h1M57 5h1M64 5h1M79 5h1M36 6h1M42 6h1M44 6h1M50 6h1M53 6h1M55 6h2M61 6h1M63 6h2M66 6h1M39 7h1M41 7h1M46 7h2M52 7h1M61 7h2M65 7h1M30 8h1M56 8h1M64 8h1M27 9h1M36 9h1M41 9h1M47 9h1M52 9h1M29 10h2M47 10h3M59 10h1M61 10h1M67 10h1M78 10h1M31 11h2M57 11h1M24 12h1M27 12h1M32 12h1M34 12h1M37 12h1M50 12h1M52 12h1M55 12h1M86 12h1M20 13h2M27 13h1M30 13h1M36 13h1M55 13h1M23 14h1M27 14h2M37 14h2M62 14h1M26 15h1M30 15h1M21 16h1M27 16h2M37 16h2M47 16h1M54 16h1M81 16h1M19 17h1M32 17h2M36 17h1M49 17h1M54 17h1M21 18h1M23 18h1M39 18h1M19 19h1M21 19h1M51 19h1M20 20h1M22 20h1M24 20h1M90 20h1M15 21h1M17 21h1M40 21h1M15 22h1M17 22h1M19 22h1M64 22h1M15 23h1M28 23h1M37 23h1M73 23h1M13 24h1M12 25h1M12 26h1M16 26h1M9 27h1M12 27h1M21 27h1M67 27h1M14 28h1M16 28h1M67 29h1M11 30h3M15 30h1M75 30h1M18 31h1M43 31h1M13 32h1M25 32h1M46 33h1M7 34h1M9 34h1M17 34h1M9 35h1M12 35h1M15 35h1M18 35h1M32 35h1M34 35h1M1 36h1M8 36h1M10 36h1M12 36h1M19 36h1M42 36h1M12 37h1M16 37h1M44 37h1M6 38h1M13 38h2M13 39h1M30 39h1M43 39h1M62 39h1M7 40h1M9 40h1M11 40h1M32 40h1M8 41h1M10 41h2M9 42h1M13 42h1M11 43h1M14 43h1M5 44h1M7 44h1M9 44h1M13 44h1M7 46h1M9 46h1M11 46h1M14 46h1M7 47h1M32 47h1M11 48h1M43 48h1M8 49h1M13 49h1M8 50h1M11 50h1M1 51h1M9 51h1M12 52h1M6 53h2M1 54h1M6 54h1M8 54h2M10 55h1M8 56h1M10 56h1M18 56h1M1 57h1M5 57h4M11 57h1M83 57h1M1 58h1M2 59h1M7 59h1M27 59h1M4 61h1M7 62h1M4 63h1M4 64h1M9 64h1M12 64h1M53 64h1M4 65h2M11 65h1M5 66h1M25 66h1M1 67h1M11 67h1M38 67h1M46 67h1M6 68h1M20 68h1M19 69h1M1 70h1M17 70h1M21 70h1M1 71h4M1 73h1M4 74h1M7 75h1M2 76h1M6 76h2M5 77h1M7 80h1M3 83h2M6 83h1M11 84h1M59 84h1M15 87h1M1 93h2M2 96h1"/><path stroke="#4758f8" d="M49 0h1M52 0h1M54 0h1M60 0h3M48 1h1M63 1h1M67 1h1M69 1h1M71 1h2M88 1h1M75 2h2M78 2h1M84 2h1M67 3h1M70 3h1M76 3h2M79 3h1M81 3h1M83 3h1M61 4h1M67 4h2M73 4h1M43 5h1M49 5h3M56 5h1M69 5h1M27 6h1M33 6h1M38 6h1M41 6h1M45 6h2M48 6h1M51 6h2M57 6h1M60 6h1M72 6h1M75 6h1M28 7h1M36 7h3M43 7h1M45 7h1M54 7h1M23 8h2M37 8h1M40 8h2M60 8h1M28 9h1M30 9h1M39 9h1M58 9h1M20 10h1M26 10h2M31 10h1M33 10h1M36 10h1M41 10h1M51 10h1M53 10h1M73 10h1M88 10h1M24 11h2M28 11h2M39 11h1M51 11h1M68 11h1M33 12h1M82 12h1M88 12h1M31 13h1M34 13h1M24 14h1M26 14h1M54 14h1M90 14h1M18 15h2M57 15h1M19 16h2M22 16h1M53 16h1M17 17h1M20 17h1M12 18h1M18 18h2M40 18h1M14 19h1M17 19h1M18 20h1M21 20h1M16 21h1M21 21h1M20 22h4M17 23h1M52 23h1M37 24h1M53 25h1M67 25h1M13 26h1M11 27h1M9 28h1M12 28h1M10 29h1M33 29h1M7 30h1M50 30h1M10 31h1M14 31h1M15 32h1M10 33h1M12 33h1M14 33h1M18 33h1M8 34h1M13 34h1M8 35h1M14 35h1M11 37h1M14 37h1M7 38h1M10 38h2M8 39h1M10 39h1M15 39h1M1 40h1M27 40h1M62 40h1M7 41h1M6 42h1M8 42h1M18 42h1M1 43h1M22 43h1M1 44h1M6 44h1M10 44h1M17 44h1M51 44h1M8 45h2M12 45h1M8 46h1M6 47h1M1 48h1M8 48h1M1 49h1M7 49h1M26 49h1M20 50h1M5 51h2M18 51h1M3 52h1M6 52h1M30 52h1M2 55h1M5 55h1M15 55h1M4 56h1M5 58h1M8 58h1M12 58h1M1 59h1M5 59h1M33 60h1M1 61h2M6 61h1M13 61h1M1 62h1M6 62h1M1 63h1M5 63h1M6 64h1M6 65h1M2 66h1M6 66h1M17 66h1M4 67h1M2 68h1M5 68h1M6 70h1M4 72h1M8 72h1M2 73h1M5 74h2M12 74h1M5 75h1M3 76h1M2 78h1M2 79h2M7 81h1M7 82h1M16 83h1M3 84h1M1 89h1M1 90h1M8 90h1M14 91h1"/><path stroke="#465efb" d="M36 0h1M41 0h1M44 0h1M48 0h1M56 0h1M58 0h2M67 0h1M57 1h2M64 1h1M73 1h1M79 1h1M86 1h1M50 2h1M60 2h1M63 2h2M77 2h1M81 2h1M92 2h1M54 3h2M61 3h3M65 3h1M73 3h1M75 3h1M46 4h1M54 4h1M69 4h1M84 4h1M37 5h2M40 5h1M42 5h1M46 5h1M48 5h1M54 5h1M60 5h4M23 6h1M34 6h1M39 6h1M43 6h1M54 6h1M76 6h1M29 7h2M32 7h2M40 7h1M44 7h1M28 8h1M31 8h2M43 8h1M48 8h1M59 8h1M21 9h1M25 9h1M31 9h1M40 9h1M34 10h1M66 10h1M18 11h1M20 11h1M40 11h1M20 12h1M22 12h1M46 12h1M15 13h1M19 13h1M16 14h1M22 14h1M25 14h1M20 15h2M23 15h1M25 15h1M15 16h1M48 16h1M12 17h1M15 17h2M25 17h1M15 18h3M13 19h1M16 19h1M18 19h1M20 19h1M15 20h1M25 20h1M37 20h1M10 21h4M13 22h1M16 22h1M18 22h1M9 23h2M13 23h2M22 23h1M9 24h1M15 24h1M17 24h1M10 25h1M16 25h1M9 26h3M25 27h1M10 28h1M7 29h2M28 30h1M9 31h1M12 32h1M9 33h1M11 33h1M22 33h1M10 35h1M14 36h1M1 37h1M7 37h1M9 37h1M1 38h1M9 38h1M28 38h1M10 40h1M12 43h1M6 45h1M1 46h1M4 47h2M7 50h1M10 50h1M2 51h1M10 51h1M4 52h1M5 53h1M9 53h1M15 54h1M4 55h1M2 56h1M2 57h1M9 57h1M17 59h1M3 60h2M5 61h1M14 61h1M3 62h2M7 63h1M5 64h1M10 64h1M10 67h1M4 69h1M3 70h1M5 70h1M13 73h1M3 74h1M4 75h1M1 82h1M4 82h1M2 85h1M5 86h1M4 91h2M3 94h1"/><path stroke="#4563fd" d="M37 0h1M45 0h1M47 0h1M53 0h1M47 1h1M51 1h1M62 1h1M68 1h1M77 1h1M45 2h2M52 2h1M61 2h1M50 3h1M53 3h1M60 3h1M87 3h1M93 3h1M34 4h1M45 4h1M47 4h1M49 4h2M52 4h2M55 4h1M57 4h2M62 4h1M41 5h1M68 5h1M83 5h1M25 6h1M31 6h2M37 6h1M40 6h1M24 7h1M27 7h1M35 7h1M51 7h1M16 8h1M25 8h1M27 8h1M24 9h1M22 11h1M26 11h1M14 12h2M21 12h1M25 12h1M40 12h1M43 12h1M14 13h1M17 13h1M14 14h1M17 14h3M22 15h1M17 16h1M14 18h1M11 19h1M15 19h1M12 20h2M14 21h1M11 23h2M18 23h1M41 23h1M10 24h1M23 24h1M35 24h1M9 25h1M11 25h1M10 27h1M8 28h1M11 29h1M6 31h1M8 32h1M34 34h1M6 37h1M5 39h1M7 39h1M11 39h1M1 41h1M17 41h1M1 42h1M7 42h1M5 45h1M12 46h1M3 48h1M2 49h1M4 49h1M1 50h1M4 50h1M6 50h1M3 51h2M1 52h1M1 55h1M3 55h1M5 56h1M3 58h2M14 58h1M4 59h1M5 60h1M11 60h1M2 63h1M6 63h1M2 64h2M3 66h2M4 68h1M3 69h1M4 70h1M3 73h1M6 92h1"/><path stroke="#4269fe" d="M50 0h2M55 0h1M43 1h1M60 1h1M81 1h1M44 2h1M51 2h1M55 2h1M57 2h1M62 2h1M30 3h1M36 3h1M36 4h1M48 4h1M59 4h1M27 5h1M33 5h1M36 5h1M39 5h1M45 5h1M28 6h1M25 7h2M31 7h1M34 7h1M53 7h1M15 9h1M22 9h2M37 9h1M18 10h1M23 10h1M25 10h1M19 11h1M16 12h1M19 12h1M23 12h1M30 12h1M13 13h1M16 13h1M44 13h1M12 14h2M21 14h1M33 14h1M14 15h1M11 16h1M14 16h1M18 16h1M14 17h1M8 22h1M12 22h1M14 24h1M7 26h2M8 27h1M1 28h1M9 29h1M8 30h1M8 31h1M1 32h1M7 32h1M8 33h1M19 33h1M1 34h1M10 34h1M7 35h1M7 36h1M8 37h1M3 38h1M5 38h1M3 42h1M5 43h1M4 45h1M5 46h1M1 47h1M2 48h1M2 50h1M5 50h1M4 53h1M2 54h2M7 55h1M3 57h2M3 59h1M3 61h1M2 62h1M2 65h2M5 67h1M2 70h1M1 74h1M5 78h1"/><path stroke="#3e6fff" d="M29 0h1M33 0h2M38 0h1M40 0h1M42 0h2M30 1h1M41 1h1M54 1h3M59 1h1M38 2h1M43 2h1M47 2h3M56 2h1M70 2h1M31 3h1M33 3h1M35 3h1M43 3h1M52 3h1M56 3h1M59 3h1M33 4h1M35 4h1M42 4h2M32 5h1M34 5h1M53 5h1M21 6h1M29 6h1M17 7h1M29 8h1M35 8h1M26 9h1M29 9h1M32 9h1M46 9h1M22 10h1M15 11h3M17 12h2M24 15h1M10 16h1M13 16h1M16 16h1M12 19h1M8 20h3M8 21h1M11 22h1M8 23h1M6 25h1M13 25h1M7 27h1M6 29h1M9 30h1M7 31h1M1 33h2M7 33h1M6 35h1M9 36h1M4 37h2M4 38h1M1 39h1M6 39h1M2 40h1M5 40h1M4 41h2M2 42h1M2 43h1M4 43h1M3 44h1M2 46h1M5 48h1M3 49h1M5 49h1M2 52h1M5 52h1M5 54h1M2 60h1M2 67h2M6 69h1"/><path stroke="#3875fe" d="M44 1h1M50 1h1M53 2h2M27 3h1M39 3h1M49 3h1M51 3h1M32 4h1M40 4h2M44 4h1M51 4h1M63 4h1M24 5h1M26 5h1M29 5h1M31 5h1M26 6h1M22 8h1M46 8h1M18 9h2M19 10h1M11 13h1M20 14h1M12 15h2M17 15h1M1 16h1M9 16h1M13 17h1M9 18h3M11 20h1M6 21h2M9 21h1M7 22h1M6 23h1M11 24h1M7 25h2M6 28h2M3 29h1M5 29h1M4 32h1M6 32h1M6 34h1M5 35h1M3 39h1M6 40h1M2 41h1M6 41h1M2 44h1M1 45h1M3 45h1M2 47h2M3 50h1M2 53h2M4 54h1M8 55h1M3 56h1M1 64h1M3 89h1"/><path stroke="#327cfc" d="M35 0h1M46 0h1M33 1h1M38 1h2M65 1h1M37 2h1M39 2h1M41 2h1M58 2h1M41 3h2M44 3h1M57 3h2M64 3h1M38 4h1M28 5h1M18 6h1M30 6h1M35 6h1M19 7h1M21 7h1M19 8h2M20 9h1M17 10h1M13 11h1M21 11h1M23 11h1M12 13h1M24 13h1M11 15h1M16 15h1M12 16h1M11 17h1M13 18h1M10 19h1M1 20h1M7 20h1M6 22h1M9 22h2M1 24h1M8 24h1M1 26h1M5 28h1M2 30h1M5 33h1M2 35h1M10 37h1M2 39h1M4 39h1M4 42h2M6 43h1M2 45h1M3 46h1M2 58h1M2 72h1"/><path stroke="#2f81fa" d="M25 0h1M28 0h1M31 0h2M29 1h1M31 1h1M46 1h1M49 1h1M33 2h1M45 3h2M48 3h1M39 4h1M20 5h1M22 5h1M30 5h1M15 6h1M24 6h1M23 7h1M15 8h1M13 10h1M21 10h1M15 14h1M8 17h2M6 18h1M8 18h1M8 19h1M14 20h1M1 22h1M5 22h1M2 24h1M7 24h1M1 27h2M5 27h1M2 28h1M3 32h1M5 32h1M4 33h1M6 33h1M2 34h1M4 34h2M1 35h1M4 36h1M2 37h1M4 44h1M6 49h1"/><path stroke="#2e87f7" d="M23 0h1M39 0h1M35 1h3M40 1h1M53 1h1M66 1h1M29 2h1M31 2h1M35 2h1M47 3h1M27 4h1M30 4h1M37 4h1M35 5h1M44 5h1M15 7h1M20 7h1M22 7h1M18 8h1M21 8h1M12 9h1M14 9h1M16 9h1M11 11h1M14 11h1M10 12h1M9 13h1M11 14h1M9 15h2M8 16h1M10 17h1M9 19h1M6 20h1M1 21h1M3 23h1M2 26h1M6 26h1M6 27h1M1 29h1M4 29h1M4 30h2M1 31h1M5 31h1M3 36h1M5 36h1M3 37h1M2 38h1M4 40h1M3 41h1M3 43h1M4 46h1M6 46h1M4 48h1"/><path stroke="#2d8cf3" d="M19 0h1M26 0h2M27 1h1M52 1h1M32 2h1M42 2h1M29 3h1M32 3h1M34 3h1M21 4h1M24 4h2M29 4h1M31 4h1M19 5h1M21 5h1M25 5h1M19 6h2M22 6h1M16 7h1M18 7h1M17 8h1M11 10h1M16 10h1M12 11h1M9 14h1M15 15h1M1 17h1M6 19h1M6 24h1M12 24h1M1 25h1M4 25h1M3 26h1M4 27h1M2 31h1M4 31h1M3 33h1M3 34h1M6 36h1"/><path stroke="#2b91ef" d="M22 0h1M24 0h1M20 1h1M28 1h1M42 1h1M24 2h1M26 2h1M40 2h1M22 3h1M37 3h2M26 4h1M28 4h1M14 8h1M17 9h1M8 10h1M10 10h1M15 10h1M8 12h1M6 13h1M7 14h2M6 16h2M1 18h1M7 18h1M2 21h1M1 23h1M4 24h2M2 25h1M5 26h1M4 28h1M2 29h1M1 30h1M6 30h1M2 32h1M4 35h1M2 36h1M3 40h1"/><path stroke="#2797eb" d="M18 0h1M30 0h1M19 1h1M32 1h1M27 2h2M30 2h1M34 2h1M36 2h1M40 3h1M14 5h1M14 6h1M17 6h1M12 8h1M12 10h1M9 12h1M11 12h3M10 13h1M10 14h1M7 15h2M7 17h1M1 19h1M7 19h1M5 21h1M3 25h1M3 28h1"/><path stroke="#259be8" d="M24 1h2M34 1h1M23 2h1M24 3h1M26 3h1M18 4h1M23 5h1M14 7h1M10 8h1M13 8h1M8 11h1M10 11h1M6 12h2M1 14h1M1 15h1M6 17h1M4 19h1M5 23h1M5 25h1M3 35h1"/><path stroke="#23a0e5" d="M21 0h1M22 1h2M45 1h1M23 3h1M28 3h1M22 4h2M10 7h1M12 7h1M11 9h1M9 11h1M5 17h1M2 23h1M4 26h1M3 31h1"/><path stroke="#20a5e3" d="M20 0h1M26 1h1M20 2h1M25 2h1M20 3h1M25 3h1M17 4h1M20 4h1M13 6h1M9 10h1M8 13h1M5 18h1M5 19h1M2 20h1M5 20h1M3 21h1M2 22h1M7 23h1M3 27h1M3 30h1"/><path stroke="#1ca9df" d="M16 0h2M18 1h1M21 1h1M21 2h2M15 5h2M11 6h1M16 6h1M11 7h1M13 9h1M14 10h1M1 12h1M7 13h1M4 17h1"/><path stroke="#18addb" d="M18 2h1M19 3h1M21 3h1M13 5h1M17 5h2M12 6h1M1 8h1M8 8h1M11 8h1M8 9h1M6 15h1M5 16h1M3 17h1M3 18h2M4 23h1"/><path stroke="#12b1d6" d="M14 0h1M11 5h1M10 9h1M6 10h1M5 13h1M2 18h1M3 19h1M3 20h1"/><path stroke="#08b5d0" d="M16 1h1M14 4h2M7 7h1M9 7h1M13 7h1M9 8h1M7 9h1M4 14h1M6 14h1M3 16h1M2 17h1M4 21h1M3 24h1"/><path stroke="#01b8ca" d="M16 2h1M16 3h1M10 5h1M1 13h1M5 14h1M3 22h1"/><path stroke="#02bac3" d="M15 0h1M19 2h1M16 4h1M5 11h1M4 15h2M2 19h1M4 20h1M4 22h1"/><path stroke="#0bbdbd" d="M13 0h1M15 2h1M15 3h1M10 4h1M9 6h2M6 8h1M1 9h1M7 10h1M3 13h1M4 16h1"/><path stroke="#19bfb6" d="M17 2h1M18 3h1M19 4h1M8 7h1M5 9h2M9 9h1M1 11h1M6 11h2M2 15h1M2 16h1"/><path stroke="#24c1ae" d="M17 1h1M13 4h1M5 8h1M4 13h1"/><path stroke="#2cc4a7" d="M8 0h3M14 1h1M12 3h1M17 3h1M11 4h1M12 5h1M1 10h1M2 14h1"/><path stroke="#31c69f" d="M11 0h1M11 3h1M7 8h1M2 12h1M5 12h1M3 14h1M3 15h1"/><path stroke="#37c897" d="M12 0h1M14 3h1M9 5h1M2 11h1"/><path stroke="#3fca8e" d="M15 1h1M14 2h1M13 3h1M12 4h1M5 10h1M4 12h1M2 13h1"/><path stroke="#4acb84" d="M12 1h1"/><path stroke="#57cc7a" d="M10 1h2M11 2h2M8 5h1M3 10h1M3 11h1"/><path stroke="#64cd6f" d="M1 6h1M8 6h1M6 7h1M3 9h1M4 10h1M3 12h1"/><path stroke="#72cd64" d="M13 2h1M4 11h1"/><path stroke="#81cc59" d="M13 1h1M1 7h1M2 8h1M2 9h1M2 10h1"/><path stroke="#8fcb4e" d="M9 4h1M1 5h1M7 5h1M4 8h1"/><path stroke="#9dc943" d="M10 3h1M6 5h1M6 6h1M3 7h1M5 7h1"/><path stroke="#abc739" d="M7 4h1M5 6h1"/><path stroke="#b9c431" d="M10 2h1M8 4h1"/><path stroke="#c5c22a" d="M7 0h1M9 2h1M5 5h1"/><path stroke="#d1bf27" d="M5 0h1M7 3h1M9 3h1M6 4h1M4 7h1"/><path stroke="#dcbd29" d="M9 1h1M2 6h1M7 6h1M3 8h1M4 9h1"/><path stroke="#e6bb2d" d="M8 1h1"/><path stroke="#f0ba33" d="M8 2h1"/><path stroke="#f8ba3d" d="M1 1h1M1 3h1M8 3h1M5 4h1"/><path stroke="#febe3c" d="M6 1h1M3 6h1M2 7h1"/><path stroke="#fec338" d="M1 0h1M2 5h1"/><path stroke="#fec934" d="M3 5h1M4 6h1"/><path stroke="#fccf30" d="M6 0h1M5 3h1"/><path stroke="#fad62d" d="M1 2h1M7 2h1M1 4h1"/><path stroke="#f5e327" d="M6 3h1"/><path stroke="#f5e924" d="M4 0h1M7 1h1"/><path stroke="#f6ef20" d="M3 4h1"/><path stroke="#f7f51b" d="M2 0h1M4 5h1"/><path stroke="#f9fb15" d="M3 0h1M2 1h4M2 2h5M2 3h3M2 4h1M4 4h1"/></g></g></g><rect x="1030.2" y="900.5" width="487.4" height="466.1" fill="none" stroke="#241f5c" stroke-width="2.6"/><filter id="blc3" x="-5%" y="-5%" width="110%" height="110%"><feGaussianBlur stdDeviation="1.2"/></filter><clipPath id="cpc3"><rect x="1735.2" y="900.5" width="488" height="467.8"/></clipPath><g clip-path="url(#cpc3)"><g filter="url(#blc3)"><rect x="1723.2" y="888.5" width="512" height="491.8" fill="#402ab4"/><g transform="translate(1735.2,1368.3) scale(4.8800,-4.6780) translate(0,0.5)" fill="none" stroke-width="1.08"><path stroke="#422ec0" d="M2 1h1M5 1h2M8 1h3M12 1h1M14 1h2M17 1h1M21 1h1M24 1h1M28 1h1M33 1h4M39 1h1M47 1h1M49 1h2M52 1h1M55 1h1M57 1h1M60 1h1M68 1h1M72 1h1M74 1h1M77 1h1M81 1h3M87 1h1M89 1h1M91 1h1M94 1h4M10 2h1M13 2h1M17 2h2M20 2h2M25 2h1M28 2h1M32 2h3M36 2h1M38 2h1M41 2h1M43 2h2M46 2h1M48 2h1M53 2h1M55 2h1M63 2h5M70 2h1M76 2h1M78 2h1M84 2h1M87 2h1M89 2h1M93 2h3M97 2h2M1 3h2M4 3h1M6 3h1M8 3h2M12 3h3M17 3h3M24 3h1M26 3h2M29 3h2M32 3h1M35 3h1M37 3h1M39 3h1M43 3h2M48 3h1M53 3h1M59 3h1M62 3h1M64 3h3M70 3h3M75 3h1M79 3h2M89 3h1M91 3h2M95 3h1M6 4h1M8 4h2M15 4h1M19 4h3M23 4h2M29 4h3M35 4h1M37 4h1M40 4h2M45 4h1M47 4h1M50 4h2M53 4h1M55 4h1M58 4h1M65 4h2M68 4h1M80 4h1M92 4h3M96 4h1M4 5h1M7 5h1M10 5h1M12 5h1M16 5h1M18 5h2M21 5h1M23 5h1M25 5h6M33 5h2M36 5h1M43 5h1M48 5h2M56 5h1M58 5h2M64 5h2M70 5h1M75 5h3M80 5h1M82 5h1M85 5h3M89 5h1M93 5h2M96 5h1M2 6h2M5 6h1M9 6h1M12 6h2M22 6h1M25 6h1M27 6h1M30 6h2M33 6h1M35 6h2M39 6h2M51 6h2M57 6h1M62 6h1M69 6h1M73 6h1M80 6h1M83 6h3M92 6h2M95 6h1M98 6h1M6 7h1M11 7h1M16 7h1M19 7h1M22 7h2M26 7h1M35 7h2M40 7h1M42 7h1M48 7h2M61 7h1M64 7h1M68 7h1M71 7h1M78 7h2M83 7h2M87 7h1M89 7h2M95 7h2M5 8h1M8 8h1M10 8h2M14 8h4M23 8h2M32 8h1M42 8h4M52 8h1M55 8h1M57 8h1M59 8h1M62 8h1M65 8h1M67 8h1M70 8h1M73 8h1M84 8h1M86 8h1M93 8h1M96 8h1M98 8h4M2 9h1M5 9h1M11 9h1M16 9h1M22 9h1M25 9h1M27 9h2M30 9h1M36 9h2M41 9h1M43 9h1M45 9h2M52 9h1M55 9h1M57 9h2M61 9h2M68 9h2M71 9h1M77 9h1M81 9h1M83 9h1M85 9h1M87 9h2M93 9h1M98 9h1M4 10h1M6 10h3M10 10h3M21 10h1M23 10h1M29 10h3M35 10h2M39 10h1M42 10h1M47 10h2M50 10h2M57 10h2M61 10h1M63 10h1M67 10h4M78 10h1M80 10h1M83 10h3M88 10h1M93 10h3M1 11h1M5 11h1M7 11h1M9 11h2M13 11h1M15 11h1M23 11h1M26 11h1M38 11h1M42 11h1M45 11h1M54 11h1M56 11h1M59 11h1M61 11h3M67 11h1M72 11h1M78 11h1M88 11h3M98 11h4M1 12h1M4 12h1M11 12h4M17 12h2M24 12h1M26 12h2M29 12h1M33 12h1M35 12h2M38 12h2M41 12h3M46 12h1M48 12h2M51 12h2M54 12h1M62 12h3M72 12h1M75 12h3M79 12h2M82 12h1M86 12h1M93 12h1M2 13h1M5 13h2M8 13h2M15 13h1M25 13h2M29 13h1M43 13h1M47 13h1M49 13h1M53 13h1M56 13h1M59 13h1M64 13h1M66 13h1M68 13h1M72 13h1M74 13h1M76 13h3M80 13h2M83 13h1M87 13h2M90 13h1M92 13h5M1 14h1M7 14h1M13 14h2M18 14h1M21 14h3M26 14h1M34 14h2M37 14h1M39 14h1M42 14h1M46 14h3M50 14h1M52 14h1M56 14h1M60 14h3M64 14h1M68 14h1M73 14h1M76 14h1M87 14h2M90 14h1M9 15h1M15 15h1M20 15h1M23 15h1M26 15h1M29 15h1M35 15h1M38 15h1M48 15h2M59 15h2M62 15h2M65 15h1M67 15h1M70 15h1M75 15h1M83 15h1M85 15h3M89 15h2M93 15h1M98 15h1M2 16h2M5 16h1M12 16h1M16 16h1M21 16h1M25 16h1M31 16h1M34 16h2M41 16h1M47 16h1M52 16h1M58 16h1M63 16h1M69 16h1M74 16h1M76 16h1M91 16h2M2 17h1M5 17h2M8 17h2M11 17h2M15 17h2M18 17h1M22 17h1M29 17h1M32 17h1M34 17h1M36 17h3M43 17h1M52 17h1M57 17h2M60 17h1M63 17h2M67 17h1M69 17h1M72 17h1M75 17h1M79 17h1M85 17h1M91 17h1M94 17h1M99 17h3M4 18h1M7 18h1M11 18h1M17 18h1M20 18h2M29 18h1M41 18h2M44 18h1M49 18h1M51 18h1M63 18h4M70 18h1M72 18h2M76 18h1M79 18h5M91 18h2M94 18h2M99 18h3M4 19h1M15 19h2M18 19h1M20 19h1M23 19h2M28 19h1M39 19h1M41 19h4M46 19h1M52 19h2M55 19h2M59 19h1M61 19h1M67 19h1M72 19h2M75 19h4M81 19h1M86 19h1M89 19h1M91 19h2M94 19h1M98 19h1M1 20h1M3 20h1M7 20h1M13 20h1M15 20h1M20 20h3M26 20h1M30 20h2M35 20h1M37 20h2M45 20h1M48 20h1M54 20h1M57 20h1M60 20h1M62 20h1M66 20h1M68 20h2M74 20h1M86 20h3M92 20h2M96 20h1M98 20h4M1 21h1M3 21h1M5 21h1M7 21h2M12 21h1M16 21h1M18 21h4M23 21h2M26 21h1M30 21h4M35 21h1M43 21h4M50 21h1M55 21h2M61 21h1M66 21h1M72 21h3M78 21h1M81 21h1M87 21h1M89 21h1M91 21h1M98 21h4M2 22h1M7 22h3M11 22h1M13 22h1M15 22h1M17 22h2M22 22h2M25 22h2M29 22h2M32 22h1M36 22h1M46 22h1M49 22h1M51 22h1M54 22h2M58 22h1M60 22h2M70 22h2M73 22h1M76 22h1M83 22h1M88 22h1M93 22h1M95 22h1M97 22h2M7 23h2M12 23h2M20 23h1M24 23h1M27 23h3M31 23h1M33 23h1M35 23h1M41 23h6M48 23h2M53 23h1M57 23h1M60 23h2M69 23h1M77 23h1M80 23h1M83 23h1M85 23h1M88 23h1M92 23h1M97 23h1M99 23h3M2 24h1M7 24h1M9 24h1M12 24h1M18 24h1M25 24h2M31 24h2M35 24h1M40 24h1M47 24h1M49 24h1M54 24h1M59 24h1M61 24h2M68 24h2M72 24h1M74 24h1M77 24h1M85 24h1M88 24h1M92 24h1M95 24h1M97 24h1M2 25h1M8 25h1M10 25h1M12 25h3M19 25h2M22 25h1M25 25h1M28 25h3M33 25h1M38 25h1M40 25h1M48 25h1M54 25h1M56 25h1M61 25h1M65 25h1M67 25h1M71 25h1M75 25h2M78 25h1M80 25h1M84 25h1M86 25h1M88 25h1M93 25h1M96 25h1M7 26h1M12 26h1M19 26h3M24 26h1M27 26h4M32 26h1M35 26h1M40 26h1M43 26h3M48 26h1M52 26h2M58 26h1M65 26h1M68 26h2M71 26h1M74 26h1M77 26h2M85 26h1M92 26h4M3 27h1M8 27h2M15 27h3M19 27h1M21 27h2M26 27h1M29 27h1M32 27h1M35 27h4M43 27h2M48 27h3M54 27h2M62 27h2M65 27h1M70 27h1M75 27h1M83 27h1M86 27h1M89 27h1M97 27h1M99 27h3M1 28h2M4 28h2M8 28h1M10 28h2M13 28h4M18 28h1M20 28h1M22 28h1M24 28h1M27 28h1M29 28h2M32 28h1M34 28h1M36 28h2M39 28h1M42 28h2M45 28h2M54 28h1M56 28h2M59 28h3M65 28h1M69 28h1M71 28h2M74 28h1M84 28h2M89 28h1M91 28h1M94 28h1M98 28h1M4 29h3M9 29h1M13 29h1M17 29h1M23 29h1M29 29h2M36 29h3M48 29h1M54 29h2M58 29h1M62 29h1M65 29h2M68 29h1M71 29h1M73 29h1M76 29h1M78 29h1M80 29h1M83 29h1M85 29h3M90 29h2M2 30h1M6 30h2M9 30h1M15 30h1M18 30h1M21 30h1M23 30h1M25 30h1M28 30h1M31 30h1M33 30h1M35 30h2M49 30h2M53 30h1M56 30h1M58 30h4M68 30h2M83 30h1M88 30h1M90 30h3M4 31h1M7 31h1M10 31h1M15 31h1M18 31h1M22 31h1M27 31h1M29 31h1M32 31h2M38 31h3M47 31h1M56 31h1M61 31h1M63 31h1M67 31h1M69 31h1M71 31h1M73 31h1M79 31h2M82 31h1M86 31h2M98 31h4M3 32h1M6 32h1M12 32h2M15 32h1M21 32h1M24 32h1M26 32h1M33 32h1M36 32h1M43 32h1M46 32h2M51 32h2M56 32h1M67 32h4M73 32h1M75 32h1M83 32h1M85 32h1M89 32h2M99 32h3M11 33h1M13 33h1M15 33h1M18 33h2M23 33h1M27 33h2M30 33h1M33 33h2M36 33h1M41 33h2M44 33h1M46 33h1M48 33h1M52 33h1M54 33h1M60 33h1M64 33h1M71 33h2M75 33h3M79 33h1M84 33h1M91 33h2M94 33h2M98 33h1M1 34h1M5 34h1M9 34h1M15 34h1M19 34h1M21 34h1M28 34h1M31 34h1M39 34h1M41 34h2M44 34h5M57 34h1M59 34h1M62 34h1M68 34h1M70 34h2M74 34h1M76 34h1M78 34h1M80 34h3M85 34h2M90 34h1M98 34h1M1 35h1M5 35h1M9 35h1M11 35h1M19 35h2M22 35h1M27 35h1M38 35h3M44 35h1M52 35h1M55 35h3M63 35h1M67 35h3M71 35h1M78 35h1M85 35h2M88 35h1M90 35h1M98 35h1M1 36h3M7 36h2M12 36h3M16 36h1M22 36h2M25 36h1M27 36h2M33 36h1M35 36h2M38 36h2M41 36h1M47 36h1M50 36h1M54 36h3M71 36h1M76 36h1M78 36h1M81 36h1M89 36h1M92 36h1M94 36h2M1 37h3M9 37h4M14 37h1M17 37h1M20 37h1M22 37h1M25 37h2M42 37h3M46 37h1M48 37h1M50 37h1M52 37h1M57 37h2M62 37h1M67 37h1M72 37h1M78 37h1M85 37h1M89 37h1M92 37h2M4 38h1M7 38h1M10 38h3M14 38h1M18 38h2M21 38h1M26 38h2M29 38h1M34 38h1M36 38h1M40 38h1M44 38h1M46 38h2M49 38h1M51 38h1M57 38h2M60 38h1M74 38h1M79 38h1M81 38h1M94 38h1M96 38h1M2 39h1M5 39h2M8 39h1M14 39h2M17 39h1M22 39h1M35 39h1M38 39h1M40 39h1M43 39h3M55 39h1M57 39h3M62 39h3M69 39h1M75 39h1M78 39h2M85 39h1M88 39h1M92 39h1M98 39h4M4 40h2M21 40h1M23 40h1M25 40h1M29 40h1M32 40h2M41 40h1M47 40h1M49 40h2M53 40h5M65 40h3M69 40h1M73 40h2M79 40h3M83 40h1M86 40h1M89 40h2M94 40h1M1 41h2M4 41h3M8 41h1M12 41h1M15 41h2M18 41h2M22 41h1M25 41h1M30 41h1M36 41h2M39 41h1M41 41h1M44 41h2M49 41h1M58 41h3M62 41h1M64 41h1M71 41h1M73 41h1M77 41h1M88 41h1M91 41h1M93 41h2M5 42h1M12 42h2M15 42h1M18 42h2M23 42h1M26 42h2M29 42h1M31 42h1M37 42h2M41 42h2M47 42h2M50 42h1M57 42h1M61 42h1M63 42h1M71 42h2M74 42h1M76 42h1M78 42h1M80 42h2M85 42h1M92 42h1M94 42h2M98 42h1M3 43h3M7 43h1M10 43h1M13 43h1M18 43h2M24 43h1M37 43h1M39 43h1M45 43h2M51 43h1M54 43h1M56 43h1M58 43h1M61 43h2M66 43h1M74 43h1M82 43h1M85 43h2M90 43h1M93 43h1M96 43h1M1 44h2M5 44h2M13 44h1M15 44h1M17 44h2M20 44h1M22 44h1M26 44h2M30 44h1M35 44h1M37 44h2M41 44h1M53 44h1M56 44h1M58 44h2M74 44h4M79 44h2M87 44h1M89 44h1M91 44h2M96 44h2M1 45h1M7 45h1M13 45h1M15 45h4M23 45h2M27 45h1M31 45h1M34 45h2M37 45h2M41 45h1M43 45h1M47 45h1M62 45h1M64 45h1M66 45h1M68 45h1M74 45h1M79 45h2M83 45h1M85 45h2M88 45h2M91 45h1M93 45h1M95 45h1M98 45h4M4 46h3M9 46h1M12 46h1M14 46h1M18 46h1M38 46h1M41 46h1M53 46h1M58 46h1M61 46h2M65 46h1M72 46h1M74 46h1M77 46h3M81 46h1M83 46h1M85 46h2M89 46h1M92 46h1M95 46h1M98 46h1M1 47h1M4 47h1M6 47h1M9 47h3M16 47h1M25 47h4M33 47h1M39 47h3M49 47h3M54 47h2M57 47h1M62 47h1M64 47h1M66 47h1M68 47h2M71 47h1M79 47h2M84 47h2M91 47h1M93 47h1M98 47h4M1 48h1M11 48h3M17 48h1M19 48h1M21 48h2M24 48h2M27 48h1M29 48h2M32 48h2M35 48h1M39 48h1M43 48h3M48 48h2M53 48h1M56 48h1M73 48h2M77 48h1M79 48h1M81 48h1M84 48h1M86 48h2M90 48h2M3 49h3M7 49h1M12 49h1M15 49h2M19 49h1M25 49h1M27 49h3M33 49h1M35 49h1M39 49h1M45 49h1M47 49h4M53 49h2M58 49h3M64 49h1M71 49h1M79 49h1M83 49h1M88 49h1M91 49h1M93 49h1M96 49h1M1 50h2M4 50h2M8 50h1M12 50h1M17 50h1M20 50h1M22 50h1M25 50h1M29 50h1M31 50h1M39 50h1M48 50h1M50 50h2M56 50h1M59 50h1M63 50h1M65 50h2M74 50h1M84 50h2M88 50h3M92 50h1M97 50h2M2 51h2M5 51h1M7 51h2M11 51h1M13 51h1M20 51h3M24 51h2M27 51h1M29 51h1M33 51h1M44 51h2M50 51h1M54 51h3M72 51h2M75 51h1M78 51h1M83 51h1M88 51h1M1 52h1M3 52h1M9 52h1M16 52h5M22 52h1M24 52h1M29 52h1M34 52h2M37 52h2M41 52h3M50 52h1M52 52h1M55 52h1M63 52h1M68 52h1M70 52h1M78 52h1M81 52h1M83 52h1M90 52h1M92 52h2M97 52h2M2 53h1M5 53h1M7 53h1M10 53h2M13 53h1M16 53h2M19 53h1M21 53h3M26 53h1M28 53h1M38 53h2M50 53h1M52 53h1M56 53h2M59 53h1M69 53h1M71 53h1M73 53h2M76 53h1M78 53h2M87 53h1M1 54h2M5 54h2M17 54h1M19 54h3M25 54h1M34 54h2M42 54h4M49 54h1M53 54h2M58 54h1M76 54h1M78 54h1M81 54h1M84 54h1M89 54h2M92 54h1M97 54h5M1 55h2M4 55h1M6 55h1M9 55h1M21 55h1M26 55h1M29 55h1M39 55h1M42 55h1M45 55h1M52 55h1M59 55h1M62 55h2M65 55h1M70 55h1M73 55h1M75 55h1M79 55h1M82 55h2M93 55h1M95 55h1M97 55h1M5 56h1M8 56h2M14 56h4M20 56h2M30 56h4M37 56h2M45 56h3M49 56h1M55 56h1M62 56h1M72 56h1M78 56h1M80 56h1M83 56h1M87 56h1M91 56h1M93 56h1M1 57h1M5 57h2M8 57h1M10 57h1M13 57h1M17 57h1M21 57h1M23 57h1M29 57h1M32 57h1M34 57h1M38 57h2M42 57h1M50 57h1M52 57h1M60 57h1M64 57h1M70 57h2M74 57h1M81 57h3M85 57h2M88 57h1M93 57h1M1 58h5M9 58h1M11 58h1M14 58h1M22 58h3M30 58h2M35 58h1M41 58h1M44 58h1M46 58h3M50 58h1M52 58h2M55 58h1M66 58h1M73 58h1M77 58h1M81 58h1M84 58h2M87 58h1M89 58h2M94 58h1M2 59h1M5 59h1M9 59h1M16 59h1M26 59h2M29 59h1M32 59h2M36 59h1M38 59h1M40 59h1M44 59h1M51 59h1M53 59h1M55 59h1M57 59h2M60 59h1M63 59h1M69 59h1M76 59h2M87 59h1M95 59h2M1 60h1M6 60h1M8 60h1M12 60h1M15 60h1M19 60h1M23 60h1M26 60h1M29 60h2M33 60h1M44 60h1M48 60h1M55 60h1M57 60h1M66 60h1M69 60h1M75 60h1M79 60h2M83 60h1M87 60h3M95 60h1M97 60h1M1 61h1M3 61h2M8 61h1M12 61h1M23 61h1M26 61h1M31 61h2M37 61h1M40 61h2M46 61h1M51 61h3M59 61h2M67 61h1M69 61h1M81 61h1M83 61h1M85 61h1M88 61h1M92 61h1M2 62h3M6 62h1M8 62h1M13 62h1M26 62h1M31 62h1M38 62h2M43 62h2M47 62h2M50 62h1M52 62h1M56 62h2M62 62h1M64 62h2M68 62h1M70 62h1M75 62h1M78 62h1M80 62h1M82 62h1M85 62h1M88 62h1M90 62h1M95 62h1M1 63h1M3 63h1M13 63h1M15 63h1M19 63h1M24 63h1M28 63h1M34 63h1M36 63h1M38 63h2M48 63h1M52 63h2M59 63h2M62 63h1M65 63h1M70 63h1M72 63h4M78 63h1M86 63h1M90 63h1M94 63h1M97 63h5M6 64h2M11 64h3M15 64h2M18 64h3M22 64h1M26 64h1M32 64h2M37 64h1M39 64h1M45 64h1M51 64h1M61 64h2M65 64h1M69 64h2M72 64h1M80 64h2M84 64h2M95 64h1M97 64h2M1 65h4M6 65h3M10 65h4M15 65h1M19 65h1M21 65h2M24 65h1M27 65h1M32 65h2M36 65h2M39 65h1M47 65h1M57 65h1M60 65h2M65 65h1M67 65h1M70 65h1M74 65h1M77 65h1M82 65h1M89 65h1M94 65h1M96 65h2M4 66h3M10 66h1M13 66h1M15 66h2M19 66h2M23 66h1M27 66h1M29 66h1M32 66h1M37 66h1M39 66h1M43 66h1M48 66h1M50 66h1M53 66h1M56 66h2M70 66h2M77 66h5M87 66h2M90 66h2M93 66h2M1 67h2M4 67h1M7 67h1M9 67h1M14 67h1M20 67h1M24 67h1M26 67h1M31 67h1M34 67h3M51 67h2M63 67h2M67 67h1M69 67h2M72 67h1M74 67h1M76 67h1M79 67h4M97 67h1M99 67h3M2 68h1M4 68h2M7 68h1M12 68h1M15 68h1M17 68h1M23 68h2M27 68h2M30 68h2M36 68h1M38 68h1M41 68h1M43 68h1M45 68h1M54 68h2M58 68h2M68 68h1M73 68h2M80 68h1M88 68h2M92 68h1M94 68h1M97 68h1M2 69h1M4 69h4M10 69h2M14 69h1M19 69h1M23 69h4M28 69h1M30 69h2M34 69h1M36 69h3M42 69h2M45 69h1M47 69h1M53 69h1M61 69h3M67 69h2M71 69h1M73 69h1M85 69h1M87 69h2M90 69h1M94 69h4M5 70h1M7 70h1M9 70h1M11 70h1M13 70h2M16 70h1M28 70h2M34 70h1M37 70h1M40 70h1M42 70h1M45 70h1M53 70h1M63 70h1M68 70h1M70 70h1M72 70h2M77 70h2M85 70h1M90 70h2M97 70h1M99 70h3M3 71h1M8 71h1M13 71h2M16 71h2M19 71h1M24 71h4M29 71h2M36 71h2M53 71h1M55 71h1M58 71h2M63 71h1M66 71h1M70 71h2M73 71h1M76 71h1M83 71h1M95 71h1M97 71h1M14 72h1M17 72h1M19 72h1M30 72h3M35 72h1M38 72h1M40 72h1M49 72h1M51 72h1M55 72h2M61 72h1M64 72h1M66 72h1M68 72h1M71 72h2M74 72h1M77 72h1M79 72h1M82 72h2M85 72h2M94 72h1M97 72h2M3 73h1M15 73h1M19 73h2M23 73h1M29 73h1M40 73h1M46 73h1M50 73h1M52 73h3M56 73h1M59 73h1M67 73h1M72 73h1M76 73h1M79 73h1M85 73h1M87 73h2M92 73h2M96 73h1M99 73h3M7 74h3M12 74h1M15 74h1M21 74h1M24 74h2M31 74h1M33 74h2M36 74h1M38 74h1M50 74h1M57 74h1M66 74h1M71 74h1M90 74h1M94 74h1M1 75h2M5 75h1M8 75h1M19 75h2M22 75h3M26 75h1M28 75h1M33 75h1M40 75h1M42 75h1M46 75h1M48 75h2M51 75h3M55 75h6M65 75h2M70 75h1M74 75h2M79 75h1M83 75h2M88 75h4M95 75h1M97 75h1M99 75h3M1 76h3M5 76h1M7 76h1M9 76h2M16 76h1M20 76h2M26 76h2M29 76h1M33 76h2M36 76h1M38 76h1M40 76h1M43 76h1M51 76h1M54 76h3M63 76h1M70 76h1M74 76h1M78 76h1M81 76h2M85 76h1M88 76h1M92 76h1M94 76h2M8 77h3M12 77h1M20 77h1M30 77h3M35 77h1M37 77h1M41 77h1M48 77h1M53 77h1M61 77h3M65 77h1M69 77h1M71 77h1M78 77h1M84 77h1M92 77h1M94 77h1M99 77h3M12 78h2M18 78h2M24 78h1M29 78h1M33 78h1M36 78h1M41 78h1M44 78h2M50 78h1M54 78h1M61 78h2M67 78h2M73 78h1M83 78h1M85 78h3M89 78h1M92 78h1M99 78h3M7 79h1M16 79h1M21 79h1M29 79h1M33 79h1M36 79h1M39 79h1M41 79h2M47 79h1M53 79h2M58 79h3M62 79h2M67 79h2M71 79h1M74 79h1M78 79h1M89 79h1M95 79h1M98 79h1M5 80h1M10 80h2M13 80h1M20 80h1M22 80h7M30 80h3M35 80h3M41 80h2M44 80h1M48 80h2M55 80h1M57 80h1M61 80h3M71 80h1M80 80h3M3 81h1M11 81h1M13 81h1M16 81h2M21 81h1M27 81h2M31 81h1M44 81h1M48 81h2M53 81h2M63 81h1M68 81h1M75 81h1M79 81h3M86 81h1M91 81h1M96 81h1M98 81h1M1 82h1M3 82h1M6 82h1M16 82h3M20 82h1M24 82h1M27 82h2M30 82h2M34 82h1M39 82h3M44 82h1M56 82h1M59 82h1M62 82h3M68 82h1M71 82h1M73 82h1M76 82h1M81 82h1M83 82h1M88 82h1M97 82h2M5 83h2M9 83h1M12 83h2M17 83h1M20 83h1M23 83h1M32 83h1M35 83h1M41 83h1M49 83h1M53 83h1M60 83h1M62 83h2M66 83h2M72 83h1M82 83h1M86 83h2M89 83h2M94 83h1M99 83h3M1 84h1M5 84h4M10 84h3M14 84h1M17 84h2M22 84h1M30 84h1M32 84h2M36 84h2M46 84h3M55 84h1M58 84h2M63 84h1M65 84h1M70 84h1M76 84h1M78 84h1M82 84h1M84 84h1M88 84h1M91 84h1M94 84h1M96 84h3M6 85h1M21 85h1M24 85h1M28 85h2M34 85h1M37 85h1M41 85h1M47 85h2M53 85h1M57 85h2M62 85h1M65 85h1M72 85h3M77 85h2M80 85h3M89 85h1M92 85h2M97 85h1M4 86h2M14 86h1M19 86h1M23 86h1M28 86h1M31 86h2M38 86h1M40 86h1M43 86h1M50 86h2M55 86h2M69 86h2M74 86h1M76 86h1M80 86h1M83 86h1M85 86h1M91 86h2M6 87h1M8 87h1M15 87h1M19 87h1M31 87h1M37 87h2M40 87h1M43 87h2M46 87h2M70 87h1M84 87h1M87 87h2M91 87h2M4 88h1M7 88h1M26 88h2M31 88h1M33 88h1M40 88h1M43 88h2M51 88h1M58 88h1M61 88h1M65 88h1M69 88h2M76 88h1M84 88h3M93 88h3M1 89h1M4 89h2M10 89h1M12 89h2M15 89h1M18 89h1M23 89h1M26 89h1M34 89h1M41 89h1M43 89h1M47 89h4M56 89h1M58 89h1M63 89h2M68 89h2M71 89h1M77 89h1M79 89h2M85 89h5M99 89h3M4 90h1M7 90h1M10 90h1M16 90h1M18 90h2M22 90h1M26 90h1M28 90h1M32 90h1M39 90h4M60 90h1M63 90h1M66 90h1M68 90h1M71 90h1M73 90h1M79 90h1M86 90h1M95 90h1M4 91h1M7 91h1M9 91h2M14 91h1M17 91h1M23 91h1M25 91h1M28 91h1M31 91h1M37 91h1M41 91h2M48 91h1M56 91h1M63 91h1M75 91h1M84 91h4M94 91h5M4 92h1M10 92h1M14 92h1M16 92h1M19 92h1M21 92h1M25 92h3M29 92h1M32 92h1M39 92h1M43 92h1M45 92h1M59 92h1M66 92h2M69 92h1M71 92h1M75 92h1M81 92h1M83 92h1M85 92h1M95 92h3M99 92h3M5 93h1M20 93h1M24 93h2M27 93h1M33 93h1M35 93h1M37 93h1M40 93h1M43 93h1M55 93h1M57 93h4M68 93h1M72 93h1M79 93h1M81 93h1M83 93h3M88 93h1M90 93h1M8 94h1M12 94h1M15 94h2M18 94h1M20 94h1M23 94h1M32 94h1M34 94h1M37 94h2M45 94h1M67 94h1M71 94h1M74 94h2M78 94h1M87 94h1M89 94h1M91 94h2M96 94h1M98 94h1M1 95h1M4 95h1M8 95h1M12 95h2M16 95h2M25 95h1M28 95h1M30 95h4M41 95h1M45 95h1M47 95h1M50 95h1M52 95h2M60 95h1M62 95h1M67 95h1M69 95h1M74 95h3M89 95h1M97 95h1M6 96h4M13 96h2M16 96h1M18 96h1M20 96h3M36 96h1M39 96h1M47 96h2M55 96h2M62 96h3M69 96h1M71 96h1M74 96h1M77 96h3M81 96h1M84 96h3M88 96h2M93 96h2M96 96h3M8 97h1M10 97h1M12 97h3M16 97h1M20 97h3M34 97h1M40 97h1M47 97h1M54 97h5M60 97h1M62 97h1M68 97h1M81 97h1M85 97h2M88 97h1M92 97h1M95 97h1M98 97h1M4 98h1M7 98h1M10 98h1M14 98h1M18 98h1M28 98h1M34 98h2M43 98h2M48 98h1M53 98h1M55 98h3M59 98h1M69 98h1M73 98h3M86 98h1M88 98h1M2 99h1M4 99h1M6 99h2M10 99h1M16 99h1M19 99h1M22 99h1M29 99h1M34 99h1M37 99h3M42 99h1M51 99h3M56 99h1M58 99h1M60 99h2M64 99h1M67 99h1M70 99h1M76 99h1M79 99h1M81 99h1M86 99h1M88 99h1M91 99h1M95 99h1M99 99h3"/><path stroke="#4332cb" d="M18 1h1M25 1h2M29 1h1M40 1h1M62 1h2M66 1h1M76 1h1M3 2h1M6 2h1M8 2h1M12 2h1M22 2h2M57 2h1M62 2h1M69 2h1M80 2h1M3 3h1M5 3h1M22 3h1M28 3h1M55 3h1M11 4h1M26 4h1M28 4h1M34 4h1M38 4h1M59 4h1M62 4h1M2 5h1M5 5h1M11 5h1M15 5h1M17 5h1M24 5h1M51 5h1M67 5h1M74 5h1M79 5h1M1 6h1M6 6h1M11 6h1M14 6h1M16 6h2M19 6h2M23 6h1M28 6h2M37 6h1M41 6h1M47 6h1M49 6h1M56 6h1M59 6h1M66 6h1M70 6h1M97 6h1M2 7h1M12 7h1M14 7h2M20 7h1M28 7h1M30 7h2M33 7h1M92 7h1M99 7h3M1 8h1M13 8h1M18 8h1M28 8h1M35 8h2M51 8h1M53 8h1M60 8h1M76 8h1M9 9h1M19 9h2M23 9h1M32 9h1M40 9h1M75 9h1M99 9h3M9 10h1M16 10h1M19 10h1M73 10h1M76 10h1M87 10h1M3 11h1M6 11h1M8 11h1M24 11h1M31 11h1M64 11h1M79 11h1M5 12h1M9 12h1M19 12h1M70 12h1M73 12h1M10 13h1M20 13h1M31 13h1M36 13h1M48 13h1M50 13h3M60 13h1M65 13h1M10 14h1M15 14h3M28 14h1M32 14h1M41 14h1M70 14h1M72 14h1M81 14h1M1 15h1M10 15h1M12 15h1M22 15h1M27 15h2M30 15h1M34 15h1M55 15h1M15 16h1M18 16h1M26 16h1M36 16h1M53 16h1M3 17h1M21 17h1M25 17h1M46 17h1M2 18h2M5 18h1M15 18h2M22 18h1M33 18h1M37 18h2M52 18h1M61 18h1M74 18h1M85 18h1M1 19h1M10 19h1M49 19h1M58 19h1M69 19h1M83 19h1M6 20h1M9 20h1M12 20h1M23 20h1M29 20h1M32 20h1M47 20h1M6 21h1M15 21h1M28 21h1M53 21h1M16 22h1M38 22h1M44 22h1M56 22h1M65 22h1M77 22h1M82 22h1M3 23h1M56 23h1M62 23h1M76 23h1M79 23h1M8 24h1M10 24h1M22 24h1M33 24h1M64 24h1M75 24h1M78 24h1M37 25h1M66 25h1M1 26h1M3 26h1M16 26h2M31 26h1M57 26h1M63 26h2M72 26h1M7 27h1M46 27h1M80 27h1M96 27h1M6 28h1M9 28h1M38 28h1M53 28h1M63 28h1M86 28h1M3 29h1M34 29h1M64 29h1M22 30h1M47 30h1M57 30h1M98 30h1M1 31h1M50 31h1M76 31h1M10 32h1M50 32h1M2 33h2M9 33h1M24 33h2M69 33h1M88 33h1M3 34h1M16 34h1M26 34h1M73 34h1M91 34h1M6 35h1M23 35h1M36 35h1M77 35h1M80 35h1M4 36h2M17 36h1M21 36h1M63 36h2M87 36h1M91 36h1M93 36h1M24 37h1M53 37h1M87 37h1M90 37h1M1 38h1M13 38h1M23 38h1M38 38h1M45 38h1M71 38h1M77 38h1M34 39h1M49 39h1M67 39h1M94 39h1M1 40h1M22 40h1M30 40h1M38 40h1M44 40h1M77 40h1M95 40h1M32 41h1M46 41h1M78 41h1M95 41h1M9 42h1M44 42h1M67 42h1M75 42h1M17 43h1M40 43h1M57 43h1M84 43h1M23 44h1M65 44h2M28 45h1M3 46h1M13 46h1M15 46h1M17 46h1M19 46h1M47 46h1M96 46h1M4 48h1M7 48h1M20 48h1M55 48h1M1 49h1M14 49h1M21 49h1M32 49h1M40 49h1M13 50h1M21 50h1M38 50h1M43 50h1M57 50h1M68 50h1M95 50h1M99 50h3M12 51h1M28 51h1M59 51h1M77 51h1M80 51h1M5 52h1M7 52h1M28 52h1M44 52h1M96 52h1M12 53h1M37 53h1M98 53h1M22 54h1M32 54h1M41 54h1M75 54h1M32 55h1M38 55h1M84 55h1M4 56h1M42 56h1M71 56h1M22 57h1M7 58h1M51 58h1M88 58h1M3 59h1M6 59h2M90 59h1M5 60h1M11 60h1M28 60h1M52 60h1M91 60h1M10 61h1M18 61h1M21 61h1M29 61h1M45 61h1M47 61h1M63 61h1M78 61h1M11 62h1M16 62h1M41 62h1M71 62h1M98 62h1M9 63h1M27 63h1M35 63h1M88 63h1M9 64h1M63 64h1M68 64h1M20 65h1M54 65h1M58 65h1M2 66h1M28 66h1M59 66h1M69 66h1M5 67h1M8 67h1M12 67h1M61 67h1M1 68h1M32 68h1M70 68h1M32 69h1M52 69h1M8 70h1M10 70h1M24 70h1M31 70h1M75 70h1M79 70h1M4 71h1M11 71h1M18 71h1M39 71h1M48 71h1M77 71h1M96 71h1M10 72h2M26 72h1M29 72h1M43 72h1M6 73h1M81 73h1M90 73h1M44 74h1M61 74h1M63 74h1M75 74h1M99 74h3M16 75h1M18 75h1M63 75h1M72 75h1M76 75h1M87 75h1M64 76h1M84 76h1M86 76h1M45 77h2M82 77h1M84 78h1M94 78h1M97 78h1M69 79h1M96 80h1M8 81h1M15 82h1M51 82h1M66 82h1M4 83h1M15 83h1M42 83h1M59 83h1M61 83h1M69 83h1M29 84h1M25 85h1M88 85h1M10 86h1M13 86h1M36 86h1M52 86h1M73 87h1M76 87h1M95 87h1M9 88h1M12 88h1M38 88h1M66 88h1M73 88h1M99 88h3M2 89h1M13 90h1M59 90h1M70 90h1M43 91h1M48 92h1M56 92h1M93 92h1M9 93h3M22 93h1M26 93h1M91 93h2M97 93h1M24 94h1M82 94h1M40 95h1M42 95h1M92 95h1M31 96h1M42 96h1M83 96h1M2 97h1M46 97h1M66 97h1M99 97h3M9 98h1M27 98h1M46 98h1M50 98h1M70 98h1M90 99h1M97 99h1"/><path stroke="#4537d5" d="M13 1h1M32 1h1M2 2h1M11 2h1M73 2h1M40 3h1M68 3h1M1 4h1M22 5h1M72 5h1M7 6h1M75 6h1M94 6h1M9 7h1M18 7h1M63 7h1M19 8h1M29 8h1M66 8h1M92 8h1M6 9h1M14 9h1M26 9h1M54 9h1M91 9h1M94 9h1M22 10h1M96 10h1M98 10h1M12 11h1M29 11h1M7 12h1M34 12h1M40 12h1M35 13h1M40 13h1M42 13h1M57 13h1M54 14h1M69 14h1M83 14h1M3 15h1M14 15h1M19 15h1M79 15h1M97 15h1M11 16h1M29 16h1M40 16h1M98 16h1M7 17h1M61 17h1M80 17h1M8 19h1M19 19h1M21 19h2M34 19h1M4 20h1M39 20h2M90 21h1M3 22h1M10 22h1M19 22h1M79 22h1M96 22h1M64 23h1M70 23h1M72 23h2M4 24h1M15 25h1M35 25h1M68 25h2M51 26h1M99 26h3M23 27h1M25 27h1M41 27h1M60 27h1M79 27h1M25 28h1M67 28h1M49 29h1M19 30h1M74 30h1M6 31h1M28 31h1M49 31h1M2 32h1M4 32h1M14 32h1M28 32h1M41 32h1M61 32h1M65 32h1M72 32h1M21 33h1M53 33h1M10 34h1M13 34h1M50 34h1M99 34h3M4 35h1M25 35h1M41 35h1M46 35h1M97 35h1M72 36h1M5 37h1M21 37h1M28 38h1M33 38h1M42 38h1M52 38h1M62 38h1M72 38h1M83 38h1M90 38h1M12 39h1M81 39h1M12 40h1M51 40h2M60 40h1M85 40h1M10 41h1M17 41h1M24 41h1M51 42h1M22 43h1M49 43h1M80 43h1M94 43h1M7 44h1M28 44h1M73 44h1M94 44h1M9 45h1M73 45h1M82 45h1M11 46h1M33 46h1M44 46h1M95 47h1M26 48h1M58 48h1M94 48h1M9 49h1M31 49h1M62 49h1M81 49h1M99 49h3M26 50h1M72 50h1M91 50h1M1 51h1M39 51h1M63 51h1M66 51h1M69 52h1M47 53h1M33 54h1M56 54h1M60 54h1M88 54h1M19 55h1M25 55h1M49 55h1M54 55h1M64 55h1M66 55h1M90 55h1M51 56h1M54 56h1M61 56h1M74 56h1M85 56h1M51 57h1M69 58h1M7 60h1M34 60h1M45 60h1M50 60h1M6 61h1M16 61h1M75 61h1M14 62h1M23 62h1M49 63h1M36 64h1M75 64h1M93 65h1M7 66h1M41 66h1M47 66h1M73 66h1M50 67h1M49 68h1M69 68h1M71 68h1M21 69h1M49 69h1M99 69h3M28 72h1M69 72h1M75 72h1M5 73h1M32 73h1M38 73h1M26 74h1M28 74h1M37 74h1M34 75h1M50 75h1M4 76h1M60 76h1M79 76h1M49 77h1M58 77h1M5 78h1M23 78h1M69 78h1M72 78h1M95 78h1M14 79h1M1 80h1M16 80h1M67 80h1M70 80h1M75 80h1M89 80h1M98 80h1M66 81h1M82 81h1M89 81h1M14 82h1M67 82h1M16 83h1M20 84h1M27 84h1M39 84h1M13 85h1M6 86h1M53 86h1M65 86h1M95 86h1M35 87h2M55 87h1M15 88h1M52 88h1M3 89h1M45 89h1M45 90h1M48 90h1M62 90h1M67 90h1M81 91h1M3 92h1M5 92h1M44 92h1M19 93h1M36 93h1M19 94h1M95 94h1M19 95h1M49 96h1M33 97h1M36 97h1M91 97h1M40 98h1M64 98h1M21 99h1"/><path stroke="#463cde" d="M37 1h1M70 1h1M99 1h3M4 2h1M7 2h1M51 2h1M58 2h1M61 2h1M21 3h1M84 3h1M3 4h1M12 4h1M17 4h1M81 4h1M1 5h1M39 5h1M84 5h1M91 6h1M8 7h1M17 7h1M74 7h1M30 8h1M15 9h1M24 9h1M3 10h1M14 10h1M41 10h1M91 10h1M41 11h1M75 11h1M6 12h1M22 12h1M25 12h1M45 12h1M3 13h1M63 13h1M85 13h1M94 14h1M56 15h1M42 16h1M77 16h1M89 16h1M28 17h1M30 17h1M65 17h1M76 17h1M32 18h1M47 18h1M78 18h1M5 19h1M14 19h1M26 19h1M57 19h1M62 19h1M52 20h1M59 20h1M17 21h1M37 21h1M75 21h1M84 21h1M96 21h1M10 23h1M63 25h1M98 25h1M18 26h1M33 26h1M11 27h1M76 27h1M81 27h1M31 28h1M33 28h1M51 28h1M93 28h1M11 29h1M20 29h1M52 29h1M77 29h1M98 29h1M43 30h1M70 30h1M78 30h1M96 30h1M54 31h1M60 31h1M85 31h1M91 31h1M97 31h1M9 32h1M18 32h1M79 32h1M17 33h1M31 33h1M61 33h2M2 34h1M4 34h1M25 34h1M34 34h1M65 34h1M89 34h1M70 35h1M11 36h1M73 36h1M80 36h1M27 37h1M41 37h1M5 38h1M31 38h1M41 38h1M75 38h1M82 38h1M93 38h1M10 39h1M19 39h1M93 39h1M97 39h1M24 40h1M11 41h1M75 41h1M30 42h1M43 43h1M71 43h1M91 43h1M31 44h1M36 44h1M32 45h1M49 45h1M94 45h1M34 46h1M89 47h1M2 48h1M57 48h1M68 48h1M96 48h1M57 49h1M97 49h1M42 50h1M62 51h1M82 51h1M6 53h1M40 53h1M61 53h1M8 54h1M18 55h1M23 55h1M99 55h3M3 56h1M50 56h1M77 56h1M89 57h1M94 57h1M10 58h1M18 58h1M80 58h1M96 58h1M37 59h1M65 59h1M54 60h1M62 60h1M92 60h1M1 62h1M30 63h1M34 65h1M41 65h1M49 65h1M62 65h1M12 66h1M31 66h1M67 66h1M86 67h1M22 68h1M90 68h2M82 69h1M17 70h1M52 70h1M81 70h1M7 71h1M50 71h1M82 71h1M89 71h1M73 72h1M84 72h1M91 72h1M12 73h1M48 73h1M58 73h1M47 74h1M86 74h1M92 74h1M17 75h1M92 75h1M96 75h1M18 76h1M44 76h1M59 76h1M65 76h1M71 76h1M97 76h1M2 77h1M33 77h1M40 77h1M68 77h1M74 77h1M75 78h1M30 79h2M57 79h1M43 80h1M52 80h1M6 81h1M37 81h1M85 82h1M36 83h1M58 83h1M81 83h1M3 84h1M20 85h1M52 85h1M59 85h1M85 85h1M7 86h1M45 86h1M48 86h1M56 87h1M66 87h1M17 88h1M25 88h1M42 88h1M45 88h1M75 88h1M80 88h1M6 89h1M9 89h1M21 90h1M34 90h1M83 90h1M30 91h1M77 91h1M88 91h2M33 92h1M51 92h1M14 93h1M29 93h1M64 93h1M69 93h1M29 94h1M14 95h1M25 96h2M32 96h1M70 96h1M65 97h1M89 97h1M23 99h1M68 99h1M74 99h1"/><path stroke="#4741e5" d="M29 2h1M39 2h1M88 2h1M90 2h1M23 3h1M98 3h1M32 4h1M14 5h1M18 6h1M88 6h1M1 7h1M57 7h1M21 8h1M47 8h1M50 8h1M64 8h1M72 9h1M86 9h1M72 10h1M65 11h1M28 12h1M75 13h1M51 14h1M58 14h1M6 15h1M21 15h1M95 15h1M14 16h1M57 16h1M87 16h1M51 17h1M25 18h1M55 18h1M58 18h1M88 19h1M41 20h1M49 20h1M29 21h1M12 22h1M32 23h1M47 23h1M55 24h1M70 24h1M7 25h1M61 26h1M10 29h1M59 29h1M89 29h1M8 30h1M12 30h1M79 30h1M84 32h1M93 32h1M45 33h1M80 33h1M11 34h1M30 34h1M35 34h1M8 35h1M28 35h1M42 35h1M20 36h1M91 37h1M3 39h1M28 39h1M37 39h1M54 39h1M76 39h1M40 40h1M76 41h1M46 42h1M77 42h1M93 42h1M21 43h1M44 43h1M60 44h1M88 44h1M99 44h3M3 45h1M25 45h1M16 46h1M66 46h2M92 47h1M85 48h1M10 49h1M30 49h1M61 49h1M80 49h1M94 49h1M53 50h1M58 50h1M31 51h1M41 51h1M58 51h1M86 51h1M10 52h1M15 52h1M61 52h1M18 53h1M30 53h1M94 53h1M7 54h1M67 54h1M85 54h1M7 55h1M14 55h1M78 55h1M23 56h1M34 56h1M67 56h1M28 57h1M33 57h1M53 57h1M78 57h1M97 57h2M17 58h1M65 58h1M71 58h1M76 58h1M83 59h1M91 59h1M13 60h1M61 60h1M64 60h1M11 61h1M58 61h1M73 62h1M16 63h1M25 63h1M57 63h1M4 64h1M46 64h1M59 64h1M17 65h1M69 65h1M99 65h3M24 66h1M16 67h1M38 67h1M43 67h2M66 68h1M17 69h1M51 69h1M92 70h1M8 72h1M26 73h1M30 73h1M1 74h1M43 74h1M4 75h1M68 75h1M17 76h1M16 77h1M23 77h2M43 77h1M47 78h1M22 79h1M55 79h1M45 80h1M68 80h1M19 81h1M57 81h1M43 82h1M87 82h1M21 83h2M25 83h1M28 84h1M90 84h1M86 86h1M7 87h1M54 87h1M63 87h1M65 87h1M69 87h1M2 88h1M20 88h1M56 88h1M60 88h1M20 89h1M89 90h1M93 90h1M2 91h1M38 91h1M67 91h1M64 92h1M1 93h1M3 93h1M6 94h1M40 94h1M44 94h1M55 94h1M6 95h1M78 95h2M96 95h1M34 96h1M44 96h1M82 96h1M49 97h1M52 97h1M1 98h1M36 98h1M51 98h1M95 98h1M47 99h1"/><path stroke="#4747eb" d="M11 1h1M23 1h1M24 2h1M34 3h1M45 3h1M48 4h1M32 5h1M41 5h1M46 5h1M55 5h1M63 5h1M81 5h1M48 6h1M60 7h1M12 8h1M27 8h1M38 8h1M94 8h1M76 9h1M15 10h1M17 11h1M39 11h1M74 11h1M8 12h1M31 12h1M11 13h1M38 13h1M3 14h1M32 15h1M40 15h1M23 16h1M20 17h1M39 17h1M6 18h1M3 19h1M45 19h1M14 20h1M27 20h1M14 21h1M31 22h1M18 23h1M34 23h1M41 24h1M43 25h1M90 25h1M6 26h1M37 26h1M44 28h1M2 29h1M14 31h1M34 31h1M58 31h2M11 32h1M16 33h1M22 33h1M17 34h1M91 35h1M30 36h1M13 37h1M29 37h1M20 38h1M22 38h1M29 39h1M40 41h1M83 43h1M9 44h1M11 50h1M14 51h1M6 52h1M4 53h1M18 54h1M62 58h1M93 58h1M4 59h1M10 63h1M54 69h1M20 72h1M88 78h1M15 79h1M77 79h1M5 82h1M27 83h1M43 84h1M10 88h1M1 91h1M35 91h1"/><path stroke="#484df0" d="M31 5h1M52 5h1M21 6h1M42 9h1M16 11h1M18 11h1M28 11h1M5 14h1M4 15h1M8 16h1M10 18h1M13 18h1M11 30h1M24 30h1M11 31h1M10 33h1M28 37h1M2 38h1M27 46h1M43 53h1"/><path stroke="#4852f4" d="M7 3h1M15 3h1M18 4h1M4 6h1M10 6h1M26 6h1M4 7h1M4 8h1M1 10h1M10 12h1M20 14h1M2 15h1M6 22h1M5 24h1"/><path stroke="#4758f8" d="M5 2h1M6 5h1M9 5h1M5 10h1M4 11h1M1 16h1M13 17h1"/><path stroke="#465efb" d="M2 10h1M1 25h1"/><path stroke="#4563fd" d="M3 1h1"/><path stroke="#4269fe" d="M5 4h1"/></g></g></g><rect x="1735.2" y="900.5" width="488" height="467.8" fill="none" stroke="#241f5c" stroke-width="2.6"/><rect x="2247" y="900" width="50" height="472.3" fill="url(#gpar)" stroke="#2a2868" stroke-width="1.6"/><path d="M2297 1340L2291.5 1340" stroke="#333" stroke-width="1.4" fill="none"/><path d="M2297 1261.8L2291.5 1261.8" stroke="#333" stroke-width="1.4" fill="none"/><path d="M2297 1183.6L2291.5 1183.6" stroke="#333" stroke-width="1.4" fill="none"/><path d="M2297 1105.4L2291.5 1105.4" stroke="#333" stroke-width="1.4" fill="none"/><path d="M2297 1027.2L2291.5 1027.2" stroke="#333" stroke-width="1.4" fill="none"/><path d="M2297 949L2291.5 949" stroke="#333" stroke-width="1.4" fill="none"/><g style="font-family:'Liberation Serif','Times New Roman',serif"><text transform="translate(87.5,116.5)" font-size="59" font-weight="bold" font-style="normal" fill="#222" text-anchor="start">a</text><text transform="translate(1633.5,52.5)" font-size="59" font-weight="bold" font-style="normal" fill="#222" text-anchor="start">b</text><text transform="translate(89.5,930)" font-size="59" font-weight="bold" font-style="normal" fill="#222" text-anchor="start">c</text><text transform="translate(432,80)" font-size="57.8" font-weight="normal" font-style="italic" fill="#7f7f7f" text-anchor="start">Magnet off</text><text transform="translate(1163,80)" font-size="57.8" font-weight="normal" font-style="italic" fill="#dc1f2a" text-anchor="start">Magnet on</text><text transform="translate(432,877.5)" font-size="57.8" font-weight="normal" font-style="italic" fill="#7f7f7f" text-anchor="start">Magnet off</text><text transform="translate(1163,877.5)" font-size="57.8" font-weight="normal" font-style="italic" fill="#dc1f2a" text-anchor="start">Magnet on</text><text transform="translate(1876,877.5)" font-size="57.8" font-weight="normal" font-style="italic" fill="#111" text-anchor="start">Difference</text><text transform="translate(247.5,79.7)" font-size="39" font-weight="normal" font-style="normal" fill="#262626" text-anchor="middle">500</text><text transform="translate(322,79.7)" font-size="39" font-weight="normal" font-style="normal" fill="#262626" text-anchor="middle">0</text><text transform="translate(946.5,79.7)" font-size="39" font-weight="normal" font-style="normal" fill="#262626" text-anchor="middle">500</text><text transform="translate(1032.8,79.7)" font-size="39" font-weight="normal" font-style="normal" fill="#262626" text-anchor="middle">0</text><text transform="translate(187.5,199)" font-size="39" font-weight="normal" font-style="normal" fill="#262626" text-anchor="end">0.08</text><text transform="translate(187.5,294.8)" font-size="39" font-weight="normal" font-style="normal" fill="#262626" text-anchor="end">0.06</text><text transform="translate(187.5,390.5)" font-size="39" font-weight="normal" font-style="normal" fill="#262626" text-anchor="end">0.04</text><text transform="translate(187.5,486)" font-size="39" font-weight="normal" font-style="normal" fill="#262626" text-anchor="end">0.02</text><text transform="translate(899,204.5)" font-size="39" font-weight="normal" font-style="normal" fill="#262626" text-anchor="end">0.08</text><text transform="translate(899,299.8)" font-size="39" font-weight="normal" font-style="normal" fill="#262626" text-anchor="end">0.06</text><text transform="translate(899,394.3)" font-size="39" font-weight="normal" font-style="normal" fill="#262626" text-anchor="end">0.04</text><text transform="translate(899,489)" font-size="39" font-weight="normal" font-style="normal" fill="#262626" text-anchor="end">0.02</text><text transform="translate(325,733)" font-size="39" font-weight="normal" font-style="normal" fill="#262626" text-anchor="middle">0</text><text transform="translate(423.6,733)" font-size="39" font-weight="normal" font-style="normal" fill="#262626" text-anchor="middle">0.02</text><text transform="translate(523.7,733)" font-size="39" font-weight="normal" font-style="normal" fill="#262626" text-anchor="middle">0.04</text><text transform="translate(625,733)" font-size="39" font-weight="normal" font-style="normal" fill="#262626" text-anchor="middle">0.06</text><text transform="translate(725,733)" font-size="39" font-weight="normal" font-style="normal" fill="#262626" text-anchor="middle">0.08</text><text transform="translate(1032.6,733)" font-size="39" font-weight="normal" font-style="normal" fill="#262626" text-anchor="middle">0</text><text transform="translate(1131,733)" font-size="39" font-weight="normal" font-style="normal" fill="#262626" text-anchor="middle">0.02</text><text transform="translate(1231,733)" font-size="39" font-weight="normal" font-style="normal" fill="#262626" text-anchor="middle">0.04</text><text transform="translate(1332.5,733)" font-size="39" font-weight="normal" font-style="normal" fill="#262626" text-anchor="middle">0.06</text><text transform="translate(1432.5,733)" font-size="39" font-weight="normal" font-style="normal" fill="#262626" text-anchor="middle">0.08</text><text transform="translate(822,584)" font-size="39" font-weight="normal" font-style="normal" fill="#262626" text-anchor="start">0</text><text transform="translate(826,670)" font-size="39" font-weight="normal" font-style="normal" fill="#262626" text-anchor="start">50</text><text transform="translate(1534,671.5)" font-size="39" font-weight="normal" font-style="normal" fill="#262626" text-anchor="start">50</text><text transform="translate(1588,158.5)" font-size="39" font-weight="normal" font-style="normal" fill="#262626" text-anchor="start">3</text><text transform="translate(1588,296.5)" font-size="39" font-weight="normal" font-style="normal" fill="#262626" text-anchor="start">2</text><text transform="translate(1588,433)" font-size="39" font-weight="normal" font-style="normal" fill="#262626" text-anchor="start">1</text><text transform="translate(1588,582.5)" font-size="39" font-weight="normal" font-style="normal" fill="#262626" text-anchor="start">0</text><text transform="translate(598.5,792.5)" font-size="52.5" font-weight="bold" font-style="normal" fill="#222" text-anchor="start">Interspike interval (n; sec)</text><text transform="translate(45.5,572.5) rotate(-90)" font-size="52.5" font-weight="bold" font-style="normal" fill="#222" text-anchor="start">Interspike interval</text><text transform="translate(95.5,569.5) rotate(-90)" font-size="52.5" font-weight="bold" font-style="normal" fill="#222" text-anchor="start">(n+1; sec)</text><text transform="translate(1722,113)" font-size="39" font-weight="normal" font-style="normal" fill="#262626" text-anchor="end">20</text><text transform="translate(1722,232)" font-size="39" font-weight="normal" font-style="normal" fill="#262626" text-anchor="end">15</text><text transform="translate(1722,351)" font-size="39" font-weight="normal" font-style="normal" fill="#262626" text-anchor="end">10</text><text transform="translate(1722,470)" font-size="39" font-weight="normal" font-style="normal" fill="#262626" text-anchor="end">5</text><text transform="translate(1722,589.5)" font-size="39" font-weight="normal" font-style="normal" fill="#262626" text-anchor="end">0</text><text transform="translate(1818,625.5)" font-size="39" font-weight="normal" font-style="normal" fill="#262626" text-anchor="middle">20</text><text transform="translate(1898.8,625.5)" font-size="39" font-weight="normal" font-style="normal" fill="#262626" text-anchor="middle">40</text><text transform="translate(1980,625.5)" font-size="39" font-weight="normal" font-style="normal" fill="#262626" text-anchor="middle">60</text><text transform="translate(2061.8,625.5)" font-size="39" font-weight="normal" font-style="normal" fill="#262626" text-anchor="middle">80</text><text transform="translate(2145,625.5)" font-size="39" font-weight="normal" font-style="normal" fill="#262626" text-anchor="middle">100</text><text transform="translate(1976,689)" font-size="52.5" font-weight="bold" font-style="normal" fill="#222" text-anchor="middle">Time (sec; 1 sec/bin)</text><text transform="translate(1662,332) rotate(-90)" font-size="53.0" font-weight="bold" font-style="normal" fill="#222" text-anchor="middle">Firing rate (Hz)</text><text transform="translate(1747,147.5)" font-size="56.8" font-weight="normal" font-style="italic" fill="#6e6e6e" text-anchor="start">Magnet off</text><text transform="translate(1747,202.5)" font-size="56.8" font-weight="normal" font-style="italic" fill="#dc1f2a" text-anchor="start">Magnet on</text><text transform="translate(1546.5,170) rotate(90) scale(1,1.15)" font-size="34" font-weight="bold" font-style="normal" fill="#1a1a1a" text-anchor="start" opacity="0.82">Number of spikes/bin</text><text transform="translate(313,1401)" font-size="39" font-weight="normal" font-style="normal" fill="#262626" text-anchor="end">0</text><text transform="translate(1027.5,1393.8)" font-size="39" font-weight="normal" font-style="normal" fill="#262626" text-anchor="end">0</text><text transform="translate(1734.5,1395)" font-size="39" font-weight="normal" font-style="normal" fill="#262626" text-anchor="end">0</text><text transform="translate(312,913)" font-size="39" font-weight="normal" font-style="normal" fill="#262626" text-anchor="end">0.1</text><text transform="translate(1018,913.5)" font-size="39" font-weight="normal" font-style="normal" fill="#262626" text-anchor="end">0.1</text><text transform="translate(1723.5,913.5)" font-size="39" font-weight="normal" font-style="normal" fill="#262626" text-anchor="end">0.1</text><text transform="translate(313,1151.5)" font-size="39" font-weight="normal" font-style="normal" fill="#262626" text-anchor="end">0.05</text><text transform="translate(1018.5,1151.5)" font-size="39" font-weight="normal" font-style="normal" fill="#262626" text-anchor="end">0.05</text><text transform="translate(1724.5,1151.5)" font-size="39" font-weight="normal" font-style="normal" fill="#262626" text-anchor="end">0.05</text><text transform="translate(572,1412.3)" font-size="39" font-weight="normal" font-style="normal" fill="#262626" text-anchor="middle">0.05</text><text transform="translate(1285,1412.5)" font-size="39" font-weight="normal" font-style="normal" fill="#262626" text-anchor="middle">0.05</text><text transform="translate(1994,1412.5)" font-size="39" font-weight="normal" font-style="normal" fill="#262626" text-anchor="middle">0.05</text><text transform="translate(805,1412.3)" font-size="39" font-weight="normal" font-style="normal" fill="#262626" text-anchor="middle">0.1</text><text transform="translate(1519,1412.5)" font-size="39" font-weight="normal" font-style="normal" fill="#262626" text-anchor="middle">0.1</text><text transform="translate(2228.5,1412.5)" font-size="39" font-weight="normal" font-style="normal" fill="#262626" text-anchor="middle">0.1</text><text transform="translate(288.5,1482.5)" font-size="52.5" font-weight="bold" font-style="normal" fill="#222" text-anchor="start">Interspike interval (n; sec)</text><text transform="translate(1008,1482.5)" font-size="52.5" font-weight="bold" font-style="normal" fill="#222" text-anchor="start">Interspike interval (n; sec)</text><text transform="translate(1715,1482.5)" font-size="52.5" font-weight="bold" font-style="normal" fill="#222" text-anchor="start">Interspike interval (n; sec)</text><text transform="translate(171.5,1340.5) rotate(-90)" font-size="52.5" font-weight="bold" font-style="normal" fill="#222" text-anchor="start">Interspike interval</text><text transform="translate(221.5,1338) rotate(-90)" font-size="52.5" font-weight="bold" font-style="normal" fill="#222" text-anchor="start">(n+1; sec)</text><text transform="translate(877,1340.5) rotate(-90)" font-size="52.5" font-weight="bold" font-style="normal" fill="#222" text-anchor="start">Interspike interval</text><text transform="translate(927,1338) rotate(-90)" font-size="52.5" font-weight="bold" font-style="normal" fill="#222" text-anchor="start">(n+1; sec)</text><text transform="translate(1590,1340.5) rotate(-90)" font-size="52.5" font-weight="bold" font-style="normal" fill="#222" text-anchor="start">Interspike interval</text><text transform="translate(1640,1338) rotate(-90)" font-size="52.5" font-weight="bold" font-style="normal" fill="#222" text-anchor="start">(n+1; sec)</text><text transform="translate(2310,961)" font-size="39" font-weight="normal" font-style="normal" fill="#262626" text-anchor="start">10</text><text transform="translate(2310,1041)" font-size="39" font-weight="normal" font-style="normal" fill="#262626" text-anchor="start">8</text><text transform="translate(2310,1120.5)" font-size="39" font-weight="normal" font-style="normal" fill="#262626" text-anchor="start">6</text><text transform="translate(2310,1198)" font-size="39" font-weight="normal" font-style="normal" fill="#262626" text-anchor="start">4</text><text transform="translate(2310,1277)" font-size="39" font-weight="normal" font-style="normal" fill="#262626" text-anchor="start">2</text><text transform="translate(2310,1354)" font-size="39" font-weight="normal" font-style="normal" fill="#262626" text-anchor="start">0</text><text transform="translate(2240.5,887)" font-size="39" font-weight="normal" font-style="normal" fill="#262626" text-anchor="start">×10</text><text transform="translate(2298.5,867.5) scale(1.18,1)" font-size="34.5" font-weight="normal" font-style="normal" fill="#262626" text-anchor="start">-4</text><text transform="translate(2260.5,934.5) rotate(90) scale(1,1.12)" font-size="29.6" font-weight="bold" font-style="normal" fill="#222" text-anchor="start" opacity="0.85">Number of spikes/bin (Normal.)</text></g></svg></body></html>
